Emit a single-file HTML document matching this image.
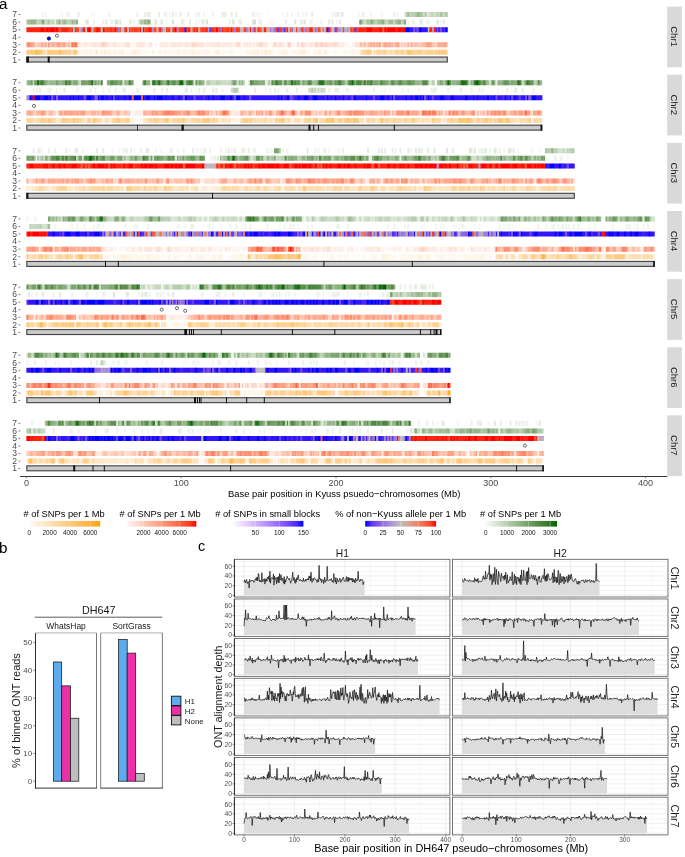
<!DOCTYPE html><html><head><meta charset="utf-8"><style>html,body{margin:0;padding:0;background:#fff;overflow:hidden;width:685px;height:857px;}svg{display:block;will-change:transform;}</style></head><body>
<svg width="685" height="857" viewBox="0 0 685 857" font-family='"Liberation Sans", sans-serif'>
<rect width="685" height="857" fill="#fff"/>
<defs>
<linearGradient id="gO"><stop offset="0.0" stop-color="#fffbf6"/><stop offset="0.1" stop-color="#fff2e1"/><stop offset="0.2" stop-color="#ffeacb"/><stop offset="0.3" stop-color="#ffe1b6"/><stop offset="0.4" stop-color="#ffd8a1"/><stop offset="0.5" stop-color="#ffcf8c"/><stop offset="0.6" stop-color="#ffc777"/><stop offset="0.7" stop-color="#ffbe61"/><stop offset="0.8" stop-color="#ffb64a"/><stop offset="0.9" stop-color="#ffad30"/><stop offset="1.0" stop-color="#ffa500"/></linearGradient>
<linearGradient id="gR"><stop offset="0.0" stop-color="#fff9f7"/><stop offset="0.1" stop-color="#ffe7de"/><stop offset="0.2" stop-color="#ffd4c5"/><stop offset="0.3" stop-color="#ffc1ad"/><stop offset="0.4" stop-color="#ffae95"/><stop offset="0.5" stop-color="#ff9b7e"/><stop offset="0.6" stop-color="#ff8767"/><stop offset="0.7" stop-color="#ff7150"/><stop offset="0.8" stop-color="#ff5939"/><stop offset="0.9" stop-color="#ff3d21"/><stop offset="1.0" stop-color="#ff0000"/></linearGradient>
<linearGradient id="gB"><stop offset="0.0" stop-color="#fcfaff"/><stop offset="0.1" stop-color="#efe3ff"/><stop offset="0.2" stop-color="#e1ccff"/><stop offset="0.3" stop-color="#d2b6ff"/><stop offset="0.4" stop-color="#c29fff"/><stop offset="0.5" stop-color="#b189ff"/><stop offset="0.6" stop-color="#9e73ff"/><stop offset="0.7" stop-color="#895cff"/><stop offset="0.8" stop-color="#7044ff"/><stop offset="0.9" stop-color="#4f2aff"/><stop offset="1.0" stop-color="#0000ff"/></linearGradient>
<linearGradient id="gD"><stop offset="0.0" stop-color="#0000ff"/><stop offset="0.1" stop-color="#6139f3"/><stop offset="0.2" stop-color="#855de7"/><stop offset="0.3" stop-color="#9e7eda"/><stop offset="0.4" stop-color="#b09ecd"/><stop offset="0.5" stop-color="#bebebe"/><stop offset="0.6" stop-color="#d7a699"/><stop offset="0.7" stop-color="#e78d76"/><stop offset="0.8" stop-color="#f37053"/><stop offset="0.9" stop-color="#fa4d2f"/><stop offset="1.0" stop-color="#ff0000"/></linearGradient>
<linearGradient id="gG"><stop offset="0.0" stop-color="#fafcfa"/><stop offset="0.1" stop-color="#e3ece0"/><stop offset="0.2" stop-color="#ccdcc6"/><stop offset="0.3" stop-color="#b6cdad"/><stop offset="0.4" stop-color="#9fbe95"/><stop offset="0.5" stop-color="#89ae7d"/><stop offset="0.6" stop-color="#739f66"/><stop offset="0.7" stop-color="#5c904e"/><stop offset="0.8" stop-color="#458137"/><stop offset="0.9" stop-color="#2b731f"/><stop offset="1.0" stop-color="#006400"/></linearGradient>
</defs>
<text x="23.5" y="517.4" font-size="9.3" fill="#000"># of SNPs per 1 Mb</text>
<rect x="29.2" y="520.9" width="71.00" height="5.7" fill="url(#gO)"/>
<line x1="49.6" x2="49.6" y1="520.9" y2="526.6" stroke="#fff" stroke-opacity="0.55" stroke-width="0.5"/>
<line x1="70.0" x2="70.0" y1="520.9" y2="526.6" stroke="#fff" stroke-opacity="0.55" stroke-width="0.5"/>
<line x1="90.3" x2="90.3" y1="520.9" y2="526.6" stroke="#fff" stroke-opacity="0.55" stroke-width="0.5"/>
<text x="29.2" y="534.6" font-size="6.4" text-anchor="middle" fill="#111">0</text>
<text x="49.6" y="534.6" font-size="6.4" text-anchor="middle" fill="#111">2000</text>
<text x="70.0" y="534.6" font-size="6.4" text-anchor="middle" fill="#111">4000</text>
<text x="90.3" y="534.6" font-size="6.4" text-anchor="middle" fill="#111">6000</text>
<text x="119.5" y="517.4" font-size="9.3" fill="#000"># of SNPs per 1 Mb</text>
<rect x="126.1" y="520.9" width="70.20" height="5.7" fill="url(#gR)"/>
<line x1="143.5" x2="143.5" y1="520.9" y2="526.6" stroke="#fff" stroke-opacity="0.55" stroke-width="0.5"/>
<line x1="161.6" x2="161.6" y1="520.9" y2="526.6" stroke="#fff" stroke-opacity="0.55" stroke-width="0.5"/>
<line x1="179.7" x2="179.7" y1="520.9" y2="526.6" stroke="#fff" stroke-opacity="0.55" stroke-width="0.5"/>
<text x="143.5" y="534.6" font-size="6.4" text-anchor="middle" fill="#111">2000</text>
<text x="161.6" y="534.6" font-size="6.4" text-anchor="middle" fill="#111">4000</text>
<text x="179.7" y="534.6" font-size="6.4" text-anchor="middle" fill="#111">6000</text>
<text x="215.2" y="517.4" font-size="9.3" fill="#000"># of SNPs in small blocks</text>
<rect x="233.2" y="520.9" width="70.20" height="5.7" fill="url(#gB)"/>
<line x1="255.4" x2="255.4" y1="520.9" y2="526.6" stroke="#fff" stroke-opacity="0.55" stroke-width="0.5"/>
<line x1="279.3" x2="279.3" y1="520.9" y2="526.6" stroke="#fff" stroke-opacity="0.55" stroke-width="0.5"/>
<text x="255.4" y="534.6" font-size="6.4" text-anchor="middle" fill="#111">50</text>
<text x="279.3" y="534.6" font-size="6.4" text-anchor="middle" fill="#111">100</text>
<text x="303.4" y="534.6" font-size="6.4" text-anchor="middle" fill="#111">150</text>
<text x="335.2" y="517.4" font-size="9.3" fill="#000">% of non−Kyuss allele per 1 Mb</text>
<rect x="365.2" y="520.9" width="70.90" height="5.7" fill="url(#gD)"/>
<line x1="383.0" x2="383.0" y1="520.9" y2="526.6" stroke="#fff" stroke-opacity="0.55" stroke-width="0.5"/>
<line x1="400.6" x2="400.6" y1="520.9" y2="526.6" stroke="#fff" stroke-opacity="0.55" stroke-width="0.5"/>
<line x1="418.3" x2="418.3" y1="520.9" y2="526.6" stroke="#fff" stroke-opacity="0.55" stroke-width="0.5"/>
<text x="365.2" y="534.6" font-size="6.4" text-anchor="middle" fill="#111">0</text>
<text x="383.0" y="534.6" font-size="6.4" text-anchor="middle" fill="#111">25</text>
<text x="400.6" y="534.6" font-size="6.4" text-anchor="middle" fill="#111">50</text>
<text x="418.3" y="534.6" font-size="6.4" text-anchor="middle" fill="#111">75</text>
<text x="436.1" y="534.6" font-size="6.4" text-anchor="middle" fill="#111">100</text>
<text x="480.0" y="517.4" font-size="9.3" fill="#000"># of SNPs per 1 Mb</text>
<rect x="485.8" y="520.9" width="71.20" height="5.7" fill="url(#gG)"/>
<line x1="507.0" x2="507.0" y1="520.9" y2="526.6" stroke="#fff" stroke-opacity="0.55" stroke-width="0.5"/>
<line x1="528.5" x2="528.5" y1="520.9" y2="526.6" stroke="#fff" stroke-opacity="0.55" stroke-width="0.5"/>
<line x1="550.0" x2="550.0" y1="520.9" y2="526.6" stroke="#fff" stroke-opacity="0.55" stroke-width="0.5"/>
<text x="485.8" y="534.6" font-size="6.4" text-anchor="middle" fill="#111">0</text>
<text x="507.0" y="534.6" font-size="6.4" text-anchor="middle" fill="#111">1000</text>
<text x="528.5" y="534.6" font-size="6.4" text-anchor="middle" fill="#111">2000</text>
<text x="550.0" y="534.6" font-size="6.4" text-anchor="middle" fill="#111">3000</text>
<g id="pa">
<text x="-1" y="8.7" font-size="15.2" fill="#000">a</text>
<rect x="667.2" y="6.60" width="14.7" height="60.7" fill="#d9d9d9"/>
<text transform="translate(671.1 36.55) rotate(90)" font-size="9.5" text-anchor="middle" fill="#1a1a1a">Chr1</text>
<text x="17" y="62.70" font-size="8.6" text-anchor="end" fill="#4d4d4d">1</text>
<line x1="18.4" x2="20.4" y1="59.90" y2="59.90" stroke="#333" stroke-width="0.6"/>
<text x="17" y="55.14" font-size="8.6" text-anchor="end" fill="#4d4d4d">2</text>
<line x1="18.4" x2="20.4" y1="52.34" y2="52.34" stroke="#333" stroke-width="0.6"/>
<text x="17" y="47.58" font-size="8.6" text-anchor="end" fill="#4d4d4d">3</text>
<line x1="18.4" x2="20.4" y1="44.78" y2="44.78" stroke="#333" stroke-width="0.6"/>
<text x="17" y="40.02" font-size="8.6" text-anchor="end" fill="#4d4d4d">4</text>
<line x1="18.4" x2="20.4" y1="37.22" y2="37.22" stroke="#333" stroke-width="0.6"/>
<text x="17" y="32.46" font-size="8.6" text-anchor="end" fill="#4d4d4d">5</text>
<line x1="18.4" x2="20.4" y1="29.66" y2="29.66" stroke="#333" stroke-width="0.6"/>
<text x="17" y="24.90" font-size="8.6" text-anchor="end" fill="#4d4d4d">6</text>
<line x1="18.4" x2="20.4" y1="22.10" y2="22.10" stroke="#333" stroke-width="0.6"/>
<text x="17" y="17.34" font-size="8.6" text-anchor="end" fill="#4d4d4d">7</text>
<line x1="18.4" x2="20.4" y1="14.54" y2="14.54" stroke="#333" stroke-width="0.6"/>
<g transform="translate(26.4 14.54) scale(1.548 1)" stroke-width="5.0"><path stroke="#f3f7f2" d="M10 0h1.3M12 0h1.3M22 0h1.3M27 0h1.3M42 0h1.3M77 0h1.3M92 0h1.3M96 0h1.3M109 0h2.3M114 0h1.3M148 0h1.3M150 0h1.3M165 0h1.3M171 0h1.3M178 0h1.3M197 0h1.3M214 0h1.3M222 0h1.3M229 0h1.3"/><path stroke="#f9fbf8" d="M23 0h1.3M44 0h1.3M90 0h1.3M98 0h1.3M156 0h1.3M236 0h1.3"/><path stroke="#edf3eb" d="M26 0h1.3M53 0h1.3M71 0h1.3M76 0h1.3M111 0h1.3M120 0h1.3M126 0h1.3M168 0h1.3M175 0h1.3M180 0h1.3M199 0h2.3M204 0h1.3M237 0h1.3M239 0h1.3M272 0h0.158"/><path stroke="#e7efe4" d="M33 0h1.3M78 0h2.3M85 0h1.3M89 0h1.3M94 0h1.3M99 0h1.3M104 0h1.3M127 0h2.3M132 0h1.3M135 0h1.3M146 0h1.3M184 0h1.3M201 0h1.3M203 0h1.3M217 0h1.3M244 0h1.3"/><path stroke="#b9cfb1" d="M245 0h1.3M247 0h1.3M268 0h1.3M270 0h1.3"/><path stroke="#a2c098" d="M246 0h1.3M255 0h1.3M257 0h1.3M267 0h1.3"/><path stroke="#c5d7be" d="M248 0h1.3M261 0h1.3M266 0h1.3M269 0h1.3"/><path stroke="#b3cbab" d="M249 0h1.3"/><path stroke="#bfd3b7" d="M250 0h1.3M262 0h1.3M264 0h2.3"/><path stroke="#aec7a4" d="M251 0h1.3M271 0h1.158"/><path stroke="#9dbc92" d="M252 0h1.3"/><path stroke="#97b88c" d="M253 0h1.3"/><path stroke="#a8c39e" d="M254 0h1.3"/><path stroke="#d0dfca" d="M256 0h1.3"/><path stroke="#cadbc4" d="M258 0h1.3M260 0h1.3"/><path stroke="#dce7d7" d="M259 0h1.3"/><path stroke="#d6e3d1" d="M263 0h1.3"/></g>
<g transform="translate(26.4 22.10) scale(1.548 1)" stroke-width="5.0"><path stroke="#aec7a4" d="M0 0h1.3M19 0h2.3M30 0h2.3M73 0h2.3M224 0h1.3M226 0h1.3M243 0h1.3"/><path stroke="#a2c098" d="M1 0h1.3M220 0h1.3M228 0h1.3M234 0h3.3"/><path stroke="#9dbc92" d="M2 0h1.3M4 0h1.3M14 0h1.3M79 0h1.3"/><path stroke="#97b88c" d="M3 0h1.3M24 0h1.3M29 0h1.3M216 0h1.3M223 0h1.3M229 0h1.3M239 0h1.3M241 0h1.3"/><path stroke="#8bb07f" d="M5 0h1.3M21 0h1.3M222 0h1.3M230 0h1.3"/><path stroke="#b3cbab" d="M6 0h1.3M11 0h1.3M28 0h1.3M75 0h1.3M219 0h1.3M221 0h1.3M231 0h1.3M233 0h1.3"/><path stroke="#c5d7be" d="M7 0h1.3M26 0h1.3M237 0h1.3"/><path stroke="#b9cfb1" d="M8 0h2.3M13 0h1.3M217 0h1.3"/><path stroke="#80a873" d="M10 0h1.3M78 0h1.3"/><path stroke="#cadbc4" d="M12 0h1.3M22 0h1.3M232 0h1.3"/><path stroke="#d6e3d1" d="M15 0h1.3M57 0h1.3M83 0h1.3M94 0h1.3M116 0h1.3M133 0h1.3M146 0h2.3M179 0h1.3"/><path stroke="#bfd3b7" d="M16 0h2.3M27 0h1.3M225 0h1.3M242 0h1.3"/><path stroke="#e2ebde" d="M18 0h1.3M38 0h1.3M51 0h1.3M105 0h1.3M113 0h1.3M150 0h1.3M195 0h1.3M197 0h1.3M202 0h1.3M254 0h1.3M269 0h1.3"/><path stroke="#a8c39e" d="M23 0h1.3M25 0h1.3M77 0h1.3M227 0h1.3M238 0h1.3"/><path stroke="#91b486" d="M32 0h1.3M76 0h1.3M240 0h1.3"/><path stroke="#dce7d7" d="M39 0h1.3M60 0h1.3M72 0h1.3M87 0h1.3M100 0h1.3M173 0h1.3M177 0h1.3M265 0h1.3"/><path stroke="#edf3eb" d="M43 0h1.3M49 0h1.3M54 0h2.3M66 0h1.3M69 0h1.3M86 0h1.3M101 0h1.3M131 0h1.3M151 0h1.3M183 0h1.3M190 0h1.3M249 0h2.3M259 0h1.3"/><path stroke="#d0dfca" d="M58 0h1.3M218 0h1.3"/><path stroke="#e7efe4" d="M67 0h1.3M114 0h1.3M137 0h2.3M167 0h1.3M255 0h1.3"/><path stroke="#f3f7f2" d="M82 0h1.3M90 0h1.3M109 0h1.3M111 0h1.3M157 0h1.3M159 0h1.3M176 0h1.3M184 0h1.3M200 0h1.3M246 0h1.3M258 0h1.3M267 0h1.3"/><path stroke="#7aa46d" d="M215 0h1.3"/><path stroke="#86ac79" d="M244 0h1.3"/></g>
<g transform="translate(26.4 44.78) scale(1.548 1)" stroke-width="5.0"><path stroke="#ff9475" d="M0 0h1.3M12 0h1.3M259 0h1.3"/><path stroke="#ff8969" d="M1 0h1.3"/><path stroke="#ff9e81" d="M2 0h1.3M231 0h1.3M234 0h1.3M260 0h1.3M270 0h1.3"/><path stroke="#ffa387" d="M3 0h1.3M24 0h1.3M27 0h1.3M239 0h1.3M248 0h1.3M258 0h1.3M266 0h1.3"/><path stroke="#ffa88d" d="M4 0h1.3M9 0h1.3M17 0h1.3M21 0h1.3M232 0h1.3M238 0h1.3M240 0h1.3M261 0h1.3M269 0h1.3"/><path stroke="#ffbca6" d="M5 0h1.3M18 0h1.3M215 0h1.3M227 0h1.3M235 0h1.3M255 0h2.3M263 0h1.3"/><path stroke="#ffded2" d="M6 0h1.3M47 0h1.3M51 0h2.3M56 0h1.3M73 0h1.3M95 0h1.3M106 0h1.3M108 0h1.3M113 0h1.3M137 0h1.3M144 0h1.3M151 0h2.3M163 0h1.3M168 0h1.3M177 0h1.3M188 0h1.3M194 0h1.3M199 0h1.3M241 0h1.3M264 0h1.3"/><path stroke="#ffc1ac" d="M7 0h1.3M223 0h1.3M244 0h1.3M249 0h1.3M251 0h2.3"/><path stroke="#ffc6b2" d="M8 0h1.3M11 0h1.3M25 0h2.3M49 0h1.3M216 0h1.3M225 0h1.3M250 0h1.3M254 0h1.3M262 0h1.3"/><path stroke="#ffb299" d="M10 0h1.3M19 0h1.3M22 0h1.3M233 0h1.3M257 0h1.3M265 0h1.3"/><path stroke="#ffd4c5" d="M13 0h1.3M28 0h1.3M50 0h1.3M65 0h1.3M107 0h1.3M150 0h1.3M170 0h1.3M178 0h1.3M187 0h1.3M198 0h1.3M243 0h1.3M247 0h1.3"/><path stroke="#ff8e6f" d="M14 0h1.3"/><path stroke="#ffcfbf" d="M15 0h1.3M169 0h1.3M217 0h1.3M242 0h1.3"/><path stroke="#ffad93" d="M16 0h1.3M23 0h1.3M222 0h1.3M224 0h1.3M226 0h1.3M236 0h1.3M267 0h2.3"/><path stroke="#ff997b" d="M20 0h1.3M30 0h1.3M228 0h1.3"/><path stroke="#ff7958" d="M29 0h1.3"/><path stroke="#ff6d4c" d="M31 0h1.3"/><path stroke="#ff8464" d="M32 0h1.3"/><path stroke="#ffe2d8" d="M33 0h2.3M43 0h2.3M57 0h1.3M75 0h1.3M80 0h1.3M90 0h1.3M93 0h1.3M99 0h1.3M102 0h1.3M104 0h1.3M110 0h3.3M123 0h2.3M135 0h1.3M140 0h1.3M142 0h1.3M148 0h1.3M161 0h1.3M164 0h1.3M180 0h1.3M184 0h1.3M189 0h1.3M191 0h1.3M195 0h3.3M200 0h2.3M212 0h2.3M219 0h1.3"/><path stroke="#fff5f2" d="M35 0h1.3M62 0h1.3M68 0h1.3M70 0h1.3M83 0h1.3M91 0h1.3M115 0h1.3M129 0h1.3M145 0h1.3M157 0h2.3M171 0h2.3M176 0h1.3M185 0h1.3M202 0h1.3M205 0h3.3"/><path stroke="#fff1eb" d="M36 0h1.3M53 0h2.3M58 0h1.3M60 0h2.3M101 0h1.3M105 0h1.3M133 0h1.3M147 0h1.3M181 0h2.3M210 0h2.3M272 0h0.158"/><path stroke="#ffe7de" d="M37 0h2.3M42 0h1.3M45 0h1.3M63 0h2.3M66 0h1.3M71 0h2.3M79 0h1.3M88 0h1.3M94 0h1.3M97 0h2.3M103 0h1.3M118 0h1.3M120 0h3.3M126 0h1.3M128 0h1.3M130 0h1.3M149 0h1.3M153 0h2.3M159 0h1.3M162 0h1.3M165 0h1.3M179 0h1.3M183 0h1.3M214 0h1.3M229 0h1.3"/><path stroke="#ffece5" d="M39 0h3.3M46 0h1.3M55 0h1.3M59 0h1.3M74 0h1.3M76 0h1.3M78 0h1.3M86 0h2.3M89 0h1.3M92 0h1.3M96 0h1.3M100 0h1.3M114 0h1.3M116 0h2.3M119 0h1.3M125 0h1.3M127 0h1.3M131 0h2.3M134 0h1.3M138 0h1.3M141 0h1.3M143 0h1.3M146 0h1.3M155 0h1.3M166 0h1.3M174 0h1.3M203 0h2.3"/><path stroke="#ffd9cb" d="M48 0h1.3M109 0h1.3M136 0h1.3M160 0h1.3M175 0h1.3M186 0h1.3M192 0h2.3M245 0h1.3"/><path stroke="#fffaf8" d="M67 0h1.3M69 0h1.3M77 0h1.3M84 0h1.3M139 0h1.3M167 0h1.3M173 0h1.3"/><path stroke="#ffcab8" d="M190 0h1.3M220 0h1.3M237 0h1.3M253 0h1.3"/><path stroke="#ffb7a0" d="M218 0h1.3M221 0h1.3M230 0h1.3M246 0h1.3M271 0h1.158"/></g>
<g transform="translate(26.4 52.34) scale(1.548 1)" stroke-width="5.0"><path stroke="#ffca80" d="M0 0h1.3M8 0h1.3M20 0h1.3M22 0h2.3M30 0h3.3M222 0h1.3M248 0h1.3M253 0h1.3M269 0h2.3"/><path stroke="#ffc87b" d="M1 0h1.3M220 0h1.3M268 0h1.3"/><path stroke="#ffd191" d="M2 0h1.3M4 0h1.3M13 0h1.3M15 0h1.3M17 0h1.3M217 0h1.3M238 0h1.3M242 0h1.3M258 0h2.3M267 0h1.3M271 0h1.158"/><path stroke="#ffc46f" d="M3 0h1.3M27 0h1.3"/><path stroke="#ffc675" d="M5 0h1.3M14 0h1.3M16 0h1.3M247 0h1.3M266 0h1.3"/><path stroke="#ffb64c" d="M6 0h1.3"/><path stroke="#ffbf64" d="M7 0h1.3M9 0h1.3M21 0h1.3"/><path stroke="#ffd69c" d="M10 0h1.3M26 0h1.3M28 0h1.3M218 0h1.3M227 0h1.3M251 0h1.3M255 0h1.3M262 0h1.3M265 0h1.3"/><path stroke="#ffdaa7" d="M11 0h1.3M224 0h1.3"/><path stroke="#ffe6c2" d="M12 0h1.3M215 0h1.3"/><path stroke="#ffcd86" d="M18 0h2.3M221 0h1.3M231 0h1.3"/><path stroke="#ffd396" d="M24 0h1.3M228 0h1.3M230 0h1.3M243 0h1.3M245 0h1.3M250 0h1.3M252 0h1.3M257 0h1.3"/><path stroke="#ffcf8b" d="M25 0h1.3M219 0h1.3M226 0h1.3M239 0h1.3M249 0h1.3M254 0h1.3M260 0h2.3M264 0h1.3"/><path stroke="#ffdfb1" d="M29 0h1.3M236 0h1.3M244 0h1.3"/><path stroke="#fff6e9" d="M33 0h2.3M36 0h2.3M53 0h3.3M64 0h1.3M66 0h1.3M88 0h3.3M102 0h1.3M110 0h1.3M112 0h1.3M115 0h2.3M124 0h1.3M126 0h2.3M131 0h1.3M143 0h3.3M151 0h1.3M164 0h1.3M176 0h1.3M182 0h1.3M199 0h1.3M211 0h2.3"/><path stroke="#fff8ee" d="M35 0h1.3M42 0h2.3M67 0h1.3M75 0h3.3M85 0h1.3M92 0h3.3M96 0h1.3M99 0h1.3M104 0h2.3M121 0h1.3M128 0h1.3M130 0h1.3M133 0h1.3M141 0h1.3M158 0h2.3M168 0h1.3M170 0h1.3M172 0h1.3M174 0h2.3M187 0h1.3M191 0h1.3M194 0h1.3M204 0h4.3"/><path stroke="#fff3e3" d="M38 0h2.3M44 0h1.3M52 0h1.3M57 0h1.3M59 0h1.3M61 0h1.3M71 0h3.3M86 0h1.3M97 0h1.3M101 0h1.3M106 0h1.3M108 0h2.3M111 0h1.3M114 0h1.3M117 0h1.3M132 0h1.3M142 0h1.3M148 0h1.3M152 0h2.3M155 0h1.3M163 0h1.3M166 0h1.3M173 0h1.3M185 0h2.3M188 0h1.3M192 0h1.3M209 0h2.3"/><path stroke="#fff1de" d="M41 0h1.3M56 0h1.3M60 0h1.3M68 0h1.3M70 0h1.3M81 0h1.3M98 0h1.3M122 0h1.3M146 0h2.3M156 0h1.3M165 0h1.3M167 0h1.3"/><path stroke="#ffe8c7" d="M45 0h1.3"/><path stroke="#fffaf4" d="M46 0h1.3M51 0h1.3M74 0h1.3M79 0h1.3M82 0h1.3M84 0h1.3M91 0h1.3M95 0h1.3M100 0h1.3M103 0h1.3M120 0h1.3M129 0h1.3M136 0h3.3M140 0h1.3M150 0h1.3M161 0h1.3M171 0h1.3M180 0h1.3M184 0h1.3M197 0h2.3M200 0h2.3M203 0h1.3M208 0h1.3M213 0h2.3M272 0h0.158"/><path stroke="#fffdf9" d="M47 0h1.3M49 0h1.3M63 0h1.3M87 0h1.3M119 0h1.3M134 0h2.3M190 0h1.3"/><path stroke="#ffefd8" d="M48 0h1.3M62 0h1.3M107 0h1.3M123 0h1.3M149 0h1.3M157 0h1.3M177 0h2.3M189 0h1.3M193 0h1.3M223 0h1.3"/><path stroke="#ffecd2" d="M50 0h1.3M69 0h1.3M179 0h1.3"/><path stroke="#ffeacd" d="M154 0h1.3"/><path stroke="#ffe1b7" d="M216 0h1.3M225 0h1.3M233 0h2.3M237 0h1.3"/><path stroke="#ffdcac" d="M229 0h1.3M232 0h1.3M256 0h1.3"/><path stroke="#ffd8a1" d="M235 0h1.3M240 0h2.3M263 0h1.3"/><path stroke="#ffc26a" d="M246 0h1.3"/></g>
<g transform="translate(26.4 29.66) scale(1.548 1)" stroke-width="5.0"><path stroke="#fe240f" d="M0 0h9.3M11 0h2.3M14 0h1.3M18 0h1.3M20 0h1.3M22 0h5.3M29 0h1.3M31 0h1.3M36 0h2.3M41 0h1.3M46 0h2.3M54 0h1.3M64 0h1.3M80 0h1.3M86 0h1.3M90 0h1.3M95 0h1.3M100 0h1.3M104 0h2.3M110 0h1.3M119 0h2.3M123 0h1.3M126 0h1.3M149 0h1.3M153 0h2.3M161 0h1.3M168 0h1.3M174 0h1.3M183 0h2.3M204 0h1.3M214 0h6.3M223 0h5.3M229 0h1.3M232 0h1.3M238 0h2.3M242 0h1.3M260 0h2.3M263 0h1.3"/><path stroke="#ff0000" d="M9 0h2.3M13 0h1.3M15 0h3.3M19 0h1.3M39 0h2.3M45 0h1.3M49 0h1.3M57 0h1.3M73 0h1.3M75 0h1.3M79 0h1.3M96 0h1.3M116 0h1.3M122 0h1.3M132 0h1.3M144 0h1.3M147 0h1.3M220 0h3.3M228 0h1.3M231 0h1.3M233 0h5.3M240 0h2.3M243 0h2.3"/><path stroke="#f95738" d="M21 0h1.3M151 0h1.3M191 0h1.3M210 0h1.3M230 0h1.3"/><path stroke="#fd351c" d="M27 0h1.3M44 0h1.3M50 0h1.3M52 0h1.3M56 0h1.3M63 0h1.3M69 0h1.3M77 0h2.3M94 0h1.3M99 0h1.3M101 0h1.3M103 0h1.3M108 0h1.3M113 0h1.3M129 0h2.3M135 0h2.3M163 0h2.3M178 0h1.3M195 0h1.3M200 0h1.3M209 0h1.3M265 0h1.3"/><path stroke="#fc4226" d="M28 0h1.3M53 0h1.3M55 0h1.3M58 0h1.3M60 0h1.3M66 0h1.3M68 0h1.3M70 0h2.3M82 0h1.3M85 0h1.3M91 0h2.3M98 0h1.3M107 0h1.3M109 0h1.3M112 0h1.3M114 0h2.3M121 0h1.3M124 0h1.3M128 0h1.3M137 0h1.3M140 0h2.3M177 0h1.3M182 0h1.3M189 0h1.3M193 0h1.3M196 0h1.3M211 0h1.3"/><path stroke="#bebebe" d="M30 0h1.3M38 0h1.3M48 0h1.3M89 0h1.3M158 0h1.3M172 0h2.3M190 0h1.3M192 0h1.3M197 0h1.3M203 0h1.3M206 0h1.3"/><path stroke="#fa4d2f" d="M32 0h2.3M43 0h1.3M51 0h1.3M67 0h1.3M72 0h1.3M76 0h1.3M83 0h1.3M127 0h1.3M131 0h1.3M133 0h1.3M150 0h1.3M167 0h1.3M170 0h1.3M180 0h1.3M186 0h1.3M188 0h1.3M213 0h1.3"/><path stroke="#bbb6c2" d="M34 0h1.3M62 0h1.3M65 0h1.3M74 0h1.3M93 0h1.3M138 0h1.3M145 0h1.3M152 0h1.3M169 0h1.3"/><path stroke="#a78ed4" d="M35 0h1.3M81 0h1.3M159 0h1.3M181 0h1.3M187 0h1.3M202 0h1.3M207 0h1.3"/><path stroke="#ccb2ac" d="M42 0h1.3M139 0h1.3M175 0h1.3M208 0h1.3M259 0h1.3"/><path stroke="#9876de" d="M59 0h1.3M87 0h1.3M157 0h1.3M160 0h1.3M165 0h1.3M171 0h1.3"/><path stroke="#c5b8b5" d="M61 0h1.3M198 0h1.3"/><path stroke="#d1aca2" d="M84 0h1.3M88 0h1.3M106 0h1.3M111 0h1.3M143 0h1.3M148 0h1.3M155 0h1.3"/><path stroke="#a386d7" d="M97 0h1.3M142 0h1.3"/><path stroke="#3116fc" d="M102 0h1.3M194 0h1.3M247 0h3.3M253 0h1.3M255 0h4.3M266 0h1.3M268 0h1.3M270 0h1.3"/><path stroke="#ac96d0" d="M117 0h1.3M179 0h1.3M201 0h1.3M262 0h1.3"/><path stroke="#6c43f0" d="M118 0h1.3M199 0h1.3"/><path stroke="#926de1" d="M125 0h1.3"/><path stroke="#9e7eda" d="M134 0h1.3M146 0h1.3"/><path stroke="#d7a699" d="M156 0h1.3"/><path stroke="#6139f3" d="M162 0h1.3M166 0h1.3"/><path stroke="#b09ecd" d="M176 0h1.3M205 0h1.3"/><path stroke="#b7aec6" d="M185 0h1.3"/><path stroke="#552ff6" d="M212 0h1.3M264 0h1.3"/><path stroke="#0000ff" d="M245 0h2.3M254 0h1.3M271 0h1.158"/><path stroke="#855de7" d="M250 0h1.3"/><path stroke="#4624f9" d="M251 0h1.3M269 0h1.3"/><path stroke="#754ced" d="M252 0h1.3M267 0h1.3"/></g>
<rect x="26.80" y="57.05" width="420.50" height="4.95" fill="#cbcbcb" stroke="#474747" stroke-width="1.15"/>
<rect x="26.40" y="56.60" width="2.50" height="5.9" fill="#111"/>
<rect x="47.70" y="56.60" width="2.00" height="5.9" fill="#111"/>
<circle cx="48.9" cy="38.5" r="1.75" fill="#0a0aff" stroke="#10104a" stroke-width="0.6"/>
<circle cx="56.9" cy="35.7" r="1.55" fill="#fff" stroke="#222" stroke-width="0.65"/>
<rect x="667.2" y="74.73" width="14.7" height="60.7" fill="#d9d9d9"/>
<text transform="translate(671.1 104.68) rotate(90)" font-size="9.5" text-anchor="middle" fill="#1a1a1a">Chr2</text>
<text x="17" y="130.83" font-size="8.6" text-anchor="end" fill="#4d4d4d">1</text>
<line x1="18.4" x2="20.4" y1="128.03" y2="128.03" stroke="#333" stroke-width="0.6"/>
<text x="17" y="123.27" font-size="8.6" text-anchor="end" fill="#4d4d4d">2</text>
<line x1="18.4" x2="20.4" y1="120.47" y2="120.47" stroke="#333" stroke-width="0.6"/>
<text x="17" y="115.71" font-size="8.6" text-anchor="end" fill="#4d4d4d">3</text>
<line x1="18.4" x2="20.4" y1="112.91" y2="112.91" stroke="#333" stroke-width="0.6"/>
<text x="17" y="108.15" font-size="8.6" text-anchor="end" fill="#4d4d4d">4</text>
<line x1="18.4" x2="20.4" y1="105.35" y2="105.35" stroke="#333" stroke-width="0.6"/>
<text x="17" y="100.59" font-size="8.6" text-anchor="end" fill="#4d4d4d">5</text>
<line x1="18.4" x2="20.4" y1="97.79" y2="97.79" stroke="#333" stroke-width="0.6"/>
<text x="17" y="93.03" font-size="8.6" text-anchor="end" fill="#4d4d4d">6</text>
<line x1="18.4" x2="20.4" y1="90.23" y2="90.23" stroke="#333" stroke-width="0.6"/>
<text x="17" y="85.47" font-size="8.6" text-anchor="end" fill="#4d4d4d">7</text>
<line x1="18.4" x2="20.4" y1="82.67" y2="82.67" stroke="#333" stroke-width="0.6"/>
<g transform="translate(26.4 82.67) scale(1.548 1)" stroke-width="5.0"><path stroke="#a8c39e" d="M0 0h1.3M45 0h1.3M65 0h1.3M180 0h1.3M285 0h1.3M298 0h1.3M306 0h1.3"/><path stroke="#8bb07f" d="M1 0h2.3M20 0h1.3M23 0h1.3M53 0h1.3M59 0h1.3M63 0h1.3M92 0h1.3M96 0h1.3M101 0h1.3M139 0h1.3M150 0h1.3M152 0h1.3M197 0h1.3M200 0h1.3M207 0h1.3M219 0h1.3M224 0h1.3M233 0h1.3M238 0h1.3M252 0h1.3M275 0h1.3M279 0h1.3M316 0h1.3M327 0h1.3"/><path stroke="#6f9d62" d="M3 0h1.3M6 0h1.3M11 0h1.3M32 0h1.3M36 0h1.3M58 0h1.3M61 0h1.3M75 0h1.3M83 0h1.3M90 0h1.3M93 0h1.3M133 0h1.3M159 0h1.3M174 0h1.3M195 0h1.3M223 0h1.3M245 0h1.3M250 0h1.3M271 0h1.3M296 0h1.3M310 0h1.3"/><path stroke="#c5d7be" d="M4 0h1.3M47 0h1.3M120 0h1.3M122 0h1.3M124 0h2.3M128 0h1.3M130 0h1.3M140 0h1.3M286 0h1.3"/><path stroke="#75a167" d="M5 0h1.3M26 0h1.3M30 0h1.3M35 0h1.3M37 0h2.3M44 0h1.3M56 0h1.3M60 0h1.3M111 0h1.3M160 0h1.3M178 0h1.3M216 0h1.3M226 0h1.3M230 0h2.3M237 0h1.3M243 0h1.3M249 0h1.3M255 0h1.3M293 0h2.3M308 0h1.3M322 0h1.3"/><path stroke="#006400" d="M7 0h1.3M210 0h1.3M272 0h1.3M290 0h2.3"/><path stroke="#69995c" d="M8 0h1.3M67 0h1.3M84 0h1.3M94 0h1.3M146 0h1.3M163 0h1.3M166 0h1.3M170 0h1.3M172 0h1.3M192 0h1.3M196 0h1.3M235 0h1.3M248 0h1.3M311 0h1.3M326 0h1.3"/><path stroke="#397b2c" d="M9 0h1.3M323 0h1.3"/><path stroke="#4c863e" d="M10 0h1.3M48 0h1.3M104 0h1.3M109 0h1.3M173 0h1.3M211 0h1.3M215 0h1.3M324 0h1.3"/><path stroke="#86ac79" d="M12 0h1.3M24 0h1.3M31 0h1.3M39 0h1.3M46 0h1.3M78 0h1.3M87 0h2.3M107 0h1.3M147 0h1.3M149 0h1.3M151 0h1.3M169 0h1.3M179 0h1.3M193 0h1.3M212 0h1.3M244 0h1.3M270 0h1.3M287 0h1.3M305 0h1.3M315 0h1.3M331 0h1.3"/><path stroke="#97b88c" d="M13 0h1.3M15 0h3.3M21 0h2.3M64 0h1.3M156 0h1.3M186 0h1.3M253 0h1.3M277 0h1.3M288 0h1.3M297 0h1.3M304 0h1.3M332 0h1.204"/><path stroke="#a2c098" d="M14 0h1.3M29 0h1.3M132 0h1.3M184 0h2.3M187 0h1.3M234 0h1.3M254 0h1.3M259 0h1.3M266 0h1.3M274 0h1.3M302 0h1.3"/><path stroke="#9dbc92" d="M18 0h1.3M110 0h1.3M135 0h1.3M168 0h1.3M251 0h1.3M265 0h1.3M312 0h1.3M321 0h1.3"/><path stroke="#7aa46d" d="M19 0h1.3M28 0h1.3M112 0h1.3M134 0h1.3M148 0h1.3M176 0h1.3M181 0h1.3M194 0h1.3M217 0h1.3M225 0h1.3M242 0h1.3M267 0h1.3M300 0h1.3M307 0h1.3M313 0h1.3M319 0h1.3"/><path stroke="#407e32" d="M25 0h1.3M202 0h1.3M209 0h1.3M222 0h1.3M292 0h1.3"/><path stroke="#528a44" d="M27 0h1.3M95 0h1.3M98 0h1.3M182 0h1.3M208 0h1.3M213 0h1.3M241 0h1.3M256 0h2.3M295 0h1.3M330 0h1.3"/><path stroke="#b3cbab" d="M33 0h1.3M117 0h1.3M177 0h1.3"/><path stroke="#d0dfca" d="M34 0h1.3M119 0h1.3M127 0h1.3M129 0h1.3M263 0h1.3"/><path stroke="#639556" d="M40 0h1.3M54 0h1.3M57 0h1.3M162 0h1.3M167 0h1.3M203 0h1.3M221 0h1.3M228 0h1.3M246 0h1.3M301 0h1.3M325 0h1.3"/><path stroke="#5e9150" d="M41 0h1.3M145 0h1.3M158 0h1.3M164 0h1.3M175 0h1.3M188 0h1.3M199 0h1.3M240 0h1.3M247 0h1.3M258 0h1.3"/><path stroke="#1b6b12" d="M42 0h1.3M81 0h1.3"/><path stroke="#91b486" d="M43 0h1.3M77 0h1.3M79 0h1.3M89 0h1.3M113 0h2.3M137 0h1.3M198 0h1.3M205 0h1.3M227 0h1.3M276 0h1.3"/><path stroke="#80a873" d="M52 0h1.3M68 0h1.3M97 0h1.3M153 0h1.3M204 0h1.3M232 0h1.3M239 0h1.3M268 0h1.3M278 0h1.3M314 0h1.3"/><path stroke="#588d4a" d="M55 0h1.3M86 0h1.3M103 0h1.3M144 0h1.3M183 0h1.3M220 0h1.3M229 0h1.3M236 0h1.3M273 0h1.3M280 0h1.3M284 0h1.3M309 0h1.3"/><path stroke="#d6e3d1" d="M62 0h1.3M260 0h1.3M299 0h1.3"/><path stroke="#468238" d="M66 0h1.3M76 0h1.3M105 0h2.3M201 0h1.3M214 0h1.3M218 0h1.3"/><path stroke="#f9fbf8" d="M71 0h1.3M264 0h1.3"/><path stroke="#dce7d7" d="M80 0h1.3M108 0h1.3M261 0h1.3"/><path stroke="#2b7320" d="M82 0h1.3M85 0h1.3M317 0h1.3"/><path stroke="#327726" d="M91 0h1.3M161 0h1.3M189 0h1.3M191 0h1.3M289 0h1.3M318 0h1.3"/><path stroke="#106809" d="M99 0h2.3M281 0h1.3"/><path stroke="#aec7a4" d="M102 0h1.3M138 0h1.3M165 0h1.3M269 0h1.3M329 0h1.3"/><path stroke="#edf3eb" d="M115 0h1.3"/><path stroke="#bfd3b7" d="M116 0h1.3M118 0h1.3M328 0h1.3"/><path stroke="#cadbc4" d="M121 0h1.3M126 0h1.3M131 0h1.3M136 0h1.3M157 0h1.3M320 0h1.3"/><path stroke="#b9cfb1" d="M123 0h1.3M206 0h1.3M262 0h1.3"/><path stroke="#e7efe4" d="M143 0h1.3"/><path stroke="#e2ebde" d="M154 0h2.3M303 0h1.3"/><path stroke="#246f19" d="M171 0h1.3M190 0h1.3M282 0h2.3"/></g>
<g transform="translate(26.4 90.23) scale(1.548 1)" stroke-width="5.0"><path stroke="#edf3eb" d="M4 0h1.3M6 0h1.3M14 0h2.3M19 0h1.3M32 0h1.3M41 0h1.3M44 0h1.3M53 0h1.3M57 0h1.3M87 0h1.3M102 0h1.3M106 0h1.3M157 0h1.3M162 0h1.3M195 0h1.3M201 0h1.3M207 0h1.3M224 0h1.3M261 0h2.3M264 0h1.3M272 0h1.3M287 0h1.3M292 0h1.3M327 0h1.3"/><path stroke="#e7efe4" d="M8 0h1.3M24 0h1.3M62 0h2.3M71 0h1.3M82 0h1.3M90 0h1.3M103 0h1.3M111 0h1.3M114 0h1.3M120 0h1.3M122 0h1.3M147 0h1.3M160 0h1.3M168 0h1.3M174 0h1.3M199 0h2.3M263 0h1.3M280 0h1.3M310 0h1.3M315 0h2.3M320 0h1.3"/><path stroke="#f3f7f2" d="M13 0h1.3M33 0h1.3M49 0h1.3M73 0h1.3M109 0h1.3M115 0h1.3M126 0h1.3M154 0h1.3M196 0h1.3M206 0h1.3M214 0h1.3M231 0h1.3M242 0h1.3M246 0h1.3M253 0h1.3M294 0h1.3"/><path stroke="#f9fbf8" d="M21 0h1.3M54 0h1.3M60 0h1.3M176 0h1.3M204 0h1.3M229 0h1.3M234 0h1.3M243 0h1.3M304 0h1.3M313 0h1.3"/><path stroke="#d0dfca" d="M132 0h1.3M136 0h1.3M182 0h1.3M185 0h1.3M191 0h2.3"/><path stroke="#c5d7be" d="M133 0h1.3M186 0h1.3M190 0h1.3"/><path stroke="#b3cbab" d="M134 0h2.3"/><path stroke="#cadbc4" d="M183 0h1.3M188 0h1.3"/><path stroke="#b9cfb1" d="M184 0h1.3"/><path stroke="#dce7d7" d="M187 0h1.3"/><path stroke="#d6e3d1" d="M189 0h1.3"/></g>
<g transform="translate(26.4 112.91) scale(1.548 1)" stroke-width="5.0"><path stroke="#ffa387" d="M0 0h1.3M2 0h1.3M7 0h1.3M25 0h1.3M32 0h1.3M37 0h1.3M42 0h1.3M87 0h1.3M103 0h1.3M148 0h1.3M202 0h1.3M206 0h2.3M222 0h1.3M225 0h1.3M233 0h1.3M247 0h1.3M278 0h1.3M282 0h1.3M304 0h1.3M323 0h1.3M327 0h2.3"/><path stroke="#ffad93" d="M1 0h1.3M11 0h1.3M21 0h1.3M31 0h1.3M46 0h1.3M76 0h1.3M86 0h1.3M99 0h1.3M115 0h1.3M150 0h1.3M170 0h1.3M205 0h1.3M210 0h1.3M221 0h1.3M226 0h1.3M229 0h1.3M234 0h1.3M261 0h1.3M268 0h1.3M283 0h1.3M306 0h1.3M314 0h1.3"/><path stroke="#ffb299" d="M3 0h1.3M14 0h1.3M16 0h1.3M43 0h1.3M48 0h1.3M54 0h1.3M77 0h1.3M79 0h1.3M82 0h1.3M85 0h1.3M108 0h1.3M116 0h1.3M119 0h1.3M139 0h1.3M166 0h1.3M196 0h1.3M204 0h1.3M232 0h1.3M250 0h1.3M252 0h2.3M270 0h1.3M279 0h1.3M298 0h1.3M301 0h1.3M312 0h2.3M329 0h1.3M332 0h1.204"/><path stroke="#ffc1ac" d="M4 0h1.3M38 0h1.3M40 0h1.3M78 0h1.3M143 0h1.3M156 0h1.3M192 0h1.3M227 0h1.3M244 0h1.3M280 0h1.3M284 0h1.3"/><path stroke="#ffd4c5" d="M5 0h1.3M17 0h1.3M56 0h1.3M120 0h1.3M145 0h1.3M176 0h1.3M218 0h1.3M238 0h1.3M310 0h1.3"/><path stroke="#ffbca6" d="M6 0h1.3M8 0h1.3M15 0h1.3M55 0h1.3M66 0h1.3M100 0h1.3M106 0h2.3M140 0h1.3M146 0h1.3M151 0h1.3M158 0h1.3M169 0h1.3M174 0h1.3M187 0h1.3M230 0h1.3M248 0h1.3M267 0h1.3M285 0h2.3M293 0h1.3M299 0h1.3"/><path stroke="#ffa88d" d="M9 0h1.3M26 0h2.3M29 0h2.3M33 0h1.3M84 0h1.3M101 0h1.3M122 0h1.3M125 0h1.3M129 0h1.3M138 0h1.3M144 0h1.3M154 0h1.3M161 0h1.3M183 0h1.3M195 0h1.3M200 0h1.3M216 0h1.3M219 0h1.3M236 0h1.3M272 0h1.3M289 0h1.3M295 0h1.3M307 0h1.3M309 0h1.3M316 0h1.3M320 0h1.3"/><path stroke="#ff9475" d="M10 0h1.3M22 0h1.3M88 0h1.3M95 0h1.3M130 0h1.3M208 0h1.3M214 0h1.3M259 0h1.3M264 0h1.3M281 0h1.3M319 0h1.3"/><path stroke="#ffb7a0" d="M12 0h1.3M34 0h1.3M44 0h1.3M58 0h1.3M64 0h1.3M75 0h1.3M80 0h1.3M105 0h1.3M109 0h1.3M149 0h1.3M155 0h1.3M162 0h1.3M173 0h1.3M179 0h1.3M199 0h1.3M220 0h1.3M224 0h1.3M228 0h1.3M317 0h1.3M321 0h1.3"/><path stroke="#ffe2d8" d="M13 0h1.3M134 0h1.3M136 0h1.3M147 0h1.3M175 0h1.3M188 0h1.3M194 0h1.3M269 0h1.3M326 0h1.3"/><path stroke="#ffcfbf" d="M18 0h1.3M20 0h1.3M47 0h1.3M142 0h1.3M190 0h1.3M197 0h1.3M294 0h1.3M311 0h1.3"/><path stroke="#fff1eb" d="M19 0h1.3M72 0h1.3M133 0h1.3"/><path stroke="#ffc6b2" d="M23 0h1.3M41 0h1.3M45 0h1.3M57 0h1.3M63 0h1.3M124 0h1.3M159 0h1.3M178 0h1.3M189 0h1.3M198 0h1.3M203 0h1.3M274 0h1.3M325 0h1.3"/><path stroke="#ff9e81" d="M24 0h1.3M28 0h1.3M35 0h2.3M50 0h4.3M59 0h1.3M97 0h2.3M102 0h1.3M117 0h1.3M126 0h1.3M152 0h1.3M163 0h1.3M167 0h1.3M177 0h1.3M181 0h1.3M193 0h1.3M223 0h1.3M249 0h1.3M251 0h1.3M266 0h1.3M287 0h1.3M291 0h1.3M297 0h1.3M303 0h1.3M315 0h1.3M331 0h1.3"/><path stroke="#ffcab8" d="M39 0h1.3M60 0h1.3M62 0h1.3M123 0h1.3M141 0h1.3M168 0h1.3M184 0h1.3M186 0h1.3M237 0h1.3M265 0h1.3M271 0h1.3"/><path stroke="#ff8e6f" d="M49 0h1.3M89 0h1.3M110 0h1.3M114 0h1.3M180 0h1.3M212 0h1.3M215 0h1.3M217 0h1.3M239 0h1.3M242 0h1.3M245 0h1.3M273 0h1.3M277 0h1.3M300 0h1.3M330 0h1.3"/><path stroke="#ffd9cb" d="M61 0h1.3M65 0h1.3M118 0h1.3M121 0h1.3M153 0h1.3M185 0h1.3M191 0h1.3M296 0h1.3"/><path stroke="#fff5f2" d="M67 0h3.3M74 0h1.3"/><path stroke="#ffece5" d="M70 0h2.3M73 0h1.3M132 0h1.3M137 0h1.3M290 0h1.3"/><path stroke="#ff997b" d="M81 0h1.3M83 0h1.3M96 0h1.3M112 0h1.3M231 0h1.3M240 0h2.3M243 0h1.3M276 0h1.3M318 0h1.3M324 0h1.3"/><path stroke="#ff7958" d="M90 0h1.3M263 0h1.3"/><path stroke="#ff8464" d="M91 0h2.3M111 0h1.3M171 0h1.3M255 0h1.3M258 0h1.3M275 0h1.3M308 0h1.3"/><path stroke="#ff8969" d="M93 0h2.3M113 0h1.3M157 0h1.3M182 0h1.3M201 0h1.3M209 0h1.3M211 0h1.3M213 0h1.3M288 0h1.3M302 0h1.3M305 0h1.3"/><path stroke="#ff7e5e" d="M104 0h1.3M164 0h1.3M246 0h1.3M257 0h1.3M262 0h1.3"/><path stroke="#ff7352" d="M127 0h2.3"/><path stroke="#ffded2" d="M131 0h1.3M160 0h1.3M235 0h1.3M254 0h1.3M292 0h1.3"/><path stroke="#ffe7de" d="M135 0h1.3"/><path stroke="#ff6d4c" d="M165 0h1.3M256 0h1.3M260 0h1.3"/><path stroke="#ff5b3a" d="M172 0h1.3"/><path stroke="#ff6140" d="M322 0h1.3"/><path stroke="#fffaf8" d="M333 0h0.204"/></g>
<g transform="translate(26.4 120.47) scale(1.548 1)" stroke-width="5.0"><path stroke="#ffd396" d="M0 0h1.3M12 0h1.3M34 0h1.3M56 0h1.3M89 0h1.3M102 0h1.3M109 0h1.3M113 0h1.3M131 0h1.3M141 0h1.3M223 0h1.3M245 0h1.3M250 0h1.3M272 0h1.3M288 0h1.3M292 0h1.3M304 0h1.3M324 0h1.3"/><path stroke="#ffd69c" d="M1 0h2.3M8 0h1.3M15 0h1.3M22 0h1.3M31 0h1.3M35 0h1.3M45 0h1.3M52 0h1.3M57 0h1.3M88 0h1.3M97 0h1.3M118 0h1.3M139 0h1.3M145 0h1.3M210 0h1.3M221 0h1.3M228 0h1.3M239 0h1.3M248 0h1.3M263 0h1.3M283 0h1.3M287 0h1.3M298 0h1.3M323 0h1.3M329 0h1.3"/><path stroke="#ffdaa7" d="M3 0h1.3M13 0h1.3M28 0h1.3M47 0h1.3M61 0h2.3M78 0h1.3M87 0h1.3M96 0h1.3M107 0h1.3M147 0h1.3M173 0h1.3M175 0h1.3M183 0h1.3M189 0h2.3M219 0h1.3M238 0h1.3M243 0h1.3M246 0h1.3M251 0h1.3M265 0h1.3M271 0h1.3M273 0h1.3M277 0h1.3M300 0h1.3M303 0h1.3M308 0h1.3M314 0h1.3M318 0h2.3M321 0h1.3M331 0h2.204"/><path stroke="#ffdcac" d="M4 0h1.3M29 0h1.3M46 0h1.3M66 0h1.3M85 0h1.3M106 0h1.3M122 0h1.3M143 0h1.3M151 0h1.3M153 0h1.3M179 0h1.3M216 0h1.3M235 0h1.3M253 0h1.3M255 0h1.3M278 0h1.3M322 0h1.3M327 0h1.3M330 0h1.3"/><path stroke="#ffeacd" d="M5 0h1.3M54 0h1.3M76 0h1.3M178 0h1.3M242 0h1.3M260 0h1.3"/><path stroke="#ffdfb1" d="M6 0h1.3M17 0h1.3M41 0h1.3M51 0h1.3M63 0h1.3M81 0h1.3M94 0h1.3M99 0h1.3M127 0h1.3M146 0h1.3M148 0h2.3M157 0h2.3M160 0h1.3M162 0h1.3M168 0h1.3M176 0h1.3M184 0h1.3M192 0h1.3M199 0h1.3M217 0h1.3M222 0h1.3M227 0h1.3M231 0h1.3M234 0h1.3M236 0h1.3M240 0h1.3M256 0h1.3M259 0h1.3M267 0h1.3M290 0h1.3M293 0h1.3M312 0h2.3M320 0h1.3"/><path stroke="#ffd8a1" d="M7 0h1.3M11 0h1.3M18 0h1.3M26 0h1.3M33 0h1.3M55 0h1.3M60 0h1.3M79 0h2.3M108 0h1.3M110 0h1.3M121 0h1.3M123 0h1.3M138 0h1.3M154 0h1.3M166 0h1.3M169 0h1.3M180 0h1.3M185 0h1.3M191 0h1.3M198 0h1.3M220 0h1.3M224 0h1.3M230 0h1.3M233 0h1.3M241 0h1.3M264 0h1.3M266 0h1.3M276 0h1.3M295 0h1.3M328 0h1.3"/><path stroke="#ffcf8b" d="M9 0h1.3M32 0h1.3M83 0h1.3M98 0h1.3M100 0h2.3M140 0h1.3M161 0h1.3M182 0h1.3M201 0h3.3M208 0h1.3M214 0h1.3M274 0h1.3M281 0h1.3M309 0h1.3"/><path stroke="#ffca80" d="M10 0h1.3M14 0h1.3M114 0h1.3M117 0h1.3M120 0h1.3M205 0h1.3M249 0h1.3M286 0h1.3M291 0h1.3M325 0h1.3"/><path stroke="#ffd191" d="M16 0h1.3M24 0h2.3M27 0h1.3M39 0h1.3M44 0h1.3M64 0h1.3M82 0h1.3M84 0h1.3M95 0h1.3M111 0h1.3M164 0h1.3M181 0h1.3M206 0h1.3M209 0h1.3M232 0h1.3M237 0h1.3M244 0h1.3M275 0h1.3M294 0h1.3M299 0h1.3M302 0h1.3"/><path stroke="#ffe6c2" d="M19 0h1.3M37 0h1.3M50 0h1.3M75 0h1.3M77 0h1.3M103 0h1.3M105 0h1.3M156 0h1.3M172 0h1.3M215 0h1.3M257 0h1.3M261 0h1.3"/><path stroke="#ffefd8" d="M20 0h1.3M124 0h2.3M134 0h1.3M177 0h1.3M188 0h1.3"/><path stroke="#ffe1b7" d="M21 0h1.3M36 0h1.3M93 0h1.3M112 0h1.3M119 0h1.3M126 0h1.3M152 0h1.3M174 0h1.3M200 0h1.3M204 0h1.3M252 0h1.3M269 0h1.3M289 0h1.3M301 0h1.3M315 0h1.3"/><path stroke="#ffcd86" d="M23 0h1.3M40 0h1.3M65 0h1.3M115 0h1.3M142 0h1.3M144 0h1.3M163 0h1.3M193 0h1.3M195 0h2.3M213 0h1.3M262 0h1.3M297 0h1.3M307 0h1.3M311 0h1.3"/><path stroke="#ffc26a" d="M30 0h1.3M187 0h1.3M207 0h1.3M285 0h1.3M310 0h1.3"/><path stroke="#ffecd2" d="M38 0h1.3M159 0h1.3M270 0h1.3M317 0h1.3"/><path stroke="#ffe3bc" d="M42 0h1.3M48 0h1.3M86 0h1.3M104 0h1.3M150 0h1.3M155 0h1.3M167 0h1.3M170 0h1.3M225 0h1.3M247 0h1.3M258 0h1.3M316 0h1.3"/><path stroke="#ffc87b" d="M43 0h1.3M58 0h1.3M90 0h2.3M116 0h1.3M186 0h1.3M306 0h1.3"/><path stroke="#fff1de" d="M49 0h1.3M53 0h1.3M68 0h1.3M268 0h1.3"/><path stroke="#ffc675" d="M59 0h1.3M211 0h2.3M296 0h1.3M305 0h1.3"/><path stroke="#fff6e9" d="M67 0h1.3M69 0h1.3M73 0h1.3M135 0h3.3M326 0h1.3"/><path stroke="#fff8ee" d="M70 0h1.3M218 0h1.3"/><path stroke="#fffaf4" d="M71 0h2.3"/><path stroke="#fffdf9" d="M74 0h1.3M132 0h1.3M333 0h0.204"/><path stroke="#ffe8c7" d="M92 0h1.3M128 0h3.3M226 0h1.3M254 0h1.3"/><path stroke="#fff3e3" d="M133 0h1.3M171 0h1.3"/><path stroke="#ffc46f" d="M165 0h1.3M194 0h1.3M229 0h1.3M279 0h2.3M282 0h1.3M284 0h1.3"/><path stroke="#ffbf64" d="M197 0h1.3"/></g>
<g transform="translate(26.4 97.79) scale(1.548 1)" stroke-width="5.0"><path stroke="#a386d7" d="M0 0h1.3"/><path stroke="#a78ed4" d="M1 0h1.3"/><path stroke="#0000ff" d="M2 0h1.3M5 0h4.3M11 0h3.3M15 0h1.3M18 0h1.3M28 0h1.3M30 0h1.3M33 0h1.3M39 0h3.3M46 0h1.3M48 0h2.3M51 0h1.3M55 0h1.3M57 0h1.3M59 0h1.3M63 0h1.3M66 0h2.3M69 0h5.3M75 0h1.3M77 0h3.3M82 0h1.3M84 0h4.3M90 0h1.3M94 0h1.3M98 0h1.3M102 0h2.3M117 0h1.3M120 0h1.3M125 0h3.3M131 0h2.3M135 0h3.3M140 0h1.3M162 0h1.3M164 0h1.3M168 0h2.3M175 0h1.3M179 0h3.3M185 0h3.3M194 0h1.3M199 0h1.3M204 0h1.3M211 0h2.3M219 0h1.3M228 0h3.3M233 0h1.3M236 0h1.3M238 0h1.3M245 0h1.3M248 0h1.3M251 0h2.3M254 0h1.3M256 0h1.3M259 0h1.3M267 0h3.3M274 0h2.3M283 0h2.3M288 0h1.3M291 0h1.3M297 0h2.3M302 0h1.3M309 0h1.3M312 0h1.3M315 0h1.3M321 0h1.3M323 0h1.3M326 0h3.3M333 0h0.204"/><path stroke="#3116fc" d="M3 0h1.3M9 0h2.3M14 0h1.3M17 0h1.3M20 0h8.3M29 0h1.3M31 0h2.3M34 0h3.3M38 0h1.3M42 0h2.3M47 0h1.3M50 0h1.3M52 0h3.3M58 0h1.3M60 0h3.3M64 0h2.3M76 0h1.3M80 0h2.3M83 0h1.3M88 0h2.3M91 0h3.3M95 0h1.3M97 0h1.3M99 0h2.3M104 0h4.3M109 0h5.3M115 0h2.3M118 0h2.3M121 0h4.3M128 0h3.3M133 0h1.3M138 0h2.3M141 0h3.3M145 0h17.3M163 0h1.3M165 0h1.3M167 0h1.3M173 0h2.3M176 0h3.3M182 0h1.3M184 0h1.3M188 0h5.3M195 0h4.3M200 0h4.3M205 0h1.3M207 0h2.3M213 0h6.3M220 0h4.3M225 0h3.3M231 0h2.3M234 0h1.3M239 0h6.3M246 0h2.3M249 0h2.3M253 0h1.3M255 0h1.3M258 0h1.3M260 0h2.3M263 0h4.3M270 0h2.3M273 0h1.3M276 0h7.3M285 0h3.3M289 0h2.3M292 0h5.3M299 0h3.3M304 0h3.3M308 0h1.3M310 0h1.3M314 0h1.3M316 0h2.3M319 0h2.3M329 0h4.204"/><path stroke="#ff0000" d="M4 0h1.3"/><path stroke="#7d54ea" d="M16 0h1.3M45 0h1.3M101 0h1.3M134 0h1.3M144 0h1.3M237 0h1.3M257 0h1.3M325 0h1.3"/><path stroke="#855de7" d="M19 0h1.3M44 0h1.3"/><path stroke="#754ced" d="M37 0h1.3M56 0h1.3M170 0h2.3M303 0h1.3M322 0h1.3M324 0h1.3"/><path stroke="#f76041" d="M68 0h1.3M74 0h1.3"/><path stroke="#4624f9" d="M96 0h1.3M114 0h1.3M166 0h1.3M172 0h1.3M183 0h1.3M193 0h1.3M206 0h1.3M209 0h1.3M235 0h1.3M272 0h1.3M307 0h1.3M311 0h1.3"/><path stroke="#6c43f0" d="M108 0h1.3M210 0h1.3M224 0h1.3M262 0h1.3M313 0h1.3"/><path stroke="#6139f3" d="M318 0h1.3"/></g>
<rect x="26.80" y="125.18" width="515.00" height="4.95" fill="#cbcbcb" stroke="#474747" stroke-width="1.15"/>
<rect x="137.00" y="124.73" width="0.80" height="5.9" fill="#111"/>
<rect x="181.50" y="124.73" width="2.30" height="5.9" fill="#111"/>
<rect x="308.50" y="124.73" width="2.00" height="5.9" fill="#111"/>
<rect x="313.20" y="124.73" width="1.00" height="5.9" fill="#111"/>
<rect x="318.00" y="124.73" width="1.00" height="5.9" fill="#111"/>
<rect x="393.80" y="124.73" width="1.00" height="5.9" fill="#111"/>
<rect x="540.50" y="124.73" width="1.70" height="5.9" fill="#111"/>
<circle cx="34" cy="105.9" r="1.55" fill="#fff" stroke="#222" stroke-width="0.65"/>
<rect x="667.2" y="142.86" width="14.7" height="60.7" fill="#d9d9d9"/>
<text transform="translate(671.1 172.81) rotate(90)" font-size="9.5" text-anchor="middle" fill="#1a1a1a">Chr3</text>
<text x="17" y="198.96" font-size="8.6" text-anchor="end" fill="#4d4d4d">1</text>
<line x1="18.4" x2="20.4" y1="196.16" y2="196.16" stroke="#333" stroke-width="0.6"/>
<text x="17" y="191.40" font-size="8.6" text-anchor="end" fill="#4d4d4d">2</text>
<line x1="18.4" x2="20.4" y1="188.60" y2="188.60" stroke="#333" stroke-width="0.6"/>
<text x="17" y="183.84" font-size="8.6" text-anchor="end" fill="#4d4d4d">3</text>
<line x1="18.4" x2="20.4" y1="181.04" y2="181.04" stroke="#333" stroke-width="0.6"/>
<text x="17" y="176.28" font-size="8.6" text-anchor="end" fill="#4d4d4d">4</text>
<line x1="18.4" x2="20.4" y1="173.48" y2="173.48" stroke="#333" stroke-width="0.6"/>
<text x="17" y="168.72" font-size="8.6" text-anchor="end" fill="#4d4d4d">5</text>
<line x1="18.4" x2="20.4" y1="165.92" y2="165.92" stroke="#333" stroke-width="0.6"/>
<text x="17" y="161.16" font-size="8.6" text-anchor="end" fill="#4d4d4d">6</text>
<line x1="18.4" x2="20.4" y1="158.36" y2="158.36" stroke="#333" stroke-width="0.6"/>
<text x="17" y="153.60" font-size="8.6" text-anchor="end" fill="#4d4d4d">7</text>
<line x1="18.4" x2="20.4" y1="150.80" y2="150.80" stroke="#333" stroke-width="0.6"/>
<g transform="translate(26.4 150.80) scale(1.548 1)" stroke-width="5.0"><path stroke="#f9fbf8" d="M3 0h1.3M10 0h1.3M138 0h1.3M258 0h1.3"/><path stroke="#e7efe4" d="M4 0h1.3M18 0h1.3M25 0h1.3M31 0h1.3M45 0h1.3M67 0h1.3M77 0h1.3M107 0h1.3M114 0h1.3M139 0h2.3M143 0h1.3M204 0h1.3M231 0h1.3M236 0h1.3M241 0h1.3M254 0h1.3M294 0h1.3"/><path stroke="#edf3eb" d="M7 0h1.3M14 0h1.3M62 0h1.3M73 0h1.3M101 0h1.3M115 0h1.3M118 0h1.3M125 0h1.3M132 0h1.3M147 0h1.3M155 0h1.3M165 0h1.3M168 0h1.3M186 0h1.3M238 0h1.3M255 0h1.3M292 0h2.3M299 0h1.3M303 0h1.3M305 0h1.3"/><path stroke="#e2ebde" d="M8 0h1.3M32 0h1.3M49 0h1.3M64 0h1.3M78 0h1.3M93 0h1.3M130 0h1.3M134 0h1.3M181 0h1.3M192 0h1.3M220 0h1.3M227 0h1.3M229 0h1.3M246 0h1.3M251 0h1.3M253 0h1.3M259 0h1.3M263 0h1.3M275 0h1.3M287 0h1.3M311 0h1.3M314 0h1.3"/><path stroke="#f3f7f2" d="M27 0h1.3M36 0h1.3M55 0h1.3M59 0h1.3M69 0h1.3M74 0h1.3M83 0h1.3M86 0h1.3M97 0h1.3M109 0h2.3M112 0h1.3M128 0h1.3M146 0h1.3M157 0h2.3M188 0h1.3M195 0h1.3M201 0h1.3M247 0h2.3M295 0h1.3M308 0h1.3M317 0h1.3M326 0h1.3M331 0h1.3"/><path stroke="#75a167" d="M160 0h2.3"/><path stroke="#80a873" d="M162 0h1.3"/><path stroke="#a8c39e" d="M163 0h1.3M335 0h1.3"/><path stroke="#dce7d7" d="M271 0h1.3M286 0h1.3M289 0h1.3M296 0h1.3M302 0h1.3M312 0h1.3"/><path stroke="#b9cfb1" d="M336 0h1.3M349 0h1.3"/><path stroke="#aec7a4" d="M337 0h1.3M340 0h1.3"/><path stroke="#bfd3b7" d="M338 0h1.3M341 0h1.3M351 0h1.3M353 0h1.199"/><path stroke="#91b486" d="M339 0h1.3"/><path stroke="#b3cbab" d="M342 0h1.3M352 0h1.3"/><path stroke="#d0dfca" d="M343 0h1.3M347 0h1.3"/><path stroke="#d6e3d1" d="M344 0h2.3M348 0h1.3"/><path stroke="#cadbc4" d="M346 0h1.3"/><path stroke="#c5d7be" d="M350 0h1.3"/></g>
<g transform="translate(26.4 158.36) scale(1.548 1)" stroke-width="5.0"><path stroke="#75a167" d="M0 0h1.3M22 0h1.3M35 0h1.3M67 0h1.3M82 0h1.3M85 0h1.3M150 0h1.3M213 0h2.3M220 0h1.3M257 0h1.3M267 0h1.3M273 0h2.3M276 0h1.3M297 0h1.3M317 0h1.3"/><path stroke="#6f9d62" d="M1 0h1.3M3 0h2.3M18 0h1.3M30 0h1.3M54 0h1.3M60 0h1.3M97 0h1.3M107 0h1.3M114 0h1.3M141 0h1.3M171 0h1.3M181 0h1.3M193 0h1.3M205 0h1.3M216 0h1.3M227 0h1.3M260 0h1.3M275 0h1.3M323 0h1.3M332 0h1.3"/><path stroke="#86ac79" d="M2 0h1.3M21 0h1.3M24 0h1.3M33 0h1.3M56 0h1.3M61 0h1.3M90 0h1.3M93 0h1.3M95 0h1.3M104 0h1.3M111 0h1.3M132 0h1.3M138 0h1.3M182 0h1.3M194 0h1.3M200 0h2.3M208 0h1.3M223 0h2.3M245 0h1.3M266 0h1.3M320 0h1.3M325 0h1.3"/><path stroke="#a8c39e" d="M5 0h1.3M66 0h1.3M166 0h1.3M177 0h1.3M234 0h2.3M258 0h1.3M300 0h1.3M327 0h1.3M331 0h1.3"/><path stroke="#edf3eb" d="M6 0h1.3M119 0h1.3M354 0h0.199"/><path stroke="#9dbc92" d="M7 0h1.3M10 0h1.3M58 0h1.3M68 0h1.3M100 0h1.3M125 0h1.3M127 0h1.3M186 0h1.3M191 0h1.3M236 0h1.3M243 0h1.3M255 0h1.3"/><path stroke="#d6e3d1" d="M8 0h1.3M14 0h1.3M81 0h1.3M144 0h2.3"/><path stroke="#aec7a4" d="M9 0h1.3M98 0h1.3M159 0h1.3M180 0h1.3M188 0h1.3M272 0h1.3M307 0h1.3M311 0h1.3M329 0h1.3"/><path stroke="#d0dfca" d="M11 0h1.3M287 0h3.3"/><path stroke="#80a873" d="M12 0h1.3M47 0h1.3M87 0h2.3M105 0h1.3M135 0h1.3M203 0h1.3M219 0h1.3M233 0h1.3M252 0h1.3M256 0h1.3M286 0h1.3"/><path stroke="#97b88c" d="M13 0h1.3M44 0h1.3M53 0h1.3M71 0h2.3M89 0h1.3M137 0h1.3M151 0h1.3M185 0h1.3M187 0h1.3M212 0h1.3M231 0h2.3M240 0h1.3M246 0h1.3M248 0h2.3M264 0h1.3M301 0h1.3M303 0h2.3M309 0h1.3M312 0h1.3"/><path stroke="#8bb07f" d="M15 0h1.3M46 0h1.3M129 0h1.3M131 0h1.3M139 0h1.3M174 0h1.3M190 0h1.3M196 0h1.3M199 0h1.3M239 0h1.3M271 0h1.3M279 0h1.3M281 0h1.3M284 0h1.3M328 0h1.3"/><path stroke="#69995c" d="M16 0h1.3M28 0h1.3M39 0h1.3M48 0h1.3M55 0h1.3M78 0h1.3M80 0h1.3M91 0h1.3M101 0h1.3M108 0h1.3M113 0h1.3M148 0h2.3M184 0h1.3M195 0h1.3M206 0h1.3M244 0h1.3M251 0h1.3M334 0h1.3"/><path stroke="#5e9150" d="M17 0h1.3M26 0h1.3M43 0h1.3M92 0h1.3M94 0h1.3M112 0h1.3M142 0h1.3M210 0h1.3M225 0h1.3M254 0h1.3M285 0h1.3"/><path stroke="#4c863e" d="M19 0h1.3M25 0h1.3M42 0h1.3M226 0h1.3M278 0h1.3"/><path stroke="#468238" d="M20 0h1.3M45 0h1.3M253 0h1.3"/><path stroke="#528a44" d="M23 0h1.3M38 0h1.3M130 0h1.3M268 0h1.3M306 0h1.3M322 0h1.3"/><path stroke="#7aa46d" d="M27 0h1.3M34 0h1.3M59 0h1.3M83 0h1.3M86 0h1.3M103 0h1.3M140 0h1.3M152 0h1.3M160 0h1.3M169 0h1.3M183 0h1.3M192 0h1.3M207 0h1.3M217 0h1.3M228 0h2.3M238 0h1.3M250 0h1.3M270 0h1.3M315 0h1.3M318 0h1.3M333 0h1.3"/><path stroke="#588d4a" d="M29 0h1.3M49 0h1.3M134 0h1.3M167 0h1.3M189 0h1.3M211 0h1.3M314 0h1.3M319 0h1.3"/><path stroke="#327726" d="M31 0h1.3"/><path stroke="#cadbc4" d="M32 0h1.3M64 0h1.3M161 0h1.3M265 0h1.3M290 0h1.3M292 0h2.3"/><path stroke="#e2ebde" d="M36 0h1.3M221 0h1.3"/><path stroke="#639556" d="M37 0h1.3M50 0h1.3M70 0h1.3M76 0h2.3M84 0h1.3M106 0h1.3M209 0h1.3M277 0h1.3"/><path stroke="#397b2c" d="M40 0h1.3"/><path stroke="#006400" d="M41 0h1.3M133 0h1.3"/><path stroke="#a2c098" d="M51 0h1.3M57 0h1.3M63 0h1.3M73 0h1.3M102 0h1.3M110 0h1.3M128 0h1.3M136 0h1.3M156 0h1.3M158 0h1.3M168 0h1.3M198 0h1.3M202 0h1.3M218 0h1.3M230 0h1.3M237 0h1.3M247 0h1.3M282 0h1.3M295 0h2.3M302 0h1.3M313 0h1.3M316 0h1.3"/><path stroke="#91b486" d="M52 0h1.3M69 0h1.3M99 0h1.3M109 0h1.3M143 0h1.3M155 0h1.3M170 0h1.3M172 0h2.3M178 0h2.3M204 0h1.3M242 0h1.3M259 0h1.3M283 0h1.3M298 0h2.3M305 0h1.3M308 0h1.3M321 0h1.3M324 0h1.3M330 0h1.3"/><path stroke="#b3cbab" d="M62 0h1.3M74 0h1.3M147 0h1.3M280 0h1.3M291 0h1.3M310 0h1.3"/><path stroke="#bfd3b7" d="M65 0h1.3M79 0h1.3M162 0h1.3M175 0h1.3M197 0h1.3M263 0h1.3M326 0h1.3"/><path stroke="#407e32" d="M75 0h1.3M215 0h1.3M269 0h1.3"/><path stroke="#dce7d7" d="M96 0h1.3M123 0h1.3"/><path stroke="#e7efe4" d="M121 0h1.3M222 0h1.3M241 0h1.3M341 0h1.3M345 0h1.3"/><path stroke="#b9cfb1" d="M126 0h1.3M157 0h1.3M164 0h2.3M176 0h1.3M261 0h2.3M294 0h1.3"/><path stroke="#c5d7be" d="M146 0h1.3M153 0h2.3M163 0h1.3"/><path stroke="#f3f7f2" d="M335 0h1.3M349 0h1.3"/></g>
<g transform="translate(26.4 181.04) scale(1.548 1)" stroke-width="5.0"><path stroke="#ffad93" d="M0 0h1.3M16 0h1.3M20 0h1.3M25 0h1.3M27 0h1.3M39 0h1.3M68 0h1.3M71 0h2.3M108 0h1.3M126 0h1.3M134 0h1.3M143 0h1.3M157 0h1.3M167 0h1.3M199 0h1.3M226 0h1.3M231 0h1.3M233 0h1.3M238 0h1.3M269 0h1.3M311 0h1.3M317 0h1.3M338 0h1.3M346 0h1.3M350 0h1.3"/><path stroke="#ffcfbf" d="M1 0h1.3M47 0h1.3M110 0h1.3M212 0h2.3M228 0h1.3M258 0h1.3M260 0h1.3M285 0h1.3M344 0h1.3M351 0h1.3"/><path stroke="#ffe2d8" d="M2 0h1.3M88 0h1.3M92 0h1.3M94 0h1.3M114 0h1.3M119 0h1.3M140 0h1.3"/><path stroke="#ffd4c5" d="M3 0h1.3M78 0h1.3M101 0h1.3M116 0h1.3M120 0h1.3M136 0h1.3M141 0h1.3M165 0h1.3M214 0h1.3M218 0h1.3M247 0h1.3M257 0h1.3M300 0h1.3M307 0h1.3"/><path stroke="#ffc6b2" d="M4 0h2.3M7 0h1.3M13 0h1.3M28 0h1.3M30 0h1.3M46 0h1.3M48 0h1.3M93 0h1.3M95 0h2.3M105 0h1.3M133 0h1.3M152 0h1.3M163 0h1.3M196 0h1.3M205 0h1.3M237 0h1.3M255 0h1.3M265 0h1.3M292 0h1.3M301 0h1.3M327 0h1.3"/><path stroke="#ffa387" d="M6 0h1.3M26 0h1.3M40 0h1.3M42 0h1.3M52 0h1.3M66 0h1.3M189 0h1.3M206 0h1.3M216 0h1.3M224 0h1.3M236 0h1.3M239 0h2.3M263 0h1.3M270 0h1.3M273 0h1.3M282 0h1.3M303 0h1.3M306 0h1.3M313 0h1.3M316 0h1.3M342 0h1.3M348 0h1.3M352 0h1.3"/><path stroke="#ffb7a0" d="M8 0h1.3M49 0h1.3M53 0h2.3M67 0h1.3M85 0h1.3M129 0h1.3M139 0h1.3M154 0h1.3M173 0h1.3M177 0h1.3M190 0h1.3M227 0h1.3M234 0h1.3M249 0h1.3M252 0h1.3M261 0h2.3M286 0h1.3M309 0h2.3M333 0h1.3M335 0h1.3M337 0h1.3"/><path stroke="#ffb299" d="M9 0h1.3M11 0h1.3M15 0h1.3M18 0h2.3M21 0h2.3M32 0h1.3M38 0h1.3M44 0h1.3M59 0h1.3M63 0h2.3M74 0h1.3M81 0h1.3M125 0h1.3M149 0h1.3M156 0h1.3M187 0h1.3M202 0h1.3M211 0h1.3M248 0h1.3M251 0h1.3M256 0h1.3M278 0h1.3M289 0h1.3M299 0h1.3M308 0h1.3M315 0h1.3M319 0h2.3M326 0h1.3M329 0h1.3M349 0h1.3"/><path stroke="#ff9e81" d="M10 0h1.3M23 0h1.3M29 0h1.3M43 0h1.3M76 0h1.3M103 0h1.3M144 0h1.3M150 0h1.3M170 0h1.3M184 0h1.3M191 0h1.3M195 0h1.3M200 0h1.3M235 0h1.3M243 0h1.3M294 0h1.3M332 0h1.3"/><path stroke="#ffcab8" d="M12 0h1.3M36 0h2.3M45 0h1.3M50 0h1.3M57 0h1.3M80 0h1.3M102 0h1.3M109 0h1.3M124 0h1.3M158 0h4.3M207 0h1.3M217 0h1.3M225 0h1.3M290 0h1.3"/><path stroke="#ffa88d" d="M14 0h1.3M17 0h1.3M35 0h1.3M51 0h1.3M55 0h1.3M61 0h1.3M65 0h1.3M127 0h2.3M145 0h1.3M148 0h1.3M171 0h1.3M175 0h1.3M179 0h1.3M186 0h1.3M194 0h1.3M198 0h1.3M222 0h2.3M271 0h2.3M274 0h2.3M281 0h1.3M283 0h1.3M288 0h1.3M295 0h2.3M339 0h1.3M343 0h1.3"/><path stroke="#ffbca6" d="M24 0h1.3M69 0h2.3M73 0h1.3M79 0h1.3M87 0h1.3M97 0h1.3M111 0h1.3M138 0h1.3M146 0h1.3M178 0h1.3M180 0h1.3M208 0h1.3M221 0h1.3M230 0h1.3M259 0h1.3M267 0h2.3M284 0h1.3M298 0h1.3M302 0h1.3M312 0h1.3M318 0h1.3M324 0h1.3M334 0h1.3"/><path stroke="#ff997b" d="M31 0h1.3M33 0h1.3M77 0h1.3M90 0h1.3M104 0h1.3M151 0h1.3M155 0h1.3M169 0h1.3M176 0h1.3M181 0h1.3M188 0h1.3M193 0h1.3M197 0h1.3M201 0h1.3M266 0h1.3M297 0h1.3M325 0h1.3"/><path stroke="#ffc1ac" d="M34 0h1.3M62 0h1.3M75 0h1.3M82 0h2.3M86 0h1.3M98 0h3.3M107 0h1.3M131 0h1.3M135 0h1.3M137 0h1.3M142 0h1.3M162 0h1.3M172 0h1.3M215 0h1.3M250 0h1.3M253 0h1.3M291 0h1.3M293 0h1.3M304 0h1.3M323 0h1.3M345 0h1.3"/><path stroke="#ff8e6f" d="M41 0h1.3M91 0h1.3M106 0h1.3M147 0h1.3M168 0h1.3M174 0h1.3M204 0h1.3M279 0h1.3M287 0h1.3M314 0h1.3M340 0h2.3"/><path stroke="#ffded2" d="M56 0h1.3M58 0h1.3M89 0h1.3M115 0h1.3M117 0h2.3M241 0h1.3M246 0h1.3M254 0h1.3M353 0h1.199"/><path stroke="#ff8969" d="M60 0h1.3M183 0h1.3M185 0h1.3M245 0h1.3M276 0h1.3M347 0h1.3"/><path stroke="#ff9475" d="M84 0h1.3M192 0h1.3M209 0h1.3M232 0h1.3M242 0h1.3M244 0h1.3M264 0h1.3M277 0h1.3M280 0h1.3M322 0h1.3M336 0h1.3"/><path stroke="#ffece5" d="M112 0h1.3M219 0h2.3M229 0h1.3M328 0h1.3"/><path stroke="#fff5f2" d="M113 0h1.3"/><path stroke="#ffd9cb" d="M121 0h1.3M123 0h1.3M130 0h1.3M132 0h1.3M153 0h1.3M166 0h1.3M321 0h1.3"/><path stroke="#ffe7de" d="M122 0h1.3"/><path stroke="#fff1eb" d="M164 0h1.3M354 0h0.199"/><path stroke="#ff8464" d="M182 0h1.3M203 0h1.3M210 0h1.3M330 0h2.3"/><path stroke="#ff7352" d="M305 0h1.3"/></g>
<g transform="translate(26.4 188.60) scale(1.548 1)" stroke-width="5.0"><path stroke="#ffe8c7" d="M0 0h1.3M3 0h1.3M16 0h1.3M28 0h1.3M57 0h1.3M60 0h1.3M81 0h1.3M88 0h1.3M97 0h1.3M107 0h1.3M110 0h1.3M145 0h2.3M192 0h1.3M195 0h1.3M211 0h1.3M234 0h1.3M255 0h1.3M262 0h1.3M268 0h1.3M272 0h1.3M296 0h1.3M304 0h1.3M318 0h1.3"/><path stroke="#ffefd8" d="M1 0h1.3M114 0h1.3M120 0h2.3M123 0h1.3M165 0h1.3M238 0h1.3M249 0h1.3M254 0h1.3M321 0h1.3"/><path stroke="#fff3e3" d="M2 0h1.3M26 0h1.3M30 0h1.3M38 0h1.3M111 0h1.3M164 0h1.3M166 0h1.3M177 0h1.3M232 0h1.3M309 0h1.3"/><path stroke="#ffecd2" d="M4 0h1.3M14 0h2.3M96 0h1.3M113 0h1.3M122 0h1.3M152 0h1.3M158 0h2.3M193 0h1.3M209 0h1.3M213 0h1.3M265 0h1.3M297 0h1.3M317 0h1.3M331 0h1.3M343 0h1.3"/><path stroke="#ffeacd" d="M5 0h1.3M13 0h1.3M18 0h1.3M29 0h1.3M35 0h1.3M51 0h1.3M95 0h1.3M115 0h1.3M138 0h2.3M143 0h1.3M151 0h1.3M157 0h1.3M212 0h1.3M233 0h1.3M264 0h1.3M270 0h1.3M278 0h1.3M303 0h1.3M330 0h1.3"/><path stroke="#ffe1b7" d="M6 0h1.3M39 0h1.3M62 0h1.3M75 0h1.3M77 0h1.3M84 0h1.3M103 0h2.3M126 0h1.3M131 0h2.3M134 0h1.3M150 0h1.3M155 0h1.3M162 0h1.3M168 0h2.3M173 0h1.3M175 0h1.3M190 0h2.3M207 0h1.3M218 0h2.3M221 0h1.3M229 0h1.3M231 0h1.3M243 0h1.3M245 0h1.3M256 0h1.3M261 0h1.3M284 0h1.3M289 0h1.3M292 0h1.3M302 0h1.3M307 0h1.3M310 0h1.3M320 0h1.3M326 0h2.3M342 0h1.3M351 0h1.3"/><path stroke="#ffe6c2" d="M7 0h1.3M12 0h1.3M27 0h1.3M31 0h3.3M68 0h1.3M85 0h3.3M94 0h1.3M102 0h1.3M137 0h1.3M140 0h1.3M147 0h1.3M181 0h1.3M210 0h1.3M237 0h1.3M266 0h1.3M269 0h1.3M273 0h1.3M287 0h1.3M291 0h1.3M299 0h1.3M311 0h1.3M316 0h1.3M344 0h1.3M346 0h1.3"/><path stroke="#ffd69c" d="M8 0h1.3M37 0h1.3M45 0h3.3M54 0h1.3M69 0h1.3M82 0h1.3M133 0h1.3M154 0h1.3M163 0h1.3M178 0h1.3M183 0h1.3M187 0h1.3M201 0h1.3M226 0h1.3M258 0h1.3M290 0h1.3"/><path stroke="#ffd8a1" d="M9 0h1.3M25 0h1.3M42 0h2.3M64 0h1.3M70 0h1.3M79 0h1.3M90 0h1.3M170 0h1.3M206 0h1.3M216 0h1.3M242 0h1.3M260 0h1.3M279 0h1.3M281 0h1.3M294 0h1.3M350 0h1.3M353 0h1.199"/><path stroke="#ffdfb1" d="M10 0h2.3M36 0h1.3M40 0h1.3M56 0h1.3M59 0h1.3M73 0h1.3M100 0h1.3M136 0h1.3M144 0h1.3M148 0h1.3M176 0h1.3M184 0h1.3M189 0h1.3M208 0h1.3M228 0h1.3M235 0h1.3M248 0h1.3M253 0h1.3M300 0h1.3M305 0h1.3M338 0h1.3M345 0h1.3M348 0h1.3M352 0h1.3"/><path stroke="#ffe3bc" d="M17 0h1.3M61 0h1.3M74 0h1.3M98 0h2.3M101 0h1.3M106 0h1.3M108 0h1.3M156 0h1.3M160 0h1.3M182 0h1.3M186 0h1.3M196 0h2.3M217 0h1.3M220 0h1.3M236 0h1.3M247 0h1.3M250 0h1.3M263 0h1.3M267 0h1.3M271 0h1.3M274 0h1.3M283 0h1.3M306 0h1.3M312 0h2.3M319 0h1.3"/><path stroke="#ffdaa7" d="M19 0h1.3M23 0h1.3M41 0h1.3M48 0h1.3M53 0h1.3M71 0h2.3M80 0h1.3M109 0h1.3M130 0h1.3M135 0h1.3M141 0h2.3M153 0h1.3M167 0h1.3M180 0h1.3M198 0h1.3M200 0h1.3M202 0h1.3M214 0h1.3M222 0h1.3M225 0h1.3M239 0h2.3M244 0h1.3M251 0h1.3M286 0h1.3M288 0h1.3M315 0h1.3M324 0h2.3M347 0h1.3"/><path stroke="#ffdcac" d="M20 0h1.3M34 0h1.3M44 0h1.3M50 0h1.3M55 0h1.3M58 0h1.3M78 0h1.3M92 0h2.3M125 0h1.3M128 0h2.3M161 0h1.3M171 0h2.3M185 0h1.3M188 0h1.3M194 0h1.3M205 0h1.3M224 0h1.3M230 0h1.3M246 0h1.3M277 0h1.3M298 0h1.3M301 0h1.3M322 0h1.3M328 0h1.3M332 0h5.3M339 0h2.3M349 0h1.3"/><path stroke="#ffd396" d="M21 0h2.3M24 0h1.3M52 0h1.3M91 0h1.3M199 0h1.3M203 0h1.3M259 0h1.3M276 0h1.3M282 0h1.3M295 0h1.3M314 0h1.3M323 0h1.3M337 0h1.3M341 0h1.3"/><path stroke="#ffcf8b" d="M49 0h1.3M149 0h1.3M215 0h1.3M285 0h1.3M293 0h1.3"/><path stroke="#fff8ee" d="M63 0h1.3M105 0h1.3M112 0h1.3M118 0h1.3M354 0h0.199"/><path stroke="#ffcd86" d="M65 0h3.3"/><path stroke="#ffd191" d="M76 0h1.3M83 0h1.3M127 0h1.3M241 0h1.3M275 0h1.3M280 0h1.3M308 0h1.3"/><path stroke="#ffca80" d="M89 0h1.3M179 0h1.3"/><path stroke="#fff1de" d="M116 0h2.3M119 0h1.3M124 0h1.3M204 0h1.3M227 0h1.3M252 0h1.3M329 0h1.3"/><path stroke="#fff6e9" d="M174 0h1.3"/><path stroke="#ffc87b" d="M223 0h1.3M257 0h1.3"/></g>
<g transform="translate(26.4 165.92) scale(1.548 1)" stroke-width="5.0"><path stroke="#fe240f" d="M0 0h2.3M4 0h7.3M12 0h1.3M15 0h2.3M18 0h3.3M22 0h2.3M25 0h4.3M32 0h3.3M36 0h2.3M39 0h1.3M41 0h2.3M44 0h2.3M50 0h1.3M52 0h1.3M55 0h1.3M57 0h4.3M63 0h3.3M70 0h4.3M75 0h1.3M78 0h1.3M82 0h1.3M84 0h5.3M92 0h1.3M95 0h1.3M97 0h1.3M102 0h1.3M109 0h4.3M123 0h1.3M125 0h2.3M129 0h2.3M133 0h1.3M135 0h2.3M138 0h3.3M142 0h1.3M144 0h1.3M147 0h3.3M151 0h1.3M154 0h1.3M160 0h1.3M163 0h3.3M169 0h1.3M171 0h2.3M175 0h1.3M177 0h1.3M181 0h1.3M184 0h1.3M187 0h1.3M189 0h1.3M192 0h1.3M194 0h2.3M197 0h4.3M203 0h2.3M206 0h1.3M209 0h3.3M213 0h5.3M219 0h1.3M222 0h1.3M224 0h1.3M228 0h5.3M235 0h2.3M238 0h3.3M242 0h1.3M244 0h2.3M247 0h4.3M253 0h1.3M256 0h1.3M259 0h1.3M266 0h1.3M269 0h1.3M271 0h2.3M274 0h4.3M279 0h1.3M281 0h1.3M285 0h1.3M288 0h4.3M293 0h1.3M297 0h2.3M302 0h1.3M304 0h1.3M312 0h2.3M317 0h3.3M321 0h1.3M326 0h2.3M329 0h1.3M331 0h1.3M334 0h1.3"/><path stroke="#ff0000" d="M2 0h2.3M11 0h1.3M13 0h1.3M17 0h1.3M21 0h1.3M24 0h1.3M29 0h3.3M43 0h1.3M46 0h4.3M51 0h1.3M54 0h1.3M56 0h1.3M62 0h1.3M66 0h3.3M74 0h1.3M76 0h2.3M79 0h3.3M83 0h1.3M89 0h3.3M93 0h2.3M96 0h1.3M98 0h3.3M103 0h6.3M113 0h2.3M128 0h1.3M131 0h2.3M141 0h1.3M143 0h1.3M145 0h1.3M150 0h1.3M152 0h2.3M155 0h5.3M161 0h2.3M166 0h3.3M173 0h2.3M176 0h1.3M178 0h3.3M182 0h2.3M186 0h1.3M191 0h1.3M193 0h1.3M196 0h1.3M201 0h2.3M205 0h1.3M207 0h2.3M212 0h1.3M218 0h1.3M220 0h2.3M225 0h2.3M233 0h2.3M237 0h1.3M241 0h1.3M243 0h1.3M246 0h1.3M251 0h2.3M254 0h2.3M257 0h2.3M260 0h5.3M267 0h2.3M270 0h1.3M273 0h1.3M278 0h1.3M286 0h2.3M294 0h3.3M299 0h2.3M303 0h1.3M306 0h6.3M314 0h3.3M320 0h1.3M323 0h3.3M328 0h1.3M330 0h1.3M332 0h2.3"/><path stroke="#fd351c" d="M14 0h1.3M61 0h1.3M137 0h1.3M185 0h1.3M283 0h1.3"/><path stroke="#f95738" d="M35 0h1.3M40 0h1.3M53 0h1.3M134 0h1.3M170 0h1.3M190 0h1.3M223 0h1.3M284 0h1.3"/><path stroke="#fa4d2f" d="M38 0h1.3M122 0h1.3M188 0h1.3M227 0h1.3M301 0h1.3M322 0h1.3"/><path stroke="#fc4226" d="M69 0h1.3M146 0h1.3M280 0h1.3M305 0h1.3"/><path stroke="#f76041" d="M101 0h1.3M124 0h1.3M127 0h1.3M282 0h1.3"/><path stroke="#c5b8b5" d="M115 0h1.3M119 0h1.3"/><path stroke="#bbb6c2" d="M116 0h1.3M118 0h1.3M120 0h1.3"/><path stroke="#bebebe" d="M117 0h1.3"/><path stroke="#ccb2ac" d="M121 0h1.3"/><path stroke="#ac96d0" d="M265 0h1.3M292 0h1.3"/><path stroke="#3116fc" d="M335 0h2.3M341 0h3.3M345 0h1.3M347 0h2.3M350 0h4.199"/><path stroke="#4624f9" d="M337 0h1.3M346 0h1.3"/><path stroke="#0000ff" d="M338 0h3.3M344 0h1.3"/><path stroke="#754ced" d="M349 0h1.3"/></g>
<rect x="26.80" y="193.31" width="547.50" height="4.95" fill="#cbcbcb" stroke="#474747" stroke-width="1.15"/>
<rect x="26.40" y="192.86" width="2.00" height="5.9" fill="#111"/>
<rect x="212.00" y="192.86" width="1.00" height="5.9" fill="#111"/>
<rect x="667.2" y="210.99" width="14.7" height="60.7" fill="#d9d9d9"/>
<text transform="translate(671.1 240.94) rotate(90)" font-size="9.5" text-anchor="middle" fill="#1a1a1a">Chr4</text>
<text x="17" y="267.09" font-size="8.6" text-anchor="end" fill="#4d4d4d">1</text>
<line x1="18.4" x2="20.4" y1="264.29" y2="264.29" stroke="#333" stroke-width="0.6"/>
<text x="17" y="259.53" font-size="8.6" text-anchor="end" fill="#4d4d4d">2</text>
<line x1="18.4" x2="20.4" y1="256.73" y2="256.73" stroke="#333" stroke-width="0.6"/>
<text x="17" y="251.97" font-size="8.6" text-anchor="end" fill="#4d4d4d">3</text>
<line x1="18.4" x2="20.4" y1="249.17" y2="249.17" stroke="#333" stroke-width="0.6"/>
<text x="17" y="244.41" font-size="8.6" text-anchor="end" fill="#4d4d4d">4</text>
<line x1="18.4" x2="20.4" y1="241.61" y2="241.61" stroke="#333" stroke-width="0.6"/>
<text x="17" y="236.85" font-size="8.6" text-anchor="end" fill="#4d4d4d">5</text>
<line x1="18.4" x2="20.4" y1="234.05" y2="234.05" stroke="#333" stroke-width="0.6"/>
<text x="17" y="229.29" font-size="8.6" text-anchor="end" fill="#4d4d4d">6</text>
<line x1="18.4" x2="20.4" y1="226.49" y2="226.49" stroke="#333" stroke-width="0.6"/>
<text x="17" y="221.73" font-size="8.6" text-anchor="end" fill="#4d4d4d">7</text>
<line x1="18.4" x2="20.4" y1="218.93" y2="218.93" stroke="#333" stroke-width="0.6"/>
<g transform="translate(26.4 218.93) scale(1.548 1)" stroke-width="5.0"><path stroke="#f3f7f2" d="M0 0h1.3M117 0h1.3M136 0h1.3M222 0h1.3M294 0h1.3M371 0h1.3"/><path stroke="#edf3eb" d="M5 0h1.3M114 0h1.3M179 0h2.3M214 0h1.3M292 0h1.3"/><path stroke="#75a167" d="M14 0h1.3M40 0h1.3M147 0h1.3M153 0h1.3M306 0h1.3M314 0h1.3M349 0h1.3M378 0h1.3M380 0h1.3M388 0h1.3"/><path stroke="#9dbc92" d="M15 0h1.3M24 0h2.3M31 0h1.3M34 0h1.3M63 0h1.3M83 0h1.3M274 0h1.3M282 0h1.3M328 0h1.3M335 0h1.3M337 0h1.3M359 0h2.3M370 0h1.3M377 0h1.3M384 0h1.3M386 0h1.3M390 0h1.3M402 0h1.3"/><path stroke="#a8c39e" d="M16 0h1.3M21 0h1.3M77 0h1.3M84 0h1.3M209 0h1.3M255 0h1.3M352 0h1.3M366 0h1.3"/><path stroke="#91b486" d="M17 0h1.3M23 0h1.3M26 0h1.3M152 0h1.3M177 0h1.3M308 0h1.3M321 0h2.3M334 0h1.3M338 0h1.3M346 0h1.3M351 0h1.3M358 0h1.3"/><path stroke="#b9cfb1" d="M18 0h1.3M38 0h2.3M67 0h1.3M91 0h2.3M121 0h2.3M173 0h1.3M190 0h1.3M193 0h1.3M201 0h1.3M228 0h1.3M246 0h1.3M248 0h1.3M251 0h1.3M254 0h1.3M256 0h1.3M403 0h1.3M405 0h0.879"/><path stroke="#97b88c" d="M19 0h1.3M43 0h1.3M59 0h1.3M61 0h1.3M81 0h1.3M208 0h1.3M310 0h1.3M324 0h1.3M350 0h1.3M354 0h1.3M383 0h1.3M389 0h1.3"/><path stroke="#bfd3b7" d="M20 0h1.3M32 0h1.3M52 0h1.3M68 0h1.3M88 0h3.3M98 0h1.3M104 0h1.3M126 0h2.3M129 0h1.3M133 0h1.3M138 0h1.3M150 0h2.3M199 0h1.3M202 0h1.3M211 0h1.3M232 0h1.3M234 0h1.3M266 0h1.3M275 0h1.3M281 0h1.3M287 0h1.3M329 0h1.3M331 0h1.3"/><path stroke="#d6e3d1" d="M22 0h1.3M70 0h1.3M73 0h1.3M95 0h2.3M109 0h1.3M111 0h1.3M119 0h1.3M137 0h1.3M167 0h1.3M169 0h1.3M186 0h1.3M197 0h1.3M203 0h1.3M230 0h1.3M235 0h1.3M252 0h1.3M263 0h1.3M265 0h1.3M267 0h1.3M272 0h1.3M279 0h1.3M293 0h1.3M299 0h1.3M301 0h2.3M326 0h1.3"/><path stroke="#639556" d="M27 0h1.3M29 0h1.3M161 0h1.3M400 0h1.3"/><path stroke="#80a873" d="M28 0h1.3M45 0h1.3M58 0h1.3M149 0h1.3M157 0h1.3M176 0h1.3M341 0h1.3M381 0h1.3M387 0h1.3M394 0h2.3"/><path stroke="#69995c" d="M30 0h1.3M80 0h1.3M145 0h1.3M148 0h1.3M158 0h1.3M164 0h1.3M379 0h1.3M399 0h1.3M401 0h1.3"/><path stroke="#b3cbab" d="M33 0h1.3M44 0h1.3M51 0h1.3M56 0h1.3M76 0h1.3M86 0h2.3M105 0h2.3M108 0h1.3M191 0h1.3M200 0h1.3M207 0h1.3M210 0h1.3M249 0h2.3M270 0h1.3M313 0h1.3M330 0h1.3M361 0h1.3M367 0h1.3"/><path stroke="#6f9d62" d="M35 0h1.3M79 0h1.3M85 0h1.3M163 0h1.3M307 0h1.3M344 0h1.3"/><path stroke="#86ac79" d="M36 0h1.3M49 0h1.3M57 0h1.3M175 0h1.3M315 0h1.3M340 0h1.3M343 0h1.3M345 0h1.3M369 0h1.3M374 0h1.3M397 0h1.3"/><path stroke="#a2c098" d="M37 0h1.3M82 0h1.3M311 0h1.3M316 0h2.3M365 0h1.3M391 0h1.3M393 0h1.3"/><path stroke="#4c863e" d="M41 0h1.3M142 0h1.3M154 0h1.3"/><path stroke="#7aa46d" d="M42 0h1.3M46 0h1.3M156 0h1.3M159 0h1.3M162 0h1.3M174 0h1.3M309 0h1.3M318 0h1.3M333 0h1.3M363 0h1.3M368 0h1.3"/><path stroke="#407e32" d="M47 0h1.3M357 0h1.3"/><path stroke="#106809" d="M48 0h1.3"/><path stroke="#8bb07f" d="M50 0h1.3M62 0h1.3M141 0h1.3M155 0h1.3M168 0h1.3M171 0h1.3M312 0h1.3M342 0h1.3M348 0h1.3M355 0h1.3M362 0h1.3M376 0h1.3M392 0h1.3"/><path stroke="#c5d7be" d="M53 0h1.3M60 0h1.3M75 0h1.3M120 0h1.3M123 0h1.3M135 0h1.3M166 0h1.3M181 0h1.3M185 0h1.3M189 0h1.3M192 0h1.3M196 0h1.3M204 0h1.3M215 0h1.3M218 0h1.3M220 0h2.3M225 0h1.3M227 0h1.3M229 0h1.3M233 0h1.3M259 0h1.3M262 0h1.3M268 0h1.3M290 0h1.3M304 0h1.3M319 0h1.3M336 0h1.3M353 0h1.3"/><path stroke="#cadbc4" d="M54 0h1.3M66 0h1.3M69 0h1.3M71 0h2.3M99 0h1.3M101 0h3.3M107 0h1.3M115 0h1.3M130 0h1.3M132 0h1.3M134 0h1.3M198 0h1.3M231 0h1.3M237 0h1.3M239 0h2.3M245 0h1.3M247 0h1.3M269 0h1.3M271 0h1.3M280 0h1.3M283 0h2.3M286 0h1.3M288 0h1.3M296 0h1.3M300 0h1.3M305 0h1.3M320 0h1.3M332 0h1.3"/><path stroke="#d0dfca" d="M55 0h1.3M64 0h1.3M74 0h1.3M97 0h1.3M112 0h1.3M118 0h1.3M124 0h1.3M131 0h1.3M194 0h2.3M206 0h1.3M212 0h1.3M219 0h1.3M223 0h1.3M226 0h1.3M241 0h1.3M243 0h2.3M273 0h1.3M276 0h1.3M278 0h1.3M289 0h1.3M295 0h1.3M382 0h1.3"/><path stroke="#dce7d7" d="M65 0h1.3M93 0h2.3M100 0h1.3M110 0h1.3M125 0h1.3M128 0h1.3M139 0h1.3M182 0h1.3M205 0h1.3M216 0h1.3M224 0h1.3M236 0h1.3M238 0h1.3M264 0h1.3M285 0h1.3M297 0h2.3M404 0h1.3"/><path stroke="#aec7a4" d="M78 0h1.3M160 0h1.3M170 0h1.3M184 0h1.3M258 0h1.3M323 0h1.3M325 0h1.3M327 0h1.3M347 0h1.3M364 0h1.3M375 0h1.3M385 0h1.3"/><path stroke="#e2ebde" d="M113 0h1.3M116 0h1.3M183 0h1.3M187 0h2.3M213 0h1.3M217 0h1.3M242 0h1.3M257 0h1.3M260 0h2.3M398 0h1.3"/><path stroke="#e7efe4" d="M140 0h1.3M178 0h1.3M253 0h1.3M277 0h1.3M291 0h1.3M303 0h1.3"/><path stroke="#468238" d="M143 0h1.3"/><path stroke="#327726" d="M144 0h1.3M146 0h1.3"/><path stroke="#528a44" d="M165 0h1.3"/><path stroke="#5e9150" d="M172 0h1.3M339 0h1.3M356 0h1.3M396 0h1.3"/></g>
<g transform="translate(26.4 226.49) scale(1.548 1)" stroke-width="5.0"><path stroke="#b3cbab" d="M2 0h1.3"/><path stroke="#d0dfca" d="M3 0h1.3"/><path stroke="#c5d7be" d="M4 0h4.3"/><path stroke="#bfd3b7" d="M8 0h2.3M13 0h1.3"/><path stroke="#d6e3d1" d="M10 0h3.3"/><path stroke="#a2c098" d="M14 0h1.3"/><path stroke="#f3f7f2" d="M18 0h1.3M29 0h1.3M32 0h1.3M37 0h1.3M43 0h1.3M49 0h1.3M63 0h1.3M69 0h3.3M97 0h2.3M102 0h1.3M117 0h2.3M120 0h1.3M125 0h1.3M139 0h1.3M166 0h1.3M175 0h1.3M181 0h1.3M184 0h1.3M200 0h1.3M233 0h1.3M239 0h1.3M244 0h1.3M255 0h1.3M264 0h1.3M267 0h1.3M269 0h1.3M275 0h1.3M277 0h1.3M279 0h1.3M289 0h1.3M292 0h1.3M305 0h2.3M308 0h1.3M311 0h1.3M335 0h1.3M339 0h1.3M343 0h1.3M350 0h1.3M363 0h1.3M367 0h1.3M378 0h1.3M387 0h2.3M394 0h1.3M398 0h1.3M405 0h0.879"/><path stroke="#f9fbf8" d="M28 0h1.3M45 0h1.3M48 0h1.3M163 0h1.3M168 0h1.3M195 0h1.3M226 0h1.3M256 0h2.3M283 0h1.3M310 0h1.3M313 0h1.3M345 0h1.3M358 0h1.3M392 0h1.3"/><path stroke="#edf3eb" d="M46 0h1.3M78 0h1.3M106 0h2.3M131 0h1.3M135 0h1.3M141 0h1.3M144 0h1.3M155 0h1.3M170 0h1.3M172 0h1.3M201 0h1.3M207 0h1.3M237 0h1.3M246 0h1.3M281 0h1.3M330 0h1.3M340 0h1.3M346 0h1.3M348 0h1.3M353 0h1.3M356 0h1.3M389 0h1.3M401 0h1.3"/></g>
<g transform="translate(26.4 249.17) scale(1.548 1)" stroke-width="5.0"><path stroke="#ff997b" d="M0 0h1.3M5 0h1.3M14 0h1.3M28 0h1.3M41 0h1.3M158 0h1.3M311 0h1.3M345 0h1.3M352 0h1.3M358 0h2.3M384 0h1.3"/><path stroke="#ffa387" d="M1 0h2.3M7 0h1.3M18 0h1.3M20 0h1.3M23 0h1.3M25 0h1.3M37 0h1.3M45 0h1.3M144 0h1.3M147 0h1.3M326 0h1.3M333 0h1.3M354 0h1.3M365 0h1.3"/><path stroke="#ff9e81" d="M3 0h1.3M10 0h1.3M13 0h1.3M33 0h1.3M38 0h1.3M43 0h1.3M174 0h1.3M309 0h1.3M315 0h1.3M331 0h1.3M344 0h1.3M366 0h1.3M376 0h1.3M379 0h1.3M400 0h1.3M404 0h1.3"/><path stroke="#ff9475" d="M4 0h1.3M11 0h1.3M47 0h1.3M152 0h1.3M166 0h1.3M310 0h1.3M348 0h1.3M375 0h1.3"/><path stroke="#ffad93" d="M6 0h1.3M40 0h1.3M46 0h1.3M167 0h1.3M317 0h1.3M334 0h2.3M339 0h1.3M369 0h1.3M378 0h1.3M405 0h0.879"/><path stroke="#fff1eb" d="M8 0h1.3M54 0h1.3M71 0h1.3M81 0h1.3M87 0h1.3M94 0h2.3M99 0h2.3M104 0h1.3M115 0h1.3M119 0h1.3M123 0h1.3M133 0h1.3M136 0h1.3M199 0h2.3M204 0h1.3M208 0h2.3M213 0h1.3M218 0h1.3M230 0h1.3M238 0h1.3M240 0h1.3M246 0h2.3M257 0h1.3M270 0h2.3M285 0h1.3M290 0h2.3M299 0h1.3M302 0h1.3"/><path stroke="#ffc6b2" d="M9 0h1.3M27 0h1.3M175 0h1.3M338 0h1.3M377 0h1.3M388 0h1.3"/><path stroke="#ff7e5e" d="M12 0h1.3M15 0h1.3M26 0h1.3M163 0h1.3M303 0h1.3M357 0h1.3M385 0h1.3"/><path stroke="#ff8969" d="M16 0h1.3M308 0h1.3M316 0h1.3M327 0h1.3M347 0h1.3M364 0h1.3M374 0h1.3M386 0h1.3M403 0h1.3"/><path stroke="#ffe2d8" d="M17 0h1.3M49 0h1.3M69 0h1.3M73 0h1.3M77 0h1.3M83 0h2.3M92 0h1.3M113 0h1.3M118 0h1.3M183 0h2.3M191 0h1.3M227 0h1.3M253 0h1.3M277 0h1.3M295 0h2.3M321 0h1.3M372 0h1.3"/><path stroke="#ffb299" d="M19 0h1.3M29 0h1.3M31 0h1.3M153 0h2.3M156 0h1.3M305 0h1.3M325 0h1.3M356 0h1.3M367 0h1.3"/><path stroke="#ffd9cb" d="M21 0h1.3M48 0h1.3M79 0h1.3M106 0h1.3M185 0h1.3M254 0h1.3M258 0h1.3M313 0h1.3M353 0h1.3M389 0h1.3M393 0h1.3"/><path stroke="#ffa88d" d="M22 0h1.3M30 0h1.3M35 0h2.3M143 0h1.3M176 0h1.3M312 0h1.3M314 0h1.3M324 0h1.3M351 0h1.3M380 0h1.3M401 0h2.3"/><path stroke="#ff8e6f" d="M24 0h1.3M145 0h2.3M328 0h2.3M350 0h1.3M387 0h1.3M399 0h1.3"/><path stroke="#ffbca6" d="M32 0h1.3M307 0h1.3M340 0h1.3M343 0h1.3M368 0h1.3M395 0h1.3"/><path stroke="#ffc1ac" d="M34 0h1.3M39 0h1.3M155 0h1.3M306 0h1.3M318 0h1.3M323 0h1.3M332 0h1.3M355 0h1.3M383 0h1.3M392 0h1.3M398 0h1.3"/><path stroke="#ffb7a0" d="M42 0h1.3M44 0h1.3M157 0h1.3M304 0h1.3M319 0h1.3M336 0h1.3M391 0h1.3"/><path stroke="#ffe7de" d="M50 0h1.3M65 0h1.3M76 0h1.3M78 0h1.3M80 0h1.3M86 0h1.3M93 0h1.3M96 0h1.3M107 0h1.3M114 0h1.3M117 0h1.3M125 0h1.3M128 0h2.3M178 0h2.3M182 0h1.3M188 0h1.3M192 0h1.3M198 0h1.3M210 0h1.3M220 0h1.3M222 0h2.3M226 0h1.3M237 0h1.3M245 0h1.3M251 0h1.3M262 0h1.3M264 0h1.3M274 0h3.3M280 0h1.3M288 0h1.3M320 0h1.3M341 0h1.3M371 0h1.3"/><path stroke="#ffece5" d="M51 0h1.3M53 0h1.3M55 0h1.3M67 0h2.3M72 0h1.3M74 0h1.3M97 0h2.3M103 0h1.3M108 0h3.3M112 0h1.3M131 0h1.3M140 0h1.3M180 0h2.3M189 0h1.3M193 0h1.3M196 0h1.3M201 0h3.3M207 0h1.3M216 0h1.3M219 0h1.3M221 0h1.3M224 0h2.3M228 0h1.3M241 0h1.3M249 0h2.3M252 0h1.3M259 0h3.3M263 0h1.3M267 0h2.3M272 0h1.3M281 0h2.3M289 0h1.3M292 0h2.3M297 0h2.3M301 0h1.3"/><path stroke="#fff5f2" d="M57 0h1.3M60 0h2.3M63 0h2.3M70 0h1.3M82 0h1.3M90 0h1.3M101 0h2.3M105 0h1.3M111 0h1.3M116 0h1.3M120 0h3.3M124 0h1.3M127 0h1.3M130 0h1.3M134 0h2.3M137 0h1.3M139 0h1.3M177 0h1.3M186 0h1.3M190 0h1.3M197 0h1.3M229 0h1.3M231 0h1.3M233 0h4.3M239 0h1.3M265 0h2.3M269 0h1.3M279 0h1.3M294 0h1.3M373 0h1.3M397 0h1.3"/><path stroke="#fffaf8" d="M66 0h1.3M89 0h1.3M217 0h1.3M232 0h1.3M242 0h1.3M248 0h1.3"/><path stroke="#ffded2" d="M85 0h1.3M168 0h1.3M187 0h1.3M194 0h2.3M273 0h1.3M287 0h1.3M396 0h1.3"/><path stroke="#ffcfbf" d="M91 0h1.3M256 0h1.3M342 0h1.3M381 0h1.3M390 0h1.3"/><path stroke="#ff6d4c" d="M148 0h1.3M164 0h2.3M172 0h1.3M346 0h1.3M361 0h2.3"/><path stroke="#ff5434" d="M149 0h1.3"/><path stroke="#ff7958" d="M150 0h1.3M160 0h2.3M370 0h1.3"/><path stroke="#ff6140" d="M151 0h1.3M169 0h1.3"/><path stroke="#ff3e22" d="M159 0h1.3"/><path stroke="#ff5b3a" d="M162 0h1.3M171 0h1.3"/><path stroke="#ff1b0a" d="M170 0h1.3"/><path stroke="#ffd4c5" d="M173 0h1.3M255 0h1.3M322 0h1.3"/><path stroke="#ff8464" d="M330 0h1.3M349 0h1.3M360 0h1.3M363 0h1.3"/><path stroke="#ffcab8" d="M337 0h1.3M382 0h1.3M394 0h1.3"/></g>
<g transform="translate(26.4 256.73) scale(1.548 1)" stroke-width="5.0"><path stroke="#ffc675" d="M0 0h1.3M159 0h1.3M164 0h1.3M166 0h1.3M170 0h1.3M172 0h1.3M381 0h1.3M383 0h1.3"/><path stroke="#ffdaa7" d="M1 0h1.3M5 0h1.3M19 0h2.3M36 0h1.3M42 0h1.3M154 0h2.3M167 0h1.3M306 0h2.3M313 0h1.3M320 0h1.3M322 0h1.3M335 0h1.3M345 0h1.3M347 0h1.3M362 0h1.3M365 0h1.3M393 0h1.3M400 0h1.3"/><path stroke="#ffe6c2" d="M2 0h1.3M15 0h1.3M18 0h1.3M319 0h1.3M325 0h1.3M336 0h1.3M389 0h1.3"/><path stroke="#ffe3bc" d="M3 0h1.3M37 0h1.3M40 0h1.3M341 0h1.3M346 0h1.3M355 0h1.3M359 0h2.3M390 0h1.3M394 0h1.3"/><path stroke="#ffd69c" d="M4 0h1.3M22 0h1.3M25 0h1.3M32 0h1.3M328 0h1.3M363 0h1.3M370 0h1.3"/><path stroke="#ffe8c7" d="M6 0h1.3M47 0h1.3M309 0h1.3M388 0h1.3"/><path stroke="#ffd8a1" d="M7 0h1.3M27 0h2.3M46 0h1.3M144 0h1.3M149 0h1.3M305 0h1.3M310 0h1.3M339 0h1.3M369 0h1.3M401 0h1.3"/><path stroke="#ffcf8b" d="M8 0h3.3M21 0h1.3M168 0h1.3M326 0h1.3M343 0h1.3M349 0h2.3M352 0h1.3M376 0h1.3M379 0h1.3M384 0h1.3"/><path stroke="#ffe1b7" d="M11 0h1.3M23 0h1.3M147 0h1.3M150 0h1.3M303 0h1.3M330 0h1.3M392 0h1.3M395 0h1.3M399 0h1.3M402 0h1.3"/><path stroke="#ffcd86" d="M12 0h1.3M165 0h1.3M327 0h1.3M332 0h1.3M374 0h1.3"/><path stroke="#ffdcac" d="M13 0h1.3M24 0h1.3M31 0h1.3M38 0h1.3M43 0h1.3M314 0h1.3M318 0h1.3M329 0h1.3M331 0h1.3M338 0h1.3M340 0h1.3M378 0h1.3M391 0h1.3M396 0h1.3M403 0h1.3"/><path stroke="#ffdfb1" d="M14 0h1.3M16 0h1.3M304 0h1.3M323 0h1.3M344 0h1.3M348 0h1.3M356 0h1.3M361 0h1.3M404 0h1.3"/><path stroke="#fff3e3" d="M17 0h1.3M52 0h1.3M56 0h1.3M64 0h1.3M66 0h1.3M78 0h2.3M84 0h1.3M91 0h2.3M110 0h1.3M112 0h1.3M120 0h2.3M124 0h1.3M137 0h1.3M139 0h1.3M180 0h1.3M185 0h1.3M196 0h1.3M232 0h1.3M237 0h1.3M250 0h1.3M257 0h1.3M283 0h1.3M289 0h1.3M294 0h1.3M296 0h1.3M317 0h1.3M373 0h1.3M405 0h0.879"/><path stroke="#ffc87b" d="M26 0h1.3M33 0h1.3M162 0h1.3M174 0h1.3"/><path stroke="#ffd191" d="M29 0h1.3M44 0h2.3M173 0h1.3M354 0h1.3M368 0h1.3M375 0h1.3M398 0h1.3"/><path stroke="#fff6e9" d="M30 0h1.3M51 0h1.3M58 0h3.3M65 0h1.3M67 0h1.3M70 0h3.3M77 0h1.3M83 0h1.3M87 0h1.3M99 0h1.3M111 0h1.3M113 0h2.3M117 0h1.3M126 0h1.3M134 0h3.3M181 0h1.3M186 0h1.3M197 0h1.3M202 0h1.3M218 0h1.3M223 0h3.3M233 0h3.3M243 0h1.3M246 0h2.3M249 0h1.3M251 0h2.3M255 0h1.3M265 0h4.3M274 0h2.3M282 0h1.3M284 0h1.3M286 0h3.3M295 0h1.3M299 0h1.3M308 0h1.3M316 0h1.3M371 0h1.3"/><path stroke="#ffc46f" d="M34 0h1.3M169 0h1.3M385 0h1.3"/><path stroke="#ffbb58" d="M35 0h1.3M163 0h1.3"/><path stroke="#ffeacd" d="M39 0h1.3M152 0h1.3M324 0h1.3M337 0h1.3M358 0h1.3"/><path stroke="#ffd396" d="M41 0h1.3M48 0h1.3M148 0h1.3M151 0h1.3M153 0h1.3M321 0h1.3M342 0h1.3M353 0h1.3M364 0h1.3M366 0h1.3M377 0h1.3M386 0h1.3"/><path stroke="#fff8ee" d="M49 0h2.3M68 0h1.3M73 0h3.3M80 0h3.3M85 0h1.3M90 0h1.3M94 0h5.3M103 0h1.3M106 0h1.3M109 0h1.3M115 0h1.3M123 0h1.3M132 0h2.3M140 0h1.3M142 0h1.3M178 0h2.3M191 0h2.3M194 0h1.3M198 0h1.3M201 0h1.3M205 0h3.3M211 0h1.3M214 0h1.3M216 0h1.3M222 0h1.3M229 0h1.3M238 0h1.3M244 0h2.3M248 0h1.3M256 0h1.3M258 0h1.3M260 0h1.3M264 0h1.3M269 0h2.3M272 0h2.3M276 0h1.3M278 0h1.3M281 0h1.3M285 0h1.3M290 0h3.3M372 0h1.3"/><path stroke="#fffaf4" d="M53 0h1.3M69 0h1.3M88 0h2.3M107 0h1.3M116 0h1.3M119 0h1.3M131 0h1.3M141 0h1.3M177 0h1.3M183 0h2.3M187 0h1.3M190 0h1.3M195 0h1.3M199 0h2.3M204 0h1.3M217 0h1.3M221 0h1.3M227 0h2.3M236 0h1.3M241 0h2.3M261 0h1.3M263 0h1.3M271 0h1.3M279 0h2.3M298 0h1.3M300 0h2.3"/><path stroke="#fffdf9" d="M54 0h1.3M57 0h1.3M101 0h1.3M127 0h1.3M130 0h1.3M239 0h1.3M297 0h1.3"/><path stroke="#fff1de" d="M61 0h3.3M105 0h1.3M125 0h1.3M138 0h1.3M146 0h1.3M230 0h2.3M253 0h2.3M259 0h1.3M293 0h1.3M311 0h1.3M357 0h1.3M367 0h1.3"/><path stroke="#ffbf64" d="M143 0h1.3M160 0h1.3M176 0h1.3M351 0h1.3"/><path stroke="#ffecd2" d="M145 0h1.3M315 0h1.3M387 0h1.3"/><path stroke="#ffca80" d="M156 0h3.3M171 0h1.3M380 0h1.3M382 0h1.3"/><path stroke="#ffb952" d="M161 0h1.3M334 0h1.3"/><path stroke="#ffb64c" d="M175 0h1.3"/><path stroke="#ffefd8" d="M312 0h1.3M397 0h1.3"/><path stroke="#ffb23f" d="M333 0h1.3"/></g>
<g transform="translate(26.4 234.05) scale(1.548 1)" stroke-width="5.0"><path stroke="#fe240f" d="M0 0h1.3M2 0h2.3M8 0h1.3M10 0h1.3M12 0h2.3M226 0h1.3M266 0h1.3M372 0h1.3"/><path stroke="#ff0000" d="M1 0h1.3M4 0h4.3M9 0h1.3M11 0h1.3M371 0h1.3M373 0h1.3"/><path stroke="#3116fc" d="M14 0h3.3M18 0h3.3M22 0h1.3M24 0h1.3M28 0h4.3M34 0h4.3M40 0h4.3M47 0h2.3M71 0h1.3M73 0h1.3M95 0h1.3M120 0h1.3M130 0h1.3M142 0h1.3M145 0h2.3M149 0h1.3M153 0h3.3M158 0h2.3M161 0h1.3M164 0h5.3M171 0h2.3M178 0h1.3M181 0h1.3M194 0h1.3M198 0h2.3M205 0h1.3M236 0h1.3M239 0h1.3M286 0h2.3M298 0h1.3M303 0h1.3M307 0h4.3M312 0h1.3M315 0h1.3M317 0h1.3M320 0h5.3M326 0h2.3M330 0h11.3M342 0h2.3M346 0h2.3M349 0h2.3M352 0h2.3M359 0h2.3M362 0h1.3M364 0h1.3M366 0h3.3M370 0h1.3M374 0h2.3M377 0h1.3M379 0h2.3M383 0h3.3M387 0h3.3M391 0h2.3M395 0h3.3M399 0h3.3M403 0h2.879"/><path stroke="#0000ff" d="M17 0h1.3M25 0h3.3M32 0h2.3M38 0h1.3M44 0h3.3M69 0h1.3M106 0h1.3M119 0h1.3M126 0h1.3M141 0h1.3M144 0h1.3M147 0h2.3M151 0h1.3M160 0h1.3M162 0h2.3M169 0h2.3M179 0h1.3M184 0h1.3M189 0h1.3M192 0h1.3M211 0h1.3M250 0h1.3M267 0h1.3M285 0h1.3M306 0h1.3M314 0h1.3M316 0h1.3M319 0h1.3M328 0h2.3M341 0h1.3M344 0h2.3M351 0h1.3M354 0h5.3M363 0h1.3M376 0h1.3M378 0h1.3M381 0h2.3M386 0h1.3M390 0h1.3M393 0h2.3M402 0h1.3"/><path stroke="#4624f9" d="M21 0h1.3M50 0h1.3M56 0h1.3M60 0h1.3M62 0h2.3M113 0h1.3M122 0h2.3M132 0h1.3M136 0h1.3M143 0h1.3M150 0h1.3M152 0h1.3M156 0h2.3M173 0h2.3M176 0h1.3M191 0h1.3M196 0h1.3M231 0h1.3M256 0h1.3M258 0h1.3M260 0h1.3M276 0h2.3M305 0h1.3M311 0h1.3M365 0h1.3M398 0h1.3"/><path stroke="#6c43f0" d="M23 0h1.3M325 0h1.3M361 0h1.3"/><path stroke="#6139f3" d="M39 0h1.3M105 0h1.3M128 0h1.3M139 0h1.3M208 0h1.3M214 0h1.3M227 0h1.3M300 0h1.3"/><path stroke="#8c65e4" d="M49 0h1.3M53 0h1.3M59 0h1.3M90 0h1.3M92 0h1.3M117 0h1.3M200 0h1.3M209 0h1.3M220 0h1.3M233 0h1.3M238 0h1.3M240 0h1.3M274 0h1.3M281 0h2.3M284 0h1.3M291 0h1.3"/><path stroke="#d1aca2" d="M51 0h1.3M65 0h1.3M85 0h1.3M88 0h1.3M99 0h1.3M114 0h1.3M193 0h1.3M261 0h1.3M289 0h1.3"/><path stroke="#ccb2ac" d="M52 0h1.3M61 0h1.3M87 0h1.3M135 0h1.3M190 0h1.3M197 0h1.3"/><path stroke="#926de1" d="M54 0h1.3M137 0h1.3M185 0h1.3M244 0h1.3M247 0h1.3M280 0h1.3M290 0h1.3"/><path stroke="#d7a699" d="M55 0h1.3M83 0h1.3M131 0h1.3M180 0h1.3M264 0h1.3"/><path stroke="#552ff6" d="M57 0h1.3M74 0h2.3M80 0h1.3M97 0h1.3M104 0h1.3M133 0h1.3M187 0h1.3M207 0h1.3M222 0h1.3M237 0h1.3M246 0h1.3M270 0h1.3"/><path stroke="#b4a6c9" d="M58 0h1.3M79 0h1.3M89 0h1.3M107 0h1.3M121 0h1.3M225 0h1.3M229 0h1.3M257 0h1.3M292 0h1.3"/><path stroke="#f95738" d="M64 0h1.3M81 0h2.3M218 0h1.3M269 0h1.3"/><path stroke="#a78ed4" d="M66 0h1.3M234 0h2.3M241 0h1.3M252 0h1.3M271 0h1.3M275 0h1.3M302 0h1.3"/><path stroke="#bbb6c2" d="M67 0h1.3M70 0h1.3M78 0h1.3M98 0h1.3M201 0h1.3M203 0h1.3M223 0h1.3M265 0h1.3M272 0h1.3M294 0h1.3M304 0h1.3"/><path stroke="#f0785b" d="M68 0h1.3M96 0h1.3M109 0h1.3M125 0h1.3M206 0h1.3M253 0h1.3"/><path stroke="#fc4226" d="M72 0h1.3M221 0h1.3M288 0h1.3"/><path stroke="#9e7eda" d="M76 0h1.3M100 0h1.3M110 0h1.3M112 0h1.3M243 0h1.3M259 0h1.3M278 0h1.3M295 0h2.3"/><path stroke="#fa4d2f" d="M77 0h1.3"/><path stroke="#bebebe" d="M84 0h1.3M91 0h1.3M93 0h1.3M213 0h1.3M232 0h1.3M251 0h1.3"/><path stroke="#f5684a" d="M86 0h1.3M202 0h1.3M230 0h1.3M268 0h1.3"/><path stroke="#9876de" d="M94 0h1.3M108 0h1.3M111 0h1.3M118 0h1.3M195 0h1.3M224 0h1.3M242 0h1.3M263 0h1.3M297 0h1.3"/><path stroke="#ed7f64" d="M101 0h1.3M140 0h1.3M217 0h1.3"/><path stroke="#c5b8b5" d="M102 0h1.3M116 0h1.3M182 0h1.3M228 0h1.3M245 0h1.3M273 0h1.3M279 0h1.3"/><path stroke="#a386d7" d="M103 0h1.3M186 0h1.3M204 0h1.3M219 0h1.3M249 0h1.3M254 0h1.3M301 0h1.3"/><path stroke="#f37053" d="M115 0h1.3M216 0h1.3"/><path stroke="#f76041" d="M124 0h1.3M129 0h1.3M210 0h1.3M255 0h1.3"/><path stroke="#b09ecd" d="M127 0h1.3M134 0h1.3M299 0h1.3"/><path stroke="#855de7" d="M138 0h1.3M175 0h1.3M212 0h1.3M248 0h1.3M283 0h1.3"/><path stroke="#7d54ea" d="M177 0h1.3M313 0h1.3M318 0h1.3M348 0h1.3"/><path stroke="#b7aec6" d="M183 0h1.3M215 0h1.3M293 0h1.3"/><path stroke="#fd351c" d="M188 0h1.3M262 0h1.3"/><path stroke="#754ced" d="M369 0h1.3"/></g>
<rect x="26.80" y="261.44" width="627.50" height="4.95" fill="#cbcbcb" stroke="#474747" stroke-width="1.15"/>
<rect x="105.00" y="260.99" width="1.00" height="5.9" fill="#111"/>
<rect x="117.80" y="260.99" width="1.00" height="5.9" fill="#111"/>
<rect x="323.40" y="260.99" width="1.00" height="5.9" fill="#111"/>
<rect x="411.80" y="260.99" width="1.00" height="5.9" fill="#111"/>
<rect x="653.20" y="260.99" width="1.50" height="5.9" fill="#111"/>
<rect x="667.2" y="279.12" width="14.7" height="60.7" fill="#d9d9d9"/>
<text transform="translate(671.1 309.07) rotate(90)" font-size="9.5" text-anchor="middle" fill="#1a1a1a">Chr5</text>
<text x="17" y="335.22" font-size="8.6" text-anchor="end" fill="#4d4d4d">1</text>
<line x1="18.4" x2="20.4" y1="332.42" y2="332.42" stroke="#333" stroke-width="0.6"/>
<text x="17" y="327.66" font-size="8.6" text-anchor="end" fill="#4d4d4d">2</text>
<line x1="18.4" x2="20.4" y1="324.86" y2="324.86" stroke="#333" stroke-width="0.6"/>
<text x="17" y="320.10" font-size="8.6" text-anchor="end" fill="#4d4d4d">3</text>
<line x1="18.4" x2="20.4" y1="317.30" y2="317.30" stroke="#333" stroke-width="0.6"/>
<text x="17" y="312.54" font-size="8.6" text-anchor="end" fill="#4d4d4d">4</text>
<line x1="18.4" x2="20.4" y1="309.74" y2="309.74" stroke="#333" stroke-width="0.6"/>
<text x="17" y="304.98" font-size="8.6" text-anchor="end" fill="#4d4d4d">5</text>
<line x1="18.4" x2="20.4" y1="302.18" y2="302.18" stroke="#333" stroke-width="0.6"/>
<text x="17" y="297.42" font-size="8.6" text-anchor="end" fill="#4d4d4d">6</text>
<line x1="18.4" x2="20.4" y1="294.62" y2="294.62" stroke="#333" stroke-width="0.6"/>
<text x="17" y="289.86" font-size="8.6" text-anchor="end" fill="#4d4d4d">7</text>
<line x1="18.4" x2="20.4" y1="287.06" y2="287.06" stroke="#333" stroke-width="0.6"/>
<g transform="translate(26.4 287.06) scale(1.548 1)" stroke-width="5.0"><path stroke="#639556" d="M0 0h1.3M5 0h1.3M13 0h1.3M43 0h1.3M46 0h1.3M70 0h1.3M131 0h1.3M154 0h1.3M193 0h1.3M223 0h1.3"/><path stroke="#86ac79" d="M1 0h1.3M24 0h2.3M50 0h1.3M54 0h1.3M56 0h1.3M126 0h1.3M139 0h1.3M169 0h1.3M199 0h1.3M214 0h1.3M222 0h1.3M237 0h1.3"/><path stroke="#9dbc92" d="M2 0h1.3M167 0h1.3"/><path stroke="#8bb07f" d="M3 0h1.3M20 0h1.3M23 0h1.3M28 0h1.3M38 0h1.3M51 0h1.3M67 0h1.3M128 0h1.3M181 0h1.3M191 0h1.3M194 0h1.3"/><path stroke="#6f9d62" d="M4 0h1.3M15 0h1.3M21 0h1.3M48 0h1.3M114 0h1.3M144 0h2.3M195 0h1.3M209 0h1.3"/><path stroke="#aec7a4" d="M6 0h1.3M11 0h1.3M32 0h1.3M111 0h1.3M127 0h1.3M198 0h1.3"/><path stroke="#528a44" d="M7 0h1.3M33 0h1.3M45 0h1.3M57 0h1.3M123 0h1.3M149 0h1.3M179 0h1.3M188 0h1.3M220 0h1.3M236 0h1.3"/><path stroke="#407e32" d="M8 0h1.3M44 0h1.3M58 0h1.3M60 0h1.3M113 0h1.3M130 0h1.3M148 0h1.3M162 0h1.3M166 0h1.3M182 0h1.3M211 0h1.3"/><path stroke="#75a167" d="M9 0h1.3M18 0h1.3M30 0h1.3M34 0h1.3M132 0h1.3M135 0h1.3M140 0h1.3M160 0h1.3M180 0h1.3M190 0h1.3M208 0h1.3"/><path stroke="#c5d7be" d="M10 0h1.3M74 0h2.3M83 0h4.3M91 0h1.3M105 0h1.3M107 0h1.3M192 0h1.3"/><path stroke="#5e9150" d="M12 0h1.3M41 0h1.3M61 0h1.3M121 0h1.3M129 0h1.3M152 0h1.3M158 0h1.3M168 0h1.3M172 0h1.3M178 0h1.3M196 0h1.3M210 0h1.3M212 0h1.3M215 0h1.3M232 0h1.3"/><path stroke="#7aa46d" d="M14 0h1.3M17 0h1.3M22 0h1.3M36 0h1.3M53 0h1.3M65 0h1.3M136 0h1.3M170 0h2.3M201 0h1.3M203 0h1.3M207 0h1.3M233 0h1.3"/><path stroke="#588d4a" d="M16 0h1.3M37 0h1.3M40 0h1.3M62 0h3.3M69 0h1.3M120 0h1.3M122 0h1.3M125 0h1.3M161 0h1.3M177 0h1.3M189 0h1.3M235 0h1.3"/><path stroke="#97b88c" d="M19 0h1.3M39 0h1.3M49 0h1.3M146 0h1.3"/><path stroke="#bfd3b7" d="M26 0h1.3M96 0h1.3M100 0h1.3"/><path stroke="#d0dfca" d="M27 0h1.3M47 0h1.3M73 0h1.3M79 0h1.3M88 0h2.3M102 0h1.3"/><path stroke="#80a873" d="M29 0h1.3M31 0h1.3M35 0h1.3M55 0h1.3M116 0h1.3M138 0h1.3M206 0h1.3M219 0h1.3M221 0h1.3"/><path stroke="#b3cbab" d="M42 0h1.3M95 0h1.3M97 0h3.3M103 0h1.3M117 0h1.3M119 0h1.3M213 0h1.3"/><path stroke="#91b486" d="M52 0h1.3M134 0h1.3M197 0h1.3M200 0h1.3M202 0h1.3"/><path stroke="#a8c39e" d="M59 0h1.3M104 0h1.3"/><path stroke="#a2c098" d="M66 0h1.3M115 0h1.3M159 0h1.3"/><path stroke="#4c863e" d="M68 0h1.3M72 0h1.3M133 0h1.3M163 0h1.3M183 0h1.3M185 0h3.3M204 0h1.3M217 0h2.3M227 0h1.3M229 0h1.3"/><path stroke="#2b7320" d="M71 0h1.3M155 0h1.3M173 0h1.3M225 0h1.3"/><path stroke="#cadbc4" d="M76 0h1.3M78 0h1.3M82 0h1.3M101 0h1.3M109 0h1.3M118 0h1.3"/><path stroke="#edf3eb" d="M77 0h1.3M106 0h1.3M244 0h1.3M247 0h2.3M254 0h1.3M260 0h1.3M262 0h1.3"/><path stroke="#e7efe4" d="M80 0h1.3M110 0h1.3M241 0h1.3M256 0h1.3"/><path stroke="#d6e3d1" d="M81 0h1.3M92 0h1.3"/><path stroke="#f3f7f2" d="M87 0h1.3M250 0h1.3M258 0h1.3"/><path stroke="#b9cfb1" d="M90 0h1.3M94 0h1.3"/><path stroke="#dce7d7" d="M93 0h1.3"/><path stroke="#e2ebde" d="M108 0h1.3M251 0h1.3M255 0h1.3M257 0h1.3"/><path stroke="#327726" d="M112 0h1.3M216 0h1.3"/><path stroke="#106809" d="M124 0h1.3"/><path stroke="#69995c" d="M137 0h1.3M141 0h1.3M143 0h1.3M147 0h1.3M153 0h1.3M156 0h1.3M226 0h1.3M234 0h1.3"/><path stroke="#468238" d="M142 0h1.3M157 0h1.3M164 0h1.3M176 0h1.3M184 0h1.3M224 0h1.3"/><path stroke="#006400" d="M150 0h1.3M165 0h1.3M175 0h1.3M205 0h1.3M228 0h1.3M230 0h2.3"/><path stroke="#397b2c" d="M151 0h1.3"/><path stroke="#246f19" d="M174 0h1.3"/></g>
<g transform="translate(26.4 294.62) scale(1.548 1)" stroke-width="5.0"><path stroke="#e2ebde" d="M1 0h1.3M10 0h1.3M64 0h2.3M74 0h1.3M77 0h1.3M240 0h1.3"/><path stroke="#f3f7f2" d="M3 0h1.3M45 0h1.3M75 0h1.3M88 0h1.3M122 0h1.3M140 0h1.3M158 0h1.3M167 0h1.3M169 0h1.3M173 0h1.3M187 0h1.3M195 0h1.3M207 0h1.3M218 0h1.3M228 0h1.3"/><path stroke="#edf3eb" d="M6 0h1.3M17 0h1.3M29 0h1.3M38 0h2.3M49 0h2.3M72 0h1.3M79 0h1.3M86 0h1.3M123 0h2.3M128 0h1.3M150 0h2.3M159 0h1.3M161 0h1.3M163 0h1.3M188 0h1.3M197 0h4.3M220 0h1.3M232 0h1.3M234 0h1.3"/><path stroke="#e7efe4" d="M21 0h1.3M76 0h1.3M84 0h1.3M91 0h1.3M113 0h1.3M133 0h1.3M201 0h1.3M215 0h1.3M230 0h1.3M233 0h1.3"/><path stroke="#dce7d7" d="M56 0h1.3M94 0h1.3M244 0h1.3"/><path stroke="#f9fbf8" d="M71 0h1.3M93 0h1.3M112 0h1.3M191 0h1.3M216 0h1.3"/><path stroke="#639556" d="M235 0h1.3"/><path stroke="#9dbc92" d="M236 0h1.3M251 0h1.3"/><path stroke="#c5d7be" d="M237 0h1.3M242 0h1.3M245 0h1.3"/><path stroke="#bfd3b7" d="M238 0h1.3M247 0h1.3M256 0h1.3M261 0h1.3"/><path stroke="#aec7a4" d="M239 0h1.3"/><path stroke="#a2c098" d="M241 0h1.3M254 0h1.3M259 0h2.3M265 0h1.3"/><path stroke="#cadbc4" d="M243 0h1.3M258 0h1.3"/><path stroke="#b9cfb1" d="M246 0h1.3M250 0h1.3M266 0h1.3"/><path stroke="#b3cbab" d="M248 0h1.3M257 0h1.3"/><path stroke="#a8c39e" d="M249 0h1.3M267 0h1.023"/><path stroke="#97b88c" d="M252 0h2.3M255 0h1.3"/><path stroke="#91b486" d="M262 0h3.3"/></g>
<g transform="translate(26.4 317.30) scale(1.548 1)" stroke-width="5.0"><path stroke="#ff7352" d="M0 0h1.3"/><path stroke="#ffa387" d="M1 0h1.3M19 0h1.3M61 0h1.3M67 0h1.3M82 0h1.3M84 0h1.3M89 0h1.3M113 0h1.3M119 0h1.3M128 0h1.3M133 0h1.3M146 0h1.3M164 0h1.3M173 0h1.3M186 0h1.3M189 0h1.3M191 0h1.3M205 0h1.3M226 0h1.3M229 0h1.3M231 0h1.3M235 0h1.3M255 0h1.3"/><path stroke="#ffb7a0" d="M2 0h1.3M9 0h1.3M12 0h1.3M25 0h1.3M36 0h2.3M41 0h1.3M53 0h2.3M57 0h1.3M79 0h1.3M109 0h1.3M125 0h1.3M136 0h1.3M150 0h1.3M152 0h1.3M156 0h2.3M179 0h1.3M181 0h1.3M184 0h1.3M208 0h1.3M218 0h1.3M242 0h1.3M251 0h1.3M253 0h1.3"/><path stroke="#ffbca6" d="M3 0h1.3M8 0h1.3M23 0h1.3M43 0h1.3M47 0h1.3M85 0h1.3M88 0h1.3M106 0h1.3M131 0h1.3M134 0h1.3M137 0h1.3M144 0h1.3M149 0h1.3M172 0h1.3M193 0h1.3M201 0h1.3M204 0h1.3M210 0h1.3M216 0h1.3M222 0h1.3M225 0h1.3M228 0h1.3M243 0h1.3M248 0h1.3M258 0h1.3M262 0h1.3"/><path stroke="#ffcab8" d="M4 0h1.3M24 0h1.3M38 0h1.3M77 0h1.3M81 0h1.3M177 0h1.3M217 0h1.3M263 0h1.3"/><path stroke="#ffe7de" d="M5 0h1.3M7 0h1.3M33 0h1.3M93 0h2.3M96 0h1.3M102 0h1.3"/><path stroke="#ffad93" d="M6 0h1.3M20 0h3.3M49 0h1.3M59 0h1.3M63 0h2.3M86 0h1.3M108 0h1.3M114 0h1.3M120 0h1.3M139 0h1.3M159 0h1.3M187 0h1.3M190 0h1.3M194 0h1.3M212 0h1.3M230 0h1.3M247 0h1.3M254 0h1.3M256 0h1.3M266 0h2.023"/><path stroke="#ffb299" d="M10 0h1.3M17 0h2.3M56 0h1.3M73 0h1.3M123 0h1.3M138 0h1.3M174 0h1.3M180 0h1.3M188 0h1.3M199 0h1.3M203 0h1.3M213 0h1.3M215 0h1.3M238 0h1.3M259 0h1.3"/><path stroke="#ffd4c5" d="M11 0h1.3M40 0h1.3M60 0h1.3M195 0h1.3M233 0h1.3"/><path stroke="#ff9475" d="M13 0h1.3M29 0h1.3M45 0h1.3M48 0h1.3M68 0h1.3M118 0h1.3M145 0h1.3M161 0h1.3M175 0h1.3M207 0h1.3M234 0h1.3M241 0h1.3M244 0h1.3M249 0h1.3"/><path stroke="#ff997b" d="M14 0h1.3M31 0h1.3M62 0h1.3M87 0h1.3M132 0h1.3M143 0h1.3M153 0h2.3M166 0h1.3M192 0h1.3M197 0h1.3M211 0h1.3M224 0h1.3M261 0h1.3"/><path stroke="#ff8464" d="M15 0h1.3M44 0h1.3"/><path stroke="#ff8e6f" d="M16 0h1.3M28 0h1.3M58 0h1.3M127 0h1.3M142 0h1.3M155 0h1.3M162 0h1.3M206 0h1.3M214 0h1.3"/><path stroke="#ff7e5e" d="M26 0h1.3M111 0h1.3M147 0h1.3"/><path stroke="#ff8969" d="M27 0h1.3M76 0h1.3M124 0h1.3M129 0h2.3M165 0h1.3M209 0h1.3"/><path stroke="#ffa88d" d="M30 0h1.3M50 0h1.3M65 0h1.3M69 0h2.3M110 0h1.3M112 0h1.3M126 0h1.3M151 0h1.3M185 0h1.3M198 0h1.3M200 0h1.3M220 0h2.3M227 0h1.3M265 0h1.3"/><path stroke="#fff1eb" d="M32 0h1.3M92 0h1.3M95 0h1.3M98 0h1.3M101 0h1.3M268 0h0.023"/><path stroke="#ffc1ac" d="M34 0h1.3M42 0h1.3M78 0h1.3M80 0h1.3M83 0h1.3M107 0h1.3M116 0h1.3M135 0h1.3M158 0h1.3M170 0h1.3M176 0h1.3M178 0h1.3M246 0h1.3M250 0h1.3M257 0h1.3M260 0h1.3M264 0h1.3"/><path stroke="#ffd9cb" d="M35 0h1.3M196 0h1.3M202 0h1.3"/><path stroke="#ffc6b2" d="M39 0h1.3M66 0h1.3M183 0h1.3M237 0h1.3M252 0h1.3"/><path stroke="#ff9e81" d="M46 0h1.3M51 0h2.3M72 0h1.3M117 0h1.3M121 0h2.3M141 0h1.3M160 0h1.3M163 0h1.3M167 0h1.3M169 0h1.3M182 0h1.3M219 0h1.3M223 0h1.3M232 0h1.3M240 0h1.3M245 0h1.3"/><path stroke="#ff7958" d="M55 0h1.3M71 0h1.3M168 0h1.3"/><path stroke="#ff6d4c" d="M74 0h1.3M148 0h1.3"/><path stroke="#ff6846" d="M75 0h1.3"/><path stroke="#fff5f2" d="M90 0h2.3M97 0h1.3M100 0h1.3"/><path stroke="#ffece5" d="M99 0h1.3M103 0h1.3M236 0h1.3"/><path stroke="#ffcfbf" d="M104 0h2.3M115 0h1.3M140 0h1.3M171 0h1.3M239 0h1.3"/></g>
<g transform="translate(26.4 324.86) scale(1.548 1)" stroke-width="5.0"><path stroke="#ffc675" d="M0 0h1.3M68 0h1.3M196 0h1.3M234 0h1.3M240 0h1.3"/><path stroke="#ffcd86" d="M1 0h1.3M34 0h1.3M37 0h1.3M41 0h1.3M77 0h1.3M149 0h1.3M174 0h1.3M179 0h1.3M220 0h2.3M252 0h1.3"/><path stroke="#ffdaa7" d="M2 0h1.3M6 0h1.3M12 0h1.3M42 0h1.3M52 0h1.3M74 0h2.3M111 0h1.3M129 0h1.3M131 0h1.3M160 0h1.3M176 0h1.3M188 0h1.3M190 0h1.3M226 0h1.3M253 0h1.3"/><path stroke="#ffd69c" d="M3 0h2.3M7 0h1.3M22 0h1.3M43 0h1.3M58 0h1.3M65 0h1.3M73 0h1.3M80 0h1.3M110 0h1.3M115 0h2.3M147 0h1.3M161 0h1.3M189 0h1.3M199 0h1.3M238 0h1.3"/><path stroke="#ffe8c7" d="M5 0h1.3M48 0h1.3M56 0h1.3M132 0h1.3M158 0h1.3M191 0h1.3M250 0h1.3"/><path stroke="#ffc87b" d="M8 0h1.3M18 0h1.3M23 0h1.3M25 0h1.3M27 0h2.3M30 0h1.3M172 0h1.3M214 0h1.3M236 0h1.3"/><path stroke="#ffb446" d="M9 0h1.3"/><path stroke="#ffc46f" d="M10 0h1.3M32 0h1.3M39 0h1.3M54 0h1.3M60 0h1.3M162 0h1.3M171 0h1.3M231 0h1.3M235 0h1.3"/><path stroke="#ffd396" d="M11 0h1.3M17 0h1.3M40 0h1.3M44 0h1.3M53 0h1.3M55 0h1.3M64 0h1.3M67 0h1.3M112 0h1.3M124 0h1.3M141 0h1.3M153 0h2.3M177 0h1.3M195 0h1.3M203 0h1.3M224 0h1.3M243 0h1.3M246 0h1.3M249 0h1.3M259 0h1.3M262 0h1.3M264 0h1.3"/><path stroke="#fff1de" d="M13 0h1.3M31 0h1.3M97 0h1.3M222 0h1.3"/><path stroke="#ffe3bc" d="M14 0h1.3M87 0h1.3M107 0h1.3M123 0h1.3M182 0h1.3M201 0h1.3M211 0h1.3M213 0h1.3M223 0h1.3M225 0h1.3M230 0h1.3M255 0h1.3M257 0h1.3"/><path stroke="#ffdfb1" d="M15 0h1.3M108 0h1.3M128 0h1.3M134 0h1.3M143 0h1.3M156 0h1.3M185 0h1.3M187 0h1.3M202 0h1.3M204 0h1.3M209 0h1.3M216 0h1.3M219 0h1.3M244 0h1.3M260 0h1.3"/><path stroke="#ffd8a1" d="M16 0h1.3M20 0h1.3M35 0h1.3M61 0h1.3M71 0h1.3M89 0h1.3M117 0h1.3M122 0h1.3M127 0h1.3M133 0h1.3M146 0h1.3M159 0h1.3M163 0h1.3M165 0h1.3M167 0h1.3M173 0h1.3M178 0h1.3M180 0h1.3M183 0h1.3M186 0h1.3M192 0h1.3M197 0h2.3M200 0h1.3M206 0h2.3M210 0h1.3M227 0h1.3M233 0h1.3M248 0h1.3"/><path stroke="#ffca80" d="M19 0h1.3M29 0h1.3M33 0h1.3M45 0h2.3M72 0h1.3M78 0h1.3M104 0h2.3M166 0h1.3M247 0h1.3M265 0h1.3"/><path stroke="#ffcf8b" d="M21 0h1.3M24 0h1.3M26 0h1.3M49 0h1.3M114 0h1.3M136 0h1.3M139 0h1.3M170 0h1.3M239 0h1.3M241 0h1.3"/><path stroke="#ffdcac" d="M36 0h1.3M38 0h1.3M59 0h1.3M69 0h1.3M81 0h1.3M109 0h1.3M125 0h2.3M130 0h1.3M137 0h1.3M155 0h1.3M181 0h1.3M193 0h2.3M205 0h1.3M215 0h1.3M228 0h1.3M245 0h1.3"/><path stroke="#fffaf4" d="M47 0h1.3M90 0h1.3M94 0h1.3M102 0h1.3"/><path stroke="#ffbd5e" d="M50 0h1.3"/><path stroke="#ffbb58" d="M51 0h1.3M79 0h1.3"/><path stroke="#ffe1b7" d="M57 0h1.3M82 0h1.3M121 0h1.3M142 0h1.3M148 0h1.3M152 0h1.3M157 0h1.3M208 0h1.3M212 0h1.3M218 0h1.3M229 0h1.3M251 0h1.3M266 0h1.3"/><path stroke="#ffe6c2" d="M62 0h1.3M85 0h1.3M88 0h1.3M135 0h1.3M144 0h2.3M256 0h1.3M261 0h1.3"/><path stroke="#ffeacd" d="M63 0h1.3M151 0h1.3M217 0h1.3M267 0h1.023"/><path stroke="#ffc26a" d="M66 0h1.3M83 0h1.3"/><path stroke="#ffd191" d="M70 0h1.3M76 0h1.3M84 0h1.3M106 0h1.3M113 0h1.3M138 0h1.3M140 0h1.3M150 0h1.3M164 0h1.3M168 0h2.3M175 0h1.3M232 0h1.3M237 0h1.3M263 0h1.3"/><path stroke="#fff8ee" d="M91 0h1.3M93 0h1.3M254 0h1.3"/><path stroke="#fffdf9" d="M92 0h1.3"/><path stroke="#fff3e3" d="M95 0h1.3M98 0h2.3M101 0h1.3"/><path stroke="#fff6e9" d="M96 0h1.3M103 0h1.3M120 0h1.3"/><path stroke="#ffefd8" d="M118 0h1.3M184 0h1.3"/><path stroke="#ffecd2" d="M119 0h1.3M258 0h1.3"/><path stroke="#ffbf64" d="M242 0h1.3"/></g>
<g transform="translate(26.4 302.18) scale(1.548 1)" stroke-width="5.0"><path stroke="#6139f3" d="M0 0h1.3M56 0h1.3M228 0h1.3"/><path stroke="#3116fc" d="M1 0h5.3M11 0h3.3M15 0h1.3M19 0h3.3M24 0h1.3M28 0h2.3M32 0h2.3M37 0h2.3M44 0h2.3M50 0h6.3M58 0h3.3M63 0h2.3M66 0h5.3M73 0h1.3M78 0h1.3M80 0h1.3M82 0h4.3M88 0h2.3M104 0h2.3M108 0h7.3M119 0h2.3M123 0h7.3M134 0h3.3M138 0h2.3M142 0h2.3M145 0h1.3M147 0h2.3M152 0h1.3M157 0h2.3M160 0h1.3M162 0h1.3M164 0h3.3M169 0h2.3M173 0h1.3M175 0h2.3M179 0h2.3M182 0h1.3M184 0h1.3M186 0h1.3M188 0h3.3M192 0h3.3M196 0h2.3M199 0h1.3M203 0h2.3M207 0h1.3M209 0h1.3M212 0h5.3M219 0h1.3M221 0h1.3M224 0h1.3M226 0h1.3M230 0h3.3M234 0h1.3"/><path stroke="#0000ff" d="M6 0h2.3M9 0h2.3M16 0h1.3M18 0h1.3M22 0h1.3M25 0h2.3M30 0h2.3M35 0h2.3M39 0h5.3M46 0h4.3M61 0h1.3M65 0h1.3M71 0h1.3M74 0h4.3M79 0h1.3M81 0h1.3M86 0h1.3M91 0h1.3M102 0h1.3M115 0h3.3M122 0h1.3M131 0h3.3M146 0h1.3M153 0h2.3M156 0h1.3M159 0h1.3M161 0h1.3M163 0h1.3M167 0h2.3M171 0h2.3M174 0h1.3M177 0h2.3M181 0h1.3M183 0h1.3M185 0h1.3M187 0h1.3M191 0h1.3M195 0h1.3M198 0h1.3M200 0h2.3M205 0h2.3M211 0h1.3M220 0h1.3M222 0h2.3M225 0h1.3M227 0h1.3M229 0h1.3M233 0h1.3M268 0h0.023"/><path stroke="#754ced" d="M8 0h1.3M87 0h1.3M130 0h1.3M202 0h1.3"/><path stroke="#855de7" d="M14 0h1.3M72 0h1.3M103 0h1.3M121 0h1.3"/><path stroke="#6c43f0" d="M17 0h1.3M62 0h1.3M107 0h1.3M137 0h1.3M150 0h1.3M208 0h1.3"/><path stroke="#4624f9" d="M23 0h1.3M57 0h1.3M93 0h1.3M97 0h1.3M106 0h1.3M118 0h1.3M141 0h1.3M144 0h1.3M149 0h1.3M151 0h1.3M155 0h1.3M210 0h1.3M217 0h2.3"/><path stroke="#7d54ea" d="M27 0h1.3M34 0h1.3M140 0h1.3"/><path stroke="#9876de" d="M90 0h1.3M92 0h1.3"/><path stroke="#9e7eda" d="M94 0h1.3M96 0h1.3M99 0h1.3"/><path stroke="#552ff6" d="M95 0h1.3"/><path stroke="#8c65e4" d="M98 0h1.3"/><path stroke="#926de1" d="M100 0h2.3"/><path stroke="#fe240f" d="M235 0h1.3M237 0h1.3M240 0h3.3M246 0h1.3M248 0h2.3M252 0h2.3M255 0h1.3M257 0h5.3M264 0h1.3"/><path stroke="#fc4226" d="M236 0h1.3"/><path stroke="#ff0000" d="M238 0h2.3M243 0h3.3M247 0h1.3M250 0h2.3M256 0h1.3M262 0h2.3M265 0h3.023"/><path stroke="#f76041" d="M254 0h1.3"/></g>
<rect x="26.80" y="329.57" width="414.10" height="4.95" fill="#cbcbcb" stroke="#474747" stroke-width="1.15"/>
<rect x="184.30" y="329.12" width="2.70" height="5.9" fill="#111"/>
<rect x="189.00" y="329.12" width="1.00" height="5.9" fill="#111"/>
<rect x="191.00" y="329.12" width="1.00" height="5.9" fill="#111"/>
<rect x="193.00" y="329.12" width="1.00" height="5.9" fill="#111"/>
<rect x="220.80" y="329.12" width="1.00" height="5.9" fill="#111"/>
<rect x="291.90" y="329.12" width="1.00" height="5.9" fill="#111"/>
<rect x="334.30" y="329.12" width="1.00" height="5.9" fill="#111"/>
<rect x="419.90" y="329.12" width="1.00" height="5.9" fill="#111"/>
<rect x="430.20" y="329.12" width="1.00" height="5.9" fill="#111"/>
<rect x="433.60" y="329.12" width="1.00" height="5.9" fill="#111"/>
<rect x="435.50" y="329.12" width="2.00" height="5.9" fill="#111"/>
<rect x="440.00" y="329.12" width="1.30" height="5.9" fill="#111"/>
<circle cx="161.7" cy="309.6" r="1.55" fill="#fff" stroke="#222" stroke-width="0.65"/>
<circle cx="177" cy="308.2" r="1.55" fill="#fff" stroke="#222" stroke-width="0.65"/>
<circle cx="185.2" cy="310.8" r="1.55" fill="#fff" stroke="#222" stroke-width="0.65"/>
<rect x="667.2" y="347.25" width="14.7" height="60.7" fill="#d9d9d9"/>
<text transform="translate(671.1 377.20) rotate(90)" font-size="9.5" text-anchor="middle" fill="#1a1a1a">Chr6</text>
<text x="17" y="403.35" font-size="8.6" text-anchor="end" fill="#4d4d4d">1</text>
<line x1="18.4" x2="20.4" y1="400.55" y2="400.55" stroke="#333" stroke-width="0.6"/>
<text x="17" y="395.79" font-size="8.6" text-anchor="end" fill="#4d4d4d">2</text>
<line x1="18.4" x2="20.4" y1="392.99" y2="392.99" stroke="#333" stroke-width="0.6"/>
<text x="17" y="388.23" font-size="8.6" text-anchor="end" fill="#4d4d4d">3</text>
<line x1="18.4" x2="20.4" y1="385.43" y2="385.43" stroke="#333" stroke-width="0.6"/>
<text x="17" y="380.67" font-size="8.6" text-anchor="end" fill="#4d4d4d">4</text>
<line x1="18.4" x2="20.4" y1="377.87" y2="377.87" stroke="#333" stroke-width="0.6"/>
<text x="17" y="373.11" font-size="8.6" text-anchor="end" fill="#4d4d4d">5</text>
<line x1="18.4" x2="20.4" y1="370.31" y2="370.31" stroke="#333" stroke-width="0.6"/>
<text x="17" y="365.55" font-size="8.6" text-anchor="end" fill="#4d4d4d">6</text>
<line x1="18.4" x2="20.4" y1="362.75" y2="362.75" stroke="#333" stroke-width="0.6"/>
<text x="17" y="357.99" font-size="8.6" text-anchor="end" fill="#4d4d4d">7</text>
<line x1="18.4" x2="20.4" y1="355.19" y2="355.19" stroke="#333" stroke-width="0.6"/>
<g transform="translate(26.4 355.19) scale(1.548 1)" stroke-width="5.0"><path stroke="#d6e3d1" d="M0 0h1.3M202 0h1.3"/><path stroke="#97b88c" d="M1 0h1.3M15 0h1.3M97 0h1.3M109 0h2.3M123 0h1.3M160 0h2.3M219 0h1.3M222 0h2.3M227 0h1.3M233 0h1.3M240 0h1.3M249 0h2.3M253 0h1.3"/><path stroke="#9dbc92" d="M2 0h1.3M13 0h1.3M23 0h1.3M86 0h1.3M89 0h1.3M102 0h1.3M137 0h1.3M148 0h1.3M192 0h1.3M195 0h1.3M252 0h1.3M262 0h1.3"/><path stroke="#c5d7be" d="M3 0h1.3M144 0h1.3M147 0h1.3M221 0h1.3M243 0h1.3"/><path stroke="#cadbc4" d="M4 0h1.3M36 0h1.3M40 0h1.3M73 0h1.3M103 0h1.3M138 0h1.3M145 0h2.3M216 0h1.3M226 0h1.3"/><path stroke="#639556" d="M5 0h1.3M41 0h1.3M65 0h1.3M107 0h1.3M164 0h1.3M182 0h1.3M205 0h1.3M214 0h1.3"/><path stroke="#528a44" d="M6 0h1.3M53 0h1.3M92 0h1.3M104 0h1.3M121 0h1.3M127 0h1.3M184 0h1.3M204 0h1.3M268 0h1.3"/><path stroke="#4c863e" d="M7 0h1.3M31 0h1.3M45 0h1.3M57 0h1.3M84 0h1.3M213 0h1.3"/><path stroke="#6f9d62" d="M8 0h3.3M18 0h1.3M33 0h1.3M54 0h1.3M63 0h1.3M67 0h1.3M75 0h1.3M82 0h1.3M85 0h1.3M93 0h2.3M167 0h1.3M217 0h1.3M246 0h1.3"/><path stroke="#a2c098" d="M11 0h1.3M17 0h1.3M74 0h1.3M87 0h1.3M139 0h1.3M151 0h1.3M166 0h1.3M172 0h1.3M225 0h1.3M237 0h1.3M248 0h1.3"/><path stroke="#8bb07f" d="M12 0h1.3M47 0h1.3M56 0h1.3M81 0h1.3M108 0h1.3M117 0h1.3M122 0h1.3M131 0h1.3M142 0h1.3M155 0h1.3M179 0h1.3M194 0h1.3M196 0h1.3M215 0h1.3"/><path stroke="#a8c39e" d="M14 0h1.3M21 0h1.3M37 0h1.3M232 0h1.3"/><path stroke="#b3cbab" d="M16 0h1.3M22 0h1.3M141 0h1.3M143 0h1.3M152 0h1.3M191 0h1.3M228 0h1.3M239 0h1.3"/><path stroke="#1b6b12" d="M19 0h1.3"/><path stroke="#588d4a" d="M20 0h1.3M25 0h1.3M50 0h1.3M60 0h1.3M71 0h2.3M83 0h1.3M90 0h1.3M96 0h1.3M118 0h1.3M163 0h1.3M211 0h1.3"/><path stroke="#397b2c" d="M24 0h1.3M39 0h1.3M62 0h1.3M158 0h1.3"/><path stroke="#75a167" d="M26 0h1.3M38 0h1.3M52 0h1.3M76 0h1.3M101 0h1.3M111 0h2.3M120 0h1.3M185 0h1.3M197 0h1.3M201 0h1.3M208 0h1.3M234 0h1.3M259 0h1.3"/><path stroke="#86ac79" d="M27 0h1.3M44 0h1.3M70 0h1.3M77 0h4.3M116 0h1.3M170 0h1.3M198 0h1.3M203 0h1.3M244 0h1.3M272 0h1.966"/><path stroke="#7aa46d" d="M28 0h1.3M32 0h1.3M51 0h1.3M99 0h1.3M119 0h1.3M156 0h1.3M165 0h1.3M171 0h1.3M173 0h1.3M177 0h1.3M187 0h1.3M199 0h1.3M218 0h1.3M269 0h1.3"/><path stroke="#69995c" d="M29 0h1.3M42 0h1.3M48 0h1.3M59 0h1.3M69 0h1.3M100 0h1.3M106 0h1.3M128 0h1.3M176 0h1.3M178 0h1.3M260 0h2.3"/><path stroke="#5e9150" d="M30 0h1.3M46 0h1.3M159 0h1.3M186 0h1.3M231 0h1.3M266 0h2.3M270 0h1.3"/><path stroke="#e2ebde" d="M34 0h1.3M124 0h1.3"/><path stroke="#b9cfb1" d="M35 0h1.3M140 0h1.3M149 0h1.3M189 0h1.3M235 0h1.3M241 0h1.3"/><path stroke="#91b486" d="M43 0h1.3M66 0h1.3M98 0h1.3M130 0h1.3M154 0h1.3M180 0h1.3M188 0h1.3M193 0h1.3M212 0h1.3M264 0h1.3"/><path stroke="#468238" d="M49 0h1.3M64 0h1.3M113 0h1.3M115 0h1.3M129 0h1.3M162 0h1.3M209 0h1.3M271 0h1.3"/><path stroke="#80a873" d="M55 0h1.3M88 0h1.3M105 0h1.3M134 0h1.3M136 0h1.3M181 0h1.3M200 0h1.3M206 0h2.3M210 0h1.3M224 0h1.3M229 0h1.3M263 0h1.3"/><path stroke="#327726" d="M58 0h1.3M126 0h1.3"/><path stroke="#246f19" d="M61 0h1.3M91 0h1.3"/><path stroke="#2b7320" d="M68 0h1.3"/><path stroke="#bfd3b7" d="M95 0h1.3M153 0h1.3M168 0h1.3M190 0h1.3M238 0h1.3"/><path stroke="#006400" d="M114 0h1.3"/><path stroke="#d0dfca" d="M125 0h1.3M251 0h1.3"/><path stroke="#e7efe4" d="M132 0h1.3M257 0h1.3"/><path stroke="#edf3eb" d="M133 0h1.3M242 0h1.3"/><path stroke="#dce7d7" d="M135 0h1.3M175 0h1.3M256 0h1.3"/><path stroke="#aec7a4" d="M150 0h1.3M174 0h1.3M220 0h1.3M236 0h1.3M265 0h1.3"/><path stroke="#106809" d="M157 0h1.3"/><path stroke="#407e32" d="M169 0h1.3M183 0h1.3M230 0h1.3M245 0h1.3M247 0h1.3"/></g>
<g transform="translate(26.4 362.75) scale(1.548 1)" stroke-width="5.0"><path stroke="#edf3eb" d="M0 0h1.3M5 0h1.3M12 0h1.3M28 0h1.3M41 0h1.3M56 0h1.3M59 0h1.3M77 0h1.3M87 0h1.3M123 0h2.3M130 0h1.3M135 0h1.3M143 0h1.3M149 0h1.3M154 0h1.3M169 0h1.3M178 0h1.3M183 0h1.3M185 0h1.3M187 0h1.3M205 0h1.3M220 0h1.3M225 0h1.3M234 0h1.3M251 0h1.3M259 0h1.3"/><path stroke="#f9fbf8" d="M1 0h1.3M83 0h1.3M92 0h1.3M103 0h1.3M109 0h1.3M111 0h1.3M131 0h1.3M218 0h1.3M226 0h1.3M241 0h1.3"/><path stroke="#f3f7f2" d="M18 0h1.3M20 0h1.3M47 0h1.3M55 0h1.3M58 0h1.3M63 0h2.3M101 0h1.3M107 0h2.3M110 0h1.3M120 0h1.3M125 0h1.3M156 0h2.3M161 0h1.3M211 0h1.3M228 0h1.3M230 0h2.3M240 0h1.3M254 0h2.3"/><path stroke="#e7efe4" d="M45 0h1.3M236 0h1.3"/><path stroke="#b9cfb1" d="M48 0h1.3"/><path stroke="#cadbc4" d="M49 0h1.3"/><path stroke="#e2ebde" d="M50 0h1.3"/></g>
<g transform="translate(26.4 385.43) scale(1.548 1)" stroke-width="5.0"><path stroke="#ff8969" d="M0 0h1.3M6 0h1.3M11 0h1.3M16 0h1.3M18 0h2.3M71 0h1.3M76 0h1.3M115 0h1.3M159 0h1.3M161 0h1.3M173 0h1.3M177 0h1.3M185 0h1.3M223 0h2.3"/><path stroke="#ff9475" d="M1 0h1.3M7 0h1.3M12 0h1.3M17 0h1.3M21 0h1.3M32 0h1.3M64 0h1.3M69 0h1.3M98 0h1.3M109 0h1.3M137 0h1.3M154 0h1.3M172 0h1.3M218 0h1.3M264 0h1.3M269 0h1.3"/><path stroke="#ffc1ac" d="M2 0h1.3M23 0h1.3M59 0h1.3M84 0h1.3M112 0h2.3M139 0h1.3M168 0h1.3M238 0h1.3M248 0h2.3"/><path stroke="#ffa387" d="M3 0h1.3M43 0h1.3M54 0h1.3M61 0h1.3M107 0h1.3M166 0h1.3M179 0h1.3M183 0h1.3M199 0h1.3M205 0h1.3M216 0h1.3M225 0h1.3M231 0h1.3M241 0h1.3M250 0h1.3M252 0h1.3"/><path stroke="#ff7958" d="M4 0h1.3M15 0h1.3M36 0h1.3M108 0h1.3M118 0h1.3M120 0h1.3M243 0h1.3M263 0h1.3"/><path stroke="#ff7e5e" d="M5 0h1.3M8 0h2.3M66 0h1.3M270 0h1.3"/><path stroke="#ffb299" d="M10 0h1.3M56 0h1.3M74 0h1.3M81 0h1.3M97 0h1.3M102 0h1.3M129 0h1.3M164 0h1.3M191 0h1.3M197 0h2.3M201 0h1.3M213 0h1.3M246 0h1.3"/><path stroke="#ff6846" d="M13 0h1.3M261 0h1.3"/><path stroke="#ff2913" d="M14 0h1.3"/><path stroke="#ff9e81" d="M20 0h1.3M30 0h1.3M33 0h1.3M77 0h1.3M93 0h2.3M104 0h1.3M163 0h1.3M170 0h1.3M178 0h1.3M181 0h1.3M209 0h1.3M212 0h1.3M221 0h1.3M266 0h1.3"/><path stroke="#ff997b" d="M22 0h1.3M39 0h1.3M55 0h1.3M116 0h1.3M121 0h1.3M123 0h1.3M162 0h1.3M165 0h1.3M180 0h1.3M186 0h1.3M194 0h2.3M208 0h1.3M232 0h1.3M253 0h1.3M262 0h1.3M268 0h1.3"/><path stroke="#ffad93" d="M24 0h1.3M38 0h1.3M78 0h1.3M126 0h1.3M155 0h1.3M167 0h1.3M171 0h1.3M184 0h1.3M202 0h1.3M211 0h1.3M230 0h1.3M245 0h1.3M271 0h1.3"/><path stroke="#ffa88d" d="M25 0h1.3M41 0h2.3M68 0h1.3M79 0h1.3M101 0h1.3M105 0h2.3M117 0h1.3M124 0h1.3M134 0h1.3M182 0h1.3M192 0h1.3M207 0h1.3M229 0h1.3M233 0h1.3M251 0h1.3M267 0h1.3"/><path stroke="#ff8464" d="M26 0h1.3M28 0h1.3M31 0h1.3M70 0h1.3M72 0h1.3M82 0h1.3M160 0h1.3M204 0h1.3M210 0h1.3M217 0h1.3M242 0h1.3"/><path stroke="#ff7352" d="M27 0h1.3M259 0h1.3"/><path stroke="#ffb7a0" d="M29 0h1.3M35 0h1.3M67 0h1.3M95 0h1.3M100 0h1.3M110 0h1.3M158 0h1.3M189 0h1.3M193 0h1.3M206 0h1.3M235 0h1.3M240 0h1.3M247 0h1.3"/><path stroke="#ff8e6f" d="M34 0h1.3M40 0h1.3M63 0h1.3M122 0h1.3M175 0h1.3M215 0h1.3M220 0h1.3M222 0h1.3M244 0h1.3M265 0h1.3"/><path stroke="#ffded2" d="M37 0h1.3M53 0h1.3M91 0h1.3M131 0h1.3M150 0h1.3M176 0h1.3M228 0h1.3M258 0h1.3"/><path stroke="#ffcfbf" d="M44 0h1.3M47 0h1.3M57 0h1.3M88 0h1.3M145 0h1.3M226 0h1.3M239 0h1.3"/><path stroke="#ffcab8" d="M45 0h1.3M51 0h2.3M83 0h1.3M103 0h1.3M114 0h1.3M219 0h1.3M236 0h1.3"/><path stroke="#ffd4c5" d="M46 0h1.3M92 0h1.3M119 0h1.3M142 0h1.3"/><path stroke="#ffece5" d="M48 0h1.3M85 0h1.3M90 0h1.3M152 0h1.3"/><path stroke="#ffe2d8" d="M49 0h2.3M89 0h1.3M96 0h1.3M151 0h1.3M153 0h1.3M188 0h1.3M256 0h2.3"/><path stroke="#ffbca6" d="M58 0h1.3M65 0h1.3M73 0h1.3M111 0h1.3M125 0h1.3M130 0h1.3M135 0h1.3M190 0h1.3M196 0h1.3M203 0h1.3M237 0h1.3"/><path stroke="#ffc6b2" d="M60 0h1.3M127 0h1.3M132 0h1.3M136 0h1.3M156 0h2.3M169 0h1.3M200 0h1.3M227 0h1.3"/><path stroke="#ffd9cb" d="M62 0h1.3M75 0h1.3M87 0h1.3M99 0h1.3M133 0h1.3M141 0h1.3M143 0h1.3M146 0h3.3M234 0h1.3"/><path stroke="#ffe7de" d="M80 0h1.3M86 0h1.3"/><path stroke="#fff5f2" d="M128 0h1.3M138 0h1.3M140 0h1.3M144 0h1.3"/><path stroke="#fffaf8" d="M149 0h1.3M254 0h2.3"/><path stroke="#ff6d4c" d="M174 0h1.3M260 0h1.3"/><path stroke="#ff6140" d="M187 0h1.3"/><path stroke="#fff1eb" d="M214 0h1.3"/><path stroke="#ff0000" d="M272 0h1.3"/><path stroke="#ff3e22" d="M273 0h0.966"/></g>
<g transform="translate(26.4 392.99) scale(1.548 1)" stroke-width="5.0"><path stroke="#ffdaa7" d="M0 0h1.3M6 0h1.3M20 0h1.3M73 0h1.3M107 0h1.3M119 0h1.3M132 0h1.3M159 0h1.3M169 0h1.3M171 0h1.3M181 0h1.3M203 0h1.3M210 0h1.3M224 0h1.3M241 0h1.3M246 0h1.3M270 0h2.3"/><path stroke="#ffbd5e" d="M1 0h1.3M14 0h1.3"/><path stroke="#ffd396" d="M2 0h1.3M7 0h1.3M26 0h1.3M29 0h1.3M58 0h1.3M60 0h1.3M77 0h1.3M103 0h1.3M111 0h1.3M125 0h1.3M172 0h1.3M207 0h1.3M213 0h1.3M238 0h1.3M263 0h1.3"/><path stroke="#ffc26a" d="M3 0h1.3M9 0h1.3M64 0h1.3M123 0h1.3M174 0h1.3M192 0h1.3"/><path stroke="#ffd8a1" d="M4 0h2.3M74 0h1.3M81 0h1.3M96 0h2.3M163 0h1.3M177 0h1.3M196 0h1.3M217 0h1.3M242 0h1.3M267 0h1.3"/><path stroke="#ffdfb1" d="M8 0h1.3M57 0h1.3M68 0h2.3M108 0h1.3M185 0h1.3M197 0h1.3M202 0h1.3M239 0h2.3M252 0h1.3"/><path stroke="#ffc675" d="M10 0h1.3M12 0h1.3M27 0h1.3M95 0h1.3M106 0h1.3M122 0h1.3M136 0h1.3M155 0h1.3M157 0h1.3M180 0h1.3M212 0h1.3M231 0h1.3M244 0h1.3"/><path stroke="#ffd191" d="M11 0h1.3M19 0h1.3M32 0h1.3M43 0h1.3M65 0h2.3M71 0h2.3M76 0h1.3M80 0h1.3M100 0h1.3M112 0h1.3M114 0h1.3M116 0h1.3M118 0h1.3M134 0h1.3M165 0h1.3M175 0h1.3M178 0h1.3M194 0h2.3M198 0h1.3M262 0h1.3"/><path stroke="#ffc46f" d="M13 0h1.3M28 0h1.3M63 0h1.3M179 0h1.3M230 0h1.3M232 0h1.3M243 0h1.3"/><path stroke="#ffcf8b" d="M15 0h1.3M34 0h1.3M42 0h1.3M98 0h1.3M102 0h1.3M113 0h1.3M154 0h1.3M160 0h1.3M170 0h1.3M173 0h1.3M182 0h1.3M218 0h1.3M247 0h1.3M265 0h1.3"/><path stroke="#ffd69c" d="M16 0h1.3M21 0h1.3M30 0h1.3M38 0h1.3M59 0h1.3M75 0h1.3M110 0h1.3M124 0h1.3M128 0h1.3M187 0h1.3M205 0h1.3M208 0h2.3M215 0h1.3M226 0h2.3M229 0h1.3M233 0h1.3M235 0h1.3M237 0h1.3M245 0h1.3M260 0h1.3M269 0h1.3"/><path stroke="#ffe6c2" d="M17 0h2.3M36 0h1.3M87 0h1.3M117 0h1.3M251 0h1.3"/><path stroke="#ffdcac" d="M22 0h1.3M67 0h1.3M78 0h1.3M82 0h1.3M93 0h1.3M104 0h2.3M109 0h1.3M126 0h1.3M131 0h1.3M162 0h1.3M168 0h1.3M184 0h1.3M204 0h1.3M216 0h1.3M220 0h2.3M236 0h1.3M250 0h1.3M261 0h1.3M264 0h1.3"/><path stroke="#fff3e3" d="M23 0h1.3M45 0h1.3M47 0h1.3M53 0h1.3M92 0h1.3M140 0h2.3M143 0h1.3M147 0h1.3M150 0h1.3"/><path stroke="#ffeacd" d="M24 0h1.3M35 0h1.3M83 0h1.3M85 0h1.3M219 0h1.3M222 0h1.3M258 0h1.3"/><path stroke="#ffe1b7" d="M25 0h1.3M44 0h1.3M61 0h1.3M88 0h1.3M99 0h1.3M158 0h1.3M167 0h1.3M201 0h1.3M228 0h1.3M268 0h1.3"/><path stroke="#ffcd86" d="M31 0h1.3M62 0h1.3M101 0h1.3M121 0h1.3M137 0h1.3M161 0h1.3M164 0h1.3M166 0h1.3M183 0h1.3M193 0h1.3M211 0h1.3M214 0h1.3M234 0h1.3"/><path stroke="#fff1de" d="M33 0h1.3M37 0h1.3M46 0h1.3M52 0h1.3M129 0h1.3M199 0h1.3M225 0h1.3M249 0h1.3M257 0h1.3"/><path stroke="#ffca80" d="M39 0h2.3M135 0h1.3M156 0h1.3M176 0h1.3M188 0h4.3"/><path stroke="#ffc87b" d="M41 0h1.3M206 0h1.3M259 0h1.3"/><path stroke="#ffecd2" d="M48 0h1.3M51 0h1.3M253 0h1.3"/><path stroke="#fff6e9" d="M49 0h1.3M55 0h1.3M86 0h1.3M146 0h1.3M152 0h1.3"/><path stroke="#fff8ee" d="M50 0h1.3M130 0h1.3M145 0h1.3M149 0h1.3M153 0h1.3M200 0h1.3"/><path stroke="#ffe3bc" d="M54 0h1.3M70 0h1.3M79 0h1.3M133 0h1.3M223 0h1.3"/><path stroke="#ffefd8" d="M56 0h1.3M84 0h1.3M91 0h1.3M115 0h1.3M138 0h1.3M151 0h1.3"/><path stroke="#ffe8c7" d="M89 0h1.3M94 0h1.3M127 0h1.3M186 0h1.3"/><path stroke="#fffaf4" d="M90 0h1.3M139 0h1.3M148 0h1.3M254 0h1.3"/><path stroke="#ffbf64" d="M120 0h1.3M248 0h1.3"/><path stroke="#fffdf9" d="M255 0h1.3"/><path stroke="#ffb64c" d="M266 0h1.3"/><path stroke="#ffac29" d="M272 0h1.3"/><path stroke="#ffa920" d="M273 0h0.966"/></g>
<g transform="translate(26.4 370.31) scale(1.548 1)" stroke-width="5.0"><path stroke="#3116fc" d="M0 0h3.3M4 0h2.3M8 0h2.3M11 0h2.3M16 0h4.3M22 0h5.3M29 0h4.3M34 0h2.3M38 0h2.3M41 0h1.3M43 0h1.3M55 0h2.3M58 0h1.3M63 0h4.3M68 0h3.3M72 0h3.3M78 0h1.3M80 0h4.3M87 0h1.3M90 0h1.3M93 0h2.3M96 0h3.3M101 0h5.3M107 0h2.3M110 0h4.3M121 0h2.3M125 0h2.3M128 0h1.3M130 0h2.3M135 0h3.3M139 0h1.3M142 0h2.3M145 0h1.3M154 0h1.3M156 0h4.3M162 0h7.3M172 0h1.3M174 0h3.3M178 0h4.3M185 0h2.3M190 0h4.3M195 0h1.3M197 0h1.3M201 0h5.3M207 0h1.3M209 0h1.3M211 0h1.3M215 0h6.3M222 0h4.3M227 0h2.3M232 0h1.3M236 0h1.3M244 0h1.3M246 0h1.3M248 0h1.3M255 0h3.3M260 0h1.3M263 0h1.3M265 0h1.3M267 0h2.3M271 0h1.3"/><path stroke="#0000ff" d="M3 0h1.3M6 0h2.3M13 0h3.3M21 0h1.3M27 0h1.3M33 0h1.3M37 0h1.3M40 0h1.3M42 0h1.3M54 0h1.3M57 0h1.3M59 0h2.3M71 0h1.3M75 0h3.3M79 0h1.3M84 0h1.3M86 0h1.3M89 0h1.3M91 0h1.3M95 0h1.3M109 0h1.3M119 0h1.3M123 0h1.3M129 0h1.3M133 0h2.3M138 0h1.3M140 0h1.3M144 0h1.3M155 0h1.3M160 0h2.3M171 0h1.3M173 0h1.3M182 0h1.3M184 0h1.3M187 0h2.3M194 0h1.3M196 0h1.3M199 0h2.3M208 0h1.3M212 0h3.3M226 0h1.3M230 0h1.3M233 0h2.3M242 0h1.3M258 0h1.3M261 0h2.3M264 0h1.3M270 0h1.3M272 0h1.966"/><path stroke="#6c43f0" d="M10 0h1.3M62 0h1.3M116 0h1.3M147 0h1.3M177 0h1.3M221 0h1.3M231 0h1.3M266 0h1.3"/><path stroke="#4624f9" d="M20 0h1.3M36 0h1.3M61 0h1.3M88 0h1.3M99 0h2.3M106 0h1.3M115 0h1.3M127 0h1.3M132 0h1.3M141 0h1.3M146 0h1.3M169 0h1.3M183 0h1.3M189 0h1.3M198 0h1.3M210 0h1.3M238 0h1.3M241 0h1.3M243 0h1.3M249 0h2.3M259 0h1.3"/><path stroke="#7d54ea" d="M28 0h1.3M85 0h1.3M114 0h1.3M124 0h1.3M170 0h1.3M229 0h1.3"/><path stroke="#9876de" d="M44 0h1.3M46 0h2.3M239 0h1.3"/><path stroke="#926de1" d="M45 0h1.3M237 0h1.3"/><path stroke="#b09ecd" d="M48 0h1.3"/><path stroke="#a386d7" d="M49 0h1.3M53 0h1.3M247 0h1.3"/><path stroke="#ac96d0" d="M50 0h1.3"/><path stroke="#9e7eda" d="M51 0h1.3"/><path stroke="#a78ed4" d="M52 0h1.3"/><path stroke="#855de7" d="M67 0h1.3M92 0h1.3M120 0h1.3M253 0h1.3"/><path stroke="#754ced" d="M117 0h1.3M206 0h1.3M269 0h1.3"/><path stroke="#6139f3" d="M118 0h1.3"/><path stroke="#b7aec6" d="M148 0h1.3M245 0h1.3"/><path stroke="#bbb6c2" d="M149 0h1.3M152 0h1.3"/><path stroke="#bebebe" d="M150 0h2.3"/><path stroke="#c5b8b5" d="M153 0h1.3"/><path stroke="#fe240f" d="M235 0h1.3"/><path stroke="#552ff6" d="M240 0h1.3M252 0h1.3"/><path stroke="#fd351c" d="M251 0h1.3"/><path stroke="#f76041" d="M254 0h1.3"/></g>
<rect x="26.80" y="397.70" width="423.30" height="4.95" fill="#cbcbcb" stroke="#474747" stroke-width="1.15"/>
<rect x="99.00" y="397.25" width="1.00" height="5.9" fill="#111"/>
<rect x="194.00" y="397.25" width="2.00" height="5.9" fill="#111"/>
<rect x="197.00" y="397.25" width="1.00" height="5.9" fill="#111"/>
<rect x="199.00" y="397.25" width="1.00" height="5.9" fill="#111"/>
<rect x="200.50" y="397.25" width="1.00" height="5.9" fill="#111"/>
<rect x="226.00" y="397.25" width="1.00" height="5.9" fill="#111"/>
<rect x="246.20" y="397.25" width="1.00" height="5.9" fill="#111"/>
<rect x="263.80" y="397.25" width="1.00" height="5.9" fill="#111"/>
<rect x="449.30" y="397.25" width="1.20" height="5.9" fill="#111"/>
<rect x="667.2" y="415.38" width="14.7" height="60.7" fill="#d9d9d9"/>
<text transform="translate(671.1 445.33) rotate(90)" font-size="9.5" text-anchor="middle" fill="#1a1a1a">Chr7</text>
<text x="17" y="471.48" font-size="8.6" text-anchor="end" fill="#4d4d4d">1</text>
<line x1="18.4" x2="20.4" y1="468.68" y2="468.68" stroke="#333" stroke-width="0.6"/>
<text x="17" y="463.92" font-size="8.6" text-anchor="end" fill="#4d4d4d">2</text>
<line x1="18.4" x2="20.4" y1="461.12" y2="461.12" stroke="#333" stroke-width="0.6"/>
<text x="17" y="456.36" font-size="8.6" text-anchor="end" fill="#4d4d4d">3</text>
<line x1="18.4" x2="20.4" y1="453.56" y2="453.56" stroke="#333" stroke-width="0.6"/>
<text x="17" y="448.80" font-size="8.6" text-anchor="end" fill="#4d4d4d">4</text>
<line x1="18.4" x2="20.4" y1="446.00" y2="446.00" stroke="#333" stroke-width="0.6"/>
<text x="17" y="441.24" font-size="8.6" text-anchor="end" fill="#4d4d4d">5</text>
<line x1="18.4" x2="20.4" y1="438.44" y2="438.44" stroke="#333" stroke-width="0.6"/>
<text x="17" y="433.68" font-size="8.6" text-anchor="end" fill="#4d4d4d">6</text>
<line x1="18.4" x2="20.4" y1="430.88" y2="430.88" stroke="#333" stroke-width="0.6"/>
<text x="17" y="426.12" font-size="8.6" text-anchor="end" fill="#4d4d4d">7</text>
<line x1="18.4" x2="20.4" y1="423.32" y2="423.32" stroke="#333" stroke-width="0.6"/>
<g transform="translate(26.4 423.32) scale(1.548 1)" stroke-width="5.0"><path stroke="#edf3eb" d="M3 0h1.3M253 0h1.3M258 0h1.3M262 0h1.3M278 0h1.3M292 0h1.3M322 0h2.3"/><path stroke="#f9fbf8" d="M8 0h1.3M248 0h1.3M334 0h0.238"/><path stroke="#9dbc92" d="M12 0h1.3M26 0h1.3M30 0h1.3M61 0h1.3M67 0h1.3M86 0h1.3M110 0h1.3M118 0h1.3M133 0h1.3M183 0h1.3M212 0h1.3"/><path stroke="#80a873" d="M13 0h1.3M22 0h1.3M47 0h1.3M80 0h1.3M91 0h1.3M158 0h1.3M175 0h1.3M187 0h1.3M210 0h1.3M246 0h1.3"/><path stroke="#4c863e" d="M14 0h1.3M23 0h1.3M77 0h1.3M122 0h1.3M162 0h1.3M165 0h2.3M171 0h1.3M205 0h1.3M225 0h1.3"/><path stroke="#75a167" d="M15 0h1.3M20 0h1.3M48 0h1.3M52 0h1.3M72 0h1.3M97 0h1.3M113 0h1.3M116 0h2.3M151 0h1.3M155 0h1.3M173 0h1.3M179 0h1.3M226 0h1.3M229 0h1.3"/><path stroke="#86ac79" d="M16 0h1.3M25 0h1.3M29 0h1.3M53 0h1.3M75 0h1.3M103 0h1.3M108 0h1.3M111 0h1.3M135 0h1.3M141 0h2.3M153 0h1.3M174 0h1.3M177 0h1.3M182 0h1.3M198 0h1.3M211 0h1.3M219 0h1.3M236 0h1.3"/><path stroke="#8bb07f" d="M17 0h1.3M37 0h1.3M43 0h1.3M59 0h1.3M69 0h1.3M93 0h2.3M101 0h1.3M143 0h1.3M194 0h1.3M209 0h1.3M237 0h1.3"/><path stroke="#91b486" d="M18 0h1.3M35 0h1.3M38 0h1.3M46 0h1.3M64 0h1.3M84 0h1.3M102 0h1.3M140 0h1.3M188 0h1.3M195 0h2.3M213 0h1.3M238 0h1.3M245 0h1.3"/><path stroke="#a8c39e" d="M19 0h1.3M73 0h1.3M96 0h1.3M100 0h1.3M124 0h1.3"/><path stroke="#588d4a" d="M21 0h1.3M57 0h1.3M78 0h1.3M81 0h1.3M121 0h1.3M147 0h1.3M172 0h1.3M178 0h1.3M200 0h1.3M231 0h1.3"/><path stroke="#cadbc4" d="M24 0h1.3M44 0h1.3M214 0h1.3M235 0h1.3M242 0h1.3"/><path stroke="#6f9d62" d="M27 0h2.3M74 0h1.3M98 0h1.3M115 0h1.3M161 0h1.3M164 0h1.3M186 0h1.3M218 0h1.3M228 0h1.3M244 0h1.3"/><path stroke="#639556" d="M31 0h1.3M54 0h2.3M138 0h1.3M156 0h2.3M163 0h1.3M170 0h1.3"/><path stroke="#1b6b12" d="M32 0h1.3M149 0h1.3"/><path stroke="#2b7320" d="M33 0h1.3M40 0h1.3"/><path stroke="#69995c" d="M34 0h1.3M36 0h1.3M76 0h1.3M123 0h1.3M144 0h2.3M159 0h1.3M222 0h1.3M233 0h1.3"/><path stroke="#528a44" d="M39 0h1.3M85 0h1.3M92 0h1.3M104 0h1.3M168 0h1.3M203 0h1.3M215 0h1.3M223 0h2.3M227 0h1.3"/><path stroke="#468238" d="M41 0h1.3M62 0h1.3M105 0h1.3M185 0h1.3M206 0h1.3M230 0h1.3M232 0h1.3M241 0h1.3"/><path stroke="#407e32" d="M42 0h1.3M119 0h1.3M239 0h1.3"/><path stroke="#5e9150" d="M45 0h1.3M56 0h1.3M65 0h1.3M107 0h1.3M120 0h1.3M150 0h1.3M201 0h1.3M220 0h1.3"/><path stroke="#a2c098" d="M49 0h2.3M79 0h1.3M87 0h1.3M114 0h1.3M126 0h2.3M131 0h2.3M176 0h1.3M180 0h1.3M192 0h1.3M197 0h1.3M207 0h1.3M221 0h1.3"/><path stroke="#aec7a4" d="M51 0h1.3M60 0h1.3M68 0h1.3M130 0h1.3M136 0h1.3"/><path stroke="#dce7d7" d="M58 0h1.3M139 0h1.3"/><path stroke="#c5d7be" d="M63 0h1.3M129 0h1.3M169 0h1.3M193 0h1.3"/><path stroke="#7aa46d" d="M66 0h1.3M90 0h1.3M99 0h1.3M109 0h1.3M112 0h1.3M125 0h1.3M134 0h1.3M137 0h1.3M152 0h1.3M160 0h1.3M240 0h1.3"/><path stroke="#b3cbab" d="M70 0h1.3M199 0h1.3M202 0h1.3M243 0h1.3"/><path stroke="#b9cfb1" d="M71 0h1.3"/><path stroke="#246f19" d="M82 0h1.3M148 0h1.3"/><path stroke="#d0dfca" d="M83 0h1.3M146 0h1.3M184 0h1.3"/><path stroke="#bfd3b7" d="M88 0h1.3M128 0h1.3M154 0h1.3M167 0h1.3"/><path stroke="#97b88c" d="M89 0h1.3M95 0h1.3M181 0h1.3M189 0h1.3M208 0h1.3M217 0h1.3M234 0h1.3"/><path stroke="#006400" d="M106 0h1.3"/><path stroke="#d6e3d1" d="M190 0h2.3M216 0h1.3"/><path stroke="#327726" d="M204 0h1.3"/><path stroke="#397b2c" d="M247 0h1.3"/><path stroke="#f3f7f2" d="M249 0h1.3M259 0h1.3M265 0h1.3M298 0h1.3M329 0h1.3"/><path stroke="#e7efe4" d="M268 0h1.3M287 0h1.3M291 0h1.3M293 0h1.3M306 0h1.3M312 0h1.3M316 0h1.3M318 0h1.3M320 0h1.3"/><path stroke="#e2ebde" d="M269 0h1.3M302 0h1.3M331 0h1.3"/></g>
<g transform="translate(26.4 430.88) scale(1.548 1)" stroke-width="5.0"><path stroke="#aec7a4" d="M0 0h1.3M255 0h1.3M269 0h1.3M278 0h2.3M294 0h1.3M296 0h1.3M300 0h1.3M331 0h2.3"/><path stroke="#b9cfb1" d="M1 0h1.3M4 0h1.3M7 0h1.3M265 0h1.3M319 0h1.3"/><path stroke="#9dbc92" d="M2 0h1.3M260 0h1.3M264 0h1.3M270 0h2.3M282 0h1.3M285 0h1.3M310 0h1.3M326 0h1.3"/><path stroke="#e2ebde" d="M3 0h1.3M275 0h1.3"/><path stroke="#b3cbab" d="M5 0h1.3M8 0h1.3M250 0h1.3M253 0h1.3M293 0h1.3M304 0h1.3M313 0h1.3M330 0h1.3"/><path stroke="#d0dfca" d="M6 0h1.3M248 0h1.3M252 0h1.3M274 0h1.3M308 0h1.3"/><path stroke="#c5d7be" d="M9 0h1.3M11 0h1.3M263 0h1.3M273 0h1.3M276 0h1.3M318 0h1.3"/><path stroke="#cadbc4" d="M10 0h1.3M333 0h1.238"/><path stroke="#e7efe4" d="M17 0h1.3M28 0h1.3M51 0h1.3M86 0h1.3M99 0h1.3M135 0h1.3M194 0h1.3M202 0h1.3M220 0h1.3M229 0h1.3M236 0h1.3M254 0h1.3"/><path stroke="#f3f7f2" d="M29 0h1.3M50 0h1.3M63 0h1.3M69 0h1.3M74 0h1.3M78 0h1.3M105 0h2.3M110 0h1.3M112 0h1.3M125 0h1.3M158 0h1.3M167 0h1.3M173 0h1.3M177 0h1.3M180 0h1.3M198 0h1.3M208 0h1.3M213 0h1.3M245 0h2.3"/><path stroke="#edf3eb" d="M33 0h1.3M44 0h1.3M52 0h1.3M58 0h1.3M82 0h1.3M87 0h1.3M98 0h1.3M104 0h1.3M107 0h1.3M115 0h1.3M117 0h1.3M140 0h1.3M150 0h1.3M153 0h1.3M184 0h1.3M186 0h1.3M197 0h1.3M210 0h1.3M215 0h1.3M249 0h1.3M305 0h1.3"/><path stroke="#f9fbf8" d="M144 0h1.3M156 0h1.3M201 0h1.3M232 0h1.3"/><path stroke="#86ac79" d="M251 0h1.3M301 0h1.3M323 0h2.3M328 0h1.3"/><path stroke="#8bb07f" d="M256 0h1.3M287 0h1.3"/><path stroke="#a2c098" d="M257 0h1.3M259 0h1.3M266 0h3.3M277 0h1.3M288 0h1.3M321 0h1.3"/><path stroke="#bfd3b7" d="M258 0h1.3M262 0h1.3M315 0h1.3"/><path stroke="#97b88c" d="M261 0h1.3M281 0h1.3M290 0h3.3M297 0h1.3M312 0h1.3"/><path stroke="#91b486" d="M272 0h1.3M280 0h1.3M284 0h1.3M289 0h1.3M299 0h1.3M303 0h1.3M311 0h1.3M322 0h1.3M329 0h1.3"/><path stroke="#a8c39e" d="M283 0h1.3M295 0h1.3M302 0h1.3M306 0h2.3M309 0h1.3M314 0h1.3M316 0h2.3M320 0h1.3M325 0h1.3"/><path stroke="#80a873" d="M286 0h1.3"/><path stroke="#75a167" d="M298 0h1.3M327 0h1.3"/></g>
<g transform="translate(26.4 453.56) scale(1.548 1)" stroke-width="5.0"><path stroke="#ffcab8" d="M0 0h2.3M49 0h1.3M51 0h1.3M58 0h1.3M68 0h2.3M86 0h1.3M95 0h2.3M107 0h1.3M122 0h1.3M133 0h1.3M167 0h1.3M230 0h1.3M242 0h1.3M255 0h1.3M267 0h2.3M271 0h1.3M287 0h1.3M298 0h1.3M328 0h1.3"/><path stroke="#ffb7a0" d="M2 0h1.3M15 0h1.3M41 0h1.3M93 0h1.3M101 0h2.3M132 0h1.3M146 0h1.3M168 0h1.3M174 0h1.3M188 0h1.3M199 0h3.3M211 0h1.3M238 0h1.3M280 0h1.3"/><path stroke="#ffad93" d="M3 0h1.3M6 0h1.3M22 0h1.3M36 0h1.3M38 0h1.3M42 0h1.3M72 0h2.3M75 0h1.3M80 0h2.3M88 0h1.3M97 0h1.3M155 0h1.3M185 0h1.3M208 0h1.3M214 0h1.3M234 0h1.3M240 0h2.3M245 0h1.3M252 0h1.3M279 0h1.3M313 0h1.3"/><path stroke="#ffc6b2" d="M4 0h2.3M13 0h1.3M23 0h1.3M39 0h1.3M54 0h1.3M56 0h2.3M61 0h2.3M70 0h1.3M99 0h1.3M103 0h1.3M108 0h1.3M165 0h2.3M180 0h1.3M186 0h2.3M197 0h1.3M219 0h1.3M222 0h1.3M250 0h1.3M260 0h1.3M270 0h1.3M294 0h1.3M323 0h1.3M329 0h1.3"/><path stroke="#ffb299" d="M7 0h3.3M14 0h1.3M87 0h1.3M90 0h1.3M104 0h1.3M106 0h1.3M109 0h1.3M126 0h1.3M145 0h1.3M148 0h1.3M176 0h1.3M210 0h1.3M225 0h2.3M239 0h1.3M246 0h1.3M282 0h1.3M292 0h2.3M295 0h1.3M297 0h1.3M304 0h1.3M312 0h1.3M316 0h1.3M331 0h1.3"/><path stroke="#ff997b" d="M10 0h1.3M17 0h1.3M110 0h1.3M121 0h1.3M136 0h2.3M147 0h1.3M153 0h1.3M173 0h1.3M178 0h1.3M206 0h1.3M218 0h1.3M264 0h1.3M272 0h1.3M275 0h1.3M322 0h1.3"/><path stroke="#ffa387" d="M11 0h1.3M21 0h1.3M35 0h1.3M105 0h1.3M115 0h1.3M117 0h2.3M127 0h1.3M172 0h1.3M175 0h1.3M190 0h1.3M198 0h1.3M204 0h2.3M209 0h1.3M244 0h1.3M254 0h1.3M263 0h1.3M296 0h1.3M317 0h1.3M324 0h1.3"/><path stroke="#ffcfbf" d="M12 0h1.3M52 0h1.3M59 0h1.3M74 0h1.3M82 0h1.3M131 0h1.3M161 0h1.3M164 0h1.3M179 0h1.3M261 0h1.3M278 0h1.3M281 0h1.3M283 0h1.3M288 0h1.3"/><path stroke="#ffa88d" d="M16 0h1.3M28 0h1.3M92 0h1.3M139 0h1.3M149 0h1.3M194 0h1.3M202 0h1.3M231 0h1.3M233 0h1.3M248 0h1.3M256 0h1.3M273 0h1.3M301 0h1.3M314 0h1.3M326 0h1.3"/><path stroke="#ffc1ac" d="M18 0h1.3M24 0h1.3M50 0h1.3M98 0h1.3M100 0h1.3M184 0h1.3M215 0h1.3M220 0h1.3M249 0h1.3M259 0h1.3M276 0h1.3M286 0h1.3M299 0h1.3"/><path stroke="#ff9e81" d="M19 0h2.3M25 0h2.3M29 0h1.3M33 0h1.3M76 0h1.3M79 0h1.3M123 0h2.3M128 0h1.3M171 0h1.3M177 0h1.3M183 0h1.3M216 0h1.3M224 0h1.3M228 0h1.3M237 0h1.3M247 0h1.3M265 0h1.3M274 0h1.3M306 0h1.3M308 0h1.3M310 0h1.3M325 0h1.3"/><path stroke="#ff8969" d="M27 0h1.3M89 0h1.3M116 0h1.3M138 0h1.3M144 0h1.3M154 0h1.3M207 0h1.3M217 0h1.3M302 0h1.3M305 0h1.3"/><path stroke="#ffd9cb" d="M30 0h1.3M48 0h1.3M60 0h1.3M65 0h3.3M83 0h1.3M181 0h2.3M221 0h1.3M251 0h1.3M277 0h1.3"/><path stroke="#ffe2d8" d="M31 0h2.3M53 0h1.3M63 0h1.3M85 0h1.3M111 0h1.3M114 0h1.3M159 0h1.3M315 0h1.3"/><path stroke="#ff8e6f" d="M34 0h1.3M119 0h1.3M141 0h1.3M191 0h1.3M195 0h1.3M212 0h1.3M232 0h1.3M290 0h1.3M303 0h1.3M311 0h1.3M320 0h1.3"/><path stroke="#ff9475" d="M37 0h1.3M43 0h1.3M129 0h1.3M140 0h1.3M142 0h2.3M150 0h1.3M152 0h1.3M196 0h1.3M203 0h1.3M223 0h1.3M253 0h1.3M309 0h1.3M318 0h2.3M333 0h1.238"/><path stroke="#ffbca6" d="M40 0h1.3M77 0h1.3M91 0h1.3M135 0h1.3M156 0h1.3M169 0h1.3M193 0h1.3M213 0h1.3M227 0h1.3M235 0h2.3M257 0h2.3M266 0h1.3M269 0h1.3M289 0h1.3M300 0h1.3M327 0h1.3M332 0h1.3"/><path stroke="#ffd4c5" d="M44 0h1.3M55 0h1.3M94 0h1.3M125 0h1.3M130 0h1.3M162 0h1.3"/><path stroke="#ffece5" d="M45 0h1.3M71 0h1.3M134 0h1.3M158 0h1.3M243 0h1.3M330 0h1.3"/><path stroke="#ffe7de" d="M46 0h1.3M113 0h1.3M163 0h1.3M189 0h1.3M284 0h1.3M291 0h1.3"/><path stroke="#fff1eb" d="M47 0h1.3M84 0h1.3M112 0h1.3M157 0h1.3"/><path stroke="#ffded2" d="M64 0h1.3M78 0h1.3M160 0h1.3M170 0h1.3M229 0h1.3"/><path stroke="#ff7958" d="M120 0h1.3M307 0h1.3"/><path stroke="#ff7352" d="M151 0h1.3"/><path stroke="#ff7e5e" d="M192 0h1.3M262 0h1.3M321 0h1.3"/><path stroke="#fffaf8" d="M285 0h1.3"/><path stroke="#fff5f2" d="M334 0h0.238"/></g>
<g transform="translate(26.4 461.12) scale(1.548 1)" stroke-width="5.0"><path stroke="#ffecd2" d="M0 0h1.3M45 0h1.3M48 0h1.3M51 0h1.3M55 0h1.3M68 0h2.3M160 0h1.3M162 0h1.3M188 0h1.3M190 0h1.3M209 0h1.3M212 0h1.3M218 0h1.3"/><path stroke="#ffcf8b" d="M1 0h1.3M3 0h1.3M21 0h1.3M85 0h1.3M96 0h1.3M104 0h1.3M119 0h1.3M134 0h1.3M136 0h1.3M152 0h1.3M193 0h1.3M199 0h1.3M202 0h1.3M234 0h1.3M277 0h2.3M300 0h1.3"/><path stroke="#ffb64c" d="M2 0h1.3"/><path stroke="#ffd8a1" d="M4 0h1.3M6 0h1.3M9 0h1.3M24 0h1.3M42 0h1.3M70 0h1.3M94 0h2.3M110 0h1.3M172 0h1.3M196 0h1.3M203 0h1.3M205 0h1.3M225 0h1.3M252 0h1.3M262 0h1.3M284 0h1.3M291 0h1.3M306 0h1.3M326 0h1.3M332 0h1.3"/><path stroke="#ffd69c" d="M5 0h1.3M12 0h2.3M86 0h1.3M106 0h1.3M151 0h1.3M164 0h1.3M185 0h1.3M245 0h1.3M255 0h1.3M266 0h1.3M275 0h1.3M281 0h1.3M289 0h1.3M294 0h1.3M302 0h1.3M308 0h1.3M312 0h1.3M317 0h1.3M325 0h1.3"/><path stroke="#ffe6c2" d="M7 0h1.3M40 0h1.3M46 0h2.3M49 0h1.3M61 0h1.3M65 0h1.3M78 0h1.3M107 0h1.3M157 0h1.3M166 0h2.3M173 0h1.3M204 0h1.3M211 0h1.3M273 0h2.3M295 0h1.3M323 0h1.3"/><path stroke="#ffdaa7" d="M8 0h1.3M30 0h1.3M87 0h1.3M97 0h1.3M128 0h1.3M156 0h1.3M171 0h1.3M181 0h1.3M183 0h1.3M187 0h1.3M238 0h1.3M243 0h1.3M248 0h1.3M251 0h1.3M260 0h1.3M271 0h1.3M285 0h2.3M290 0h1.3M311 0h1.3M316 0h1.3M329 0h2.3"/><path stroke="#ffe3bc" d="M10 0h1.3M35 0h1.3M63 0h1.3M72 0h1.3M75 0h1.3M80 0h2.3M90 0h1.3M109 0h1.3M168 0h1.3M180 0h1.3M214 0h1.3M221 0h1.3M303 0h1.3M313 0h1.3"/><path stroke="#ffe1b7" d="M11 0h1.3M18 0h1.3M33 0h1.3M73 0h1.3M89 0h1.3M98 0h1.3M108 0h1.3M143 0h1.3M170 0h1.3M192 0h1.3M241 0h1.3M246 0h1.3M263 0h1.3M288 0h1.3M331 0h1.3"/><path stroke="#ffdfb1" d="M14 0h1.3M20 0h1.3M32 0h1.3M43 0h1.3M71 0h1.3M74 0h1.3M79 0h1.3M92 0h1.3M123 0h1.3M149 0h1.3M165 0h1.3M216 0h1.3M239 0h1.3M250 0h1.3M287 0h1.3"/><path stroke="#ffd396" d="M15 0h1.3M82 0h1.3M84 0h1.3M91 0h1.3M105 0h1.3M127 0h1.3M130 0h1.3M150 0h1.3M174 0h1.3M184 0h1.3M215 0h1.3M229 0h1.3M237 0h1.3M247 0h1.3M319 0h1.3"/><path stroke="#ffc675" d="M16 0h1.3M118 0h1.3M133 0h1.3M139 0h1.3M145 0h1.3M177 0h1.3M194 0h1.3M206 0h1.3M280 0h1.3M293 0h1.3M301 0h1.3"/><path stroke="#ffc46f" d="M17 0h1.3M23 0h1.3M37 0h1.3M131 0h1.3M138 0h1.3M195 0h1.3M232 0h1.3M268 0h1.3M279 0h1.3"/><path stroke="#fff8ee" d="M19 0h1.3M159 0h1.3M322 0h1.3"/><path stroke="#ffca80" d="M22 0h1.3M103 0h1.3M120 0h1.3M144 0h1.3M147 0h1.3M175 0h1.3M227 0h1.3"/><path stroke="#ffdcac" d="M25 0h2.3M36 0h1.3M83 0h1.3M99 0h1.3M115 0h1.3M121 0h1.3M125 0h1.3M129 0h1.3M148 0h1.3M186 0h1.3M197 0h1.3M220 0h1.3M223 0h1.3M240 0h1.3M242 0h1.3M249 0h1.3M257 0h1.3M264 0h1.3M282 0h1.3M304 0h2.3M320 0h1.3"/><path stroke="#ffeacd" d="M27 0h3.3M31 0h1.3M53 0h2.3M93 0h1.3M158 0h1.3M163 0h1.3M207 0h1.3M213 0h1.3M222 0h1.3M327 0h1.3"/><path stroke="#fff1de" d="M34 0h1.3M77 0h1.3M88 0h1.3M116 0h1.3M169 0h1.3M189 0h1.3"/><path stroke="#ffd191" d="M38 0h2.3M100 0h1.3M126 0h1.3M135 0h1.3M146 0h1.3M154 0h1.3M179 0h1.3M200 0h1.3M208 0h1.3M226 0h1.3M233 0h1.3M236 0h1.3M253 0h1.3M258 0h1.3M261 0h1.3M265 0h1.3M269 0h1.3M272 0h1.3M283 0h1.3M307 0h1.3M314 0h1.3M318 0h1.3"/><path stroke="#ffe8c7" d="M41 0h1.3M44 0h1.3M50 0h1.3M52 0h1.3M56 0h3.3M64 0h1.3M67 0h1.3M124 0h1.3M219 0h1.3M224 0h1.3M276 0h1.3M315 0h1.3"/><path stroke="#ffefd8" d="M59 0h2.3M66 0h1.3M141 0h1.3M210 0h1.3M259 0h1.3M270 0h1.3M321 0h1.3"/><path stroke="#fff3e3" d="M62 0h1.3M142 0h1.3M182 0h1.3M191 0h1.3M198 0h1.3M217 0h1.3M328 0h1.3M333 0h1.238"/><path stroke="#fff6e9" d="M76 0h1.3M111 0h1.3M114 0h1.3"/><path stroke="#ffcd86" d="M101 0h2.3M117 0h1.3M137 0h1.3M140 0h1.3M153 0h1.3M155 0h1.3M176 0h1.3M201 0h1.3M244 0h1.3M254 0h1.3M256 0h1.3M296 0h4.3M309 0h2.3M324 0h1.3"/><path stroke="#fffaf4" d="M112 0h2.3M122 0h1.3M161 0h1.3"/><path stroke="#ffb23f" d="M132 0h1.3"/><path stroke="#ffc87b" d="M178 0h1.3M228 0h1.3M230 0h2.3M235 0h1.3"/><path stroke="#ffc26a" d="M267 0h1.3M292 0h1.3"/></g>
<g transform="translate(26.4 438.44) scale(1.548 1)" stroke-width="5.0"><path stroke="#ff0000" d="M0 0h2.3M3 0h1.3M11 0h1.3M248 0h1.3M251 0h1.3M257 0h2.3M265 0h1.3M268 0h1.3M271 0h1.3M274 0h1.3M276 0h1.3M278 0h1.3M283 0h1.3M285 0h2.3M289 0h2.3M296 0h2.3M300 0h3.3M305 0h1.3M308 0h6.3M316 0h3.3M320 0h1.3M324 0h4.3"/><path stroke="#fe240f" d="M2 0h1.3M4 0h6.3M234 0h1.3M249 0h2.3M252 0h5.3M259 0h6.3M266 0h2.3M269 0h2.3M273 0h1.3M275 0h1.3M277 0h1.3M279 0h4.3M284 0h1.3M287 0h2.3M291 0h5.3M298 0h2.3M303 0h2.3M306 0h2.3M314 0h2.3M319 0h1.3M321 0h3.3M329 0h1.3"/><path stroke="#fa4d2f" d="M10 0h1.3M212 0h1.3M272 0h1.3M328 0h1.3"/><path stroke="#3116fc" d="M12 0h1.3M15 0h3.3M20 0h1.3M22 0h4.3M31 0h2.3M34 0h1.3M36 0h2.3M39 0h1.3M41 0h1.3M43 0h1.3M47 0h1.3M49 0h1.3M51 0h1.3M54 0h1.3M56 0h2.3M62 0h1.3M67 0h1.3M73 0h2.3M77 0h2.3M82 0h2.3M85 0h1.3M87 0h4.3M92 0h2.3M95 0h4.3M101 0h1.3M103 0h10.3M116 0h8.3M126 0h3.3M132 0h2.3M135 0h1.3M138 0h5.3M144 0h5.3M150 0h3.3M154 0h2.3M157 0h5.3M164 0h3.3M169 0h2.3M172 0h2.3M175 0h2.3M178 0h6.3M187 0h1.3M192 0h1.3M194 0h4.3M200 0h3.3M205 0h1.3M210 0h1.3M214 0h1.3M227 0h2.3M334 0h0.238"/><path stroke="#6139f3" d="M13 0h1.3M63 0h1.3"/><path stroke="#0000ff" d="M14 0h1.3M18 0h1.3M28 0h3.3M40 0h1.3M42 0h1.3M44 0h3.3M48 0h1.3M50 0h1.3M52 0h2.3M55 0h1.3M59 0h3.3M64 0h3.3M69 0h2.3M75 0h1.3M79 0h1.3M81 0h1.3M84 0h1.3M91 0h1.3M94 0h1.3M100 0h1.3M114 0h2.3M124 0h2.3M129 0h2.3M134 0h1.3M136 0h2.3M143 0h1.3M149 0h1.3M153 0h1.3M162 0h1.3M167 0h1.3M186 0h1.3M188 0h2.3M191 0h1.3M193 0h1.3M199 0h1.3M206 0h1.3M208 0h2.3M215 0h1.3M225 0h1.3M245 0h1.3"/><path stroke="#855de7" d="M19 0h1.3"/><path stroke="#4624f9" d="M21 0h1.3M26 0h2.3M35 0h1.3M71 0h1.3M76 0h1.3M80 0h1.3M99 0h1.3M156 0h1.3M168 0h1.3M171 0h1.3M174 0h1.3M184 0h1.3M198 0h1.3M222 0h1.3M229 0h1.3M232 0h1.3M236 0h1.3"/><path stroke="#7d54ea" d="M33 0h1.3M38 0h1.3M131 0h1.3"/><path stroke="#6c43f0" d="M58 0h1.3M102 0h1.3M163 0h1.3M177 0h1.3"/><path stroke="#754ced" d="M68 0h1.3M72 0h1.3M86 0h1.3M185 0h1.3"/><path stroke="#bebebe" d="M113 0h1.3M241 0h2.3"/><path stroke="#f76041" d="M190 0h1.3"/><path stroke="#9876de" d="M203 0h2.3M223 0h1.3M233 0h1.3M235 0h1.3M237 0h1.3"/><path stroke="#bbb6c2" d="M207 0h1.3M330 0h1.3"/><path stroke="#9e7eda" d="M211 0h1.3"/><path stroke="#ccb2ac" d="M213 0h1.3M333 0h1.238"/><path stroke="#b7aec6" d="M216 0h1.3M226 0h1.3M331 0h2.3"/><path stroke="#552ff6" d="M217 0h1.3M219 0h1.3M230 0h1.3M239 0h1.3M244 0h1.3M246 0h1.3"/><path stroke="#926de1" d="M218 0h1.3"/><path stroke="#8c65e4" d="M220 0h1.3M224 0h1.3"/><path stroke="#d1aca2" d="M221 0h1.3"/><path stroke="#a386d7" d="M231 0h1.3M238 0h1.3M247 0h1.3"/><path stroke="#f37053" d="M240 0h1.3"/><path stroke="#b4a6c9" d="M243 0h1.3"/></g>
<rect x="26.80" y="465.83" width="516.60" height="4.95" fill="#cbcbcb" stroke="#474747" stroke-width="1.15"/>
<rect x="73.20" y="465.38" width="2.00" height="5.9" fill="#111"/>
<rect x="92.50" y="465.38" width="1.00" height="5.9" fill="#111"/>
<rect x="103.80" y="465.38" width="1.00" height="5.9" fill="#111"/>
<rect x="230.10" y="465.38" width="1.00" height="5.9" fill="#111"/>
<rect x="516.10" y="465.38" width="1.00" height="5.9" fill="#111"/>
<rect x="542.30" y="465.38" width="1.50" height="5.9" fill="#111"/>
<circle cx="524.9" cy="445.6" r="1.55" fill="#fff" stroke="#222" stroke-width="0.65"/>
<line x1="20.1" x2="667.4" y1="476.5" y2="476.5" stroke="#222" stroke-width="0.9"/>
<line x1="26.40" x2="26.40" y1="476.5" y2="478.3" stroke="#333" stroke-width="0.6"/>
<text x="26.40" y="486" font-size="9" text-anchor="middle" fill="#4d4d4d">0</text>
<line x1="181.20" x2="181.20" y1="476.5" y2="478.3" stroke="#333" stroke-width="0.6"/>
<text x="181.20" y="486" font-size="9" text-anchor="middle" fill="#4d4d4d">100</text>
<line x1="336.00" x2="336.00" y1="476.5" y2="478.3" stroke="#333" stroke-width="0.6"/>
<text x="336.00" y="486" font-size="9" text-anchor="middle" fill="#4d4d4d">200</text>
<line x1="490.80" x2="490.80" y1="476.5" y2="478.3" stroke="#333" stroke-width="0.6"/>
<text x="490.80" y="486" font-size="9" text-anchor="middle" fill="#4d4d4d">300</text>
<line x1="645.60" x2="645.60" y1="476.5" y2="478.3" stroke="#333" stroke-width="0.6"/>
<text x="645.60" y="486" font-size="9" text-anchor="middle" fill="#4d4d4d">400</text>
<text x="344.2" y="496.8" font-size="9.4" text-anchor="middle" fill="#000">Base pair position in Kyuss psuedo−chromosomes (Mb)</text>
</g>
<g id="pb">
<text x="-1" y="552.8" font-size="15.2" fill="#000">b</text>
<text x="98.8" y="613.9" font-size="10.8" text-anchor="middle" fill="#1a1a1a">DH647</text>
<line x1="34.7" x2="162.4" y1="617.2" y2="617.2" stroke="#333" stroke-width="0.8"/>
<text x="66" y="629" font-size="8.5" text-anchor="middle" fill="#1a1a1a">WhatsHap</text>
<text x="131.6" y="629" font-size="8.5" text-anchor="middle" fill="#1a1a1a">SortGrass</text>
<line x1="35.5" x2="96.5" y1="632.9" y2="632.9" stroke="#c2c2c2" stroke-width="1.2"/>
<line x1="35.5" x2="35.5" y1="632.9" y2="788.1" stroke="#777" stroke-width="0.9"/>
<line x1="96.5" x2="96.5" y1="632.9" y2="788.1" stroke="#6a6a6a" stroke-width="0.9"/>
<line x1="100.7" x2="162.4" y1="632.9" y2="632.9" stroke="#c2c2c2" stroke-width="1.2"/>
<line x1="100.7" x2="100.7" y1="632.9" y2="788.1" stroke="#777" stroke-width="0.9"/>
<line x1="162.4" x2="162.4" y1="632.9" y2="788.1" stroke="#6a6a6a" stroke-width="0.9"/>
<line x1="35.5" x2="35.5" y1="633.2" y2="788.5" stroke="#222" stroke-width="0.9"/>
<line x1="35.1" x2="96.9" y1="788.1" y2="788.1" stroke="#222" stroke-width="0.9"/>
<line x1="100.3" x2="162.8" y1="788.1" y2="788.1" stroke="#222" stroke-width="0.9"/>
<line x1="33.4" x2="35.5" y1="781.20" y2="781.20" stroke="#333" stroke-width="0.6"/>
<text x="32.1" y="784.05" font-size="8" text-anchor="end" fill="#4d4d4d">0</text>
<line x1="33.4" x2="35.5" y1="753.48" y2="753.48" stroke="#333" stroke-width="0.6"/>
<text x="32.1" y="756.33" font-size="8" text-anchor="end" fill="#4d4d4d">10</text>
<line x1="33.4" x2="35.5" y1="725.76" y2="725.76" stroke="#333" stroke-width="0.6"/>
<text x="32.1" y="728.61" font-size="8" text-anchor="end" fill="#4d4d4d">20</text>
<line x1="33.4" x2="35.5" y1="698.04" y2="698.04" stroke="#333" stroke-width="0.6"/>
<text x="32.1" y="700.89" font-size="8" text-anchor="end" fill="#4d4d4d">30</text>
<line x1="33.4" x2="35.5" y1="670.32" y2="670.32" stroke="#333" stroke-width="0.6"/>
<text x="32.1" y="673.17" font-size="8" text-anchor="end" fill="#4d4d4d">40</text>
<line x1="33.4" x2="35.5" y1="642.60" y2="642.60" stroke="#333" stroke-width="0.6"/>
<text x="32.1" y="645.45" font-size="8" text-anchor="end" fill="#4d4d4d">50</text>
<rect x="53.4" y="662.00" width="8.30" height="119.20" fill="#5cacee" stroke="#1a1a1a" stroke-width="0.75"/>
<rect x="61.7" y="685.84" width="8.80" height="95.36" fill="#ee30a7" stroke="#1a1a1a" stroke-width="0.75"/>
<rect x="70.5" y="718.28" width="8.30" height="62.92" fill="#bebebe" stroke="#1a1a1a" stroke-width="0.75"/>
<rect x="118.4" y="639.55" width="8.80" height="141.65" fill="#5cacee" stroke="#1a1a1a" stroke-width="0.75"/>
<rect x="127.2" y="653.13" width="8.50" height="128.07" fill="#ee30a7" stroke="#1a1a1a" stroke-width="0.75"/>
<rect x="135.7" y="773.44" width="8.60" height="7.76" fill="#bebebe" stroke="#1a1a1a" stroke-width="0.75"/>
<text transform="translate(19.5 710.5) rotate(-90)" font-size="11" text-anchor="middle" fill="#1a1a1a">% of binned ONT reads</text>
<rect x="171.4" y="696.20" width="9.5" height="9.3" fill="#5cacee" stroke="#111" stroke-width="0.9"/>
<text x="184.8" y="704.10" font-size="7.9" fill="#1a1a1a">H1</text>
<rect x="171.4" y="705.90" width="9.5" height="9.3" fill="#ee30a7" stroke="#111" stroke-width="0.9"/>
<text x="184.8" y="713.80" font-size="7.9" fill="#1a1a1a">H2</text>
<rect x="171.4" y="715.60" width="9.5" height="9.3" fill="#bebebe" stroke="#111" stroke-width="0.9"/>
<text x="184.8" y="723.50" font-size="7.9" fill="#1a1a1a">None</text>
</g>
<g id="pc">
<text x="198" y="550.5" font-size="14.5" fill="#000">c</text>
<text x="342.3" y="557" font-size="10.3" text-anchor="middle" fill="#1a1a1a">H1</text>
<text x="560.2" y="557" font-size="10.3" text-anchor="middle" fill="#1a1a1a">H2</text>
<rect x="234.4" y="559.30" width="215.50" height="37.70" fill="#fff"/>
<line x1="234.4" x2="449.9" y1="595.30" y2="595.30" stroke="#e2e2e2" stroke-width="0.55"/><line x1="234.4" x2="449.9" y1="590.47" y2="590.47" stroke="#efefef" stroke-width="0.55"/><line x1="234.4" x2="449.9" y1="585.64" y2="585.64" stroke="#e2e2e2" stroke-width="0.55"/><line x1="234.4" x2="449.9" y1="580.81" y2="580.81" stroke="#efefef" stroke-width="0.55"/><line x1="234.4" x2="449.9" y1="575.98" y2="575.98" stroke="#e2e2e2" stroke-width="0.55"/><line x1="234.4" x2="449.9" y1="571.15" y2="571.15" stroke="#efefef" stroke-width="0.55"/><line x1="234.4" x2="449.9" y1="566.32" y2="566.32" stroke="#e2e2e2" stroke-width="0.55"/><line x1="234.4" x2="449.9" y1="561.49" y2="561.49" stroke="#efefef" stroke-width="0.55"/><line x1="244.10" x2="244.10" y1="559.30" y2="597.00" stroke="#e2e2e2" stroke-width="0.55"/><line x1="269.30" x2="269.30" y1="559.30" y2="597.00" stroke="#efefef" stroke-width="0.55"/><line x1="294.50" x2="294.50" y1="559.30" y2="597.00" stroke="#e2e2e2" stroke-width="0.55"/><line x1="319.70" x2="319.70" y1="559.30" y2="597.00" stroke="#efefef" stroke-width="0.55"/><line x1="344.90" x2="344.90" y1="559.30" y2="597.00" stroke="#e2e2e2" stroke-width="0.55"/><line x1="370.10" x2="370.10" y1="559.30" y2="597.00" stroke="#efefef" stroke-width="0.55"/><line x1="395.30" x2="395.30" y1="559.30" y2="597.00" stroke="#e2e2e2" stroke-width="0.55"/><line x1="420.50" x2="420.50" y1="559.30" y2="597.00" stroke="#efefef" stroke-width="0.55"/><line x1="445.70" x2="445.70" y1="559.30" y2="597.00" stroke="#e2e2e2" stroke-width="0.55"/>
<polygon points="244.10,595.30 244.10,582.35 244.61,579.85 245.11,581.91 245.62,582.97 246.13,580.15 246.63,579.44 247.14,583.28 247.65,583.52 248.15,581.44 248.66,583.54 249.17,588.05 249.67,579.49 250.18,581.29 250.69,581.62 251.19,580.61 251.70,580.04 252.21,580.96 252.71,580.07 253.22,580.77 253.73,582.15 254.23,582.29 254.74,581.21 255.25,578.83 255.75,579.85 256.26,577.44 256.77,580.54 257.27,577.29 257.78,580.88 258.29,573.75 258.79,573.56 259.30,580.11 259.81,581.87 260.32,580.20 260.82,581.43 261.33,582.22 261.84,572.65 262.34,579.54 262.85,581.94 263.36,580.08 263.86,578.88 264.37,578.54 264.88,584.11 265.38,579.25 265.89,581.63 266.40,578.87 266.90,581.08 267.41,577.11 267.92,579.05 268.42,578.05 268.93,575.91 269.44,581.70 269.94,571.15 270.45,583.20 270.96,578.86 271.46,577.73 271.97,577.76 272.48,578.10 272.98,579.17 273.49,574.01 274.00,585.16 274.50,576.31 275.01,579.48 275.52,578.75 276.02,577.48 276.53,583.68 277.04,578.03 277.54,577.17 278.05,582.51 278.56,576.50 279.06,582.83 279.57,573.56 280.08,579.92 280.58,578.68 281.09,574.71 281.60,580.66 282.10,579.58 282.61,578.16 283.12,581.33 283.62,583.33 284.13,576.63 284.64,584.17 285.14,579.62 285.65,582.05 286.16,579.78 286.66,578.30 287.17,576.23 287.68,578.04 288.18,578.50 288.69,579.73 289.20,578.09 289.71,578.67 290.21,581.76 290.72,583.23 291.23,580.96 291.73,579.75 292.24,576.19 292.75,572.12 293.25,580.44 293.76,578.90 294.27,577.43 294.77,582.83 295.28,583.43 295.79,579.26 296.29,582.21 296.80,577.68 297.31,579.99 297.81,576.68 298.32,574.93 298.83,579.12 299.33,580.09 299.84,580.81 300.35,579.37 300.85,580.21 301.36,580.92 301.87,580.15 302.37,581.46 302.88,581.26 303.39,578.14 303.89,581.53 304.40,581.34 304.91,580.95 305.41,579.49 305.92,581.37 306.43,578.94 306.93,579.58 307.44,579.58 307.95,578.40 308.45,580.12 308.96,576.24 309.47,577.91 309.97,575.85 310.48,581.04 310.99,572.12 311.49,580.12 312.00,582.47 312.51,580.71 313.01,578.43 313.52,580.45 314.03,577.96 314.53,578.00 315.04,578.29 315.55,579.75 316.05,580.31 316.56,579.95 317.07,582.45 317.57,579.27 318.08,580.74 318.59,581.93 319.09,565.35 319.60,579.16 320.11,578.18 320.62,580.36 321.12,579.16 321.63,582.63 322.14,579.69 322.64,580.14 323.15,579.54 323.66,583.59 324.16,580.88 324.67,577.17 325.18,582.30 325.68,580.72 326.19,580.14 326.70,581.04 327.20,566.32 327.71,580.17 328.22,580.72 328.72,580.90 329.23,580.27 329.74,579.24 330.24,580.00 330.75,580.43 331.26,578.48 331.76,580.11 332.27,581.87 332.78,580.54 333.28,582.44 333.79,573.56 334.30,579.30 334.80,579.97 335.31,582.15 335.82,577.52 336.32,584.03 336.83,581.87 337.34,578.25 337.84,580.31 338.35,582.05 338.86,581.18 339.36,580.07 339.87,578.18 340.38,581.35 340.88,582.51 341.39,579.76 341.90,580.65 342.40,578.97 342.91,578.09 343.42,577.13 343.92,579.35 344.43,581.18 344.94,580.93 345.44,581.36 345.95,579.72 346.46,576.63 346.96,581.51 347.47,580.51 347.98,577.05 348.48,581.45 348.99,577.73 349.50,580.21 350.01,578.10 350.51,579.67 351.02,578.75 351.53,580.13 352.03,578.13 352.54,582.14 353.05,578.70 353.55,579.41 354.06,581.86 354.57,579.78 355.07,583.00 355.58,578.16 356.09,579.12 356.59,581.01 357.10,581.00 357.61,579.99 358.11,571.15 358.62,579.63 359.13,579.72 359.63,581.52 360.14,580.89 360.65,579.11 361.15,580.41 361.66,579.65 362.17,579.48 362.67,579.91 363.18,584.67 363.69,582.08 364.19,582.19 364.70,581.69 364.70,595.30" fill="#dcdcdc"/>
<polyline points="244.10,582.35 244.61,579.85 245.11,581.91 245.62,582.97 246.13,580.15 246.63,579.44 247.14,583.28 247.65,583.52 248.15,581.44 248.66,583.54 249.17,588.05 249.67,579.49 250.18,581.29 250.69,581.62 251.19,580.61 251.70,580.04 252.21,580.96 252.71,580.07 253.22,580.77 253.73,582.15 254.23,582.29 254.74,581.21 255.25,578.83 255.75,579.85 256.26,577.44 256.77,580.54 257.27,577.29 257.78,580.88 258.29,573.75 258.79,573.56 259.30,580.11 259.81,581.87 260.32,580.20 260.82,581.43 261.33,582.22 261.84,572.65 262.34,579.54 262.85,581.94 263.36,580.08 263.86,578.88 264.37,578.54 264.88,584.11 265.38,579.25 265.89,581.63 266.40,578.87 266.90,581.08 267.41,577.11 267.92,579.05 268.42,578.05 268.93,575.91 269.44,581.70 269.94,571.15 270.45,583.20 270.96,578.86 271.46,577.73 271.97,577.76 272.48,578.10 272.98,579.17 273.49,574.01 274.00,585.16 274.50,576.31 275.01,579.48 275.52,578.75 276.02,577.48 276.53,583.68 277.04,578.03 277.54,577.17 278.05,582.51 278.56,576.50 279.06,582.83 279.57,573.56 280.08,579.92 280.58,578.68 281.09,574.71 281.60,580.66 282.10,579.58 282.61,578.16 283.12,581.33 283.62,583.33 284.13,576.63 284.64,584.17 285.14,579.62 285.65,582.05 286.16,579.78 286.66,578.30 287.17,576.23 287.68,578.04 288.18,578.50 288.69,579.73 289.20,578.09 289.71,578.67 290.21,581.76 290.72,583.23 291.23,580.96 291.73,579.75 292.24,576.19 292.75,572.12 293.25,580.44 293.76,578.90 294.27,577.43 294.77,582.83 295.28,583.43 295.79,579.26 296.29,582.21 296.80,577.68 297.31,579.99 297.81,576.68 298.32,574.93 298.83,579.12 299.33,580.09 299.84,580.81 300.35,579.37 300.85,580.21 301.36,580.92 301.87,580.15 302.37,581.46 302.88,581.26 303.39,578.14 303.89,581.53 304.40,581.34 304.91,580.95 305.41,579.49 305.92,581.37 306.43,578.94 306.93,579.58 307.44,579.58 307.95,578.40 308.45,580.12 308.96,576.24 309.47,577.91 309.97,575.85 310.48,581.04 310.99,572.12 311.49,580.12 312.00,582.47 312.51,580.71 313.01,578.43 313.52,580.45 314.03,577.96 314.53,578.00 315.04,578.29 315.55,579.75 316.05,580.31 316.56,579.95 317.07,582.45 317.57,579.27 318.08,580.74 318.59,581.93 319.09,565.35 319.60,579.16 320.11,578.18 320.62,580.36 321.12,579.16 321.63,582.63 322.14,579.69 322.64,580.14 323.15,579.54 323.66,583.59 324.16,580.88 324.67,577.17 325.18,582.30 325.68,580.72 326.19,580.14 326.70,581.04 327.20,566.32 327.71,580.17 328.22,580.72 328.72,580.90 329.23,580.27 329.74,579.24 330.24,580.00 330.75,580.43 331.26,578.48 331.76,580.11 332.27,581.87 332.78,580.54 333.28,582.44 333.79,573.56 334.30,579.30 334.80,579.97 335.31,582.15 335.82,577.52 336.32,584.03 336.83,581.87 337.34,578.25 337.84,580.31 338.35,582.05 338.86,581.18 339.36,580.07 339.87,578.18 340.38,581.35 340.88,582.51 341.39,579.76 341.90,580.65 342.40,578.97 342.91,578.09 343.42,577.13 343.92,579.35 344.43,581.18 344.94,580.93 345.44,581.36 345.95,579.72 346.46,576.63 346.96,581.51 347.47,580.51 347.98,577.05 348.48,581.45 348.99,577.73 349.50,580.21 350.01,578.10 350.51,579.67 351.02,578.75 351.53,580.13 352.03,578.13 352.54,582.14 353.05,578.70 353.55,579.41 354.06,581.86 354.57,579.78 355.07,583.00 355.58,578.16 356.09,579.12 356.59,581.01 357.10,581.00 357.61,579.99 358.11,571.15 358.62,579.63 359.13,579.72 359.63,581.52 360.14,580.89 360.65,579.11 361.15,580.41 361.66,579.65 362.17,579.48 362.67,579.91 363.18,584.67 363.69,582.08 364.19,582.19 364.70,581.69" fill="none" stroke="#111" stroke-width="0.7" stroke-linejoin="round"/>
<rect x="234.4" y="559.30" width="215.50" height="37.70" fill="none" stroke="#555" stroke-width="0.8"/>
<rect x="452.4" y="559.30" width="215.60" height="37.70" fill="#fff"/>
<line x1="452.4" x2="668.0" y1="595.30" y2="595.30" stroke="#e2e2e2" stroke-width="0.55"/><line x1="452.4" x2="668.0" y1="590.47" y2="590.47" stroke="#efefef" stroke-width="0.55"/><line x1="452.4" x2="668.0" y1="585.64" y2="585.64" stroke="#e2e2e2" stroke-width="0.55"/><line x1="452.4" x2="668.0" y1="580.81" y2="580.81" stroke="#efefef" stroke-width="0.55"/><line x1="452.4" x2="668.0" y1="575.98" y2="575.98" stroke="#e2e2e2" stroke-width="0.55"/><line x1="452.4" x2="668.0" y1="571.15" y2="571.15" stroke="#efefef" stroke-width="0.55"/><line x1="452.4" x2="668.0" y1="566.32" y2="566.32" stroke="#e2e2e2" stroke-width="0.55"/><line x1="452.4" x2="668.0" y1="561.49" y2="561.49" stroke="#efefef" stroke-width="0.55"/><line x1="462.10" x2="462.10" y1="559.30" y2="597.00" stroke="#e2e2e2" stroke-width="0.55"/><line x1="489.20" x2="489.20" y1="559.30" y2="597.00" stroke="#efefef" stroke-width="0.55"/><line x1="516.30" x2="516.30" y1="559.30" y2="597.00" stroke="#e2e2e2" stroke-width="0.55"/><line x1="543.40" x2="543.40" y1="559.30" y2="597.00" stroke="#efefef" stroke-width="0.55"/><line x1="570.50" x2="570.50" y1="559.30" y2="597.00" stroke="#e2e2e2" stroke-width="0.55"/><line x1="597.60" x2="597.60" y1="559.30" y2="597.00" stroke="#efefef" stroke-width="0.55"/><line x1="624.70" x2="624.70" y1="559.30" y2="597.00" stroke="#e2e2e2" stroke-width="0.55"/><line x1="651.80" x2="651.80" y1="559.30" y2="597.00" stroke="#efefef" stroke-width="0.55"/>
<polygon points="462.10,595.30 462.10,579.05 462.65,579.46 463.19,582.28 463.74,581.51 464.28,580.31 464.83,578.27 465.37,580.36 465.92,580.49 466.46,580.35 467.01,580.59 467.55,580.28 468.10,580.71 468.64,581.82 469.19,580.53 469.73,579.66 470.28,580.83 470.82,581.38 471.37,581.33 471.91,580.59 472.46,581.32 473.00,581.55 473.55,580.67 474.10,582.13 474.64,577.74 475.19,580.62 475.73,579.47 476.28,581.52 476.82,579.46 477.37,581.42 477.91,578.28 478.46,582.83 479.00,581.89 479.55,580.86 480.09,581.42 480.64,581.35 481.18,582.06 481.73,581.51 482.27,580.08 482.82,577.84 483.36,575.71 483.91,578.85 484.45,577.83 485.00,579.59 485.55,571.18 486.09,578.26 486.64,579.00 487.18,577.03 487.73,574.55 488.27,573.09 488.82,574.21 489.36,565.35 489.91,580.19 490.45,573.86 491.00,578.43 491.54,574.74 492.09,584.67 492.63,580.12 493.18,573.63 493.72,581.75 494.27,579.22 494.81,567.29 495.36,584.38 495.90,580.30 496.45,569.29 497.00,577.59 497.54,581.48 498.09,584.67 498.63,571.41 499.18,575.02 499.72,575.06 500.27,578.63 500.81,581.52 501.36,573.10 501.90,575.76 502.45,578.22 502.99,577.54 503.54,576.16 504.08,580.32 504.63,575.04 505.17,579.15 505.72,572.20 506.26,579.15 506.81,583.65 507.35,574.79 507.90,580.65 508.45,582.68 508.99,580.18 509.54,580.57 510.08,576.52 510.63,577.59 511.17,580.64 511.72,578.58 512.26,571.81 512.81,584.67 513.35,584.67 513.90,579.97 514.44,574.03 514.99,583.40 515.53,576.03 516.08,577.66 516.62,584.67 517.17,577.05 517.71,578.18 518.26,577.45 518.80,581.50 519.35,578.46 519.90,583.45 520.44,575.05 520.99,584.67 521.53,569.86 522.08,577.47 522.62,580.74 523.17,580.46 523.71,570.18 524.26,578.86 524.80,579.92 525.35,580.80 525.89,576.53 526.44,571.81 526.98,584.67 527.53,571.13 528.07,582.14 528.62,567.57 529.16,576.48 529.71,578.85 530.25,578.60 530.80,578.14 531.35,574.57 531.89,575.69 532.44,578.48 532.98,579.18 533.53,575.20 534.07,577.11 534.62,580.09 535.16,575.33 535.71,575.75 536.25,580.76 536.80,578.79 537.34,584.67 537.89,581.74 538.43,576.68 538.98,578.64 539.52,576.07 540.07,582.10 540.61,581.58 541.16,582.21 541.70,578.20 542.25,576.78 542.80,575.29 543.34,578.65 543.89,577.43 544.43,568.73 544.98,580.62 545.52,576.20 546.07,581.49 546.61,574.72 547.16,580.68 547.70,573.77 548.25,573.88 548.79,577.52 549.34,578.44 549.88,580.25 550.43,579.46 550.97,579.15 551.52,578.83 552.06,577.24 552.61,572.81 553.15,582.78 553.70,575.52 554.25,569.31 554.79,581.93 555.34,576.79 555.88,577.63 556.43,582.82 556.97,577.06 557.52,582.38 558.06,570.35 558.61,570.69 559.15,584.67 559.70,578.60 560.24,573.45 560.79,582.95 561.33,582.40 561.88,576.40 562.42,581.46 562.97,579.01 563.51,576.36 564.06,584.09 564.60,577.01 565.15,579.55 565.70,581.93 566.24,577.85 566.79,576.28 567.33,579.07 567.88,582.81 568.42,574.63 568.97,581.03 569.51,576.26 570.06,575.10 570.60,579.24 571.15,573.95 571.69,576.24 572.24,579.72 572.78,581.15 573.33,581.47 573.87,581.74 574.42,580.06 574.96,578.72 575.51,578.74 576.05,580.22 576.60,581.61 577.15,584.09 577.69,582.38 578.24,581.06 578.78,584.37 579.33,581.16 579.87,582.79 580.42,582.19 580.96,581.47 581.51,580.99 582.05,580.03 582.60,580.74 583.14,579.89 583.69,580.87 584.23,582.45 584.78,582.58 585.32,579.51 585.87,579.95 586.41,581.88 586.96,582.25 587.50,580.01 588.05,579.87 588.60,580.85 589.14,580.28 589.69,579.65 590.23,582.27 590.78,582.28 591.32,580.31 591.87,581.43 592.41,581.70 592.96,580.38 593.50,580.59 594.05,582.75 594.59,581.38 595.14,580.82 595.68,581.23 596.23,563.42 596.77,580.74 597.32,580.41 597.86,580.15 598.41,580.59 598.95,581.21 599.50,581.45 599.50,595.30" fill="#dcdcdc"/>
<polyline points="462.10,579.05 462.65,579.46 463.19,582.28 463.74,581.51 464.28,580.31 464.83,578.27 465.37,580.36 465.92,580.49 466.46,580.35 467.01,580.59 467.55,580.28 468.10,580.71 468.64,581.82 469.19,580.53 469.73,579.66 470.28,580.83 470.82,581.38 471.37,581.33 471.91,580.59 472.46,581.32 473.00,581.55 473.55,580.67 474.10,582.13 474.64,577.74 475.19,580.62 475.73,579.47 476.28,581.52 476.82,579.46 477.37,581.42 477.91,578.28 478.46,582.83 479.00,581.89 479.55,580.86 480.09,581.42 480.64,581.35 481.18,582.06 481.73,581.51 482.27,580.08 482.82,577.84 483.36,575.71 483.91,578.85 484.45,577.83 485.00,579.59 485.55,571.18 486.09,578.26 486.64,579.00 487.18,577.03 487.73,574.55 488.27,573.09 488.82,574.21 489.36,565.35 489.91,580.19 490.45,573.86 491.00,578.43 491.54,574.74 492.09,584.67 492.63,580.12 493.18,573.63 493.72,581.75 494.27,579.22 494.81,567.29 495.36,584.38 495.90,580.30 496.45,569.29 497.00,577.59 497.54,581.48 498.09,584.67 498.63,571.41 499.18,575.02 499.72,575.06 500.27,578.63 500.81,581.52 501.36,573.10 501.90,575.76 502.45,578.22 502.99,577.54 503.54,576.16 504.08,580.32 504.63,575.04 505.17,579.15 505.72,572.20 506.26,579.15 506.81,583.65 507.35,574.79 507.90,580.65 508.45,582.68 508.99,580.18 509.54,580.57 510.08,576.52 510.63,577.59 511.17,580.64 511.72,578.58 512.26,571.81 512.81,584.67 513.35,584.67 513.90,579.97 514.44,574.03 514.99,583.40 515.53,576.03 516.08,577.66 516.62,584.67 517.17,577.05 517.71,578.18 518.26,577.45 518.80,581.50 519.35,578.46 519.90,583.45 520.44,575.05 520.99,584.67 521.53,569.86 522.08,577.47 522.62,580.74 523.17,580.46 523.71,570.18 524.26,578.86 524.80,579.92 525.35,580.80 525.89,576.53 526.44,571.81 526.98,584.67 527.53,571.13 528.07,582.14 528.62,567.57 529.16,576.48 529.71,578.85 530.25,578.60 530.80,578.14 531.35,574.57 531.89,575.69 532.44,578.48 532.98,579.18 533.53,575.20 534.07,577.11 534.62,580.09 535.16,575.33 535.71,575.75 536.25,580.76 536.80,578.79 537.34,584.67 537.89,581.74 538.43,576.68 538.98,578.64 539.52,576.07 540.07,582.10 540.61,581.58 541.16,582.21 541.70,578.20 542.25,576.78 542.80,575.29 543.34,578.65 543.89,577.43 544.43,568.73 544.98,580.62 545.52,576.20 546.07,581.49 546.61,574.72 547.16,580.68 547.70,573.77 548.25,573.88 548.79,577.52 549.34,578.44 549.88,580.25 550.43,579.46 550.97,579.15 551.52,578.83 552.06,577.24 552.61,572.81 553.15,582.78 553.70,575.52 554.25,569.31 554.79,581.93 555.34,576.79 555.88,577.63 556.43,582.82 556.97,577.06 557.52,582.38 558.06,570.35 558.61,570.69 559.15,584.67 559.70,578.60 560.24,573.45 560.79,582.95 561.33,582.40 561.88,576.40 562.42,581.46 562.97,579.01 563.51,576.36 564.06,584.09 564.60,577.01 565.15,579.55 565.70,581.93 566.24,577.85 566.79,576.28 567.33,579.07 567.88,582.81 568.42,574.63 568.97,581.03 569.51,576.26 570.06,575.10 570.60,579.24 571.15,573.95 571.69,576.24 572.24,579.72 572.78,581.15 573.33,581.47 573.87,581.74 574.42,580.06 574.96,578.72 575.51,578.74 576.05,580.22 576.60,581.61 577.15,584.09 577.69,582.38 578.24,581.06 578.78,584.37 579.33,581.16 579.87,582.79 580.42,582.19 580.96,581.47 581.51,580.99 582.05,580.03 582.60,580.74 583.14,579.89 583.69,580.87 584.23,582.45 584.78,582.58 585.32,579.51 585.87,579.95 586.41,581.88 586.96,582.25 587.50,580.01 588.05,579.87 588.60,580.85 589.14,580.28 589.69,579.65 590.23,582.27 590.78,582.28 591.32,580.31 591.87,581.43 592.41,581.70 592.96,580.38 593.50,580.59 594.05,582.75 594.59,581.38 595.14,580.82 595.68,581.23 596.23,563.42 596.77,580.74 597.32,580.41 597.86,580.15 598.41,580.59 598.95,581.21 599.50,581.45" fill="none" stroke="#111" stroke-width="0.7" stroke-linejoin="round"/>
<rect x="452.4" y="559.30" width="215.60" height="37.70" fill="none" stroke="#555" stroke-width="0.8"/>
<line x1="234.4" x2="234.4" y1="559.30" y2="597.00" stroke="#222" stroke-width="0.9"/>
<line x1="232.6" x2="234.4" y1="595.30" y2="595.30" stroke="#333" stroke-width="0.6"/>
<text x="232" y="597.70" font-size="6.8" text-anchor="end" fill="#4d4d4d">0</text>
<line x1="232.6" x2="234.4" y1="585.64" y2="585.64" stroke="#333" stroke-width="0.6"/>
<text x="232" y="588.04" font-size="6.8" text-anchor="end" fill="#4d4d4d">20</text>
<line x1="232.6" x2="234.4" y1="575.98" y2="575.98" stroke="#333" stroke-width="0.6"/>
<text x="232" y="578.38" font-size="6.8" text-anchor="end" fill="#4d4d4d">40</text>
<line x1="232.6" x2="234.4" y1="566.32" y2="566.32" stroke="#333" stroke-width="0.6"/>
<text x="232" y="568.72" font-size="6.8" text-anchor="end" fill="#4d4d4d">60</text>
<text transform="translate(670.7 578.15) rotate(90)" font-size="10.6" text-anchor="middle" fill="#1a1a1a">Chr1</text>
<rect x="234.4" y="598.95" width="215.50" height="37.70" fill="#fff"/>
<line x1="234.4" x2="449.9" y1="634.95" y2="634.95" stroke="#e2e2e2" stroke-width="0.55"/><line x1="234.4" x2="449.9" y1="630.12" y2="630.12" stroke="#efefef" stroke-width="0.55"/><line x1="234.4" x2="449.9" y1="625.29" y2="625.29" stroke="#e2e2e2" stroke-width="0.55"/><line x1="234.4" x2="449.9" y1="620.46" y2="620.46" stroke="#efefef" stroke-width="0.55"/><line x1="234.4" x2="449.9" y1="615.63" y2="615.63" stroke="#e2e2e2" stroke-width="0.55"/><line x1="234.4" x2="449.9" y1="610.80" y2="610.80" stroke="#efefef" stroke-width="0.55"/><line x1="234.4" x2="449.9" y1="605.97" y2="605.97" stroke="#e2e2e2" stroke-width="0.55"/><line x1="234.4" x2="449.9" y1="601.14" y2="601.14" stroke="#efefef" stroke-width="0.55"/><line x1="244.10" x2="244.10" y1="598.95" y2="636.65" stroke="#e2e2e2" stroke-width="0.55"/><line x1="269.30" x2="269.30" y1="598.95" y2="636.65" stroke="#efefef" stroke-width="0.55"/><line x1="294.50" x2="294.50" y1="598.95" y2="636.65" stroke="#e2e2e2" stroke-width="0.55"/><line x1="319.70" x2="319.70" y1="598.95" y2="636.65" stroke="#efefef" stroke-width="0.55"/><line x1="344.90" x2="344.90" y1="598.95" y2="636.65" stroke="#e2e2e2" stroke-width="0.55"/><line x1="370.10" x2="370.10" y1="598.95" y2="636.65" stroke="#efefef" stroke-width="0.55"/><line x1="395.30" x2="395.30" y1="598.95" y2="636.65" stroke="#e2e2e2" stroke-width="0.55"/><line x1="420.50" x2="420.50" y1="598.95" y2="636.65" stroke="#efefef" stroke-width="0.55"/><line x1="445.70" x2="445.70" y1="598.95" y2="636.65" stroke="#e2e2e2" stroke-width="0.55"/>
<polygon points="244.10,634.95 244.10,626.26 244.61,618.05 245.11,619.47 245.62,609.83 246.12,619.08 246.63,619.70 247.14,620.02 247.64,619.69 248.15,613.21 248.65,618.46 249.16,618.51 249.66,618.56 250.17,618.53 250.68,618.89 251.18,618.74 251.69,619.42 252.19,618.88 252.70,618.55 253.21,619.31 253.71,620.02 254.22,618.82 254.72,619.46 255.23,619.28 255.74,619.88 256.24,615.83 256.75,619.92 257.25,619.85 257.76,619.91 258.27,619.35 258.77,618.32 259.28,618.68 259.78,619.62 260.29,619.73 260.79,619.86 261.30,619.37 261.81,619.96 262.31,620.28 262.82,620.29 263.32,620.83 263.83,619.87 264.34,620.52 264.84,620.84 265.35,620.93 265.85,619.71 266.36,617.81 266.87,617.75 267.37,618.24 267.88,618.24 268.38,617.94 268.89,615.78 269.39,618.08 269.90,619.00 270.41,619.38 270.91,620.13 271.42,620.74 271.92,619.96 272.43,619.34 272.94,619.68 273.44,618.91 273.95,619.87 274.45,619.16 274.96,619.86 275.47,620.84 275.97,619.68 276.48,614.96 276.98,619.25 277.49,618.53 278.00,618.96 278.50,618.09 279.01,610.80 279.51,617.87 280.02,617.60 280.52,618.59 281.03,618.96 281.54,618.23 282.04,617.87 282.55,618.32 283.05,617.91 283.56,618.60 284.07,605.00 284.57,619.63 285.08,619.54 285.58,605.00 286.09,619.72 286.60,605.00 287.10,619.23 287.61,618.29 288.11,618.52 288.62,617.65 289.13,618.69 289.63,619.40 290.14,618.94 290.64,619.01 291.15,618.46 291.65,619.44 292.16,618.02 292.67,619.13 293.17,619.30 293.68,619.01 294.18,618.81 294.69,619.24 295.20,619.87 295.70,618.98 296.21,619.31 296.71,619.43 297.22,618.78 297.73,617.87 298.23,613.64 298.74,617.89 299.24,618.71 299.75,618.77 300.25,619.35 300.76,619.87 301.27,619.33 301.77,618.29 302.28,616.75 302.78,619.61 303.29,619.13 303.80,616.96 304.30,619.82 304.81,619.15 305.31,620.67 305.82,619.00 306.33,626.26 306.83,620.11 307.34,619.63 307.84,620.60 308.35,620.06 308.86,620.39 309.36,619.37 309.87,618.85 310.37,619.81 310.88,619.92 311.38,620.38 311.89,618.80 312.40,619.47 312.90,620.05 313.41,619.41 313.91,619.75 314.42,618.49 314.93,618.65 315.43,619.56 315.94,619.02 316.44,618.70 316.95,619.29 317.46,618.19 317.96,618.70 318.47,619.44 318.97,617.23 319.48,618.02 319.98,619.64 320.49,618.86 321.00,620.42 321.50,620.19 322.01,620.14 322.51,619.75 323.02,619.48 323.53,619.89 324.03,619.48 324.54,620.05 325.04,618.87 325.55,619.18 326.06,619.03 326.56,619.15 327.07,618.92 327.57,619.69 328.08,617.81 328.59,619.10 329.09,616.86 329.60,618.72 330.10,618.96 330.61,619.04 331.11,620.30 331.62,610.80 332.13,619.01 332.63,618.61 333.14,618.28 333.64,618.29 334.15,616.41 334.66,615.82 335.16,618.90 335.67,619.57 336.17,618.36 336.68,617.98 337.19,619.26 337.69,620.26 338.20,618.68 338.70,620.25 339.21,619.61 339.72,619.94 340.22,619.11 340.73,618.18 341.23,618.92 341.74,619.30 342.24,619.23 342.75,620.01 343.26,618.93 343.76,618.30 344.27,618.91 344.77,619.18 345.28,618.23 345.79,620.15 346.29,620.17 346.80,619.78 347.30,619.75 347.81,617.95 348.32,619.58 348.82,619.98 349.33,619.22 349.83,619.02 350.34,617.42 350.84,618.51 351.35,616.16 351.86,618.66 352.36,619.79 352.87,618.55 353.37,619.84 353.88,618.85 354.39,617.90 354.89,617.89 355.40,620.23 355.90,618.31 356.41,617.87 356.92,617.16 357.42,618.43 357.93,619.09 358.43,619.25 358.94,618.47 359.45,618.34 359.95,618.40 360.46,619.02 360.96,618.23 361.47,618.21 361.97,618.06 362.48,619.02 362.99,617.74 363.49,618.16 364.00,618.77 364.50,618.40 365.01,619.37 365.52,618.97 366.02,619.58 366.53,619.15 367.03,619.63 367.54,618.63 368.05,619.28 368.55,618.45 369.06,619.40 369.56,619.78 370.07,622.04 370.57,619.23 371.08,615.97 371.59,626.26 372.09,619.16 372.60,618.70 373.10,618.61 373.61,618.97 374.12,619.90 374.62,613.21 375.13,618.96 375.63,617.56 376.14,619.66 376.65,618.51 377.15,618.64 377.66,618.85 378.16,618.36 378.67,619.46 379.18,618.11 379.68,627.70 380.19,618.04 380.69,619.13 381.20,619.13 381.70,620.00 382.21,619.48 382.72,619.86 383.22,619.36 383.73,606.94 384.23,620.29 384.74,618.67 385.25,619.54 385.75,620.84 386.26,619.61 386.76,619.63 387.27,614.34 387.78,619.13 388.28,620.08 388.79,618.84 389.29,618.52 389.80,618.54 390.31,618.92 390.81,617.88 391.32,617.89 391.82,620.32 392.33,617.83 392.83,618.96 393.34,619.60 393.85,619.40 394.35,620.00 394.86,619.39 395.36,618.83 395.87,618.37 396.38,619.28 396.88,618.93 397.39,618.66 397.89,618.69 398.40,619.13 398.91,619.51 399.41,619.04 399.92,619.06 400.42,617.23 400.93,617.53 401.43,616.39 401.94,618.68 402.45,618.84 402.95,619.30 403.46,618.00 403.96,617.88 404.47,619.27 404.98,619.01 405.48,618.24 405.99,620.09 406.49,618.54 407.00,620.35 407.51,620.13 408.01,606.94 408.52,618.28 409.02,616.53 409.53,619.72 410.04,618.64 410.54,619.45 411.05,617.92 411.55,618.17 412.06,621.26 412.56,618.75 413.07,617.93 413.58,619.17 414.08,619.00 414.59,618.80 415.09,618.75 415.60,619.07 415.60,634.95" fill="#dcdcdc"/>
<polyline points="244.10,626.26 244.61,618.05 245.11,619.47 245.62,609.83 246.12,619.08 246.63,619.70 247.14,620.02 247.64,619.69 248.15,613.21 248.65,618.46 249.16,618.51 249.66,618.56 250.17,618.53 250.68,618.89 251.18,618.74 251.69,619.42 252.19,618.88 252.70,618.55 253.21,619.31 253.71,620.02 254.22,618.82 254.72,619.46 255.23,619.28 255.74,619.88 256.24,615.83 256.75,619.92 257.25,619.85 257.76,619.91 258.27,619.35 258.77,618.32 259.28,618.68 259.78,619.62 260.29,619.73 260.79,619.86 261.30,619.37 261.81,619.96 262.31,620.28 262.82,620.29 263.32,620.83 263.83,619.87 264.34,620.52 264.84,620.84 265.35,620.93 265.85,619.71 266.36,617.81 266.87,617.75 267.37,618.24 267.88,618.24 268.38,617.94 268.89,615.78 269.39,618.08 269.90,619.00 270.41,619.38 270.91,620.13 271.42,620.74 271.92,619.96 272.43,619.34 272.94,619.68 273.44,618.91 273.95,619.87 274.45,619.16 274.96,619.86 275.47,620.84 275.97,619.68 276.48,614.96 276.98,619.25 277.49,618.53 278.00,618.96 278.50,618.09 279.01,610.80 279.51,617.87 280.02,617.60 280.52,618.59 281.03,618.96 281.54,618.23 282.04,617.87 282.55,618.32 283.05,617.91 283.56,618.60 284.07,605.00 284.57,619.63 285.08,619.54 285.58,605.00 286.09,619.72 286.60,605.00 287.10,619.23 287.61,618.29 288.11,618.52 288.62,617.65 289.13,618.69 289.63,619.40 290.14,618.94 290.64,619.01 291.15,618.46 291.65,619.44 292.16,618.02 292.67,619.13 293.17,619.30 293.68,619.01 294.18,618.81 294.69,619.24 295.20,619.87 295.70,618.98 296.21,619.31 296.71,619.43 297.22,618.78 297.73,617.87 298.23,613.64 298.74,617.89 299.24,618.71 299.75,618.77 300.25,619.35 300.76,619.87 301.27,619.33 301.77,618.29 302.28,616.75 302.78,619.61 303.29,619.13 303.80,616.96 304.30,619.82 304.81,619.15 305.31,620.67 305.82,619.00 306.33,626.26 306.83,620.11 307.34,619.63 307.84,620.60 308.35,620.06 308.86,620.39 309.36,619.37 309.87,618.85 310.37,619.81 310.88,619.92 311.38,620.38 311.89,618.80 312.40,619.47 312.90,620.05 313.41,619.41 313.91,619.75 314.42,618.49 314.93,618.65 315.43,619.56 315.94,619.02 316.44,618.70 316.95,619.29 317.46,618.19 317.96,618.70 318.47,619.44 318.97,617.23 319.48,618.02 319.98,619.64 320.49,618.86 321.00,620.42 321.50,620.19 322.01,620.14 322.51,619.75 323.02,619.48 323.53,619.89 324.03,619.48 324.54,620.05 325.04,618.87 325.55,619.18 326.06,619.03 326.56,619.15 327.07,618.92 327.57,619.69 328.08,617.81 328.59,619.10 329.09,616.86 329.60,618.72 330.10,618.96 330.61,619.04 331.11,620.30 331.62,610.80 332.13,619.01 332.63,618.61 333.14,618.28 333.64,618.29 334.15,616.41 334.66,615.82 335.16,618.90 335.67,619.57 336.17,618.36 336.68,617.98 337.19,619.26 337.69,620.26 338.20,618.68 338.70,620.25 339.21,619.61 339.72,619.94 340.22,619.11 340.73,618.18 341.23,618.92 341.74,619.30 342.24,619.23 342.75,620.01 343.26,618.93 343.76,618.30 344.27,618.91 344.77,619.18 345.28,618.23 345.79,620.15 346.29,620.17 346.80,619.78 347.30,619.75 347.81,617.95 348.32,619.58 348.82,619.98 349.33,619.22 349.83,619.02 350.34,617.42 350.84,618.51 351.35,616.16 351.86,618.66 352.36,619.79 352.87,618.55 353.37,619.84 353.88,618.85 354.39,617.90 354.89,617.89 355.40,620.23 355.90,618.31 356.41,617.87 356.92,617.16 357.42,618.43 357.93,619.09 358.43,619.25 358.94,618.47 359.45,618.34 359.95,618.40 360.46,619.02 360.96,618.23 361.47,618.21 361.97,618.06 362.48,619.02 362.99,617.74 363.49,618.16 364.00,618.77 364.50,618.40 365.01,619.37 365.52,618.97 366.02,619.58 366.53,619.15 367.03,619.63 367.54,618.63 368.05,619.28 368.55,618.45 369.06,619.40 369.56,619.78 370.07,622.04 370.57,619.23 371.08,615.97 371.59,626.26 372.09,619.16 372.60,618.70 373.10,618.61 373.61,618.97 374.12,619.90 374.62,613.21 375.13,618.96 375.63,617.56 376.14,619.66 376.65,618.51 377.15,618.64 377.66,618.85 378.16,618.36 378.67,619.46 379.18,618.11 379.68,627.70 380.19,618.04 380.69,619.13 381.20,619.13 381.70,620.00 382.21,619.48 382.72,619.86 383.22,619.36 383.73,606.94 384.23,620.29 384.74,618.67 385.25,619.54 385.75,620.84 386.26,619.61 386.76,619.63 387.27,614.34 387.78,619.13 388.28,620.08 388.79,618.84 389.29,618.52 389.80,618.54 390.31,618.92 390.81,617.88 391.32,617.89 391.82,620.32 392.33,617.83 392.83,618.96 393.34,619.60 393.85,619.40 394.35,620.00 394.86,619.39 395.36,618.83 395.87,618.37 396.38,619.28 396.88,618.93 397.39,618.66 397.89,618.69 398.40,619.13 398.91,619.51 399.41,619.04 399.92,619.06 400.42,617.23 400.93,617.53 401.43,616.39 401.94,618.68 402.45,618.84 402.95,619.30 403.46,618.00 403.96,617.88 404.47,619.27 404.98,619.01 405.48,618.24 405.99,620.09 406.49,618.54 407.00,620.35 407.51,620.13 408.01,606.94 408.52,618.28 409.02,616.53 409.53,619.72 410.04,618.64 410.54,619.45 411.05,617.92 411.55,618.17 412.06,621.26 412.56,618.75 413.07,617.93 413.58,619.17 414.08,619.00 414.59,618.80 415.09,618.75 415.60,619.07" fill="none" stroke="#111" stroke-width="0.7" stroke-linejoin="round"/>
<rect x="234.4" y="598.95" width="215.50" height="37.70" fill="none" stroke="#555" stroke-width="0.8"/>
<rect x="452.4" y="598.95" width="215.60" height="37.70" fill="#fff"/>
<line x1="452.4" x2="668.0" y1="634.95" y2="634.95" stroke="#e2e2e2" stroke-width="0.55"/><line x1="452.4" x2="668.0" y1="630.12" y2="630.12" stroke="#efefef" stroke-width="0.55"/><line x1="452.4" x2="668.0" y1="625.29" y2="625.29" stroke="#e2e2e2" stroke-width="0.55"/><line x1="452.4" x2="668.0" y1="620.46" y2="620.46" stroke="#efefef" stroke-width="0.55"/><line x1="452.4" x2="668.0" y1="615.63" y2="615.63" stroke="#e2e2e2" stroke-width="0.55"/><line x1="452.4" x2="668.0" y1="610.80" y2="610.80" stroke="#efefef" stroke-width="0.55"/><line x1="452.4" x2="668.0" y1="605.97" y2="605.97" stroke="#e2e2e2" stroke-width="0.55"/><line x1="452.4" x2="668.0" y1="601.14" y2="601.14" stroke="#efefef" stroke-width="0.55"/><line x1="462.10" x2="462.10" y1="598.95" y2="636.65" stroke="#e2e2e2" stroke-width="0.55"/><line x1="489.20" x2="489.20" y1="598.95" y2="636.65" stroke="#efefef" stroke-width="0.55"/><line x1="516.30" x2="516.30" y1="598.95" y2="636.65" stroke="#e2e2e2" stroke-width="0.55"/><line x1="543.40" x2="543.40" y1="598.95" y2="636.65" stroke="#efefef" stroke-width="0.55"/><line x1="570.50" x2="570.50" y1="598.95" y2="636.65" stroke="#e2e2e2" stroke-width="0.55"/><line x1="597.60" x2="597.60" y1="598.95" y2="636.65" stroke="#efefef" stroke-width="0.55"/><line x1="624.70" x2="624.70" y1="598.95" y2="636.65" stroke="#e2e2e2" stroke-width="0.55"/><line x1="651.80" x2="651.80" y1="598.95" y2="636.65" stroke="#efefef" stroke-width="0.55"/>
<polygon points="462.10,634.95 462.10,619.75 462.64,620.13 463.19,619.22 463.73,619.95 464.28,618.48 464.82,617.69 465.36,619.50 465.91,618.86 466.45,618.69 467.00,619.32 467.54,620.47 468.08,619.99 468.63,619.22 469.17,619.01 469.72,618.40 470.26,619.28 470.80,619.02 471.35,619.13 471.89,618.98 472.44,619.63 472.98,618.47 473.52,619.18 474.07,618.45 474.61,619.65 475.16,619.77 475.70,618.77 476.24,617.87 476.79,618.56 477.33,619.53 477.88,618.04 478.42,618.24 478.96,619.14 479.51,619.86 480.05,619.43 480.60,620.20 481.14,619.64 481.68,620.09 482.23,621.07 482.77,619.24 483.32,624.81 483.86,618.35 484.40,619.79 484.95,618.56 485.49,620.22 486.04,618.61 486.58,619.41 487.12,619.11 487.67,619.64 488.21,619.69 488.76,619.81 489.30,619.12 489.84,622.72 490.39,620.05 490.93,619.80 491.48,621.02 492.02,620.88 492.56,619.42 493.11,620.09 493.65,619.85 494.20,619.20 494.74,618.77 495.28,619.45 495.83,619.83 496.37,619.31 496.92,618.56 497.46,617.98 498.00,620.57 498.55,619.29 499.09,618.97 499.64,620.11 500.18,619.06 500.72,619.92 501.27,620.21 501.81,619.52 502.36,620.29 502.90,619.22 503.44,619.36 503.99,626.74 504.53,619.10 505.08,623.59 505.62,619.08 506.16,618.32 506.71,619.63 507.25,621.00 507.80,619.81 508.34,620.93 508.88,618.78 509.43,618.95 509.97,618.59 510.52,619.97 511.06,619.93 511.60,619.39 512.15,619.66 512.69,620.90 513.24,621.07 513.78,627.70 514.32,618.67 514.87,620.65 515.41,619.88 515.96,619.99 516.50,619.65 517.04,618.50 517.59,622.51 518.13,618.08 518.68,618.26 519.22,618.40 519.76,619.56 520.31,619.89 520.85,619.04 521.40,620.55 521.94,620.01 522.48,619.21 523.03,618.54 523.57,620.20 524.12,620.51 524.66,618.83 525.20,619.17 525.75,621.58 526.29,620.13 526.84,619.86 527.38,620.43 527.92,620.71 528.47,621.94 529.01,620.69 529.56,619.29 530.10,619.65 530.64,620.37 531.19,619.52 531.73,619.91 532.28,620.22 532.82,620.94 533.36,620.41 533.91,626.26 534.45,619.59 535.00,619.31 535.54,619.28 536.08,619.69 536.63,619.65 537.17,618.54 537.72,618.82 538.26,618.99 538.80,619.27 539.35,619.95 539.89,618.79 540.44,619.45 540.98,618.09 541.52,624.48 542.07,619.63 542.61,620.06 543.16,620.10 543.70,620.05 544.24,620.28 544.79,613.61 545.33,620.09 545.88,620.01 546.42,620.70 546.96,619.08 547.51,621.02 548.05,619.92 548.60,620.19 549.14,619.54 549.68,619.41 550.23,620.42 550.77,619.46 551.32,620.17 551.86,619.21 552.40,625.29 552.95,619.62 553.49,619.47 554.04,619.56 554.58,627.22 555.12,619.00 555.67,621.88 556.21,619.66 556.76,618.70 557.30,624.89 557.84,619.83 558.39,619.82 558.93,620.44 559.48,619.96 560.02,619.58 560.56,619.46 561.11,618.38 561.65,617.78 562.20,619.50 562.74,620.75 563.28,620.97 563.83,621.07 564.37,621.93 564.92,619.62 565.46,620.06 566.00,620.07 566.55,619.31 567.09,619.05 567.64,620.06 568.18,618.54 568.72,620.34 569.27,619.26 569.81,619.64 570.36,618.55 570.90,618.59 571.44,619.93 571.99,619.18 572.53,619.16 573.08,619.51 573.62,620.77 574.16,619.96 574.71,619.73 575.25,619.66 575.80,620.00 576.34,618.47 576.88,619.82 577.43,619.20 577.97,619.95 578.52,620.65 579.06,619.03 579.60,628.19 580.15,620.90 580.69,620.06 581.24,619.30 581.78,619.43 582.32,618.92 582.87,619.34 583.41,620.67 583.96,620.42 584.50,620.84 585.04,619.04 585.59,620.79 586.13,620.12 586.68,619.99 587.22,620.98 587.76,620.05 588.31,620.24 588.85,620.42 589.40,619.61 589.94,620.61 590.48,620.86 591.03,626.74 591.57,620.57 592.12,619.85 592.66,619.83 593.20,619.70 593.75,621.68 594.29,619.31 594.84,619.03 595.38,618.79 595.92,619.14 596.47,620.95 597.01,619.44 597.56,620.59 598.10,619.17 598.64,620.05 599.19,619.96 599.73,619.58 600.28,620.32 600.82,619.57 601.36,620.10 601.91,619.89 602.45,618.77 603.00,619.50 603.54,620.41 604.08,619.72 604.63,620.56 605.17,619.52 605.72,620.04 606.26,620.33 606.80,618.62 607.35,619.87 607.89,621.06 608.44,620.66 608.98,618.71 609.52,620.00 610.07,619.99 610.61,619.01 611.16,619.93 611.70,618.76 612.24,618.75 612.79,618.39 613.33,617.97 613.88,617.64 614.42,617.36 614.96,618.38 615.51,618.78 616.05,618.96 616.60,618.61 617.14,620.30 617.68,619.35 618.23,620.60 618.77,619.66 619.32,619.60 619.86,623.43 620.40,619.57 620.95,620.75 621.49,618.11 622.04,621.62 622.58,619.91 623.12,619.57 623.67,619.89 624.21,620.58 624.76,620.91 625.30,619.34 625.84,621.69 626.39,621.10 626.93,619.63 627.48,618.93 628.02,619.85 628.56,619.19 629.11,619.47 629.65,620.12 630.20,618.60 630.74,625.29 631.28,619.81 631.83,618.63 632.37,618.61 632.92,617.28 633.46,619.62 634.00,619.89 634.55,619.45 635.09,619.54 635.64,619.94 636.18,618.99 636.72,619.86 637.27,617.90 637.81,619.47 638.36,620.70 638.90,620.78 638.90,634.95" fill="#dcdcdc"/>
<polyline points="462.10,619.75 462.64,620.13 463.19,619.22 463.73,619.95 464.28,618.48 464.82,617.69 465.36,619.50 465.91,618.86 466.45,618.69 467.00,619.32 467.54,620.47 468.08,619.99 468.63,619.22 469.17,619.01 469.72,618.40 470.26,619.28 470.80,619.02 471.35,619.13 471.89,618.98 472.44,619.63 472.98,618.47 473.52,619.18 474.07,618.45 474.61,619.65 475.16,619.77 475.70,618.77 476.24,617.87 476.79,618.56 477.33,619.53 477.88,618.04 478.42,618.24 478.96,619.14 479.51,619.86 480.05,619.43 480.60,620.20 481.14,619.64 481.68,620.09 482.23,621.07 482.77,619.24 483.32,624.81 483.86,618.35 484.40,619.79 484.95,618.56 485.49,620.22 486.04,618.61 486.58,619.41 487.12,619.11 487.67,619.64 488.21,619.69 488.76,619.81 489.30,619.12 489.84,622.72 490.39,620.05 490.93,619.80 491.48,621.02 492.02,620.88 492.56,619.42 493.11,620.09 493.65,619.85 494.20,619.20 494.74,618.77 495.28,619.45 495.83,619.83 496.37,619.31 496.92,618.56 497.46,617.98 498.00,620.57 498.55,619.29 499.09,618.97 499.64,620.11 500.18,619.06 500.72,619.92 501.27,620.21 501.81,619.52 502.36,620.29 502.90,619.22 503.44,619.36 503.99,626.74 504.53,619.10 505.08,623.59 505.62,619.08 506.16,618.32 506.71,619.63 507.25,621.00 507.80,619.81 508.34,620.93 508.88,618.78 509.43,618.95 509.97,618.59 510.52,619.97 511.06,619.93 511.60,619.39 512.15,619.66 512.69,620.90 513.24,621.07 513.78,627.70 514.32,618.67 514.87,620.65 515.41,619.88 515.96,619.99 516.50,619.65 517.04,618.50 517.59,622.51 518.13,618.08 518.68,618.26 519.22,618.40 519.76,619.56 520.31,619.89 520.85,619.04 521.40,620.55 521.94,620.01 522.48,619.21 523.03,618.54 523.57,620.20 524.12,620.51 524.66,618.83 525.20,619.17 525.75,621.58 526.29,620.13 526.84,619.86 527.38,620.43 527.92,620.71 528.47,621.94 529.01,620.69 529.56,619.29 530.10,619.65 530.64,620.37 531.19,619.52 531.73,619.91 532.28,620.22 532.82,620.94 533.36,620.41 533.91,626.26 534.45,619.59 535.00,619.31 535.54,619.28 536.08,619.69 536.63,619.65 537.17,618.54 537.72,618.82 538.26,618.99 538.80,619.27 539.35,619.95 539.89,618.79 540.44,619.45 540.98,618.09 541.52,624.48 542.07,619.63 542.61,620.06 543.16,620.10 543.70,620.05 544.24,620.28 544.79,613.61 545.33,620.09 545.88,620.01 546.42,620.70 546.96,619.08 547.51,621.02 548.05,619.92 548.60,620.19 549.14,619.54 549.68,619.41 550.23,620.42 550.77,619.46 551.32,620.17 551.86,619.21 552.40,625.29 552.95,619.62 553.49,619.47 554.04,619.56 554.58,627.22 555.12,619.00 555.67,621.88 556.21,619.66 556.76,618.70 557.30,624.89 557.84,619.83 558.39,619.82 558.93,620.44 559.48,619.96 560.02,619.58 560.56,619.46 561.11,618.38 561.65,617.78 562.20,619.50 562.74,620.75 563.28,620.97 563.83,621.07 564.37,621.93 564.92,619.62 565.46,620.06 566.00,620.07 566.55,619.31 567.09,619.05 567.64,620.06 568.18,618.54 568.72,620.34 569.27,619.26 569.81,619.64 570.36,618.55 570.90,618.59 571.44,619.93 571.99,619.18 572.53,619.16 573.08,619.51 573.62,620.77 574.16,619.96 574.71,619.73 575.25,619.66 575.80,620.00 576.34,618.47 576.88,619.82 577.43,619.20 577.97,619.95 578.52,620.65 579.06,619.03 579.60,628.19 580.15,620.90 580.69,620.06 581.24,619.30 581.78,619.43 582.32,618.92 582.87,619.34 583.41,620.67 583.96,620.42 584.50,620.84 585.04,619.04 585.59,620.79 586.13,620.12 586.68,619.99 587.22,620.98 587.76,620.05 588.31,620.24 588.85,620.42 589.40,619.61 589.94,620.61 590.48,620.86 591.03,626.74 591.57,620.57 592.12,619.85 592.66,619.83 593.20,619.70 593.75,621.68 594.29,619.31 594.84,619.03 595.38,618.79 595.92,619.14 596.47,620.95 597.01,619.44 597.56,620.59 598.10,619.17 598.64,620.05 599.19,619.96 599.73,619.58 600.28,620.32 600.82,619.57 601.36,620.10 601.91,619.89 602.45,618.77 603.00,619.50 603.54,620.41 604.08,619.72 604.63,620.56 605.17,619.52 605.72,620.04 606.26,620.33 606.80,618.62 607.35,619.87 607.89,621.06 608.44,620.66 608.98,618.71 609.52,620.00 610.07,619.99 610.61,619.01 611.16,619.93 611.70,618.76 612.24,618.75 612.79,618.39 613.33,617.97 613.88,617.64 614.42,617.36 614.96,618.38 615.51,618.78 616.05,618.96 616.60,618.61 617.14,620.30 617.68,619.35 618.23,620.60 618.77,619.66 619.32,619.60 619.86,623.43 620.40,619.57 620.95,620.75 621.49,618.11 622.04,621.62 622.58,619.91 623.12,619.57 623.67,619.89 624.21,620.58 624.76,620.91 625.30,619.34 625.84,621.69 626.39,621.10 626.93,619.63 627.48,618.93 628.02,619.85 628.56,619.19 629.11,619.47 629.65,620.12 630.20,618.60 630.74,625.29 631.28,619.81 631.83,618.63 632.37,618.61 632.92,617.28 633.46,619.62 634.00,619.89 634.55,619.45 635.09,619.54 635.64,619.94 636.18,618.99 636.72,619.86 637.27,617.90 637.81,619.47 638.36,620.70 638.90,620.78" fill="none" stroke="#111" stroke-width="0.7" stroke-linejoin="round"/>
<rect x="452.4" y="598.95" width="215.60" height="37.70" fill="none" stroke="#555" stroke-width="0.8"/>
<line x1="234.4" x2="234.4" y1="598.95" y2="636.65" stroke="#222" stroke-width="0.9"/>
<line x1="232.6" x2="234.4" y1="634.95" y2="634.95" stroke="#333" stroke-width="0.6"/>
<text x="232" y="637.35" font-size="6.8" text-anchor="end" fill="#4d4d4d">0</text>
<line x1="232.6" x2="234.4" y1="625.29" y2="625.29" stroke="#333" stroke-width="0.6"/>
<text x="232" y="627.69" font-size="6.8" text-anchor="end" fill="#4d4d4d">20</text>
<line x1="232.6" x2="234.4" y1="615.63" y2="615.63" stroke="#333" stroke-width="0.6"/>
<text x="232" y="618.03" font-size="6.8" text-anchor="end" fill="#4d4d4d">40</text>
<line x1="232.6" x2="234.4" y1="605.97" y2="605.97" stroke="#333" stroke-width="0.6"/>
<text x="232" y="608.37" font-size="6.8" text-anchor="end" fill="#4d4d4d">60</text>
<text transform="translate(670.7 617.80) rotate(90)" font-size="10.6" text-anchor="middle" fill="#1a1a1a">Chr2</text>
<rect x="234.4" y="638.60" width="215.50" height="37.70" fill="#fff"/>
<line x1="234.4" x2="449.9" y1="674.60" y2="674.60" stroke="#e2e2e2" stroke-width="0.55"/><line x1="234.4" x2="449.9" y1="669.77" y2="669.77" stroke="#efefef" stroke-width="0.55"/><line x1="234.4" x2="449.9" y1="664.94" y2="664.94" stroke="#e2e2e2" stroke-width="0.55"/><line x1="234.4" x2="449.9" y1="660.11" y2="660.11" stroke="#efefef" stroke-width="0.55"/><line x1="234.4" x2="449.9" y1="655.28" y2="655.28" stroke="#e2e2e2" stroke-width="0.55"/><line x1="234.4" x2="449.9" y1="650.45" y2="650.45" stroke="#efefef" stroke-width="0.55"/><line x1="234.4" x2="449.9" y1="645.62" y2="645.62" stroke="#e2e2e2" stroke-width="0.55"/><line x1="234.4" x2="449.9" y1="640.79" y2="640.79" stroke="#efefef" stroke-width="0.55"/><line x1="244.10" x2="244.10" y1="638.60" y2="676.30" stroke="#e2e2e2" stroke-width="0.55"/><line x1="269.30" x2="269.30" y1="638.60" y2="676.30" stroke="#efefef" stroke-width="0.55"/><line x1="294.50" x2="294.50" y1="638.60" y2="676.30" stroke="#e2e2e2" stroke-width="0.55"/><line x1="319.70" x2="319.70" y1="638.60" y2="676.30" stroke="#efefef" stroke-width="0.55"/><line x1="344.90" x2="344.90" y1="638.60" y2="676.30" stroke="#e2e2e2" stroke-width="0.55"/><line x1="370.10" x2="370.10" y1="638.60" y2="676.30" stroke="#efefef" stroke-width="0.55"/><line x1="395.30" x2="395.30" y1="638.60" y2="676.30" stroke="#e2e2e2" stroke-width="0.55"/><line x1="420.50" x2="420.50" y1="638.60" y2="676.30" stroke="#efefef" stroke-width="0.55"/><line x1="445.70" x2="445.70" y1="638.60" y2="676.30" stroke="#e2e2e2" stroke-width="0.55"/>
<polygon points="244.10,674.60 244.10,660.36 244.61,659.90 245.11,660.04 245.62,658.39 246.13,658.72 246.63,659.53 247.14,659.97 247.65,661.33 248.15,658.90 248.66,658.38 249.17,660.34 249.67,659.14 250.18,656.03 250.69,659.31 251.19,660.76 251.70,661.34 252.21,658.21 252.71,663.14 253.22,660.10 253.73,660.88 254.23,660.83 254.74,659.78 255.25,662.14 255.75,660.32 256.26,659.10 256.77,659.27 257.27,658.38 257.78,659.22 258.29,656.57 258.79,660.03 259.30,659.28 259.81,659.26 260.31,659.02 260.82,660.52 261.33,661.19 261.83,660.53 262.34,659.74 262.85,660.55 263.35,659.59 263.86,659.37 264.37,660.20 264.87,659.79 265.38,660.11 265.89,659.97 266.40,658.79 266.90,659.22 267.41,656.67 267.92,660.44 268.42,659.77 268.93,660.17 269.44,658.95 269.94,659.95 270.45,663.26 270.96,659.62 271.46,655.07 271.97,659.34 272.48,660.24 272.98,659.80 273.49,659.36 274.00,660.61 274.50,660.20 275.01,660.96 275.52,660.67 276.02,660.43 276.53,661.19 277.04,661.44 277.54,659.91 278.05,659.51 278.56,667.84 279.06,661.70 279.57,659.92 280.08,660.80 280.58,659.77 281.09,659.42 281.60,660.46 282.10,658.89 282.61,659.74 283.12,662.26 283.62,660.04 284.13,655.39 284.64,661.37 285.14,658.14 285.65,661.85 286.16,659.31 286.66,659.88 287.17,659.05 287.68,659.25 288.18,658.26 288.69,659.80 289.20,660.17 289.70,661.03 290.21,660.71 290.72,659.74 291.22,663.43 291.73,660.61 292.24,659.66 292.74,660.22 293.25,659.55 293.76,660.59 294.26,658.77 294.77,659.73 295.28,662.31 295.78,656.91 296.29,660.51 296.80,659.23 297.30,659.12 297.81,659.40 298.32,657.84 298.82,661.06 299.33,659.59 299.84,659.27 300.34,660.74 300.85,657.75 301.36,659.21 301.86,658.68 302.37,659.98 302.88,661.49 303.38,660.42 303.89,660.23 304.40,659.68 304.90,657.22 305.41,659.87 305.92,659.47 306.42,659.57 306.93,659.40 307.44,659.55 307.94,660.13 308.45,654.92 308.96,660.06 309.47,658.97 309.97,665.91 310.48,659.56 310.99,659.87 311.49,659.71 312.00,658.90 312.51,659.56 313.01,661.07 313.52,660.56 314.03,659.99 314.53,659.87 315.04,659.14 315.55,659.93 316.05,660.25 316.56,659.11 317.07,658.44 317.57,659.73 318.08,658.33 318.59,660.13 319.09,659.34 319.60,659.44 320.11,658.46 320.61,660.71 321.12,656.85 321.63,657.56 322.13,660.48 322.64,660.34 323.15,660.63 323.65,661.34 324.16,653.09 324.67,659.52 325.17,660.40 325.68,662.88 326.19,660.45 326.69,661.32 327.20,660.19 327.71,659.10 328.21,658.37 328.72,659.79 329.23,658.62 329.73,659.92 330.24,659.80 330.75,660.26 331.25,660.20 331.76,660.08 332.27,659.72 332.77,660.41 333.28,658.07 333.79,659.49 334.29,658.39 334.80,658.99 335.31,660.93 335.81,659.46 336.32,658.69 336.83,660.81 337.33,660.79 337.84,660.54 338.35,659.56 338.85,660.16 339.36,661.20 339.87,659.33 340.37,661.32 340.88,659.01 341.39,657.76 341.89,660.06 342.40,661.23 342.91,661.25 343.41,660.73 343.92,662.47 344.43,661.31 344.93,659.70 345.44,651.00 345.95,659.98 346.45,660.55 346.96,661.90 347.47,659.81 347.97,664.94 348.48,659.79 348.99,659.21 349.49,660.11 350.00,659.16 350.51,657.82 351.01,659.75 351.52,660.66 352.03,657.38 352.53,662.08 353.04,659.79 353.55,661.51 354.06,659.23 354.56,659.56 355.07,660.85 355.58,660.34 356.08,663.71 356.59,660.33 357.10,659.89 357.60,659.65 358.11,658.06 358.62,660.34 359.12,658.71 359.63,659.86 360.14,659.93 360.64,658.61 361.15,659.03 361.66,659.44 362.16,659.81 362.67,661.05 363.18,662.70 363.68,661.21 364.19,659.27 364.70,660.68 365.20,662.94 365.71,655.78 366.22,660.04 366.72,654.25 367.23,662.83 367.74,661.00 368.24,660.31 368.75,660.71 369.26,661.38 369.76,659.72 370.27,649.68 370.78,658.47 371.28,660.55 371.79,655.23 372.30,658.48 372.80,660.24 373.31,661.71 373.82,660.10 374.32,660.25 374.83,661.69 375.34,659.20 375.84,658.40 376.35,661.34 376.86,659.81 377.36,661.21 377.87,663.31 378.38,660.81 378.88,659.69 379.39,663.97 379.90,660.02 380.40,660.96 380.91,659.31 381.42,660.18 381.92,660.55 382.43,661.18 382.94,660.63 383.44,660.80 383.95,663.23 384.46,659.99 384.96,660.81 385.47,659.61 385.98,659.16 386.48,661.13 386.99,661.50 387.50,660.96 388.00,660.91 388.51,659.88 389.02,663.29 389.52,660.36 390.03,660.11 390.54,661.88 391.04,660.60 391.55,660.82 392.06,660.12 392.56,662.00 393.07,659.91 393.58,658.40 394.08,660.04 394.59,659.74 395.10,659.49 395.60,661.23 396.11,662.25 396.62,659.55 397.13,660.52 397.63,659.89 398.14,661.48 398.65,660.97 399.15,661.38 399.66,658.52 400.17,665.91 400.67,659.24 401.18,659.93 401.69,659.05 402.19,658.81 402.70,659.64 403.21,659.79 403.71,659.33 404.22,659.51 404.73,658.76 405.23,660.14 405.74,659.53 406.25,659.55 406.75,658.26 407.26,660.69 407.77,657.80 408.27,658.13 408.78,658.62 409.29,660.90 409.79,659.83 410.30,657.60 410.81,660.16 411.31,660.06 411.82,658.67 412.33,660.86 412.83,661.33 413.34,661.51 413.85,659.86 414.35,661.22 414.86,659.62 415.37,659.94 415.87,656.25 416.38,661.36 416.89,660.69 417.39,659.42 417.90,661.23 417.90,674.60" fill="#dcdcdc"/>
<polyline points="244.10,660.36 244.61,659.90 245.11,660.04 245.62,658.39 246.13,658.72 246.63,659.53 247.14,659.97 247.65,661.33 248.15,658.90 248.66,658.38 249.17,660.34 249.67,659.14 250.18,656.03 250.69,659.31 251.19,660.76 251.70,661.34 252.21,658.21 252.71,663.14 253.22,660.10 253.73,660.88 254.23,660.83 254.74,659.78 255.25,662.14 255.75,660.32 256.26,659.10 256.77,659.27 257.27,658.38 257.78,659.22 258.29,656.57 258.79,660.03 259.30,659.28 259.81,659.26 260.31,659.02 260.82,660.52 261.33,661.19 261.83,660.53 262.34,659.74 262.85,660.55 263.35,659.59 263.86,659.37 264.37,660.20 264.87,659.79 265.38,660.11 265.89,659.97 266.40,658.79 266.90,659.22 267.41,656.67 267.92,660.44 268.42,659.77 268.93,660.17 269.44,658.95 269.94,659.95 270.45,663.26 270.96,659.62 271.46,655.07 271.97,659.34 272.48,660.24 272.98,659.80 273.49,659.36 274.00,660.61 274.50,660.20 275.01,660.96 275.52,660.67 276.02,660.43 276.53,661.19 277.04,661.44 277.54,659.91 278.05,659.51 278.56,667.84 279.06,661.70 279.57,659.92 280.08,660.80 280.58,659.77 281.09,659.42 281.60,660.46 282.10,658.89 282.61,659.74 283.12,662.26 283.62,660.04 284.13,655.39 284.64,661.37 285.14,658.14 285.65,661.85 286.16,659.31 286.66,659.88 287.17,659.05 287.68,659.25 288.18,658.26 288.69,659.80 289.20,660.17 289.70,661.03 290.21,660.71 290.72,659.74 291.22,663.43 291.73,660.61 292.24,659.66 292.74,660.22 293.25,659.55 293.76,660.59 294.26,658.77 294.77,659.73 295.28,662.31 295.78,656.91 296.29,660.51 296.80,659.23 297.30,659.12 297.81,659.40 298.32,657.84 298.82,661.06 299.33,659.59 299.84,659.27 300.34,660.74 300.85,657.75 301.36,659.21 301.86,658.68 302.37,659.98 302.88,661.49 303.38,660.42 303.89,660.23 304.40,659.68 304.90,657.22 305.41,659.87 305.92,659.47 306.42,659.57 306.93,659.40 307.44,659.55 307.94,660.13 308.45,654.92 308.96,660.06 309.47,658.97 309.97,665.91 310.48,659.56 310.99,659.87 311.49,659.71 312.00,658.90 312.51,659.56 313.01,661.07 313.52,660.56 314.03,659.99 314.53,659.87 315.04,659.14 315.55,659.93 316.05,660.25 316.56,659.11 317.07,658.44 317.57,659.73 318.08,658.33 318.59,660.13 319.09,659.34 319.60,659.44 320.11,658.46 320.61,660.71 321.12,656.85 321.63,657.56 322.13,660.48 322.64,660.34 323.15,660.63 323.65,661.34 324.16,653.09 324.67,659.52 325.17,660.40 325.68,662.88 326.19,660.45 326.69,661.32 327.20,660.19 327.71,659.10 328.21,658.37 328.72,659.79 329.23,658.62 329.73,659.92 330.24,659.80 330.75,660.26 331.25,660.20 331.76,660.08 332.27,659.72 332.77,660.41 333.28,658.07 333.79,659.49 334.29,658.39 334.80,658.99 335.31,660.93 335.81,659.46 336.32,658.69 336.83,660.81 337.33,660.79 337.84,660.54 338.35,659.56 338.85,660.16 339.36,661.20 339.87,659.33 340.37,661.32 340.88,659.01 341.39,657.76 341.89,660.06 342.40,661.23 342.91,661.25 343.41,660.73 343.92,662.47 344.43,661.31 344.93,659.70 345.44,651.00 345.95,659.98 346.45,660.55 346.96,661.90 347.47,659.81 347.97,664.94 348.48,659.79 348.99,659.21 349.49,660.11 350.00,659.16 350.51,657.82 351.01,659.75 351.52,660.66 352.03,657.38 352.53,662.08 353.04,659.79 353.55,661.51 354.06,659.23 354.56,659.56 355.07,660.85 355.58,660.34 356.08,663.71 356.59,660.33 357.10,659.89 357.60,659.65 358.11,658.06 358.62,660.34 359.12,658.71 359.63,659.86 360.14,659.93 360.64,658.61 361.15,659.03 361.66,659.44 362.16,659.81 362.67,661.05 363.18,662.70 363.68,661.21 364.19,659.27 364.70,660.68 365.20,662.94 365.71,655.78 366.22,660.04 366.72,654.25 367.23,662.83 367.74,661.00 368.24,660.31 368.75,660.71 369.26,661.38 369.76,659.72 370.27,649.68 370.78,658.47 371.28,660.55 371.79,655.23 372.30,658.48 372.80,660.24 373.31,661.71 373.82,660.10 374.32,660.25 374.83,661.69 375.34,659.20 375.84,658.40 376.35,661.34 376.86,659.81 377.36,661.21 377.87,663.31 378.38,660.81 378.88,659.69 379.39,663.97 379.90,660.02 380.40,660.96 380.91,659.31 381.42,660.18 381.92,660.55 382.43,661.18 382.94,660.63 383.44,660.80 383.95,663.23 384.46,659.99 384.96,660.81 385.47,659.61 385.98,659.16 386.48,661.13 386.99,661.50 387.50,660.96 388.00,660.91 388.51,659.88 389.02,663.29 389.52,660.36 390.03,660.11 390.54,661.88 391.04,660.60 391.55,660.82 392.06,660.12 392.56,662.00 393.07,659.91 393.58,658.40 394.08,660.04 394.59,659.74 395.10,659.49 395.60,661.23 396.11,662.25 396.62,659.55 397.13,660.52 397.63,659.89 398.14,661.48 398.65,660.97 399.15,661.38 399.66,658.52 400.17,665.91 400.67,659.24 401.18,659.93 401.69,659.05 402.19,658.81 402.70,659.64 403.21,659.79 403.71,659.33 404.22,659.51 404.73,658.76 405.23,660.14 405.74,659.53 406.25,659.55 406.75,658.26 407.26,660.69 407.77,657.80 408.27,658.13 408.78,658.62 409.29,660.90 409.79,659.83 410.30,657.60 410.81,660.16 411.31,660.06 411.82,658.67 412.33,660.86 412.83,661.33 413.34,661.51 413.85,659.86 414.35,661.22 414.86,659.62 415.37,659.94 415.87,656.25 416.38,661.36 416.89,660.69 417.39,659.42 417.90,661.23" fill="none" stroke="#111" stroke-width="0.7" stroke-linejoin="round"/>
<rect x="234.4" y="638.60" width="215.50" height="37.70" fill="none" stroke="#555" stroke-width="0.8"/>
<rect x="452.4" y="638.60" width="215.60" height="37.70" fill="#fff"/>
<line x1="452.4" x2="668.0" y1="674.60" y2="674.60" stroke="#e2e2e2" stroke-width="0.55"/><line x1="452.4" x2="668.0" y1="669.77" y2="669.77" stroke="#efefef" stroke-width="0.55"/><line x1="452.4" x2="668.0" y1="664.94" y2="664.94" stroke="#e2e2e2" stroke-width="0.55"/><line x1="452.4" x2="668.0" y1="660.11" y2="660.11" stroke="#efefef" stroke-width="0.55"/><line x1="452.4" x2="668.0" y1="655.28" y2="655.28" stroke="#e2e2e2" stroke-width="0.55"/><line x1="452.4" x2="668.0" y1="650.45" y2="650.45" stroke="#efefef" stroke-width="0.55"/><line x1="452.4" x2="668.0" y1="645.62" y2="645.62" stroke="#e2e2e2" stroke-width="0.55"/><line x1="452.4" x2="668.0" y1="640.79" y2="640.79" stroke="#efefef" stroke-width="0.55"/><line x1="462.10" x2="462.10" y1="638.60" y2="676.30" stroke="#e2e2e2" stroke-width="0.55"/><line x1="489.20" x2="489.20" y1="638.60" y2="676.30" stroke="#efefef" stroke-width="0.55"/><line x1="516.30" x2="516.30" y1="638.60" y2="676.30" stroke="#e2e2e2" stroke-width="0.55"/><line x1="543.40" x2="543.40" y1="638.60" y2="676.30" stroke="#efefef" stroke-width="0.55"/><line x1="570.50" x2="570.50" y1="638.60" y2="676.30" stroke="#e2e2e2" stroke-width="0.55"/><line x1="597.60" x2="597.60" y1="638.60" y2="676.30" stroke="#efefef" stroke-width="0.55"/><line x1="624.70" x2="624.70" y1="638.60" y2="676.30" stroke="#e2e2e2" stroke-width="0.55"/><line x1="651.80" x2="651.80" y1="638.60" y2="676.30" stroke="#efefef" stroke-width="0.55"/>
<polygon points="462.10,674.60 462.10,658.80 462.64,659.87 463.19,660.39 463.73,659.73 464.28,660.04 464.82,645.51 465.36,661.11 465.91,652.38 466.45,658.00 467.00,657.94 467.54,659.04 468.08,658.78 468.63,658.47 469.17,659.42 469.72,659.37 470.26,660.10 470.81,660.27 471.35,660.11 471.89,659.45 472.44,659.32 472.98,661.65 473.53,660.32 474.07,659.34 474.61,660.47 475.16,659.54 475.70,660.95 476.25,659.35 476.79,659.60 477.33,660.20 477.88,658.61 478.42,659.03 478.97,657.77 479.51,658.15 480.05,658.90 480.60,659.27 481.14,659.32 481.69,659.10 482.23,657.81 482.77,659.60 483.32,660.10 483.86,660.11 484.41,659.99 484.95,656.12 485.49,659.76 486.04,661.13 486.58,659.55 487.13,660.23 487.67,659.37 488.22,659.84 488.76,659.86 489.30,659.39 489.85,659.58 490.39,659.26 490.94,659.09 491.48,658.64 492.02,659.78 492.57,659.39 493.11,658.79 493.66,660.43 494.20,659.37 494.74,661.44 495.29,660.73 495.83,658.94 496.38,659.31 496.92,662.42 497.46,660.31 498.01,659.08 498.55,659.84 499.10,659.60 499.64,658.89 500.18,655.28 500.73,659.78 501.27,660.01 501.82,660.49 502.36,661.04 502.91,661.50 503.45,660.83 503.99,660.14 504.54,658.82 505.08,659.08 505.63,659.91 506.17,659.58 506.71,657.77 507.26,658.44 507.80,659.76 508.35,659.23 508.89,658.65 509.43,660.04 509.98,659.64 510.52,660.09 511.07,659.73 511.61,659.92 512.15,658.07 512.70,658.78 513.24,659.17 513.79,658.87 514.33,659.42 514.87,660.17 515.42,659.00 515.96,659.73 516.51,660.29 517.05,662.80 517.59,660.17 518.14,658.35 518.68,659.84 519.23,659.31 519.77,659.13 520.32,659.67 520.86,660.25 521.40,659.74 521.95,660.82 522.49,658.47 523.04,659.48 523.58,640.79 524.12,659.83 524.67,660.66 525.21,655.28 525.76,660.68 526.30,660.33 526.84,659.95 527.39,659.37 527.93,658.20 528.48,660.05 529.02,660.04 529.56,660.85 530.11,659.88 530.65,661.12 531.20,659.27 531.74,660.61 532.28,660.04 532.83,660.20 533.37,659.74 533.92,660.96 534.46,660.00 535.01,661.36 535.55,660.91 536.09,660.20 536.64,656.98 537.18,661.69 537.73,662.74 538.27,660.59 538.81,661.21 539.36,660.06 539.90,659.65 540.45,660.43 540.99,659.74 541.53,661.50 542.08,660.15 542.62,661.33 543.17,661.16 543.71,660.01 544.25,658.98 544.80,659.42 545.34,660.28 545.89,659.45 546.43,656.94 546.97,659.98 547.52,660.20 548.06,660.73 548.61,659.99 549.15,660.52 549.69,660.84 550.24,660.28 550.78,659.48 551.33,658.82 551.87,658.93 552.42,659.84 552.96,659.30 553.50,658.62 554.05,659.15 554.59,658.87 555.14,658.41 555.68,658.98 556.22,658.97 556.77,659.84 557.31,659.04 557.86,659.28 558.40,658.67 558.94,659.82 559.49,659.27 560.03,660.19 560.58,658.82 561.12,660.14 561.66,659.95 562.21,660.32 562.75,659.33 563.30,659.79 563.84,660.11 564.38,660.49 564.93,659.85 565.47,659.69 566.02,660.05 566.56,659.43 567.11,659.18 567.65,650.45 568.19,660.53 568.74,661.48 569.28,660.85 569.83,660.74 570.37,661.07 570.91,660.20 571.46,659.57 572.00,659.31 572.55,659.42 573.09,660.98 573.63,660.53 574.18,659.35 574.72,660.59 575.27,660.44 575.81,659.84 576.35,659.96 576.90,660.11 577.44,659.11 577.99,659.92 578.53,660.02 579.07,660.00 579.62,660.24 580.16,659.48 580.71,659.55 581.25,659.60 581.79,658.30 582.34,659.50 582.88,659.08 583.43,660.20 583.97,660.23 584.52,659.91 585.06,659.40 585.60,659.75 586.15,661.18 586.69,659.83 587.24,666.42 587.78,659.37 588.32,659.61 588.87,658.78 589.41,658.02 589.96,658.89 590.50,657.83 591.04,658.52 591.59,652.98 592.13,659.23 592.68,659.08 593.22,659.98 593.76,659.45 594.31,658.93 594.85,659.60 595.40,659.58 595.94,660.62 596.48,659.54 597.03,660.44 597.57,660.56 598.12,660.85 598.66,660.92 599.21,659.22 599.75,663.30 600.29,659.65 600.84,660.77 601.38,660.69 601.93,659.44 602.47,658.97 603.01,660.26 603.56,660.47 604.10,660.09 604.65,659.47 605.19,659.85 605.73,658.88 606.28,659.59 606.82,659.91 607.37,659.38 607.91,656.74 608.45,659.73 609.00,659.15 609.54,660.31 610.09,666.34 610.63,660.27 611.17,660.17 611.72,659.91 612.26,658.87 612.81,659.85 613.35,659.58 613.89,660.45 614.44,660.11 614.98,661.09 615.53,660.43 616.07,660.25 616.62,660.88 617.16,660.87 617.70,660.52 618.25,661.82 618.79,656.76 619.34,661.08 619.88,659.48 620.42,661.44 620.97,659.96 621.51,660.19 622.06,660.74 622.60,660.81 623.14,662.00 623.69,661.08 624.23,660.62 624.78,660.92 625.32,660.32 625.86,661.34 626.41,661.46 626.95,659.78 627.50,659.70 628.04,659.58 628.58,659.41 629.13,659.04 629.67,660.26 630.22,659.40 630.76,658.14 631.31,661.15 631.85,660.38 632.39,660.10 632.94,659.77 633.48,659.55 634.03,658.95 634.57,659.79 635.11,659.75 635.66,659.04 636.20,659.58 636.75,660.27 637.29,664.94 637.83,660.83 638.38,659.59 638.92,659.38 639.47,660.17 640.01,659.46 640.55,660.81 641.10,659.21 641.64,658.59 642.19,659.72 642.73,660.38 643.27,660.45 643.82,660.27 644.36,659.23 644.91,659.52 645.45,658.31 645.99,659.73 646.54,659.57 647.08,660.34 647.63,660.40 648.17,659.39 648.72,659.82 649.26,659.86 649.80,660.49 650.35,658.84 650.89,659.20 651.44,659.20 651.98,658.58 652.52,658.76 653.07,660.44 653.61,660.61 654.16,660.56 654.70,659.89 654.70,674.60" fill="#dcdcdc"/>
<polyline points="462.10,658.80 462.64,659.87 463.19,660.39 463.73,659.73 464.28,660.04 464.82,645.51 465.36,661.11 465.91,652.38 466.45,658.00 467.00,657.94 467.54,659.04 468.08,658.78 468.63,658.47 469.17,659.42 469.72,659.37 470.26,660.10 470.81,660.27 471.35,660.11 471.89,659.45 472.44,659.32 472.98,661.65 473.53,660.32 474.07,659.34 474.61,660.47 475.16,659.54 475.70,660.95 476.25,659.35 476.79,659.60 477.33,660.20 477.88,658.61 478.42,659.03 478.97,657.77 479.51,658.15 480.05,658.90 480.60,659.27 481.14,659.32 481.69,659.10 482.23,657.81 482.77,659.60 483.32,660.10 483.86,660.11 484.41,659.99 484.95,656.12 485.49,659.76 486.04,661.13 486.58,659.55 487.13,660.23 487.67,659.37 488.22,659.84 488.76,659.86 489.30,659.39 489.85,659.58 490.39,659.26 490.94,659.09 491.48,658.64 492.02,659.78 492.57,659.39 493.11,658.79 493.66,660.43 494.20,659.37 494.74,661.44 495.29,660.73 495.83,658.94 496.38,659.31 496.92,662.42 497.46,660.31 498.01,659.08 498.55,659.84 499.10,659.60 499.64,658.89 500.18,655.28 500.73,659.78 501.27,660.01 501.82,660.49 502.36,661.04 502.91,661.50 503.45,660.83 503.99,660.14 504.54,658.82 505.08,659.08 505.63,659.91 506.17,659.58 506.71,657.77 507.26,658.44 507.80,659.76 508.35,659.23 508.89,658.65 509.43,660.04 509.98,659.64 510.52,660.09 511.07,659.73 511.61,659.92 512.15,658.07 512.70,658.78 513.24,659.17 513.79,658.87 514.33,659.42 514.87,660.17 515.42,659.00 515.96,659.73 516.51,660.29 517.05,662.80 517.59,660.17 518.14,658.35 518.68,659.84 519.23,659.31 519.77,659.13 520.32,659.67 520.86,660.25 521.40,659.74 521.95,660.82 522.49,658.47 523.04,659.48 523.58,640.79 524.12,659.83 524.67,660.66 525.21,655.28 525.76,660.68 526.30,660.33 526.84,659.95 527.39,659.37 527.93,658.20 528.48,660.05 529.02,660.04 529.56,660.85 530.11,659.88 530.65,661.12 531.20,659.27 531.74,660.61 532.28,660.04 532.83,660.20 533.37,659.74 533.92,660.96 534.46,660.00 535.01,661.36 535.55,660.91 536.09,660.20 536.64,656.98 537.18,661.69 537.73,662.74 538.27,660.59 538.81,661.21 539.36,660.06 539.90,659.65 540.45,660.43 540.99,659.74 541.53,661.50 542.08,660.15 542.62,661.33 543.17,661.16 543.71,660.01 544.25,658.98 544.80,659.42 545.34,660.28 545.89,659.45 546.43,656.94 546.97,659.98 547.52,660.20 548.06,660.73 548.61,659.99 549.15,660.52 549.69,660.84 550.24,660.28 550.78,659.48 551.33,658.82 551.87,658.93 552.42,659.84 552.96,659.30 553.50,658.62 554.05,659.15 554.59,658.87 555.14,658.41 555.68,658.98 556.22,658.97 556.77,659.84 557.31,659.04 557.86,659.28 558.40,658.67 558.94,659.82 559.49,659.27 560.03,660.19 560.58,658.82 561.12,660.14 561.66,659.95 562.21,660.32 562.75,659.33 563.30,659.79 563.84,660.11 564.38,660.49 564.93,659.85 565.47,659.69 566.02,660.05 566.56,659.43 567.11,659.18 567.65,650.45 568.19,660.53 568.74,661.48 569.28,660.85 569.83,660.74 570.37,661.07 570.91,660.20 571.46,659.57 572.00,659.31 572.55,659.42 573.09,660.98 573.63,660.53 574.18,659.35 574.72,660.59 575.27,660.44 575.81,659.84 576.35,659.96 576.90,660.11 577.44,659.11 577.99,659.92 578.53,660.02 579.07,660.00 579.62,660.24 580.16,659.48 580.71,659.55 581.25,659.60 581.79,658.30 582.34,659.50 582.88,659.08 583.43,660.20 583.97,660.23 584.52,659.91 585.06,659.40 585.60,659.75 586.15,661.18 586.69,659.83 587.24,666.42 587.78,659.37 588.32,659.61 588.87,658.78 589.41,658.02 589.96,658.89 590.50,657.83 591.04,658.52 591.59,652.98 592.13,659.23 592.68,659.08 593.22,659.98 593.76,659.45 594.31,658.93 594.85,659.60 595.40,659.58 595.94,660.62 596.48,659.54 597.03,660.44 597.57,660.56 598.12,660.85 598.66,660.92 599.21,659.22 599.75,663.30 600.29,659.65 600.84,660.77 601.38,660.69 601.93,659.44 602.47,658.97 603.01,660.26 603.56,660.47 604.10,660.09 604.65,659.47 605.19,659.85 605.73,658.88 606.28,659.59 606.82,659.91 607.37,659.38 607.91,656.74 608.45,659.73 609.00,659.15 609.54,660.31 610.09,666.34 610.63,660.27 611.17,660.17 611.72,659.91 612.26,658.87 612.81,659.85 613.35,659.58 613.89,660.45 614.44,660.11 614.98,661.09 615.53,660.43 616.07,660.25 616.62,660.88 617.16,660.87 617.70,660.52 618.25,661.82 618.79,656.76 619.34,661.08 619.88,659.48 620.42,661.44 620.97,659.96 621.51,660.19 622.06,660.74 622.60,660.81 623.14,662.00 623.69,661.08 624.23,660.62 624.78,660.92 625.32,660.32 625.86,661.34 626.41,661.46 626.95,659.78 627.50,659.70 628.04,659.58 628.58,659.41 629.13,659.04 629.67,660.26 630.22,659.40 630.76,658.14 631.31,661.15 631.85,660.38 632.39,660.10 632.94,659.77 633.48,659.55 634.03,658.95 634.57,659.79 635.11,659.75 635.66,659.04 636.20,659.58 636.75,660.27 637.29,664.94 637.83,660.83 638.38,659.59 638.92,659.38 639.47,660.17 640.01,659.46 640.55,660.81 641.10,659.21 641.64,658.59 642.19,659.72 642.73,660.38 643.27,660.45 643.82,660.27 644.36,659.23 644.91,659.52 645.45,658.31 645.99,659.73 646.54,659.57 647.08,660.34 647.63,660.40 648.17,659.39 648.72,659.82 649.26,659.86 649.80,660.49 650.35,658.84 650.89,659.20 651.44,659.20 651.98,658.58 652.52,658.76 653.07,660.44 653.61,660.61 654.16,660.56 654.70,659.89" fill="none" stroke="#111" stroke-width="0.7" stroke-linejoin="round"/>
<rect x="452.4" y="638.60" width="215.60" height="37.70" fill="none" stroke="#555" stroke-width="0.8"/>
<line x1="234.4" x2="234.4" y1="638.60" y2="676.30" stroke="#222" stroke-width="0.9"/>
<line x1="232.6" x2="234.4" y1="674.60" y2="674.60" stroke="#333" stroke-width="0.6"/>
<text x="232" y="677.00" font-size="6.8" text-anchor="end" fill="#4d4d4d">0</text>
<line x1="232.6" x2="234.4" y1="664.94" y2="664.94" stroke="#333" stroke-width="0.6"/>
<text x="232" y="667.34" font-size="6.8" text-anchor="end" fill="#4d4d4d">20</text>
<line x1="232.6" x2="234.4" y1="655.28" y2="655.28" stroke="#333" stroke-width="0.6"/>
<text x="232" y="657.68" font-size="6.8" text-anchor="end" fill="#4d4d4d">40</text>
<line x1="232.6" x2="234.4" y1="645.62" y2="645.62" stroke="#333" stroke-width="0.6"/>
<text x="232" y="648.02" font-size="6.8" text-anchor="end" fill="#4d4d4d">60</text>
<text transform="translate(670.7 657.45) rotate(90)" font-size="10.6" text-anchor="middle" fill="#1a1a1a">Chr3</text>
<rect x="234.4" y="678.25" width="215.50" height="37.70" fill="#fff"/>
<line x1="234.4" x2="449.9" y1="714.25" y2="714.25" stroke="#e2e2e2" stroke-width="0.55"/><line x1="234.4" x2="449.9" y1="709.42" y2="709.42" stroke="#efefef" stroke-width="0.55"/><line x1="234.4" x2="449.9" y1="704.59" y2="704.59" stroke="#e2e2e2" stroke-width="0.55"/><line x1="234.4" x2="449.9" y1="699.76" y2="699.76" stroke="#efefef" stroke-width="0.55"/><line x1="234.4" x2="449.9" y1="694.93" y2="694.93" stroke="#e2e2e2" stroke-width="0.55"/><line x1="234.4" x2="449.9" y1="690.10" y2="690.10" stroke="#efefef" stroke-width="0.55"/><line x1="234.4" x2="449.9" y1="685.27" y2="685.27" stroke="#e2e2e2" stroke-width="0.55"/><line x1="234.4" x2="449.9" y1="680.44" y2="680.44" stroke="#efefef" stroke-width="0.55"/><line x1="244.10" x2="244.10" y1="678.25" y2="715.95" stroke="#e2e2e2" stroke-width="0.55"/><line x1="269.30" x2="269.30" y1="678.25" y2="715.95" stroke="#efefef" stroke-width="0.55"/><line x1="294.50" x2="294.50" y1="678.25" y2="715.95" stroke="#e2e2e2" stroke-width="0.55"/><line x1="319.70" x2="319.70" y1="678.25" y2="715.95" stroke="#efefef" stroke-width="0.55"/><line x1="344.90" x2="344.90" y1="678.25" y2="715.95" stroke="#e2e2e2" stroke-width="0.55"/><line x1="370.10" x2="370.10" y1="678.25" y2="715.95" stroke="#efefef" stroke-width="0.55"/><line x1="395.30" x2="395.30" y1="678.25" y2="715.95" stroke="#e2e2e2" stroke-width="0.55"/><line x1="420.50" x2="420.50" y1="678.25" y2="715.95" stroke="#efefef" stroke-width="0.55"/><line x1="445.70" x2="445.70" y1="678.25" y2="715.95" stroke="#e2e2e2" stroke-width="0.55"/>
<polygon points="244.10,714.25 244.10,697.49 244.61,699.23 245.11,701.70 245.62,698.96 246.13,698.72 246.63,700.52 247.14,700.50 247.65,700.45 248.15,700.48 248.66,699.97 249.16,698.96 249.67,699.60 250.18,699.09 250.68,700.35 251.19,698.77 251.70,699.99 252.20,697.71 252.71,698.98 253.22,698.78 253.72,700.37 254.23,700.01 254.74,699.20 255.24,700.52 255.75,699.49 256.26,700.52 256.76,699.49 257.27,699.58 257.77,699.77 258.28,698.88 258.79,699.06 259.29,695.08 259.80,700.05 260.31,700.10 260.81,699.70 261.32,699.94 261.83,699.75 262.33,699.44 262.84,700.34 263.35,699.42 263.85,699.32 264.36,700.15 264.87,698.75 265.37,698.35 265.88,697.95 266.38,699.85 266.89,698.92 267.40,691.00 267.90,699.43 268.41,695.25 268.92,699.96 269.42,687.68 269.93,691.97 270.44,692.43 270.94,693.87 271.45,691.01 271.96,700.62 272.46,691.37 272.97,692.13 273.48,699.46 273.98,695.69 274.49,701.19 275.00,692.88 275.50,695.21 276.01,698.98 276.51,698.20 277.02,700.94 277.53,693.81 278.03,693.35 278.54,696.31 279.05,693.04 279.55,702.56 280.06,683.33 280.57,698.76 281.07,687.07 281.58,694.11 282.09,691.19 282.59,697.17 283.10,692.31 283.61,692.40 284.11,693.63 284.62,695.18 285.12,700.65 285.63,696.37 286.14,701.09 286.64,693.78 287.15,693.79 287.66,693.43 288.16,696.14 288.67,694.35 289.18,695.45 289.68,695.94 290.19,689.94 290.70,692.53 291.20,694.98 291.71,694.12 292.22,701.11 292.72,697.10 293.23,691.55 293.73,694.67 294.24,687.66 294.75,686.24 295.25,693.65 295.76,696.97 296.27,696.26 296.77,695.82 297.28,695.12 297.79,696.86 298.29,694.34 298.80,698.63 299.31,695.77 299.81,696.14 300.32,693.73 300.83,696.50 301.33,695.76 301.84,690.50 302.34,688.38 302.85,695.85 303.36,687.13 303.86,691.19 304.37,702.25 304.88,692.73 305.38,686.76 305.89,700.79 306.40,699.95 306.90,698.13 307.41,699.98 307.92,703.38 308.42,694.20 308.93,699.87 309.44,700.07 309.94,697.99 310.45,699.84 310.95,700.94 311.46,701.67 311.97,699.36 312.47,700.75 312.98,699.08 313.49,700.88 313.99,699.16 314.50,699.99 315.01,700.40 315.51,698.70 316.02,700.52 316.53,699.84 317.03,699.52 317.54,699.84 318.05,700.19 318.55,700.08 319.06,699.59 319.57,699.17 320.07,699.46 320.58,699.85 321.08,699.95 321.59,700.76 322.10,699.22 322.60,699.50 323.11,699.22 323.62,698.86 324.12,698.74 324.63,699.14 325.14,699.52 325.64,700.82 326.15,698.77 326.66,699.52 327.16,698.95 327.67,697.19 328.18,699.31 328.68,700.35 329.19,700.22 329.69,701.02 330.20,698.21 330.71,689.66 331.21,695.31 331.72,698.56 332.23,694.22 332.73,694.02 333.24,691.59 333.75,692.99 334.25,692.01 334.76,696.34 335.27,699.04 335.77,691.38 336.28,696.14 336.79,699.88 337.29,694.92 337.80,689.99 338.30,699.90 338.81,691.19 339.32,694.07 339.82,700.01 340.33,695.34 340.84,687.93 341.34,696.10 341.85,692.96 342.36,694.92 342.86,687.41 343.37,697.14 343.88,700.18 344.38,695.27 344.89,695.27 345.40,685.27 345.90,694.11 346.41,693.46 346.91,696.74 347.42,693.78 347.93,696.01 348.43,703.38 348.94,700.97 349.45,698.37 349.95,691.91 350.46,697.17 350.97,697.95 351.47,697.37 351.98,699.14 352.49,694.18 352.99,690.68 353.50,700.59 354.01,695.45 354.51,689.69 355.02,692.54 355.52,698.32 356.03,692.32 356.54,692.61 357.04,700.39 357.55,695.11 358.06,696.98 358.56,699.31 359.07,698.26 359.58,692.20 360.08,686.88 360.59,699.77 361.10,684.30 361.60,698.23 362.11,701.30 362.62,693.32 363.12,697.29 363.63,700.15 364.13,703.38 364.64,700.76 365.15,697.38 365.65,697.70 366.16,703.38 366.67,700.71 367.17,697.54 367.68,689.59 368.19,698.53 368.69,694.68 369.20,694.87 369.71,692.06 370.21,695.66 370.72,695.26 371.23,697.91 371.73,697.92 372.24,695.40 372.75,687.68 373.25,697.35 373.76,693.80 374.26,692.71 374.77,690.12 375.28,686.91 375.78,696.66 376.29,697.88 376.80,700.44 377.30,694.74 377.81,694.60 378.32,697.07 378.82,692.56 379.33,696.82 379.84,695.64 380.34,696.55 380.85,697.73 381.36,703.38 381.86,697.60 382.37,701.17 382.87,696.33 383.38,694.53 383.89,703.38 384.39,695.34 384.90,700.97 385.41,694.93 385.91,700.64 386.42,697.11 386.93,703.38 387.43,689.88 387.94,701.71 388.45,698.31 388.95,693.30 389.46,696.91 389.97,694.51 390.47,697.24 390.98,694.37 391.48,702.08 391.99,701.81 392.50,692.50 393.00,696.92 393.51,698.41 394.02,699.29 394.52,699.90 395.03,699.22 395.54,698.26 396.04,699.27 396.55,699.55 397.06,700.60 397.56,699.10 398.07,702.70 398.58,697.73 399.08,698.81 399.59,699.24 400.09,698.25 400.60,700.59 401.11,700.70 401.61,700.59 402.12,700.55 402.63,700.36 403.13,699.40 403.64,698.81 404.15,699.35 404.65,699.95 405.16,698.97 405.67,698.25 406.17,699.52 406.68,700.11 407.19,699.18 407.69,697.89 408.20,700.18 408.70,698.45 409.21,699.37 409.72,698.07 410.22,699.98 410.73,699.92 411.24,701.19 411.74,698.68 412.25,698.82 412.76,699.28 413.26,698.09 413.77,699.81 414.28,699.51 414.78,699.51 415.29,699.25 415.80,699.07 416.30,698.79 416.81,699.18 417.32,697.91 417.82,699.10 418.33,699.90 418.83,698.81 419.34,699.26 419.85,685.27 420.35,699.93 420.86,701.04 421.37,699.78 421.87,699.49 422.38,699.48 422.89,699.16 423.39,698.44 423.90,698.44 424.41,699.77 424.91,696.17 425.42,698.91 425.93,700.57 426.43,699.62 426.94,694.98 427.44,699.99 427.95,699.93 428.46,701.48 428.96,700.39 429.47,700.86 429.98,699.41 430.48,700.69 430.99,700.43 431.50,696.59 432.00,700.85 432.51,699.48 433.02,699.32 433.52,699.84 434.03,700.35 434.54,699.76 435.04,699.41 435.55,699.33 436.05,698.89 436.56,698.46 437.07,699.02 437.57,698.15 438.08,698.76 438.59,698.17 439.09,700.03 439.60,699.93 439.60,714.25" fill="#dcdcdc"/>
<polyline points="244.10,697.49 244.61,699.23 245.11,701.70 245.62,698.96 246.13,698.72 246.63,700.52 247.14,700.50 247.65,700.45 248.15,700.48 248.66,699.97 249.16,698.96 249.67,699.60 250.18,699.09 250.68,700.35 251.19,698.77 251.70,699.99 252.20,697.71 252.71,698.98 253.22,698.78 253.72,700.37 254.23,700.01 254.74,699.20 255.24,700.52 255.75,699.49 256.26,700.52 256.76,699.49 257.27,699.58 257.77,699.77 258.28,698.88 258.79,699.06 259.29,695.08 259.80,700.05 260.31,700.10 260.81,699.70 261.32,699.94 261.83,699.75 262.33,699.44 262.84,700.34 263.35,699.42 263.85,699.32 264.36,700.15 264.87,698.75 265.37,698.35 265.88,697.95 266.38,699.85 266.89,698.92 267.40,691.00 267.90,699.43 268.41,695.25 268.92,699.96 269.42,687.68 269.93,691.97 270.44,692.43 270.94,693.87 271.45,691.01 271.96,700.62 272.46,691.37 272.97,692.13 273.48,699.46 273.98,695.69 274.49,701.19 275.00,692.88 275.50,695.21 276.01,698.98 276.51,698.20 277.02,700.94 277.53,693.81 278.03,693.35 278.54,696.31 279.05,693.04 279.55,702.56 280.06,683.33 280.57,698.76 281.07,687.07 281.58,694.11 282.09,691.19 282.59,697.17 283.10,692.31 283.61,692.40 284.11,693.63 284.62,695.18 285.12,700.65 285.63,696.37 286.14,701.09 286.64,693.78 287.15,693.79 287.66,693.43 288.16,696.14 288.67,694.35 289.18,695.45 289.68,695.94 290.19,689.94 290.70,692.53 291.20,694.98 291.71,694.12 292.22,701.11 292.72,697.10 293.23,691.55 293.73,694.67 294.24,687.66 294.75,686.24 295.25,693.65 295.76,696.97 296.27,696.26 296.77,695.82 297.28,695.12 297.79,696.86 298.29,694.34 298.80,698.63 299.31,695.77 299.81,696.14 300.32,693.73 300.83,696.50 301.33,695.76 301.84,690.50 302.34,688.38 302.85,695.85 303.36,687.13 303.86,691.19 304.37,702.25 304.88,692.73 305.38,686.76 305.89,700.79 306.40,699.95 306.90,698.13 307.41,699.98 307.92,703.38 308.42,694.20 308.93,699.87 309.44,700.07 309.94,697.99 310.45,699.84 310.95,700.94 311.46,701.67 311.97,699.36 312.47,700.75 312.98,699.08 313.49,700.88 313.99,699.16 314.50,699.99 315.01,700.40 315.51,698.70 316.02,700.52 316.53,699.84 317.03,699.52 317.54,699.84 318.05,700.19 318.55,700.08 319.06,699.59 319.57,699.17 320.07,699.46 320.58,699.85 321.08,699.95 321.59,700.76 322.10,699.22 322.60,699.50 323.11,699.22 323.62,698.86 324.12,698.74 324.63,699.14 325.14,699.52 325.64,700.82 326.15,698.77 326.66,699.52 327.16,698.95 327.67,697.19 328.18,699.31 328.68,700.35 329.19,700.22 329.69,701.02 330.20,698.21 330.71,689.66 331.21,695.31 331.72,698.56 332.23,694.22 332.73,694.02 333.24,691.59 333.75,692.99 334.25,692.01 334.76,696.34 335.27,699.04 335.77,691.38 336.28,696.14 336.79,699.88 337.29,694.92 337.80,689.99 338.30,699.90 338.81,691.19 339.32,694.07 339.82,700.01 340.33,695.34 340.84,687.93 341.34,696.10 341.85,692.96 342.36,694.92 342.86,687.41 343.37,697.14 343.88,700.18 344.38,695.27 344.89,695.27 345.40,685.27 345.90,694.11 346.41,693.46 346.91,696.74 347.42,693.78 347.93,696.01 348.43,703.38 348.94,700.97 349.45,698.37 349.95,691.91 350.46,697.17 350.97,697.95 351.47,697.37 351.98,699.14 352.49,694.18 352.99,690.68 353.50,700.59 354.01,695.45 354.51,689.69 355.02,692.54 355.52,698.32 356.03,692.32 356.54,692.61 357.04,700.39 357.55,695.11 358.06,696.98 358.56,699.31 359.07,698.26 359.58,692.20 360.08,686.88 360.59,699.77 361.10,684.30 361.60,698.23 362.11,701.30 362.62,693.32 363.12,697.29 363.63,700.15 364.13,703.38 364.64,700.76 365.15,697.38 365.65,697.70 366.16,703.38 366.67,700.71 367.17,697.54 367.68,689.59 368.19,698.53 368.69,694.68 369.20,694.87 369.71,692.06 370.21,695.66 370.72,695.26 371.23,697.91 371.73,697.92 372.24,695.40 372.75,687.68 373.25,697.35 373.76,693.80 374.26,692.71 374.77,690.12 375.28,686.91 375.78,696.66 376.29,697.88 376.80,700.44 377.30,694.74 377.81,694.60 378.32,697.07 378.82,692.56 379.33,696.82 379.84,695.64 380.34,696.55 380.85,697.73 381.36,703.38 381.86,697.60 382.37,701.17 382.87,696.33 383.38,694.53 383.89,703.38 384.39,695.34 384.90,700.97 385.41,694.93 385.91,700.64 386.42,697.11 386.93,703.38 387.43,689.88 387.94,701.71 388.45,698.31 388.95,693.30 389.46,696.91 389.97,694.51 390.47,697.24 390.98,694.37 391.48,702.08 391.99,701.81 392.50,692.50 393.00,696.92 393.51,698.41 394.02,699.29 394.52,699.90 395.03,699.22 395.54,698.26 396.04,699.27 396.55,699.55 397.06,700.60 397.56,699.10 398.07,702.70 398.58,697.73 399.08,698.81 399.59,699.24 400.09,698.25 400.60,700.59 401.11,700.70 401.61,700.59 402.12,700.55 402.63,700.36 403.13,699.40 403.64,698.81 404.15,699.35 404.65,699.95 405.16,698.97 405.67,698.25 406.17,699.52 406.68,700.11 407.19,699.18 407.69,697.89 408.20,700.18 408.70,698.45 409.21,699.37 409.72,698.07 410.22,699.98 410.73,699.92 411.24,701.19 411.74,698.68 412.25,698.82 412.76,699.28 413.26,698.09 413.77,699.81 414.28,699.51 414.78,699.51 415.29,699.25 415.80,699.07 416.30,698.79 416.81,699.18 417.32,697.91 417.82,699.10 418.33,699.90 418.83,698.81 419.34,699.26 419.85,685.27 420.35,699.93 420.86,701.04 421.37,699.78 421.87,699.49 422.38,699.48 422.89,699.16 423.39,698.44 423.90,698.44 424.41,699.77 424.91,696.17 425.42,698.91 425.93,700.57 426.43,699.62 426.94,694.98 427.44,699.99 427.95,699.93 428.46,701.48 428.96,700.39 429.47,700.86 429.98,699.41 430.48,700.69 430.99,700.43 431.50,696.59 432.00,700.85 432.51,699.48 433.02,699.32 433.52,699.84 434.03,700.35 434.54,699.76 435.04,699.41 435.55,699.33 436.05,698.89 436.56,698.46 437.07,699.02 437.57,698.15 438.08,698.76 438.59,698.17 439.09,700.03 439.60,699.93" fill="none" stroke="#111" stroke-width="0.7" stroke-linejoin="round"/>
<rect x="234.4" y="678.25" width="215.50" height="37.70" fill="none" stroke="#555" stroke-width="0.8"/>
<rect x="452.4" y="678.25" width="215.60" height="37.70" fill="#fff"/>
<line x1="452.4" x2="668.0" y1="714.25" y2="714.25" stroke="#e2e2e2" stroke-width="0.55"/><line x1="452.4" x2="668.0" y1="709.42" y2="709.42" stroke="#efefef" stroke-width="0.55"/><line x1="452.4" x2="668.0" y1="704.59" y2="704.59" stroke="#e2e2e2" stroke-width="0.55"/><line x1="452.4" x2="668.0" y1="699.76" y2="699.76" stroke="#efefef" stroke-width="0.55"/><line x1="452.4" x2="668.0" y1="694.93" y2="694.93" stroke="#e2e2e2" stroke-width="0.55"/><line x1="452.4" x2="668.0" y1="690.10" y2="690.10" stroke="#efefef" stroke-width="0.55"/><line x1="452.4" x2="668.0" y1="685.27" y2="685.27" stroke="#e2e2e2" stroke-width="0.55"/><line x1="452.4" x2="668.0" y1="680.44" y2="680.44" stroke="#efefef" stroke-width="0.55"/><line x1="462.10" x2="462.10" y1="678.25" y2="715.95" stroke="#e2e2e2" stroke-width="0.55"/><line x1="489.20" x2="489.20" y1="678.25" y2="715.95" stroke="#efefef" stroke-width="0.55"/><line x1="516.30" x2="516.30" y1="678.25" y2="715.95" stroke="#e2e2e2" stroke-width="0.55"/><line x1="543.40" x2="543.40" y1="678.25" y2="715.95" stroke="#efefef" stroke-width="0.55"/><line x1="570.50" x2="570.50" y1="678.25" y2="715.95" stroke="#e2e2e2" stroke-width="0.55"/><line x1="597.60" x2="597.60" y1="678.25" y2="715.95" stroke="#efefef" stroke-width="0.55"/><line x1="624.70" x2="624.70" y1="678.25" y2="715.95" stroke="#e2e2e2" stroke-width="0.55"/><line x1="651.80" x2="651.80" y1="678.25" y2="715.95" stroke="#efefef" stroke-width="0.55"/>
<polygon points="462.10,714.25 462.10,698.83 462.64,699.28 463.19,697.96 463.73,699.85 464.28,699.56 464.82,692.62 465.37,699.09 465.91,698.78 466.46,698.76 467.00,698.98 467.55,697.51 468.09,697.91 468.63,698.86 469.18,699.09 469.72,698.62 470.27,698.56 470.81,699.81 471.36,698.05 471.90,697.35 472.45,698.67 472.99,698.53 473.54,697.77 474.08,700.53 474.63,699.45 475.17,700.13 475.71,697.44 476.26,697.98 476.80,698.89 477.35,698.95 477.89,699.34 478.44,697.95 478.98,698.29 479.53,699.96 480.07,698.10 480.62,698.20 481.16,698.62 481.70,698.21 482.25,698.44 482.79,699.69 483.34,699.00 483.88,699.67 484.43,699.28 484.97,700.78 485.52,699.66 486.06,698.64 486.61,698.95 487.15,700.03 487.69,696.95 488.24,698.67 488.78,701.65 489.33,695.39 489.87,697.16 490.42,699.64 490.96,696.98 491.51,690.29 492.05,697.18 492.60,698.71 493.14,695.24 493.68,695.15 494.23,693.25 494.77,699.23 495.32,696.77 495.86,688.90 496.41,701.00 496.95,696.47 497.50,691.04 498.04,695.34 498.59,696.28 499.13,696.69 499.68,694.37 500.22,698.06 500.76,699.61 501.31,698.50 501.85,701.64 502.40,699.83 502.94,682.86 503.49,700.30 504.03,696.94 504.58,696.10 505.12,698.32 505.67,691.00 506.21,696.79 506.75,692.95 507.30,699.99 507.84,697.18 508.39,702.06 508.93,701.13 509.48,701.44 510.02,698.72 510.57,691.22 511.11,698.37 511.66,694.89 512.20,696.77 512.74,699.07 513.29,699.65 513.83,693.55 514.38,701.87 514.92,697.04 515.47,699.11 516.01,695.75 516.56,695.97 517.10,696.84 517.65,693.59 518.19,691.61 518.74,698.81 519.28,694.87 519.82,702.90 520.37,702.90 520.91,693.73 521.46,699.10 522.00,694.54 522.55,701.09 523.09,696.32 523.64,696.45 524.18,692.81 524.73,700.49 525.27,699.68 525.81,699.97 526.36,700.40 526.90,700.86 527.45,699.41 527.99,699.69 528.54,698.05 529.08,698.38 529.63,698.73 530.17,698.67 530.72,699.93 531.26,700.25 531.80,698.84 532.35,698.47 532.89,699.12 533.44,698.59 533.98,699.24 534.53,698.89 535.07,699.27 535.62,699.20 536.16,698.92 536.71,699.79 537.25,697.80 537.79,698.02 538.34,700.09 538.88,697.84 539.43,698.76 539.97,698.50 540.52,698.72 541.06,694.76 541.61,700.56 542.15,700.04 542.70,699.57 543.24,699.29 543.79,700.36 544.33,698.92 544.87,699.03 545.42,699.44 545.96,699.88 546.51,698.35 547.05,699.67 547.60,699.12 548.14,698.60 548.69,699.28 549.23,697.75 549.78,697.79 550.32,698.70 550.86,699.54 551.41,698.45 551.95,699.66 552.50,698.45 553.04,703.06 553.59,699.50 554.13,697.34 554.68,700.18 555.22,698.99 555.77,699.27 556.31,698.42 556.85,699.25 557.40,698.55 557.94,699.34 558.49,698.18 559.03,698.51 559.58,699.68 560.12,698.14 560.67,699.23 561.21,700.72 561.76,699.86 562.30,698.43 562.85,699.02 563.39,700.55 563.93,700.00 564.48,698.97 565.02,700.60 565.57,699.37 566.11,697.23 566.66,695.00 567.20,699.56 567.75,697.90 568.29,699.36 568.84,698.35 569.38,697.58 569.92,697.52 570.47,698.77 571.01,692.26 571.56,696.76 572.10,697.38 572.65,692.11 573.19,697.07 573.74,698.38 574.28,698.91 574.83,698.24 575.37,696.83 575.91,698.14 576.46,696.13 577.00,696.59 577.55,695.62 578.09,691.64 578.64,699.06 579.18,696.51 579.73,694.34 580.27,697.69 580.82,702.44 581.36,696.95 581.91,700.97 582.45,695.77 582.99,698.10 583.54,698.93 584.08,702.90 584.63,698.07 585.17,699.36 585.72,696.28 586.26,696.17 586.81,699.29 587.35,700.68 587.90,696.66 588.44,696.09 588.98,702.90 589.53,700.63 590.07,698.29 590.62,696.35 591.16,698.87 591.71,696.16 592.25,698.34 592.80,699.63 593.34,694.89 593.89,699.60 594.43,697.72 594.97,697.44 595.52,696.01 596.06,698.23 596.61,695.56 597.15,696.69 597.70,695.71 598.24,698.80 598.79,697.90 599.33,695.33 599.88,696.55 600.42,693.50 600.96,697.01 601.51,698.90 602.05,697.76 602.60,698.70 603.14,697.69 603.69,699.40 604.23,697.85 604.78,694.99 605.32,699.27 605.87,695.64 606.41,684.30 606.96,694.47 607.50,699.42 608.04,699.44 608.59,699.04 609.13,698.80 609.68,699.06 610.22,698.04 610.77,699.33 611.31,698.56 611.86,699.00 612.40,699.06 612.95,698.76 613.49,698.38 614.03,697.92 614.58,698.71 615.12,698.99 615.67,698.08 616.21,697.77 616.76,698.64 617.30,698.37 617.85,699.79 618.39,699.82 618.94,699.71 619.48,699.44 620.02,700.72 620.57,699.16 621.11,698.69 621.66,702.68 622.20,699.75 622.75,700.05 623.29,699.72 623.84,700.03 624.38,699.01 624.93,698.60 625.47,700.11 626.02,699.39 626.56,698.97 627.10,699.24 627.65,694.67 628.19,698.83 628.74,700.10 629.28,699.25 629.83,698.56 630.37,698.42 630.92,698.71 631.46,699.27 632.01,698.71 632.55,698.53 633.09,699.76 633.64,700.05 634.18,710.85 634.73,699.09 635.27,700.93 635.82,700.30 636.36,699.58 636.91,700.01 637.45,700.41 638.00,699.48 638.54,700.14 639.08,699.37 639.63,700.33 640.17,698.31 640.72,699.35 641.26,699.21 641.81,698.80 642.35,698.24 642.90,697.56 643.44,699.05 643.99,698.77 644.53,699.14 645.07,699.25 645.62,698.99 646.16,699.77 646.71,697.55 647.25,698.73 647.80,699.49 648.34,698.32 648.89,697.98 649.43,700.04 649.98,699.31 650.52,699.69 651.07,699.21 651.61,699.49 652.15,692.36 652.70,698.10 653.24,698.28 653.79,699.17 654.33,698.84 654.88,699.11 655.42,699.33 655.97,698.23 656.51,699.46 657.06,698.80 657.60,699.57 657.60,714.25" fill="#dcdcdc"/>
<polyline points="462.10,698.83 462.64,699.28 463.19,697.96 463.73,699.85 464.28,699.56 464.82,692.62 465.37,699.09 465.91,698.78 466.46,698.76 467.00,698.98 467.55,697.51 468.09,697.91 468.63,698.86 469.18,699.09 469.72,698.62 470.27,698.56 470.81,699.81 471.36,698.05 471.90,697.35 472.45,698.67 472.99,698.53 473.54,697.77 474.08,700.53 474.63,699.45 475.17,700.13 475.71,697.44 476.26,697.98 476.80,698.89 477.35,698.95 477.89,699.34 478.44,697.95 478.98,698.29 479.53,699.96 480.07,698.10 480.62,698.20 481.16,698.62 481.70,698.21 482.25,698.44 482.79,699.69 483.34,699.00 483.88,699.67 484.43,699.28 484.97,700.78 485.52,699.66 486.06,698.64 486.61,698.95 487.15,700.03 487.69,696.95 488.24,698.67 488.78,701.65 489.33,695.39 489.87,697.16 490.42,699.64 490.96,696.98 491.51,690.29 492.05,697.18 492.60,698.71 493.14,695.24 493.68,695.15 494.23,693.25 494.77,699.23 495.32,696.77 495.86,688.90 496.41,701.00 496.95,696.47 497.50,691.04 498.04,695.34 498.59,696.28 499.13,696.69 499.68,694.37 500.22,698.06 500.76,699.61 501.31,698.50 501.85,701.64 502.40,699.83 502.94,682.86 503.49,700.30 504.03,696.94 504.58,696.10 505.12,698.32 505.67,691.00 506.21,696.79 506.75,692.95 507.30,699.99 507.84,697.18 508.39,702.06 508.93,701.13 509.48,701.44 510.02,698.72 510.57,691.22 511.11,698.37 511.66,694.89 512.20,696.77 512.74,699.07 513.29,699.65 513.83,693.55 514.38,701.87 514.92,697.04 515.47,699.11 516.01,695.75 516.56,695.97 517.10,696.84 517.65,693.59 518.19,691.61 518.74,698.81 519.28,694.87 519.82,702.90 520.37,702.90 520.91,693.73 521.46,699.10 522.00,694.54 522.55,701.09 523.09,696.32 523.64,696.45 524.18,692.81 524.73,700.49 525.27,699.68 525.81,699.97 526.36,700.40 526.90,700.86 527.45,699.41 527.99,699.69 528.54,698.05 529.08,698.38 529.63,698.73 530.17,698.67 530.72,699.93 531.26,700.25 531.80,698.84 532.35,698.47 532.89,699.12 533.44,698.59 533.98,699.24 534.53,698.89 535.07,699.27 535.62,699.20 536.16,698.92 536.71,699.79 537.25,697.80 537.79,698.02 538.34,700.09 538.88,697.84 539.43,698.76 539.97,698.50 540.52,698.72 541.06,694.76 541.61,700.56 542.15,700.04 542.70,699.57 543.24,699.29 543.79,700.36 544.33,698.92 544.87,699.03 545.42,699.44 545.96,699.88 546.51,698.35 547.05,699.67 547.60,699.12 548.14,698.60 548.69,699.28 549.23,697.75 549.78,697.79 550.32,698.70 550.86,699.54 551.41,698.45 551.95,699.66 552.50,698.45 553.04,703.06 553.59,699.50 554.13,697.34 554.68,700.18 555.22,698.99 555.77,699.27 556.31,698.42 556.85,699.25 557.40,698.55 557.94,699.34 558.49,698.18 559.03,698.51 559.58,699.68 560.12,698.14 560.67,699.23 561.21,700.72 561.76,699.86 562.30,698.43 562.85,699.02 563.39,700.55 563.93,700.00 564.48,698.97 565.02,700.60 565.57,699.37 566.11,697.23 566.66,695.00 567.20,699.56 567.75,697.90 568.29,699.36 568.84,698.35 569.38,697.58 569.92,697.52 570.47,698.77 571.01,692.26 571.56,696.76 572.10,697.38 572.65,692.11 573.19,697.07 573.74,698.38 574.28,698.91 574.83,698.24 575.37,696.83 575.91,698.14 576.46,696.13 577.00,696.59 577.55,695.62 578.09,691.64 578.64,699.06 579.18,696.51 579.73,694.34 580.27,697.69 580.82,702.44 581.36,696.95 581.91,700.97 582.45,695.77 582.99,698.10 583.54,698.93 584.08,702.90 584.63,698.07 585.17,699.36 585.72,696.28 586.26,696.17 586.81,699.29 587.35,700.68 587.90,696.66 588.44,696.09 588.98,702.90 589.53,700.63 590.07,698.29 590.62,696.35 591.16,698.87 591.71,696.16 592.25,698.34 592.80,699.63 593.34,694.89 593.89,699.60 594.43,697.72 594.97,697.44 595.52,696.01 596.06,698.23 596.61,695.56 597.15,696.69 597.70,695.71 598.24,698.80 598.79,697.90 599.33,695.33 599.88,696.55 600.42,693.50 600.96,697.01 601.51,698.90 602.05,697.76 602.60,698.70 603.14,697.69 603.69,699.40 604.23,697.85 604.78,694.99 605.32,699.27 605.87,695.64 606.41,684.30 606.96,694.47 607.50,699.42 608.04,699.44 608.59,699.04 609.13,698.80 609.68,699.06 610.22,698.04 610.77,699.33 611.31,698.56 611.86,699.00 612.40,699.06 612.95,698.76 613.49,698.38 614.03,697.92 614.58,698.71 615.12,698.99 615.67,698.08 616.21,697.77 616.76,698.64 617.30,698.37 617.85,699.79 618.39,699.82 618.94,699.71 619.48,699.44 620.02,700.72 620.57,699.16 621.11,698.69 621.66,702.68 622.20,699.75 622.75,700.05 623.29,699.72 623.84,700.03 624.38,699.01 624.93,698.60 625.47,700.11 626.02,699.39 626.56,698.97 627.10,699.24 627.65,694.67 628.19,698.83 628.74,700.10 629.28,699.25 629.83,698.56 630.37,698.42 630.92,698.71 631.46,699.27 632.01,698.71 632.55,698.53 633.09,699.76 633.64,700.05 634.18,710.85 634.73,699.09 635.27,700.93 635.82,700.30 636.36,699.58 636.91,700.01 637.45,700.41 638.00,699.48 638.54,700.14 639.08,699.37 639.63,700.33 640.17,698.31 640.72,699.35 641.26,699.21 641.81,698.80 642.35,698.24 642.90,697.56 643.44,699.05 643.99,698.77 644.53,699.14 645.07,699.25 645.62,698.99 646.16,699.77 646.71,697.55 647.25,698.73 647.80,699.49 648.34,698.32 648.89,697.98 649.43,700.04 649.98,699.31 650.52,699.69 651.07,699.21 651.61,699.49 652.15,692.36 652.70,698.10 653.24,698.28 653.79,699.17 654.33,698.84 654.88,699.11 655.42,699.33 655.97,698.23 656.51,699.46 657.06,698.80 657.60,699.57" fill="none" stroke="#111" stroke-width="0.7" stroke-linejoin="round"/>
<rect x="452.4" y="678.25" width="215.60" height="37.70" fill="none" stroke="#555" stroke-width="0.8"/>
<line x1="234.4" x2="234.4" y1="678.25" y2="715.95" stroke="#222" stroke-width="0.9"/>
<line x1="232.6" x2="234.4" y1="714.25" y2="714.25" stroke="#333" stroke-width="0.6"/>
<text x="232" y="716.65" font-size="6.8" text-anchor="end" fill="#4d4d4d">0</text>
<line x1="232.6" x2="234.4" y1="704.59" y2="704.59" stroke="#333" stroke-width="0.6"/>
<text x="232" y="706.99" font-size="6.8" text-anchor="end" fill="#4d4d4d">20</text>
<line x1="232.6" x2="234.4" y1="694.93" y2="694.93" stroke="#333" stroke-width="0.6"/>
<text x="232" y="697.33" font-size="6.8" text-anchor="end" fill="#4d4d4d">40</text>
<line x1="232.6" x2="234.4" y1="685.27" y2="685.27" stroke="#333" stroke-width="0.6"/>
<text x="232" y="687.67" font-size="6.8" text-anchor="end" fill="#4d4d4d">60</text>
<text transform="translate(670.7 697.10) rotate(90)" font-size="10.6" text-anchor="middle" fill="#1a1a1a">Chr4</text>
<rect x="234.4" y="717.90" width="215.50" height="37.70" fill="#fff"/>
<line x1="234.4" x2="449.9" y1="753.90" y2="753.90" stroke="#e2e2e2" stroke-width="0.55"/><line x1="234.4" x2="449.9" y1="749.07" y2="749.07" stroke="#efefef" stroke-width="0.55"/><line x1="234.4" x2="449.9" y1="744.24" y2="744.24" stroke="#e2e2e2" stroke-width="0.55"/><line x1="234.4" x2="449.9" y1="739.41" y2="739.41" stroke="#efefef" stroke-width="0.55"/><line x1="234.4" x2="449.9" y1="734.58" y2="734.58" stroke="#e2e2e2" stroke-width="0.55"/><line x1="234.4" x2="449.9" y1="729.75" y2="729.75" stroke="#efefef" stroke-width="0.55"/><line x1="234.4" x2="449.9" y1="724.92" y2="724.92" stroke="#e2e2e2" stroke-width="0.55"/><line x1="234.4" x2="449.9" y1="720.09" y2="720.09" stroke="#efefef" stroke-width="0.55"/><line x1="244.10" x2="244.10" y1="717.90" y2="755.60" stroke="#e2e2e2" stroke-width="0.55"/><line x1="269.30" x2="269.30" y1="717.90" y2="755.60" stroke="#efefef" stroke-width="0.55"/><line x1="294.50" x2="294.50" y1="717.90" y2="755.60" stroke="#e2e2e2" stroke-width="0.55"/><line x1="319.70" x2="319.70" y1="717.90" y2="755.60" stroke="#efefef" stroke-width="0.55"/><line x1="344.90" x2="344.90" y1="717.90" y2="755.60" stroke="#e2e2e2" stroke-width="0.55"/><line x1="370.10" x2="370.10" y1="717.90" y2="755.60" stroke="#efefef" stroke-width="0.55"/><line x1="395.30" x2="395.30" y1="717.90" y2="755.60" stroke="#e2e2e2" stroke-width="0.55"/><line x1="420.50" x2="420.50" y1="717.90" y2="755.60" stroke="#efefef" stroke-width="0.55"/><line x1="445.70" x2="445.70" y1="717.90" y2="755.60" stroke="#e2e2e2" stroke-width="0.55"/>
<polygon points="244.10,753.90 244.10,734.58 244.61,735.55 245.11,738.26 245.62,737.99 246.12,739.24 246.63,738.52 247.14,736.87 247.64,738.85 248.15,737.48 248.66,737.73 249.16,738.19 249.67,738.84 250.17,738.44 250.68,737.62 251.19,738.39 251.69,737.18 252.20,736.37 252.71,737.05 253.21,738.91 253.72,738.58 254.22,738.56 254.73,738.00 255.24,738.07 255.74,738.27 256.25,737.81 256.75,738.67 257.26,738.64 257.77,738.79 258.27,738.65 258.78,737.90 259.29,738.73 259.79,738.84 260.30,738.18 260.80,742.02 261.31,739.46 261.82,734.73 262.32,739.51 262.83,739.49 263.33,739.75 263.84,739.13 264.35,739.06 264.85,739.35 265.36,739.33 265.87,738.98 266.37,738.66 266.88,737.88 267.38,739.82 267.89,738.93 268.40,737.41 268.90,740.29 269.41,738.33 269.92,738.44 270.42,737.22 270.93,738.54 271.43,738.72 271.94,739.66 272.45,738.36 272.95,736.99 273.46,738.96 273.96,738.44 274.47,738.09 274.98,738.96 275.48,737.99 275.99,739.00 276.50,739.52 277.00,738.49 277.51,739.63 278.01,739.02 278.52,739.10 279.03,738.17 279.53,739.04 280.04,738.97 280.54,738.23 281.05,738.48 281.56,738.69 282.06,737.78 282.57,737.19 283.08,738.22 283.58,739.06 284.09,738.85 284.59,738.16 285.10,741.86 285.61,738.67 286.11,737.95 286.62,738.51 287.13,737.78 287.63,737.27 288.14,737.47 288.64,737.87 289.15,738.76 289.66,737.10 290.16,736.82 290.67,737.30 291.17,742.31 291.68,738.09 292.19,740.19 292.69,738.50 293.20,738.57 293.71,736.76 294.21,738.67 294.72,739.59 295.22,739.28 295.73,737.95 296.24,742.79 296.74,737.25 297.25,738.74 297.75,737.86 298.26,739.09 298.77,737.62 299.27,739.12 299.78,738.43 300.29,739.14 300.79,738.70 301.30,740.17 301.80,738.76 302.31,740.17 302.82,739.66 303.32,739.58 303.83,739.76 304.34,739.26 304.84,739.33 305.35,738.64 305.85,738.86 306.36,739.47 306.87,738.58 307.37,739.45 307.88,739.12 308.38,738.85 308.89,738.57 309.40,739.31 309.90,739.53 310.41,738.63 310.92,739.47 311.42,738.26 311.93,738.14 312.43,739.34 312.94,737.87 313.45,738.76 313.95,739.29 314.46,744.24 314.96,739.21 315.47,738.92 315.98,738.86 316.48,739.28 316.99,739.49 317.50,740.65 318.00,738.84 318.51,737.79 319.01,738.78 319.52,738.66 320.03,737.89 320.53,738.05 321.04,739.52 321.55,738.91 322.05,737.50 322.56,738.68 323.06,738.61 323.57,738.76 324.08,738.39 324.58,739.18 325.09,743.07 325.59,739.76 326.10,730.11 326.61,738.54 327.11,737.82 327.62,739.26 328.13,736.93 328.63,739.11 329.14,744.05 329.64,739.18 330.15,738.46 330.66,738.05 331.16,738.79 331.67,739.12 332.17,739.34 332.68,738.40 333.19,737.55 333.69,737.76 334.20,739.46 334.71,738.74 335.21,739.74 335.72,739.45 336.22,739.05 336.73,739.42 337.24,739.45 337.74,739.43 338.25,738.45 338.76,738.49 339.26,739.09 339.77,744.81 340.27,740.08 340.78,739.45 341.29,739.20 341.79,739.67 342.30,739.33 342.80,738.70 343.31,738.99 343.82,736.95 344.32,738.96 344.83,738.17 345.34,738.55 345.84,738.41 346.35,739.05 346.85,739.71 347.36,739.62 347.87,738.44 348.37,737.68 348.88,737.69 349.38,739.10 349.89,739.46 350.40,739.82 350.90,738.41 351.41,739.06 351.92,739.51 352.42,738.49 352.93,738.40 353.43,739.27 353.94,739.17 354.45,739.72 354.95,739.54 355.46,738.59 355.97,738.83 356.47,739.02 356.98,738.92 357.48,738.52 357.99,737.83 358.50,739.12 359.00,737.93 359.51,738.99 360.01,738.49 360.52,738.83 361.03,738.10 361.53,739.42 362.04,738.62 362.55,739.00 363.05,738.12 363.56,737.68 364.06,738.05 364.57,742.81 365.08,738.53 365.58,738.06 366.09,738.01 366.59,738.10 367.10,738.46 367.61,738.71 368.11,737.78 368.62,735.55 369.13,739.48 369.63,740.13 370.14,739.12 370.64,738.94 371.15,742.31 371.66,737.91 372.16,738.85 372.67,738.48 373.18,738.64 373.68,744.24 374.19,739.18 374.69,739.24 375.20,738.45 375.20,753.90" fill="#dcdcdc"/>
<polyline points="244.10,734.58 244.61,735.55 245.11,738.26 245.62,737.99 246.12,739.24 246.63,738.52 247.14,736.87 247.64,738.85 248.15,737.48 248.66,737.73 249.16,738.19 249.67,738.84 250.17,738.44 250.68,737.62 251.19,738.39 251.69,737.18 252.20,736.37 252.71,737.05 253.21,738.91 253.72,738.58 254.22,738.56 254.73,738.00 255.24,738.07 255.74,738.27 256.25,737.81 256.75,738.67 257.26,738.64 257.77,738.79 258.27,738.65 258.78,737.90 259.29,738.73 259.79,738.84 260.30,738.18 260.80,742.02 261.31,739.46 261.82,734.73 262.32,739.51 262.83,739.49 263.33,739.75 263.84,739.13 264.35,739.06 264.85,739.35 265.36,739.33 265.87,738.98 266.37,738.66 266.88,737.88 267.38,739.82 267.89,738.93 268.40,737.41 268.90,740.29 269.41,738.33 269.92,738.44 270.42,737.22 270.93,738.54 271.43,738.72 271.94,739.66 272.45,738.36 272.95,736.99 273.46,738.96 273.96,738.44 274.47,738.09 274.98,738.96 275.48,737.99 275.99,739.00 276.50,739.52 277.00,738.49 277.51,739.63 278.01,739.02 278.52,739.10 279.03,738.17 279.53,739.04 280.04,738.97 280.54,738.23 281.05,738.48 281.56,738.69 282.06,737.78 282.57,737.19 283.08,738.22 283.58,739.06 284.09,738.85 284.59,738.16 285.10,741.86 285.61,738.67 286.11,737.95 286.62,738.51 287.13,737.78 287.63,737.27 288.14,737.47 288.64,737.87 289.15,738.76 289.66,737.10 290.16,736.82 290.67,737.30 291.17,742.31 291.68,738.09 292.19,740.19 292.69,738.50 293.20,738.57 293.71,736.76 294.21,738.67 294.72,739.59 295.22,739.28 295.73,737.95 296.24,742.79 296.74,737.25 297.25,738.74 297.75,737.86 298.26,739.09 298.77,737.62 299.27,739.12 299.78,738.43 300.29,739.14 300.79,738.70 301.30,740.17 301.80,738.76 302.31,740.17 302.82,739.66 303.32,739.58 303.83,739.76 304.34,739.26 304.84,739.33 305.35,738.64 305.85,738.86 306.36,739.47 306.87,738.58 307.37,739.45 307.88,739.12 308.38,738.85 308.89,738.57 309.40,739.31 309.90,739.53 310.41,738.63 310.92,739.47 311.42,738.26 311.93,738.14 312.43,739.34 312.94,737.87 313.45,738.76 313.95,739.29 314.46,744.24 314.96,739.21 315.47,738.92 315.98,738.86 316.48,739.28 316.99,739.49 317.50,740.65 318.00,738.84 318.51,737.79 319.01,738.78 319.52,738.66 320.03,737.89 320.53,738.05 321.04,739.52 321.55,738.91 322.05,737.50 322.56,738.68 323.06,738.61 323.57,738.76 324.08,738.39 324.58,739.18 325.09,743.07 325.59,739.76 326.10,730.11 326.61,738.54 327.11,737.82 327.62,739.26 328.13,736.93 328.63,739.11 329.14,744.05 329.64,739.18 330.15,738.46 330.66,738.05 331.16,738.79 331.67,739.12 332.17,739.34 332.68,738.40 333.19,737.55 333.69,737.76 334.20,739.46 334.71,738.74 335.21,739.74 335.72,739.45 336.22,739.05 336.73,739.42 337.24,739.45 337.74,739.43 338.25,738.45 338.76,738.49 339.26,739.09 339.77,744.81 340.27,740.08 340.78,739.45 341.29,739.20 341.79,739.67 342.30,739.33 342.80,738.70 343.31,738.99 343.82,736.95 344.32,738.96 344.83,738.17 345.34,738.55 345.84,738.41 346.35,739.05 346.85,739.71 347.36,739.62 347.87,738.44 348.37,737.68 348.88,737.69 349.38,739.10 349.89,739.46 350.40,739.82 350.90,738.41 351.41,739.06 351.92,739.51 352.42,738.49 352.93,738.40 353.43,739.27 353.94,739.17 354.45,739.72 354.95,739.54 355.46,738.59 355.97,738.83 356.47,739.02 356.98,738.92 357.48,738.52 357.99,737.83 358.50,739.12 359.00,737.93 359.51,738.99 360.01,738.49 360.52,738.83 361.03,738.10 361.53,739.42 362.04,738.62 362.55,739.00 363.05,738.12 363.56,737.68 364.06,738.05 364.57,742.81 365.08,738.53 365.58,738.06 366.09,738.01 366.59,738.10 367.10,738.46 367.61,738.71 368.11,737.78 368.62,735.55 369.13,739.48 369.63,740.13 370.14,739.12 370.64,738.94 371.15,742.31 371.66,737.91 372.16,738.85 372.67,738.48 373.18,738.64 373.68,744.24 374.19,739.18 374.69,739.24 375.20,738.45" fill="none" stroke="#111" stroke-width="0.7" stroke-linejoin="round"/>
<rect x="234.4" y="717.90" width="215.50" height="37.70" fill="none" stroke="#555" stroke-width="0.8"/>
<rect x="452.4" y="717.90" width="215.60" height="37.70" fill="#fff"/>
<line x1="452.4" x2="668.0" y1="753.90" y2="753.90" stroke="#e2e2e2" stroke-width="0.55"/><line x1="452.4" x2="668.0" y1="749.07" y2="749.07" stroke="#efefef" stroke-width="0.55"/><line x1="452.4" x2="668.0" y1="744.24" y2="744.24" stroke="#e2e2e2" stroke-width="0.55"/><line x1="452.4" x2="668.0" y1="739.41" y2="739.41" stroke="#efefef" stroke-width="0.55"/><line x1="452.4" x2="668.0" y1="734.58" y2="734.58" stroke="#e2e2e2" stroke-width="0.55"/><line x1="452.4" x2="668.0" y1="729.75" y2="729.75" stroke="#efefef" stroke-width="0.55"/><line x1="452.4" x2="668.0" y1="724.92" y2="724.92" stroke="#e2e2e2" stroke-width="0.55"/><line x1="452.4" x2="668.0" y1="720.09" y2="720.09" stroke="#efefef" stroke-width="0.55"/><line x1="462.10" x2="462.10" y1="717.90" y2="755.60" stroke="#e2e2e2" stroke-width="0.55"/><line x1="489.20" x2="489.20" y1="717.90" y2="755.60" stroke="#efefef" stroke-width="0.55"/><line x1="516.30" x2="516.30" y1="717.90" y2="755.60" stroke="#e2e2e2" stroke-width="0.55"/><line x1="543.40" x2="543.40" y1="717.90" y2="755.60" stroke="#efefef" stroke-width="0.55"/><line x1="570.50" x2="570.50" y1="717.90" y2="755.60" stroke="#e2e2e2" stroke-width="0.55"/><line x1="597.60" x2="597.60" y1="717.90" y2="755.60" stroke="#efefef" stroke-width="0.55"/><line x1="624.70" x2="624.70" y1="717.90" y2="755.60" stroke="#e2e2e2" stroke-width="0.55"/><line x1="651.80" x2="651.80" y1="717.90" y2="755.60" stroke="#efefef" stroke-width="0.55"/>
<polygon points="462.10,753.90 462.10,739.12 462.65,739.23 463.19,739.49 463.74,740.29 464.28,739.92 464.83,738.32 465.37,742.50 465.92,738.32 466.46,737.77 467.01,737.81 467.55,738.51 468.10,737.95 468.65,738.82 469.19,738.95 469.74,739.42 470.28,739.06 470.83,739.72 471.37,740.37 471.92,740.13 472.46,739.42 473.01,739.55 473.55,739.34 474.10,740.21 474.64,739.55 475.19,739.20 475.74,740.24 476.28,739.36 476.83,739.75 477.37,738.65 477.92,739.64 478.46,739.07 479.01,739.32 479.55,739.48 480.10,738.45 480.64,738.70 481.19,739.46 481.74,737.28 482.28,738.57 482.83,738.97 483.37,739.01 483.92,739.49 484.46,739.00 485.01,737.40 485.55,739.06 486.10,738.96 486.64,739.32 487.19,739.47 487.73,739.35 488.28,741.91 488.83,736.55 489.37,737.88 489.92,738.81 490.46,737.90 491.01,738.06 491.55,737.95 492.10,737.65 492.64,738.16 493.19,739.54 493.73,740.04 494.28,738.81 494.83,740.02 495.37,739.37 495.92,738.07 496.46,739.75 497.01,739.21 497.55,738.67 498.10,739.13 498.64,738.57 499.19,739.64 499.73,738.68 500.28,738.73 500.82,737.48 501.37,738.56 501.92,739.28 502.46,739.58 503.01,744.24 503.55,739.58 504.10,739.93 504.64,739.78 505.19,739.49 505.73,739.85 506.28,738.70 506.82,738.48 507.37,738.60 507.92,739.29 508.46,738.78 509.01,739.27 509.55,738.81 510.10,738.23 510.64,743.27 511.19,738.79 511.73,739.34 512.28,738.52 512.82,739.27 513.37,738.95 513.91,739.38 514.46,739.17 515.01,738.69 515.55,738.60 516.10,739.08 516.64,738.79 517.19,738.76 517.73,738.43 518.28,739.00 518.82,738.09 519.37,738.91 519.91,736.80 520.46,738.09 521.01,739.27 521.55,738.40 522.10,738.05 522.64,738.97 523.19,739.18 523.73,738.39 524.28,738.62 524.82,739.04 525.37,738.82 525.91,739.74 526.46,740.40 527.00,739.18 527.55,743.27 528.10,739.09 528.64,739.73 529.19,740.84 529.73,740.17 530.28,739.99 530.82,739.86 531.37,739.09 531.91,739.23 532.46,739.15 533.00,739.23 533.55,739.50 534.10,739.43 534.64,740.59 535.19,739.68 535.73,739.18 536.28,739.30 536.82,740.02 537.37,739.62 537.91,740.14 538.46,738.88 539.00,738.85 539.55,738.96 540.10,738.67 540.64,739.41 541.19,738.17 541.73,740.47 542.28,739.22 542.82,739.82 543.37,740.45 543.91,741.13 544.46,739.98 545.00,737.77 545.55,739.09 546.09,739.10 546.64,738.64 547.19,739.16 547.73,740.10 548.28,741.16 548.82,734.13 549.37,740.24 549.91,740.54 550.46,743.76 551.00,738.39 551.55,738.74 552.09,738.53 552.64,739.22 553.19,739.51 553.73,739.24 554.28,740.48 554.82,740.31 555.37,740.22 555.91,739.34 556.46,740.79 557.00,740.60 557.55,738.50 558.09,739.49 558.64,738.66 559.18,738.97 559.73,739.99 560.28,739.90 560.82,740.32 561.37,739.63 561.91,740.04 562.46,738.66 563.00,739.54 563.55,738.89 564.09,738.37 564.64,739.94 565.18,738.11 565.73,740.22 566.28,739.72 566.82,744.27 567.37,739.22 567.91,738.04 568.46,738.07 569.00,738.46 569.55,738.88 570.09,738.34 570.64,739.56 571.18,739.44 571.73,738.92 572.27,740.00 572.82,739.36 573.37,739.26 573.91,739.50 574.46,739.31 575.00,739.54 575.55,740.53 576.09,739.21 576.64,739.28 577.18,740.00 577.73,739.44 578.27,738.85 578.82,739.43 579.37,738.34 579.91,738.15 580.46,737.86 581.00,738.29 581.55,738.61 582.09,737.12 582.64,737.94 583.18,738.64 583.73,738.99 584.27,739.15 584.82,739.35 585.36,739.03 585.91,739.66 586.46,738.13 587.00,738.41 587.55,739.31 588.09,739.54 588.64,739.18 589.18,738.53 589.73,739.23 590.27,740.42 590.82,739.68 591.36,740.21 591.91,739.53 592.46,739.43 593.00,738.43 593.55,739.22 594.09,739.30 594.64,738.59 595.18,739.89 595.73,739.87 596.27,740.51 596.82,738.83 597.36,739.96 597.91,739.24 598.45,739.29 599.00,739.71 599.55,739.66 600.09,744.26 600.64,739.88 601.18,736.40 601.73,738.70 602.27,727.34 602.82,739.20 603.36,743.27 603.91,739.55 604.45,740.19 605.00,739.68 605.00,753.90" fill="#dcdcdc"/>
<polyline points="462.10,739.12 462.65,739.23 463.19,739.49 463.74,740.29 464.28,739.92 464.83,738.32 465.37,742.50 465.92,738.32 466.46,737.77 467.01,737.81 467.55,738.51 468.10,737.95 468.65,738.82 469.19,738.95 469.74,739.42 470.28,739.06 470.83,739.72 471.37,740.37 471.92,740.13 472.46,739.42 473.01,739.55 473.55,739.34 474.10,740.21 474.64,739.55 475.19,739.20 475.74,740.24 476.28,739.36 476.83,739.75 477.37,738.65 477.92,739.64 478.46,739.07 479.01,739.32 479.55,739.48 480.10,738.45 480.64,738.70 481.19,739.46 481.74,737.28 482.28,738.57 482.83,738.97 483.37,739.01 483.92,739.49 484.46,739.00 485.01,737.40 485.55,739.06 486.10,738.96 486.64,739.32 487.19,739.47 487.73,739.35 488.28,741.91 488.83,736.55 489.37,737.88 489.92,738.81 490.46,737.90 491.01,738.06 491.55,737.95 492.10,737.65 492.64,738.16 493.19,739.54 493.73,740.04 494.28,738.81 494.83,740.02 495.37,739.37 495.92,738.07 496.46,739.75 497.01,739.21 497.55,738.67 498.10,739.13 498.64,738.57 499.19,739.64 499.73,738.68 500.28,738.73 500.82,737.48 501.37,738.56 501.92,739.28 502.46,739.58 503.01,744.24 503.55,739.58 504.10,739.93 504.64,739.78 505.19,739.49 505.73,739.85 506.28,738.70 506.82,738.48 507.37,738.60 507.92,739.29 508.46,738.78 509.01,739.27 509.55,738.81 510.10,738.23 510.64,743.27 511.19,738.79 511.73,739.34 512.28,738.52 512.82,739.27 513.37,738.95 513.91,739.38 514.46,739.17 515.01,738.69 515.55,738.60 516.10,739.08 516.64,738.79 517.19,738.76 517.73,738.43 518.28,739.00 518.82,738.09 519.37,738.91 519.91,736.80 520.46,738.09 521.01,739.27 521.55,738.40 522.10,738.05 522.64,738.97 523.19,739.18 523.73,738.39 524.28,738.62 524.82,739.04 525.37,738.82 525.91,739.74 526.46,740.40 527.00,739.18 527.55,743.27 528.10,739.09 528.64,739.73 529.19,740.84 529.73,740.17 530.28,739.99 530.82,739.86 531.37,739.09 531.91,739.23 532.46,739.15 533.00,739.23 533.55,739.50 534.10,739.43 534.64,740.59 535.19,739.68 535.73,739.18 536.28,739.30 536.82,740.02 537.37,739.62 537.91,740.14 538.46,738.88 539.00,738.85 539.55,738.96 540.10,738.67 540.64,739.41 541.19,738.17 541.73,740.47 542.28,739.22 542.82,739.82 543.37,740.45 543.91,741.13 544.46,739.98 545.00,737.77 545.55,739.09 546.09,739.10 546.64,738.64 547.19,739.16 547.73,740.10 548.28,741.16 548.82,734.13 549.37,740.24 549.91,740.54 550.46,743.76 551.00,738.39 551.55,738.74 552.09,738.53 552.64,739.22 553.19,739.51 553.73,739.24 554.28,740.48 554.82,740.31 555.37,740.22 555.91,739.34 556.46,740.79 557.00,740.60 557.55,738.50 558.09,739.49 558.64,738.66 559.18,738.97 559.73,739.99 560.28,739.90 560.82,740.32 561.37,739.63 561.91,740.04 562.46,738.66 563.00,739.54 563.55,738.89 564.09,738.37 564.64,739.94 565.18,738.11 565.73,740.22 566.28,739.72 566.82,744.27 567.37,739.22 567.91,738.04 568.46,738.07 569.00,738.46 569.55,738.88 570.09,738.34 570.64,739.56 571.18,739.44 571.73,738.92 572.27,740.00 572.82,739.36 573.37,739.26 573.91,739.50 574.46,739.31 575.00,739.54 575.55,740.53 576.09,739.21 576.64,739.28 577.18,740.00 577.73,739.44 578.27,738.85 578.82,739.43 579.37,738.34 579.91,738.15 580.46,737.86 581.00,738.29 581.55,738.61 582.09,737.12 582.64,737.94 583.18,738.64 583.73,738.99 584.27,739.15 584.82,739.35 585.36,739.03 585.91,739.66 586.46,738.13 587.00,738.41 587.55,739.31 588.09,739.54 588.64,739.18 589.18,738.53 589.73,739.23 590.27,740.42 590.82,739.68 591.36,740.21 591.91,739.53 592.46,739.43 593.00,738.43 593.55,739.22 594.09,739.30 594.64,738.59 595.18,739.89 595.73,739.87 596.27,740.51 596.82,738.83 597.36,739.96 597.91,739.24 598.45,739.29 599.00,739.71 599.55,739.66 600.09,744.26 600.64,739.88 601.18,736.40 601.73,738.70 602.27,727.34 602.82,739.20 603.36,743.27 603.91,739.55 604.45,740.19 605.00,739.68" fill="none" stroke="#111" stroke-width="0.7" stroke-linejoin="round"/>
<rect x="452.4" y="717.90" width="215.60" height="37.70" fill="none" stroke="#555" stroke-width="0.8"/>
<line x1="234.4" x2="234.4" y1="717.90" y2="755.60" stroke="#222" stroke-width="0.9"/>
<line x1="232.6" x2="234.4" y1="753.90" y2="753.90" stroke="#333" stroke-width="0.6"/>
<text x="232" y="756.30" font-size="6.8" text-anchor="end" fill="#4d4d4d">0</text>
<line x1="232.6" x2="234.4" y1="744.24" y2="744.24" stroke="#333" stroke-width="0.6"/>
<text x="232" y="746.64" font-size="6.8" text-anchor="end" fill="#4d4d4d">20</text>
<line x1="232.6" x2="234.4" y1="734.58" y2="734.58" stroke="#333" stroke-width="0.6"/>
<text x="232" y="736.98" font-size="6.8" text-anchor="end" fill="#4d4d4d">40</text>
<line x1="232.6" x2="234.4" y1="724.92" y2="724.92" stroke="#333" stroke-width="0.6"/>
<text x="232" y="727.32" font-size="6.8" text-anchor="end" fill="#4d4d4d">60</text>
<text transform="translate(670.7 736.75) rotate(90)" font-size="10.6" text-anchor="middle" fill="#1a1a1a">Chr5</text>
<rect x="234.4" y="757.55" width="215.50" height="37.70" fill="#fff"/>
<line x1="234.4" x2="449.9" y1="793.55" y2="793.55" stroke="#e2e2e2" stroke-width="0.55"/><line x1="234.4" x2="449.9" y1="788.72" y2="788.72" stroke="#efefef" stroke-width="0.55"/><line x1="234.4" x2="449.9" y1="783.89" y2="783.89" stroke="#e2e2e2" stroke-width="0.55"/><line x1="234.4" x2="449.9" y1="779.06" y2="779.06" stroke="#efefef" stroke-width="0.55"/><line x1="234.4" x2="449.9" y1="774.23" y2="774.23" stroke="#e2e2e2" stroke-width="0.55"/><line x1="234.4" x2="449.9" y1="769.40" y2="769.40" stroke="#efefef" stroke-width="0.55"/><line x1="234.4" x2="449.9" y1="764.57" y2="764.57" stroke="#e2e2e2" stroke-width="0.55"/><line x1="234.4" x2="449.9" y1="759.74" y2="759.74" stroke="#efefef" stroke-width="0.55"/><line x1="244.10" x2="244.10" y1="757.55" y2="795.25" stroke="#e2e2e2" stroke-width="0.55"/><line x1="269.30" x2="269.30" y1="757.55" y2="795.25" stroke="#efefef" stroke-width="0.55"/><line x1="294.50" x2="294.50" y1="757.55" y2="795.25" stroke="#e2e2e2" stroke-width="0.55"/><line x1="319.70" x2="319.70" y1="757.55" y2="795.25" stroke="#efefef" stroke-width="0.55"/><line x1="344.90" x2="344.90" y1="757.55" y2="795.25" stroke="#e2e2e2" stroke-width="0.55"/><line x1="370.10" x2="370.10" y1="757.55" y2="795.25" stroke="#efefef" stroke-width="0.55"/><line x1="395.30" x2="395.30" y1="757.55" y2="795.25" stroke="#e2e2e2" stroke-width="0.55"/><line x1="420.50" x2="420.50" y1="757.55" y2="795.25" stroke="#efefef" stroke-width="0.55"/><line x1="445.70" x2="445.70" y1="757.55" y2="795.25" stroke="#e2e2e2" stroke-width="0.55"/>
<polygon points="244.10,793.55 244.10,778.87 244.61,777.95 245.11,778.10 245.62,778.06 246.12,778.11 246.63,777.97 247.14,779.14 247.64,778.21 248.15,775.20 248.66,777.55 249.16,778.64 249.67,777.37 250.17,778.04 250.68,778.47 251.19,779.84 251.69,778.30 252.20,779.20 252.71,779.84 253.21,776.39 253.72,778.45 254.22,780.05 254.73,779.16 255.24,776.73 255.74,778.76 256.25,778.63 256.76,778.30 257.26,778.75 257.77,778.47 258.27,778.19 258.78,779.31 259.29,778.01 259.79,778.36 260.30,778.24 260.81,778.57 261.31,776.93 261.82,778.70 262.32,778.61 262.83,778.18 263.34,776.07 263.84,779.18 264.35,776.97 264.86,777.25 265.36,778.40 265.87,778.77 266.38,779.38 266.88,779.39 267.39,774.48 267.89,778.16 268.40,771.81 268.91,778.53 269.41,777.88 269.92,764.57 270.43,775.96 270.93,777.15 271.44,777.01 271.94,778.04 272.45,777.09 272.96,777.66 273.46,778.16 273.97,777.67 274.48,776.94 274.98,776.22 275.49,779.08 275.99,778.85 276.50,779.84 277.01,768.43 277.51,779.76 278.02,779.32 278.52,778.47 279.03,778.98 279.54,779.00 280.04,778.73 280.55,778.70 281.06,780.34 281.56,779.21 282.07,778.35 282.57,779.05 283.08,778.69 283.59,775.29 284.09,778.11 284.60,778.26 285.11,778.99 285.61,777.00 286.12,778.43 286.62,780.69 287.13,779.17 287.64,778.83 288.14,766.98 288.65,778.99 289.16,779.94 289.66,778.07 290.17,777.72 290.68,776.83 291.18,778.63 291.69,779.25 292.19,778.13 292.70,776.81 293.21,778.45 293.71,778.23 294.22,778.40 294.73,778.33 295.23,776.91 295.74,779.84 296.24,779.86 296.75,779.74 297.26,779.22 297.76,780.04 298.27,780.49 298.77,779.79 299.28,779.50 299.79,778.77 300.29,779.97 300.80,778.82 301.31,777.96 301.81,778.94 302.32,779.45 302.82,779.89 303.33,778.99 303.84,779.56 304.34,777.37 304.85,778.21 305.36,780.17 305.86,779.05 306.37,782.21 306.88,776.92 307.38,777.15 307.89,777.32 308.39,776.54 308.90,777.86 309.41,777.66 309.91,782.04 310.42,779.24 310.93,774.88 311.43,775.04 311.94,778.01 312.44,779.92 312.95,781.27 313.46,779.10 313.96,779.01 314.47,779.50 314.98,775.06 315.48,770.37 315.99,776.97 316.49,779.24 317.00,775.07 317.51,773.95 318.01,776.84 318.52,776.19 319.02,778.54 319.53,771.81 320.04,778.85 320.54,778.76 321.05,779.42 321.56,777.39 322.06,775.90 322.57,777.02 323.08,777.56 323.58,780.18 324.09,775.38 324.59,777.37 325.10,775.55 325.61,775.31 326.11,777.06 326.62,777.16 327.12,778.84 327.63,778.81 328.14,775.21 328.64,774.53 329.15,777.68 329.66,777.91 330.16,777.48 330.67,779.66 331.18,778.99 331.68,778.76 332.19,778.29 332.69,777.66 333.20,777.39 333.71,779.15 334.21,778.50 334.72,778.66 335.23,778.96 335.73,776.94 336.24,777.67 336.74,776.94 337.25,780.23 337.76,778.91 338.26,777.93 338.77,776.86 339.27,777.77 339.78,778.74 340.29,777.95 340.79,777.09 341.30,778.66 341.81,778.05 342.31,778.06 342.82,777.62 343.33,777.60 343.83,777.91 344.34,766.62 344.84,778.80 345.35,777.83 345.86,776.92 346.36,777.79 346.87,779.42 347.38,777.79 347.88,780.22 348.39,778.94 348.89,779.58 349.40,778.97 349.91,778.87 350.41,777.29 350.92,777.80 351.43,779.11 351.93,778.96 352.44,778.45 352.94,777.03 353.45,778.83 353.96,777.26 354.46,778.66 354.97,779.44 355.48,779.10 355.98,778.65 356.49,778.07 356.99,778.42 357.50,779.33 358.01,778.13 358.51,778.24 359.02,778.40 359.52,778.90 360.03,778.94 360.54,780.48 361.04,778.74 361.55,778.91 362.06,779.90 362.56,779.20 363.07,779.32 363.58,780.41 364.08,776.67 364.59,780.51 365.09,770.37 365.60,778.57 366.11,779.60 366.61,777.16 367.12,779.19 367.62,771.81 368.13,778.40 368.64,779.15 369.14,778.10 369.65,778.08 370.16,780.09 370.66,780.02 371.17,779.69 371.68,778.40 372.18,780.97 372.69,777.86 373.19,770.37 373.70,777.65 374.21,778.06 374.71,778.93 375.22,778.48 375.73,780.87 376.23,778.22 376.74,779.31 377.24,777.89 377.75,779.28 378.26,777.15 378.76,777.46 379.27,778.04 379.77,778.92 380.28,783.89 380.79,778.43 381.29,778.02 381.80,778.73 381.80,793.55" fill="#dcdcdc"/>
<polyline points="244.10,778.87 244.61,777.95 245.11,778.10 245.62,778.06 246.12,778.11 246.63,777.97 247.14,779.14 247.64,778.21 248.15,775.20 248.66,777.55 249.16,778.64 249.67,777.37 250.17,778.04 250.68,778.47 251.19,779.84 251.69,778.30 252.20,779.20 252.71,779.84 253.21,776.39 253.72,778.45 254.22,780.05 254.73,779.16 255.24,776.73 255.74,778.76 256.25,778.63 256.76,778.30 257.26,778.75 257.77,778.47 258.27,778.19 258.78,779.31 259.29,778.01 259.79,778.36 260.30,778.24 260.81,778.57 261.31,776.93 261.82,778.70 262.32,778.61 262.83,778.18 263.34,776.07 263.84,779.18 264.35,776.97 264.86,777.25 265.36,778.40 265.87,778.77 266.38,779.38 266.88,779.39 267.39,774.48 267.89,778.16 268.40,771.81 268.91,778.53 269.41,777.88 269.92,764.57 270.43,775.96 270.93,777.15 271.44,777.01 271.94,778.04 272.45,777.09 272.96,777.66 273.46,778.16 273.97,777.67 274.48,776.94 274.98,776.22 275.49,779.08 275.99,778.85 276.50,779.84 277.01,768.43 277.51,779.76 278.02,779.32 278.52,778.47 279.03,778.98 279.54,779.00 280.04,778.73 280.55,778.70 281.06,780.34 281.56,779.21 282.07,778.35 282.57,779.05 283.08,778.69 283.59,775.29 284.09,778.11 284.60,778.26 285.11,778.99 285.61,777.00 286.12,778.43 286.62,780.69 287.13,779.17 287.64,778.83 288.14,766.98 288.65,778.99 289.16,779.94 289.66,778.07 290.17,777.72 290.68,776.83 291.18,778.63 291.69,779.25 292.19,778.13 292.70,776.81 293.21,778.45 293.71,778.23 294.22,778.40 294.73,778.33 295.23,776.91 295.74,779.84 296.24,779.86 296.75,779.74 297.26,779.22 297.76,780.04 298.27,780.49 298.77,779.79 299.28,779.50 299.79,778.77 300.29,779.97 300.80,778.82 301.31,777.96 301.81,778.94 302.32,779.45 302.82,779.89 303.33,778.99 303.84,779.56 304.34,777.37 304.85,778.21 305.36,780.17 305.86,779.05 306.37,782.21 306.88,776.92 307.38,777.15 307.89,777.32 308.39,776.54 308.90,777.86 309.41,777.66 309.91,782.04 310.42,779.24 310.93,774.88 311.43,775.04 311.94,778.01 312.44,779.92 312.95,781.27 313.46,779.10 313.96,779.01 314.47,779.50 314.98,775.06 315.48,770.37 315.99,776.97 316.49,779.24 317.00,775.07 317.51,773.95 318.01,776.84 318.52,776.19 319.02,778.54 319.53,771.81 320.04,778.85 320.54,778.76 321.05,779.42 321.56,777.39 322.06,775.90 322.57,777.02 323.08,777.56 323.58,780.18 324.09,775.38 324.59,777.37 325.10,775.55 325.61,775.31 326.11,777.06 326.62,777.16 327.12,778.84 327.63,778.81 328.14,775.21 328.64,774.53 329.15,777.68 329.66,777.91 330.16,777.48 330.67,779.66 331.18,778.99 331.68,778.76 332.19,778.29 332.69,777.66 333.20,777.39 333.71,779.15 334.21,778.50 334.72,778.66 335.23,778.96 335.73,776.94 336.24,777.67 336.74,776.94 337.25,780.23 337.76,778.91 338.26,777.93 338.77,776.86 339.27,777.77 339.78,778.74 340.29,777.95 340.79,777.09 341.30,778.66 341.81,778.05 342.31,778.06 342.82,777.62 343.33,777.60 343.83,777.91 344.34,766.62 344.84,778.80 345.35,777.83 345.86,776.92 346.36,777.79 346.87,779.42 347.38,777.79 347.88,780.22 348.39,778.94 348.89,779.58 349.40,778.97 349.91,778.87 350.41,777.29 350.92,777.80 351.43,779.11 351.93,778.96 352.44,778.45 352.94,777.03 353.45,778.83 353.96,777.26 354.46,778.66 354.97,779.44 355.48,779.10 355.98,778.65 356.49,778.07 356.99,778.42 357.50,779.33 358.01,778.13 358.51,778.24 359.02,778.40 359.52,778.90 360.03,778.94 360.54,780.48 361.04,778.74 361.55,778.91 362.06,779.90 362.56,779.20 363.07,779.32 363.58,780.41 364.08,776.67 364.59,780.51 365.09,770.37 365.60,778.57 366.11,779.60 366.61,777.16 367.12,779.19 367.62,771.81 368.13,778.40 368.64,779.15 369.14,778.10 369.65,778.08 370.16,780.09 370.66,780.02 371.17,779.69 371.68,778.40 372.18,780.97 372.69,777.86 373.19,770.37 373.70,777.65 374.21,778.06 374.71,778.93 375.22,778.48 375.73,780.87 376.23,778.22 376.74,779.31 377.24,777.89 377.75,779.28 378.26,777.15 378.76,777.46 379.27,778.04 379.77,778.92 380.28,783.89 380.79,778.43 381.29,778.02 381.80,778.73" fill="none" stroke="#111" stroke-width="0.7" stroke-linejoin="round"/>
<rect x="234.4" y="757.55" width="215.50" height="37.70" fill="none" stroke="#555" stroke-width="0.8"/>
<rect x="452.4" y="757.55" width="215.60" height="37.70" fill="#fff"/>
<line x1="452.4" x2="668.0" y1="793.55" y2="793.55" stroke="#e2e2e2" stroke-width="0.55"/><line x1="452.4" x2="668.0" y1="788.72" y2="788.72" stroke="#efefef" stroke-width="0.55"/><line x1="452.4" x2="668.0" y1="783.89" y2="783.89" stroke="#e2e2e2" stroke-width="0.55"/><line x1="452.4" x2="668.0" y1="779.06" y2="779.06" stroke="#efefef" stroke-width="0.55"/><line x1="452.4" x2="668.0" y1="774.23" y2="774.23" stroke="#e2e2e2" stroke-width="0.55"/><line x1="452.4" x2="668.0" y1="769.40" y2="769.40" stroke="#efefef" stroke-width="0.55"/><line x1="452.4" x2="668.0" y1="764.57" y2="764.57" stroke="#e2e2e2" stroke-width="0.55"/><line x1="452.4" x2="668.0" y1="759.74" y2="759.74" stroke="#efefef" stroke-width="0.55"/><line x1="462.10" x2="462.10" y1="757.55" y2="795.25" stroke="#e2e2e2" stroke-width="0.55"/><line x1="489.20" x2="489.20" y1="757.55" y2="795.25" stroke="#efefef" stroke-width="0.55"/><line x1="516.30" x2="516.30" y1="757.55" y2="795.25" stroke="#e2e2e2" stroke-width="0.55"/><line x1="543.40" x2="543.40" y1="757.55" y2="795.25" stroke="#efefef" stroke-width="0.55"/><line x1="570.50" x2="570.50" y1="757.55" y2="795.25" stroke="#e2e2e2" stroke-width="0.55"/><line x1="597.60" x2="597.60" y1="757.55" y2="795.25" stroke="#efefef" stroke-width="0.55"/><line x1="624.70" x2="624.70" y1="757.55" y2="795.25" stroke="#e2e2e2" stroke-width="0.55"/><line x1="651.80" x2="651.80" y1="757.55" y2="795.25" stroke="#efefef" stroke-width="0.55"/>
<polygon points="462.10,793.55 462.10,777.94 462.64,779.16 463.19,778.70 463.73,779.47 464.28,779.31 464.82,778.65 465.37,779.13 465.91,779.43 466.46,778.47 467.00,779.69 467.55,779.25 468.09,779.72 468.64,779.49 469.18,776.05 469.73,777.72 470.27,776.05 470.82,778.22 471.36,777.69 471.91,779.46 472.45,779.32 472.99,778.32 473.54,779.06 474.08,778.32 474.63,777.65 475.17,779.59 475.72,780.01 476.26,778.89 476.81,779.57 477.35,780.44 477.90,779.78 478.44,779.53 478.99,777.54 479.53,781.45 480.08,780.91 480.62,781.47 481.17,780.01 481.71,778.54 482.26,780.16 482.80,779.09 483.34,780.54 483.89,779.28 484.43,779.67 484.98,779.57 485.52,778.06 486.07,778.10 486.61,778.49 487.16,777.79 487.70,778.70 488.25,777.38 488.79,778.68 489.34,778.81 489.88,778.16 490.43,778.74 490.97,783.89 491.52,779.52 492.06,779.46 492.61,779.00 493.15,776.66 493.69,778.51 494.24,779.68 494.78,778.32 495.33,779.77 495.87,778.04 496.42,776.93 496.96,777.92 497.51,777.67 498.05,773.88 498.60,778.27 499.14,779.17 499.69,777.72 500.23,777.40 500.78,780.21 501.32,778.94 501.87,779.99 502.41,778.75 502.96,778.95 503.50,779.79 504.04,779.40 504.59,778.10 505.13,784.86 505.68,779.59 506.22,780.39 506.77,775.89 507.31,777.61 507.86,777.58 508.40,776.64 508.95,774.65 509.49,778.38 510.04,776.66 510.58,777.77 511.13,778.98 511.67,777.94 512.22,780.34 512.76,778.49 513.31,777.61 513.85,776.19 514.39,778.71 514.94,779.71 515.48,777.74 516.03,778.58 516.57,778.45 517.12,772.98 517.66,777.67 518.21,776.36 518.75,774.81 519.30,780.25 519.84,786.30 520.39,777.93 520.93,780.41 521.48,779.60 522.02,776.52 522.57,775.99 523.11,776.75 523.66,776.41 524.20,778.31 524.74,777.77 525.29,776.39 525.83,776.84 526.38,777.15 526.92,776.43 527.47,777.83 528.01,776.66 528.56,778.82 529.10,782.03 529.65,778.40 530.19,776.07 530.74,779.63 531.28,777.80 531.83,774.67 532.37,777.07 532.92,779.07 533.46,774.55 534.01,776.62 534.55,776.79 535.09,778.80 535.64,778.56 536.18,778.53 536.73,778.44 537.27,779.84 537.82,779.01 538.36,778.67 538.91,779.99 539.45,779.78 540.00,778.72 540.54,778.12 541.09,778.21 541.63,780.05 542.18,779.76 542.72,778.41 543.27,779.59 543.81,780.29 544.36,779.94 544.90,778.73 545.44,779.51 545.99,777.66 546.53,778.06 547.08,778.70 547.62,778.46 548.17,778.76 548.71,778.34 549.26,788.36 549.80,780.18 550.35,779.33 550.89,779.31 551.44,778.73 551.98,779.99 552.53,780.85 553.07,779.19 553.62,777.10 554.16,779.25 554.71,777.78 555.25,778.46 555.79,777.71 556.34,779.00 556.88,778.61 557.43,777.98 557.97,778.41 558.52,779.31 559.06,783.89 559.61,781.47 560.15,779.56 560.70,778.08 561.24,780.22 561.79,779.52 562.33,778.97 562.88,779.18 563.42,778.61 563.97,778.96 564.51,779.38 565.06,778.15 565.60,778.45 566.14,779.12 566.69,778.67 567.23,777.92 567.78,779.22 568.32,777.12 568.87,776.90 569.41,779.64 569.96,784.52 570.50,778.52 571.05,779.18 571.59,779.12 572.14,778.31 572.68,778.38 573.23,779.16 573.77,779.59 574.32,778.37 574.86,779.79 575.41,777.99 575.95,779.83 576.49,778.78 577.04,779.28 577.58,778.85 578.13,780.45 578.67,779.54 579.22,780.09 579.76,780.49 580.31,779.48 580.85,778.66 581.40,778.40 581.94,778.83 582.49,777.33 583.03,777.77 583.58,779.99 584.12,778.94 584.67,788.19 585.21,778.06 585.76,779.39 586.30,777.37 586.84,777.75 587.39,777.88 587.93,779.53 588.48,778.96 589.02,779.05 589.57,779.32 590.11,778.60 590.66,778.83 591.20,780.97 591.75,779.54 592.29,778.70 592.84,778.34 593.38,779.39 593.93,778.80 594.47,778.83 595.02,779.34 595.56,778.74 596.11,778.53 596.65,778.98 597.19,778.42 597.74,779.56 598.28,779.71 598.83,778.07 599.37,778.76 599.92,779.06 600.46,775.41 601.01,770.37 601.55,780.22 602.10,778.21 602.64,777.49 603.19,780.39 603.73,778.94 604.28,778.54 604.82,778.57 605.37,778.37 605.91,778.94 606.46,778.38 607.00,779.19 607.00,793.55" fill="#dcdcdc"/>
<polyline points="462.10,777.94 462.64,779.16 463.19,778.70 463.73,779.47 464.28,779.31 464.82,778.65 465.37,779.13 465.91,779.43 466.46,778.47 467.00,779.69 467.55,779.25 468.09,779.72 468.64,779.49 469.18,776.05 469.73,777.72 470.27,776.05 470.82,778.22 471.36,777.69 471.91,779.46 472.45,779.32 472.99,778.32 473.54,779.06 474.08,778.32 474.63,777.65 475.17,779.59 475.72,780.01 476.26,778.89 476.81,779.57 477.35,780.44 477.90,779.78 478.44,779.53 478.99,777.54 479.53,781.45 480.08,780.91 480.62,781.47 481.17,780.01 481.71,778.54 482.26,780.16 482.80,779.09 483.34,780.54 483.89,779.28 484.43,779.67 484.98,779.57 485.52,778.06 486.07,778.10 486.61,778.49 487.16,777.79 487.70,778.70 488.25,777.38 488.79,778.68 489.34,778.81 489.88,778.16 490.43,778.74 490.97,783.89 491.52,779.52 492.06,779.46 492.61,779.00 493.15,776.66 493.69,778.51 494.24,779.68 494.78,778.32 495.33,779.77 495.87,778.04 496.42,776.93 496.96,777.92 497.51,777.67 498.05,773.88 498.60,778.27 499.14,779.17 499.69,777.72 500.23,777.40 500.78,780.21 501.32,778.94 501.87,779.99 502.41,778.75 502.96,778.95 503.50,779.79 504.04,779.40 504.59,778.10 505.13,784.86 505.68,779.59 506.22,780.39 506.77,775.89 507.31,777.61 507.86,777.58 508.40,776.64 508.95,774.65 509.49,778.38 510.04,776.66 510.58,777.77 511.13,778.98 511.67,777.94 512.22,780.34 512.76,778.49 513.31,777.61 513.85,776.19 514.39,778.71 514.94,779.71 515.48,777.74 516.03,778.58 516.57,778.45 517.12,772.98 517.66,777.67 518.21,776.36 518.75,774.81 519.30,780.25 519.84,786.30 520.39,777.93 520.93,780.41 521.48,779.60 522.02,776.52 522.57,775.99 523.11,776.75 523.66,776.41 524.20,778.31 524.74,777.77 525.29,776.39 525.83,776.84 526.38,777.15 526.92,776.43 527.47,777.83 528.01,776.66 528.56,778.82 529.10,782.03 529.65,778.40 530.19,776.07 530.74,779.63 531.28,777.80 531.83,774.67 532.37,777.07 532.92,779.07 533.46,774.55 534.01,776.62 534.55,776.79 535.09,778.80 535.64,778.56 536.18,778.53 536.73,778.44 537.27,779.84 537.82,779.01 538.36,778.67 538.91,779.99 539.45,779.78 540.00,778.72 540.54,778.12 541.09,778.21 541.63,780.05 542.18,779.76 542.72,778.41 543.27,779.59 543.81,780.29 544.36,779.94 544.90,778.73 545.44,779.51 545.99,777.66 546.53,778.06 547.08,778.70 547.62,778.46 548.17,778.76 548.71,778.34 549.26,788.36 549.80,780.18 550.35,779.33 550.89,779.31 551.44,778.73 551.98,779.99 552.53,780.85 553.07,779.19 553.62,777.10 554.16,779.25 554.71,777.78 555.25,778.46 555.79,777.71 556.34,779.00 556.88,778.61 557.43,777.98 557.97,778.41 558.52,779.31 559.06,783.89 559.61,781.47 560.15,779.56 560.70,778.08 561.24,780.22 561.79,779.52 562.33,778.97 562.88,779.18 563.42,778.61 563.97,778.96 564.51,779.38 565.06,778.15 565.60,778.45 566.14,779.12 566.69,778.67 567.23,777.92 567.78,779.22 568.32,777.12 568.87,776.90 569.41,779.64 569.96,784.52 570.50,778.52 571.05,779.18 571.59,779.12 572.14,778.31 572.68,778.38 573.23,779.16 573.77,779.59 574.32,778.37 574.86,779.79 575.41,777.99 575.95,779.83 576.49,778.78 577.04,779.28 577.58,778.85 578.13,780.45 578.67,779.54 579.22,780.09 579.76,780.49 580.31,779.48 580.85,778.66 581.40,778.40 581.94,778.83 582.49,777.33 583.03,777.77 583.58,779.99 584.12,778.94 584.67,788.19 585.21,778.06 585.76,779.39 586.30,777.37 586.84,777.75 587.39,777.88 587.93,779.53 588.48,778.96 589.02,779.05 589.57,779.32 590.11,778.60 590.66,778.83 591.20,780.97 591.75,779.54 592.29,778.70 592.84,778.34 593.38,779.39 593.93,778.80 594.47,778.83 595.02,779.34 595.56,778.74 596.11,778.53 596.65,778.98 597.19,778.42 597.74,779.56 598.28,779.71 598.83,778.07 599.37,778.76 599.92,779.06 600.46,775.41 601.01,770.37 601.55,780.22 602.10,778.21 602.64,777.49 603.19,780.39 603.73,778.94 604.28,778.54 604.82,778.57 605.37,778.37 605.91,778.94 606.46,778.38 607.00,779.19" fill="none" stroke="#111" stroke-width="0.7" stroke-linejoin="round"/>
<rect x="452.4" y="757.55" width="215.60" height="37.70" fill="none" stroke="#555" stroke-width="0.8"/>
<line x1="234.4" x2="234.4" y1="757.55" y2="795.25" stroke="#222" stroke-width="0.9"/>
<line x1="232.6" x2="234.4" y1="793.55" y2="793.55" stroke="#333" stroke-width="0.6"/>
<text x="232" y="795.95" font-size="6.8" text-anchor="end" fill="#4d4d4d">0</text>
<line x1="232.6" x2="234.4" y1="783.89" y2="783.89" stroke="#333" stroke-width="0.6"/>
<text x="232" y="786.29" font-size="6.8" text-anchor="end" fill="#4d4d4d">20</text>
<line x1="232.6" x2="234.4" y1="774.23" y2="774.23" stroke="#333" stroke-width="0.6"/>
<text x="232" y="776.63" font-size="6.8" text-anchor="end" fill="#4d4d4d">40</text>
<line x1="232.6" x2="234.4" y1="764.57" y2="764.57" stroke="#333" stroke-width="0.6"/>
<text x="232" y="766.97" font-size="6.8" text-anchor="end" fill="#4d4d4d">60</text>
<text transform="translate(670.7 776.40) rotate(90)" font-size="10.6" text-anchor="middle" fill="#1a1a1a">Chr6</text>
<rect x="234.4" y="797.20" width="215.50" height="37.70" fill="#fff"/>
<line x1="234.4" x2="449.9" y1="833.20" y2="833.20" stroke="#e2e2e2" stroke-width="0.55"/><line x1="234.4" x2="449.9" y1="828.37" y2="828.37" stroke="#efefef" stroke-width="0.55"/><line x1="234.4" x2="449.9" y1="823.54" y2="823.54" stroke="#e2e2e2" stroke-width="0.55"/><line x1="234.4" x2="449.9" y1="818.71" y2="818.71" stroke="#efefef" stroke-width="0.55"/><line x1="234.4" x2="449.9" y1="813.88" y2="813.88" stroke="#e2e2e2" stroke-width="0.55"/><line x1="234.4" x2="449.9" y1="809.05" y2="809.05" stroke="#efefef" stroke-width="0.55"/><line x1="234.4" x2="449.9" y1="804.22" y2="804.22" stroke="#e2e2e2" stroke-width="0.55"/><line x1="234.4" x2="449.9" y1="799.39" y2="799.39" stroke="#efefef" stroke-width="0.55"/><line x1="244.10" x2="244.10" y1="797.20" y2="834.90" stroke="#e2e2e2" stroke-width="0.55"/><line x1="269.30" x2="269.30" y1="797.20" y2="834.90" stroke="#efefef" stroke-width="0.55"/><line x1="294.50" x2="294.50" y1="797.20" y2="834.90" stroke="#e2e2e2" stroke-width="0.55"/><line x1="319.70" x2="319.70" y1="797.20" y2="834.90" stroke="#efefef" stroke-width="0.55"/><line x1="344.90" x2="344.90" y1="797.20" y2="834.90" stroke="#e2e2e2" stroke-width="0.55"/><line x1="370.10" x2="370.10" y1="797.20" y2="834.90" stroke="#efefef" stroke-width="0.55"/><line x1="395.30" x2="395.30" y1="797.20" y2="834.90" stroke="#e2e2e2" stroke-width="0.55"/><line x1="420.50" x2="420.50" y1="797.20" y2="834.90" stroke="#efefef" stroke-width="0.55"/><line x1="445.70" x2="445.70" y1="797.20" y2="834.90" stroke="#e2e2e2" stroke-width="0.55"/>
<polygon points="244.10,833.20 244.10,823.54 244.61,818.72 245.11,818.20 245.62,818.12 246.12,812.50 246.63,817.12 247.13,818.74 247.64,818.94 248.15,818.17 248.65,817.77 249.16,818.15 249.66,818.07 250.17,816.68 250.68,817.18 251.18,816.56 251.69,817.34 252.19,825.47 252.70,818.73 253.20,816.58 253.71,817.58 254.22,817.28 254.72,816.28 255.23,816.64 255.73,816.90 256.24,818.52 256.75,817.64 257.25,817.92 257.76,818.08 258.26,816.53 258.77,818.73 259.27,818.13 259.78,818.94 260.29,812.50 260.79,818.55 261.30,819.36 261.80,818.03 262.31,818.55 262.82,819.33 263.32,817.53 263.83,818.35 264.33,818.15 264.84,818.86 265.34,817.92 265.85,817.52 266.36,818.75 266.86,817.18 267.37,817.65 267.87,820.57 268.38,818.96 268.89,817.97 269.39,816.18 269.90,815.17 270.40,819.47 270.91,816.87 271.41,817.87 271.92,817.00 272.43,818.71 272.93,818.14 273.44,818.39 273.94,817.71 274.45,819.42 274.96,819.49 275.46,818.35 275.97,817.01 276.47,817.56 276.98,816.96 277.48,817.96 277.99,817.87 278.50,818.53 279.00,816.52 279.51,816.55 280.01,819.26 280.52,817.36 281.03,818.11 281.53,822.03 282.04,817.65 282.54,820.42 283.05,820.07 283.55,819.29 284.06,817.30 284.57,817.33 285.07,818.21 285.58,816.87 286.08,818.27 286.59,818.95 287.10,816.83 287.60,817.28 288.11,817.02 288.61,817.82 289.12,818.16 289.62,817.98 290.13,817.26 290.64,816.88 291.14,818.24 291.65,818.07 292.15,818.17 292.66,817.69 293.17,818.88 293.67,817.88 294.18,817.44 294.68,816.72 295.19,817.67 295.69,818.28 296.20,816.40 296.71,815.13 297.21,817.69 297.72,818.67 298.22,818.04 298.73,818.42 299.24,817.53 299.74,816.85 300.25,816.81 300.75,817.08 301.26,817.74 301.76,818.19 302.27,817.05 302.78,818.36 303.28,818.06 303.79,818.24 304.29,818.56 304.80,809.05 305.31,817.95 305.81,818.29 306.32,816.93 306.82,817.36 307.33,818.41 307.83,816.93 308.34,817.31 308.85,818.68 309.35,818.35 309.86,815.56 310.36,818.36 310.87,818.93 311.38,818.41 311.88,817.36 312.39,819.89 312.89,819.20 313.40,818.33 313.90,819.11 314.41,818.02 314.92,818.15 315.42,819.13 315.93,818.74 316.43,818.34 316.94,818.19 317.45,818.61 317.95,811.95 318.46,817.69 318.96,817.34 319.47,817.60 319.97,818.14 320.48,817.90 320.99,818.03 321.49,817.63 322.00,816.93 322.50,816.77 323.01,816.01 323.52,817.09 324.02,817.90 324.53,819.58 325.03,818.18 325.54,818.31 326.04,816.98 326.55,818.24 327.06,818.10 327.56,817.75 328.07,818.05 328.57,818.94 329.08,818.58 329.58,818.85 330.09,816.95 330.60,817.44 331.10,818.43 331.61,819.09 332.11,819.25 332.62,818.48 333.13,817.32 333.63,816.70 334.14,818.04 334.64,822.57 335.15,817.23 335.65,817.22 336.16,818.25 336.67,818.45 337.17,818.60 337.68,818.14 338.18,818.37 338.69,817.83 339.20,818.05 339.70,816.77 340.21,818.18 340.71,818.75 341.22,818.51 341.72,818.44 342.23,818.60 342.74,817.60 343.24,817.46 343.75,817.10 344.25,817.57 344.76,818.29 345.27,816.89 345.77,817.24 346.28,817.68 346.78,817.98 347.29,816.46 347.79,816.98 348.30,819.29 348.81,817.29 349.31,817.00 349.82,818.21 350.32,818.10 350.83,819.15 351.34,818.33 351.84,818.53 352.35,818.59 352.85,818.55 353.36,819.95 353.86,817.65 354.37,818.17 354.88,817.37 355.38,818.25 355.89,818.37 356.39,819.77 356.90,818.30 357.41,817.25 357.91,817.68 358.42,817.99 358.92,818.20 359.43,811.95 359.93,817.18 360.44,818.15 360.95,818.24 361.45,820.57 361.96,817.84 362.46,817.83 362.97,816.48 363.48,816.83 363.98,818.82 364.49,818.66 364.99,818.12 365.50,817.19 366.00,816.78 366.51,817.45 367.02,816.34 367.52,818.67 368.03,817.99 368.53,817.71 369.04,816.30 369.55,815.01 370.05,817.62 370.56,815.08 371.06,818.11 371.57,818.09 372.07,817.73 372.58,817.45 373.09,817.30 373.59,815.76 374.10,816.84 374.60,818.53 375.11,817.53 375.62,817.46 376.12,818.38 376.63,821.12 377.13,818.54 377.64,819.95 378.14,818.14 378.65,818.85 379.16,819.97 379.66,819.81 380.17,817.45 380.67,818.43 381.18,817.46 381.69,817.71 382.19,818.94 382.70,818.00 383.20,818.67 383.71,818.46 384.21,826.44 384.72,817.43 385.23,816.43 385.73,818.72 386.24,818.26 386.74,818.92 387.25,818.56 387.76,818.36 388.26,815.57 388.77,817.27 389.27,816.81 389.78,817.48 390.28,818.28 390.79,818.45 391.30,816.73 391.80,817.88 392.31,817.85 392.81,815.69 393.32,818.80 393.83,818.18 394.33,817.73 394.84,817.36 395.34,818.14 395.85,818.72 396.35,816.50 396.86,818.66 397.37,819.88 397.87,819.00 398.38,819.50 398.88,818.88 399.39,817.72 399.90,817.22 400.40,816.50 400.91,818.71 401.41,817.83 401.92,818.60 402.42,818.30 402.93,818.71 403.44,818.32 403.94,820.09 404.45,817.69 404.95,816.94 405.46,817.10 405.97,818.92 406.47,818.37 406.98,823.54 407.48,818.86 407.99,819.31 408.49,820.11 409.00,818.94 409.00,833.20" fill="#dcdcdc"/>
<polyline points="244.10,823.54 244.61,818.72 245.11,818.20 245.62,818.12 246.12,812.50 246.63,817.12 247.13,818.74 247.64,818.94 248.15,818.17 248.65,817.77 249.16,818.15 249.66,818.07 250.17,816.68 250.68,817.18 251.18,816.56 251.69,817.34 252.19,825.47 252.70,818.73 253.20,816.58 253.71,817.58 254.22,817.28 254.72,816.28 255.23,816.64 255.73,816.90 256.24,818.52 256.75,817.64 257.25,817.92 257.76,818.08 258.26,816.53 258.77,818.73 259.27,818.13 259.78,818.94 260.29,812.50 260.79,818.55 261.30,819.36 261.80,818.03 262.31,818.55 262.82,819.33 263.32,817.53 263.83,818.35 264.33,818.15 264.84,818.86 265.34,817.92 265.85,817.52 266.36,818.75 266.86,817.18 267.37,817.65 267.87,820.57 268.38,818.96 268.89,817.97 269.39,816.18 269.90,815.17 270.40,819.47 270.91,816.87 271.41,817.87 271.92,817.00 272.43,818.71 272.93,818.14 273.44,818.39 273.94,817.71 274.45,819.42 274.96,819.49 275.46,818.35 275.97,817.01 276.47,817.56 276.98,816.96 277.48,817.96 277.99,817.87 278.50,818.53 279.00,816.52 279.51,816.55 280.01,819.26 280.52,817.36 281.03,818.11 281.53,822.03 282.04,817.65 282.54,820.42 283.05,820.07 283.55,819.29 284.06,817.30 284.57,817.33 285.07,818.21 285.58,816.87 286.08,818.27 286.59,818.95 287.10,816.83 287.60,817.28 288.11,817.02 288.61,817.82 289.12,818.16 289.62,817.98 290.13,817.26 290.64,816.88 291.14,818.24 291.65,818.07 292.15,818.17 292.66,817.69 293.17,818.88 293.67,817.88 294.18,817.44 294.68,816.72 295.19,817.67 295.69,818.28 296.20,816.40 296.71,815.13 297.21,817.69 297.72,818.67 298.22,818.04 298.73,818.42 299.24,817.53 299.74,816.85 300.25,816.81 300.75,817.08 301.26,817.74 301.76,818.19 302.27,817.05 302.78,818.36 303.28,818.06 303.79,818.24 304.29,818.56 304.80,809.05 305.31,817.95 305.81,818.29 306.32,816.93 306.82,817.36 307.33,818.41 307.83,816.93 308.34,817.31 308.85,818.68 309.35,818.35 309.86,815.56 310.36,818.36 310.87,818.93 311.38,818.41 311.88,817.36 312.39,819.89 312.89,819.20 313.40,818.33 313.90,819.11 314.41,818.02 314.92,818.15 315.42,819.13 315.93,818.74 316.43,818.34 316.94,818.19 317.45,818.61 317.95,811.95 318.46,817.69 318.96,817.34 319.47,817.60 319.97,818.14 320.48,817.90 320.99,818.03 321.49,817.63 322.00,816.93 322.50,816.77 323.01,816.01 323.52,817.09 324.02,817.90 324.53,819.58 325.03,818.18 325.54,818.31 326.04,816.98 326.55,818.24 327.06,818.10 327.56,817.75 328.07,818.05 328.57,818.94 329.08,818.58 329.58,818.85 330.09,816.95 330.60,817.44 331.10,818.43 331.61,819.09 332.11,819.25 332.62,818.48 333.13,817.32 333.63,816.70 334.14,818.04 334.64,822.57 335.15,817.23 335.65,817.22 336.16,818.25 336.67,818.45 337.17,818.60 337.68,818.14 338.18,818.37 338.69,817.83 339.20,818.05 339.70,816.77 340.21,818.18 340.71,818.75 341.22,818.51 341.72,818.44 342.23,818.60 342.74,817.60 343.24,817.46 343.75,817.10 344.25,817.57 344.76,818.29 345.27,816.89 345.77,817.24 346.28,817.68 346.78,817.98 347.29,816.46 347.79,816.98 348.30,819.29 348.81,817.29 349.31,817.00 349.82,818.21 350.32,818.10 350.83,819.15 351.34,818.33 351.84,818.53 352.35,818.59 352.85,818.55 353.36,819.95 353.86,817.65 354.37,818.17 354.88,817.37 355.38,818.25 355.89,818.37 356.39,819.77 356.90,818.30 357.41,817.25 357.91,817.68 358.42,817.99 358.92,818.20 359.43,811.95 359.93,817.18 360.44,818.15 360.95,818.24 361.45,820.57 361.96,817.84 362.46,817.83 362.97,816.48 363.48,816.83 363.98,818.82 364.49,818.66 364.99,818.12 365.50,817.19 366.00,816.78 366.51,817.45 367.02,816.34 367.52,818.67 368.03,817.99 368.53,817.71 369.04,816.30 369.55,815.01 370.05,817.62 370.56,815.08 371.06,818.11 371.57,818.09 372.07,817.73 372.58,817.45 373.09,817.30 373.59,815.76 374.10,816.84 374.60,818.53 375.11,817.53 375.62,817.46 376.12,818.38 376.63,821.12 377.13,818.54 377.64,819.95 378.14,818.14 378.65,818.85 379.16,819.97 379.66,819.81 380.17,817.45 380.67,818.43 381.18,817.46 381.69,817.71 382.19,818.94 382.70,818.00 383.20,818.67 383.71,818.46 384.21,826.44 384.72,817.43 385.23,816.43 385.73,818.72 386.24,818.26 386.74,818.92 387.25,818.56 387.76,818.36 388.26,815.57 388.77,817.27 389.27,816.81 389.78,817.48 390.28,818.28 390.79,818.45 391.30,816.73 391.80,817.88 392.31,817.85 392.81,815.69 393.32,818.80 393.83,818.18 394.33,817.73 394.84,817.36 395.34,818.14 395.85,818.72 396.35,816.50 396.86,818.66 397.37,819.88 397.87,819.00 398.38,819.50 398.88,818.88 399.39,817.72 399.90,817.22 400.40,816.50 400.91,818.71 401.41,817.83 401.92,818.60 402.42,818.30 402.93,818.71 403.44,818.32 403.94,820.09 404.45,817.69 404.95,816.94 405.46,817.10 405.97,818.92 406.47,818.37 406.98,823.54 407.48,818.86 407.99,819.31 408.49,820.11 409.00,818.94" fill="none" stroke="#111" stroke-width="0.7" stroke-linejoin="round"/>
<rect x="234.4" y="797.20" width="215.50" height="37.70" fill="none" stroke="#555" stroke-width="0.8"/>
<rect x="452.4" y="797.20" width="215.60" height="37.70" fill="#fff"/>
<line x1="452.4" x2="668.0" y1="833.20" y2="833.20" stroke="#e2e2e2" stroke-width="0.55"/><line x1="452.4" x2="668.0" y1="828.37" y2="828.37" stroke="#efefef" stroke-width="0.55"/><line x1="452.4" x2="668.0" y1="823.54" y2="823.54" stroke="#e2e2e2" stroke-width="0.55"/><line x1="452.4" x2="668.0" y1="818.71" y2="818.71" stroke="#efefef" stroke-width="0.55"/><line x1="452.4" x2="668.0" y1="813.88" y2="813.88" stroke="#e2e2e2" stroke-width="0.55"/><line x1="452.4" x2="668.0" y1="809.05" y2="809.05" stroke="#efefef" stroke-width="0.55"/><line x1="452.4" x2="668.0" y1="804.22" y2="804.22" stroke="#e2e2e2" stroke-width="0.55"/><line x1="452.4" x2="668.0" y1="799.39" y2="799.39" stroke="#efefef" stroke-width="0.55"/><line x1="462.10" x2="462.10" y1="797.20" y2="834.90" stroke="#e2e2e2" stroke-width="0.55"/><line x1="489.20" x2="489.20" y1="797.20" y2="834.90" stroke="#efefef" stroke-width="0.55"/><line x1="516.30" x2="516.30" y1="797.20" y2="834.90" stroke="#e2e2e2" stroke-width="0.55"/><line x1="543.40" x2="543.40" y1="797.20" y2="834.90" stroke="#efefef" stroke-width="0.55"/><line x1="570.50" x2="570.50" y1="797.20" y2="834.90" stroke="#e2e2e2" stroke-width="0.55"/><line x1="597.60" x2="597.60" y1="797.20" y2="834.90" stroke="#efefef" stroke-width="0.55"/><line x1="624.70" x2="624.70" y1="797.20" y2="834.90" stroke="#e2e2e2" stroke-width="0.55"/><line x1="651.80" x2="651.80" y1="797.20" y2="834.90" stroke="#efefef" stroke-width="0.55"/>
<polygon points="462.10,833.20 462.10,818.45 462.64,817.90 463.19,818.63 463.73,818.21 464.28,818.63 464.82,817.52 465.36,818.76 465.91,817.84 466.45,819.14 467.00,816.92 467.54,816.76 468.09,817.64 468.63,817.39 469.17,817.43 469.72,817.13 470.26,818.09 470.81,818.23 471.35,819.45 471.89,818.26 472.44,817.50 472.98,820.07 473.53,818.50 474.07,819.91 474.61,819.68 475.16,817.11 475.70,818.24 476.25,818.13 476.79,816.60 477.34,818.19 477.88,817.22 478.42,818.00 478.97,817.15 479.51,819.16 480.06,818.22 480.60,818.78 481.14,818.07 481.69,818.55 482.23,818.49 482.78,818.97 483.32,818.43 483.86,819.01 484.41,817.66 484.95,819.51 485.50,817.85 486.04,818.45 486.59,817.11 487.13,819.01 487.67,818.62 488.22,818.95 488.76,820.57 489.31,812.57 489.85,818.83 490.39,817.64 490.94,817.85 491.48,817.77 492.03,818.52 492.57,816.80 493.11,818.11 493.66,816.46 494.20,817.74 494.75,818.85 495.29,817.16 495.84,824.77 496.38,818.88 496.92,814.67 497.47,820.73 498.01,818.05 498.56,818.03 499.10,816.86 499.64,817.30 500.19,817.31 500.73,816.18 501.28,818.62 501.82,816.54 502.36,816.26 502.91,816.71 503.45,817.52 504.00,819.06 504.54,817.17 505.09,817.86 505.63,818.31 506.17,815.98 506.72,821.30 507.26,816.47 507.81,816.81 508.35,816.99 508.89,817.94 509.44,819.58 509.98,816.59 510.53,817.45 511.07,818.96 511.61,817.47 512.16,818.46 512.70,821.08 513.25,817.87 513.79,817.61 514.34,818.56 514.88,822.98 515.42,818.06 515.97,817.71 516.51,818.49 517.06,818.15 517.60,818.83 518.14,818.83 518.69,818.69 519.23,818.71 519.78,818.40 520.32,817.94 520.86,816.95 521.41,818.49 521.95,818.25 522.50,817.10 523.04,817.58 523.59,818.02 524.13,817.45 524.67,816.72 525.22,816.46 525.76,816.41 526.31,816.48 526.85,817.45 527.39,816.98 527.94,817.94 528.48,817.91 529.03,817.39 529.57,817.70 530.11,815.37 530.66,817.44 531.20,817.43 531.75,818.05 532.29,818.16 532.84,816.99 533.38,817.26 533.92,818.85 534.47,816.89 535.01,816.62 535.56,819.79 536.10,817.17 536.64,818.23 537.19,818.73 537.73,817.94 538.28,816.58 538.82,818.51 539.36,817.49 539.91,816.31 540.45,818.22 541.00,817.56 541.54,818.07 542.09,818.10 542.63,819.07 543.17,819.20 543.72,819.68 544.26,818.16 544.81,818.05 545.35,816.91 545.89,818.47 546.44,818.06 546.98,816.58 547.53,816.73 548.07,816.71 548.61,816.84 549.16,815.68 549.70,817.49 550.25,817.52 550.79,818.01 551.34,817.24 551.88,818.23 552.42,818.12 552.97,816.03 553.51,817.18 554.06,818.09 554.60,815.93 555.14,816.97 555.69,818.52 556.23,819.54 556.78,818.66 557.32,817.44 557.86,818.74 558.41,818.95 558.95,819.78 559.50,819.69 560.04,819.12 560.59,820.54 561.13,818.18 561.67,817.79 562.22,819.05 562.76,818.90 563.31,817.59 563.85,823.54 564.39,818.95 564.94,820.28 565.48,818.48 566.03,819.37 566.57,819.06 567.11,817.42 567.66,816.83 568.20,818.41 568.75,819.01 569.29,818.23 569.84,818.94 570.38,818.98 570.92,820.76 571.47,816.94 572.01,817.97 572.56,817.46 573.10,817.53 573.64,817.53 574.19,817.43 574.73,818.63 575.28,817.95 575.82,817.82 576.36,817.26 576.91,818.42 577.45,817.02 578.00,818.32 578.54,816.56 579.09,817.52 579.63,816.08 580.17,818.36 580.72,818.43 581.26,819.81 581.81,818.83 582.35,818.73 582.89,817.31 583.44,817.86 583.98,817.80 584.53,814.31 585.07,817.13 585.61,817.08 586.16,816.64 586.70,818.56 587.25,817.51 587.79,816.90 588.34,817.79 588.88,817.91 589.42,818.05 589.97,817.89 590.51,818.77 591.06,811.46 591.60,819.79 592.14,816.92 592.69,815.73 593.23,816.59 593.78,816.18 594.32,816.72 594.86,813.88 595.41,818.42 595.95,818.02 596.50,816.63 597.04,817.98 597.59,820.18 598.13,820.62 598.67,818.27 599.22,819.12 599.76,818.63 600.31,817.33 600.85,817.51 601.39,816.73 601.94,816.78 602.48,818.85 603.03,819.15 603.57,818.89 604.11,819.22 604.66,818.20 605.20,818.51 605.75,816.31 606.29,818.44 606.84,818.37 607.38,816.80 607.92,819.34 608.47,819.57 609.01,817.95 609.56,818.36 610.10,817.81 610.64,817.69 611.19,817.93 611.73,818.86 612.28,816.83 612.82,814.58 613.36,818.25 613.91,819.21 614.45,819.37 615.00,818.30 615.54,818.84 616.09,821.01 616.63,818.27 617.17,818.44 617.72,819.45 618.26,819.00 618.81,818.22 619.35,819.98 619.89,818.60 620.44,817.77 620.98,818.59 621.53,818.39 622.07,819.04 622.61,817.80 623.16,818.69 623.70,817.56 624.25,817.12 624.79,816.57 625.34,816.61 625.88,816.72 626.42,817.44 626.97,818.34 627.51,818.10 628.06,817.95 628.60,820.30 629.14,818.61 629.69,817.89 630.23,812.00 630.78,818.02 631.32,817.88 631.86,816.55 632.41,817.69 632.95,818.09 633.50,817.29 634.04,818.37 634.59,816.90 635.13,817.81 635.67,817.64 636.22,817.68 636.76,817.81 637.31,817.52 637.85,818.49 638.39,816.98 638.94,819.42 639.48,817.27 640.03,818.55 640.57,816.08 641.11,818.81 641.66,817.21 642.20,817.88 642.75,818.37 643.29,818.35 643.84,819.26 644.38,817.93 644.92,823.54 645.47,816.22 646.01,819.09 646.56,817.76 647.10,817.79 647.10,833.20" fill="#dcdcdc"/>
<polyline points="462.10,818.45 462.64,817.90 463.19,818.63 463.73,818.21 464.28,818.63 464.82,817.52 465.36,818.76 465.91,817.84 466.45,819.14 467.00,816.92 467.54,816.76 468.09,817.64 468.63,817.39 469.17,817.43 469.72,817.13 470.26,818.09 470.81,818.23 471.35,819.45 471.89,818.26 472.44,817.50 472.98,820.07 473.53,818.50 474.07,819.91 474.61,819.68 475.16,817.11 475.70,818.24 476.25,818.13 476.79,816.60 477.34,818.19 477.88,817.22 478.42,818.00 478.97,817.15 479.51,819.16 480.06,818.22 480.60,818.78 481.14,818.07 481.69,818.55 482.23,818.49 482.78,818.97 483.32,818.43 483.86,819.01 484.41,817.66 484.95,819.51 485.50,817.85 486.04,818.45 486.59,817.11 487.13,819.01 487.67,818.62 488.22,818.95 488.76,820.57 489.31,812.57 489.85,818.83 490.39,817.64 490.94,817.85 491.48,817.77 492.03,818.52 492.57,816.80 493.11,818.11 493.66,816.46 494.20,817.74 494.75,818.85 495.29,817.16 495.84,824.77 496.38,818.88 496.92,814.67 497.47,820.73 498.01,818.05 498.56,818.03 499.10,816.86 499.64,817.30 500.19,817.31 500.73,816.18 501.28,818.62 501.82,816.54 502.36,816.26 502.91,816.71 503.45,817.52 504.00,819.06 504.54,817.17 505.09,817.86 505.63,818.31 506.17,815.98 506.72,821.30 507.26,816.47 507.81,816.81 508.35,816.99 508.89,817.94 509.44,819.58 509.98,816.59 510.53,817.45 511.07,818.96 511.61,817.47 512.16,818.46 512.70,821.08 513.25,817.87 513.79,817.61 514.34,818.56 514.88,822.98 515.42,818.06 515.97,817.71 516.51,818.49 517.06,818.15 517.60,818.83 518.14,818.83 518.69,818.69 519.23,818.71 519.78,818.40 520.32,817.94 520.86,816.95 521.41,818.49 521.95,818.25 522.50,817.10 523.04,817.58 523.59,818.02 524.13,817.45 524.67,816.72 525.22,816.46 525.76,816.41 526.31,816.48 526.85,817.45 527.39,816.98 527.94,817.94 528.48,817.91 529.03,817.39 529.57,817.70 530.11,815.37 530.66,817.44 531.20,817.43 531.75,818.05 532.29,818.16 532.84,816.99 533.38,817.26 533.92,818.85 534.47,816.89 535.01,816.62 535.56,819.79 536.10,817.17 536.64,818.23 537.19,818.73 537.73,817.94 538.28,816.58 538.82,818.51 539.36,817.49 539.91,816.31 540.45,818.22 541.00,817.56 541.54,818.07 542.09,818.10 542.63,819.07 543.17,819.20 543.72,819.68 544.26,818.16 544.81,818.05 545.35,816.91 545.89,818.47 546.44,818.06 546.98,816.58 547.53,816.73 548.07,816.71 548.61,816.84 549.16,815.68 549.70,817.49 550.25,817.52 550.79,818.01 551.34,817.24 551.88,818.23 552.42,818.12 552.97,816.03 553.51,817.18 554.06,818.09 554.60,815.93 555.14,816.97 555.69,818.52 556.23,819.54 556.78,818.66 557.32,817.44 557.86,818.74 558.41,818.95 558.95,819.78 559.50,819.69 560.04,819.12 560.59,820.54 561.13,818.18 561.67,817.79 562.22,819.05 562.76,818.90 563.31,817.59 563.85,823.54 564.39,818.95 564.94,820.28 565.48,818.48 566.03,819.37 566.57,819.06 567.11,817.42 567.66,816.83 568.20,818.41 568.75,819.01 569.29,818.23 569.84,818.94 570.38,818.98 570.92,820.76 571.47,816.94 572.01,817.97 572.56,817.46 573.10,817.53 573.64,817.53 574.19,817.43 574.73,818.63 575.28,817.95 575.82,817.82 576.36,817.26 576.91,818.42 577.45,817.02 578.00,818.32 578.54,816.56 579.09,817.52 579.63,816.08 580.17,818.36 580.72,818.43 581.26,819.81 581.81,818.83 582.35,818.73 582.89,817.31 583.44,817.86 583.98,817.80 584.53,814.31 585.07,817.13 585.61,817.08 586.16,816.64 586.70,818.56 587.25,817.51 587.79,816.90 588.34,817.79 588.88,817.91 589.42,818.05 589.97,817.89 590.51,818.77 591.06,811.46 591.60,819.79 592.14,816.92 592.69,815.73 593.23,816.59 593.78,816.18 594.32,816.72 594.86,813.88 595.41,818.42 595.95,818.02 596.50,816.63 597.04,817.98 597.59,820.18 598.13,820.62 598.67,818.27 599.22,819.12 599.76,818.63 600.31,817.33 600.85,817.51 601.39,816.73 601.94,816.78 602.48,818.85 603.03,819.15 603.57,818.89 604.11,819.22 604.66,818.20 605.20,818.51 605.75,816.31 606.29,818.44 606.84,818.37 607.38,816.80 607.92,819.34 608.47,819.57 609.01,817.95 609.56,818.36 610.10,817.81 610.64,817.69 611.19,817.93 611.73,818.86 612.28,816.83 612.82,814.58 613.36,818.25 613.91,819.21 614.45,819.37 615.00,818.30 615.54,818.84 616.09,821.01 616.63,818.27 617.17,818.44 617.72,819.45 618.26,819.00 618.81,818.22 619.35,819.98 619.89,818.60 620.44,817.77 620.98,818.59 621.53,818.39 622.07,819.04 622.61,817.80 623.16,818.69 623.70,817.56 624.25,817.12 624.79,816.57 625.34,816.61 625.88,816.72 626.42,817.44 626.97,818.34 627.51,818.10 628.06,817.95 628.60,820.30 629.14,818.61 629.69,817.89 630.23,812.00 630.78,818.02 631.32,817.88 631.86,816.55 632.41,817.69 632.95,818.09 633.50,817.29 634.04,818.37 634.59,816.90 635.13,817.81 635.67,817.64 636.22,817.68 636.76,817.81 637.31,817.52 637.85,818.49 638.39,816.98 638.94,819.42 639.48,817.27 640.03,818.55 640.57,816.08 641.11,818.81 641.66,817.21 642.20,817.88 642.75,818.37 643.29,818.35 643.84,819.26 644.38,817.93 644.92,823.54 645.47,816.22 646.01,819.09 646.56,817.76 647.10,817.79" fill="none" stroke="#111" stroke-width="0.7" stroke-linejoin="round"/>
<rect x="452.4" y="797.20" width="215.60" height="37.70" fill="none" stroke="#555" stroke-width="0.8"/>
<line x1="234.4" x2="234.4" y1="797.20" y2="834.90" stroke="#222" stroke-width="0.9"/>
<line x1="232.6" x2="234.4" y1="833.20" y2="833.20" stroke="#333" stroke-width="0.6"/>
<text x="232" y="835.60" font-size="6.8" text-anchor="end" fill="#4d4d4d">0</text>
<line x1="232.6" x2="234.4" y1="823.54" y2="823.54" stroke="#333" stroke-width="0.6"/>
<text x="232" y="825.94" font-size="6.8" text-anchor="end" fill="#4d4d4d">20</text>
<line x1="232.6" x2="234.4" y1="813.88" y2="813.88" stroke="#333" stroke-width="0.6"/>
<text x="232" y="816.28" font-size="6.8" text-anchor="end" fill="#4d4d4d">40</text>
<line x1="232.6" x2="234.4" y1="804.22" y2="804.22" stroke="#333" stroke-width="0.6"/>
<text x="232" y="806.62" font-size="6.8" text-anchor="end" fill="#4d4d4d">60</text>
<text transform="translate(670.7 816.05) rotate(90)" font-size="10.6" text-anchor="middle" fill="#1a1a1a">Chr7</text>
<line x1="244.10" x2="244.10" y1="834.6" y2="836.3" stroke="#333" stroke-width="0.6"/>
<text x="244.10" y="842" font-size="6.6" text-anchor="middle" fill="#4d4d4d">0</text>
<line x1="294.50" x2="294.50" y1="834.6" y2="836.3" stroke="#333" stroke-width="0.6"/>
<text x="294.50" y="842" font-size="6.6" text-anchor="middle" fill="#4d4d4d">100</text>
<line x1="344.90" x2="344.90" y1="834.6" y2="836.3" stroke="#333" stroke-width="0.6"/>
<text x="344.90" y="842" font-size="6.6" text-anchor="middle" fill="#4d4d4d">200</text>
<line x1="395.30" x2="395.30" y1="834.6" y2="836.3" stroke="#333" stroke-width="0.6"/>
<text x="395.30" y="842" font-size="6.6" text-anchor="middle" fill="#4d4d4d">300</text>
<line x1="445.70" x2="445.70" y1="834.6" y2="836.3" stroke="#333" stroke-width="0.6"/>
<text x="445.70" y="842" font-size="6.6" text-anchor="middle" fill="#4d4d4d">400</text>
<line x1="462.10" x2="462.10" y1="834.6" y2="836.3" stroke="#333" stroke-width="0.6"/>
<text x="462.10" y="842" font-size="6.6" text-anchor="middle" fill="#4d4d4d">0</text>
<line x1="516.30" x2="516.30" y1="834.6" y2="836.3" stroke="#333" stroke-width="0.6"/>
<text x="516.30" y="842" font-size="6.6" text-anchor="middle" fill="#4d4d4d">100</text>
<line x1="570.50" x2="570.50" y1="834.6" y2="836.3" stroke="#333" stroke-width="0.6"/>
<text x="570.50" y="842" font-size="6.6" text-anchor="middle" fill="#4d4d4d">200</text>
<line x1="624.70" x2="624.70" y1="834.6" y2="836.3" stroke="#333" stroke-width="0.6"/>
<text x="624.70" y="842" font-size="6.6" text-anchor="middle" fill="#4d4d4d">300</text>
<text x="451.3" y="851.8" font-size="10.9" text-anchor="middle" fill="#000">Base pair position in DH647 pseudo−chromosomes (Mb)</text>
<text transform="translate(221.5 696.8) rotate(-90)" font-size="10.8" text-anchor="middle" fill="#1a1a1a">ONT alignment depth</text>
</g>
</svg></body></html>
